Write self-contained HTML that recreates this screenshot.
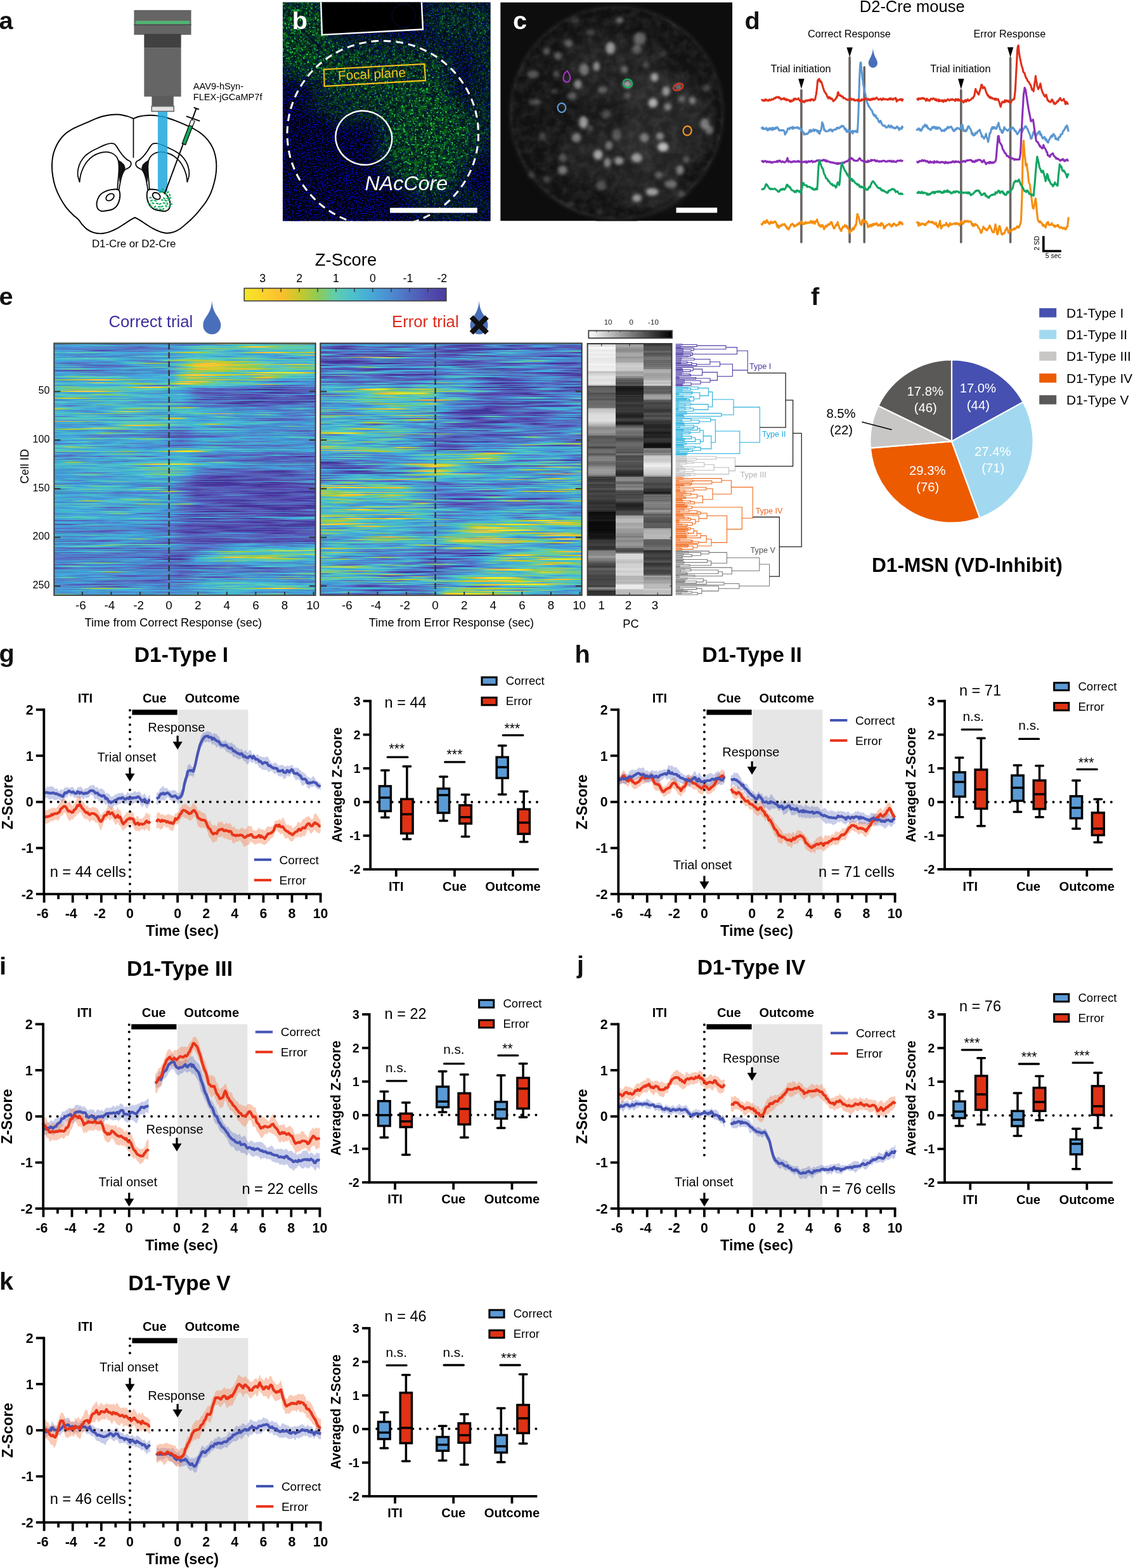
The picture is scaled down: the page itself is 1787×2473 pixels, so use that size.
<!DOCTYPE html>
<html lang="en"><head><meta charset="utf-8"><title>Figure</title>
<style>html,body{margin:0;padding:0;background:#fff}#fig{position:relative;width:1787px;height:2473px;overflow:hidden;background:#fff;font-family:'Liberation Sans',sans-serif}</style></head>
<body><div id="fig">
<style>.hm{position:absolute;overflow:hidden}.hm i{display:block;height:1.5344px}</style>
<div class="hm" style="left:85.3px;top:541.4px;width:412.3px;height:397.4px"><i style="background:linear-gradient(90deg,#5bc,#6ca,#7c8,#6c9,#6ca,#5cb,#5bc,#4bc,#5bc,#5bc,#5bc,#4bc,#5bc,#5cb,#5cb,#5cb,#5cb,#5cc,#5cb,#5cb,#7c7,#fc3,#fd3,#cc3,#8c5,#7c8,#5cb,#5cb,#6c9,#9c5,#9c4,#bc3,#ac4,#8c5)"></i><i style="background:linear-gradient(90deg,#55a,#55b,#57b,#58c,#49c,#48c,#56b,#55a,#54a,#55b,#57b,#57c,#57b,#56b,#56b,#56b,#55b,#55b,#55b,#55b,#56b,#58c,#4ad,#4bc,#5cb,#5cb,#4bc,#4ac,#4ad,#4ad,#49c,#58c,#57b,#48c)"></i><i style="background:linear-gradient(90deg,#4bc,#4ac,#4ad,#4ad,#4ad,#4bc,#4bc,#4bc,#4ad,#49c,#49c,#49c,#49d,#4ad,#4ad,#49c,#48c,#58c,#49d,#4bc,#4bc,#4ac,#4ac,#4bc,#5bc,#5cc,#5cb,#6ca,#7c8,#6c9,#7c7,#6c9,#5cb,#5bc)"></i><i style="background:linear-gradient(90deg,#58c,#49c,#49d,#4ad,#49d,#58c,#58c,#58c,#48c,#58c,#57c,#56b,#58c,#49c,#4ad,#4ad,#4bc,#5cb,#6ca,#6ca,#6ca,#5cb,#5cb,#6c9,#cc2,#fc3,#fc3,#dc3,#8c5,#6ca,#5cb,#5cb,#5cb,#5cc)"></i><i style="background:linear-gradient(90deg,#48c,#57c,#57c,#57c,#58c,#58c,#48c,#57c,#57c,#56b,#56b,#55b,#56b,#57b,#57c,#58c,#49c,#4ad,#4bc,#4bc,#4bc,#4ad,#4ac,#4bc,#5ca,#7c8,#7c8,#5cb,#5cb,#5cb,#5cb,#5cb,#5cc,#4bc)"></i><i style="background:linear-gradient(90deg,#48c,#48c,#48c,#58c,#58c,#58c,#48c,#49c,#48c,#57c,#56b,#57b,#57c,#57c,#57c,#49c,#4ad,#4bc,#5ca,#7c7,#8c7,#8c6,#7c7,#6c9,#5cb,#5bc,#5cb,#6ca,#7c8,#6ca,#6c9,#6c9,#6c9,#5cb)"></i><i style="background:linear-gradient(90deg,#48c,#57c,#57c,#56b,#56b,#57b,#57c,#56b,#56b,#56b,#57c,#58c,#48c,#57c,#57b,#56b,#57c,#58c,#49c,#49c,#49d,#4bc,#4bc,#4bc,#4bc,#4ad,#4bc,#4ad,#4bc,#4bc,#4bc,#4ad,#4ad,#4ad)"></i><i style="background:linear-gradient(90deg,#4ad,#4ad,#4ad,#4ad,#49c,#55b,#54a,#55b,#57c,#48c,#58c,#58c,#58c,#49c,#49d,#4ad,#4ad,#4ad,#4bc,#5cb,#6c9,#6ca,#4bc,#49d,#4ad,#5bc,#6ca,#5cb,#5bc,#4bc,#5bc,#5bc,#5cb,#5cb)"></i><i style="background:linear-gradient(90deg,#4ad,#49c,#58c,#57c,#58c,#49c,#49c,#49c,#48c,#57c,#56b,#56b,#57c,#58c,#49d,#4bc,#5bc,#5cb,#6c9,#5cb,#4bc,#4ad,#49d,#49d,#49c,#4ad,#4ad,#4bc,#4bc,#4bc,#4bc,#4bc,#4bc,#5cb)"></i><i style="background:linear-gradient(90deg,#5cb,#4bc,#5cc,#5cb,#5ca,#5cb,#5bc,#4bc,#4ad,#4ad,#4ad,#4ad,#4ad,#4bc,#5bc,#6c9,#ac4,#cc2,#cc3,#8c5,#6ca,#5bc,#5bc,#5bc,#7c8,#bc3,#fb3,#fc3,#fc3,#dc3,#9c4,#ac4,#bc3,#eb3)"></i><i style="background:linear-gradient(90deg,#49d,#49c,#49d,#4ad,#49d,#49c,#48c,#49d,#4ad,#4ad,#4ad,#49d,#4ad,#4ad,#49d,#49c,#49c,#4ad,#4bc,#5cb,#5cb,#5cc,#4bc,#4bc,#4bc,#4bc,#4ad,#4ad,#4bc,#4bc,#4bc,#4ad,#4ad,#4ad)"></i><i style="background:linear-gradient(90deg,#49d,#49c,#49c,#58c,#48c,#48c,#49d,#4ad,#4ad,#49c,#58c,#58c,#48c,#49d,#49d,#49d,#4ad,#4ad,#4bc,#4bc,#4bc,#5bc,#4bc,#4ad,#49c,#49c,#49c,#4ad,#4ac,#5bc,#5cb,#5cb,#5cb,#4bc)"></i><i style="background:linear-gradient(90deg,#4ad,#48c,#57c,#48c,#4ad,#4ac,#4ad,#49c,#57c,#57c,#57c,#49c,#4ad,#4ad,#49c,#48c,#4ad,#4bc,#5bc,#4bc,#4bc,#5bc,#5cb,#5bc,#4bc,#4bc,#4bc,#49d,#58c,#57c,#4ac,#8c6,#eb3,#dc3)"></i><i style="background:linear-gradient(90deg,#4bc,#4ad,#4ad,#48c,#58c,#58c,#48c,#48c,#48c,#49c,#4ac,#5bc,#5bc,#5cb,#5cb,#5bc,#5bc,#4bc,#4bc,#4bc,#4ad,#49c,#49c,#4ad,#4bc,#5bc,#4bc,#4ad,#49d,#4bc,#4bc,#4bc,#4ad,#49d)"></i><i style="background:linear-gradient(90deg,#48c,#48c,#58c,#48c,#48c,#48c,#58c,#48c,#48c,#49c,#48c,#49c,#49d,#4ad,#49c,#57c,#48c,#4ad,#5bc,#5cb,#5bc,#4bc,#4ad,#4bc,#4bc,#4bc,#4ad,#4ad,#4ad,#4ad,#49d,#49d,#4ad,#4ad)"></i><i style="background:linear-gradient(90deg,#4bc,#4bc,#5bc,#5bc,#5cc,#5bc,#5cb,#5bc,#4bc,#4ad,#49c,#58c,#58c,#48c,#49c,#4ad,#4bc,#5cb,#5cc,#5bc,#5cc,#5cb,#5ca,#7c8,#8c6,#7c8,#5cb,#4bc,#49d,#58c,#56b,#58c,#49d,#4bc)"></i><i style="background:linear-gradient(90deg,#4bc,#5cc,#5cb,#5cb,#5cc,#5cb,#5cb,#5cb,#4bc,#4bc,#4bc,#4bc,#4bc,#4bc,#4ad,#4ac,#5cb,#7c8,#6c9,#5cb,#5cb,#5cb,#5cb,#6c9,#6ca,#6ca,#6ca,#7c7,#8c6,#6c9,#5cb,#5cb,#6ca,#6ca)"></i><i style="background:linear-gradient(90deg,#4ad,#4ad,#4ac,#4ad,#49d,#49c,#4ad,#4bc,#4ac,#49d,#48c,#58c,#48c,#4ad,#5cb,#7c8,#bc3,#9c5,#ac4,#9c5,#8c7,#5cb,#4ac,#4ad,#4bc,#4ad,#4ad,#4ad,#4bc,#4bc,#4bc,#4ad,#4ad,#4ad)"></i><i style="background:linear-gradient(90deg,#49d,#4ad,#4ad,#4ad,#4ad,#4ad,#4ad,#4ac,#4ad,#49d,#58c,#57b,#58c,#49d,#7c8,#9c5,#6c9,#9c5,#dc3,#eb3,#dc3,#bc3,#9c5,#8c6,#8c6,#7c8,#5cb,#4ac,#49d,#4ad,#5bc,#6ca,#5cb,#4bc)"></i><i style="background:linear-gradient(90deg,#4ad,#49d,#48c,#58c,#58c,#58c,#57c,#57c,#49c,#4bc,#4bc,#4ad,#57c,#57b,#56b,#57c,#49d,#5bc,#6c9,#8c6,#9c5,#bc3,#bc3,#bc3,#ac4,#8c6,#6c9,#5cb,#5cb,#5bc,#4bc,#4bc,#4bc,#5cc)"></i><i style="background:linear-gradient(90deg,#58c,#56b,#56b,#56b,#57c,#49c,#49c,#49c,#49d,#4bc,#5cb,#7c8,#9c5,#8c5,#6c9,#4bc,#5bc,#6c9,#cc2,#fb3,#fc3,#eb3,#bc3,#7c7,#5ca,#6ca,#5cb,#5cc,#4ad,#4ad,#4ad,#4ad,#4ad,#4bc)"></i><i style="background:linear-gradient(90deg,#5bc,#4bc,#49d,#49c,#48c,#4ad,#4ad,#4ad,#49c,#49d,#49c,#48c,#57c,#57c,#49c,#4bc,#8c6,#cc2,#fb3,#fb3,#db3,#cc2,#cc3,#cc2,#dc3,#dc3,#dc3,#cc2,#cc2,#eb3,#fc3,#fc3,#fb3,#bc3)"></i><i style="background:linear-gradient(90deg,#49c,#49c,#48c,#57c,#56b,#55b,#55b,#56b,#57c,#48c,#4ad,#4bc,#4bc,#4bc,#4bc,#5bc,#7c7,#bc3,#fb3,#fc3,#fc3,#fc3,#eb3,#dc3,#ac4,#9c5,#7c8,#6ca,#5cb,#6c9,#7c7,#8c6,#6c9,#5cb)"></i><i style="background:linear-gradient(90deg,#4bc,#5cb,#5cb,#5bc,#4ad,#4ad,#48c,#57b,#55b,#56b,#56b,#57c,#57c,#48c,#48c,#49c,#5cb,#cc3,#fd3,#fc3,#eb3,#bc3,#9c5,#8c6,#9c5,#8c5,#8c5,#7c8,#5cb,#5bc,#4ac,#4ac,#4bc,#5bc)"></i><i style="background:linear-gradient(90deg,#48c,#49c,#49c,#58c,#56b,#56b,#56b,#57c,#57c,#48c,#49c,#4ad,#4bc,#6c9,#5cb,#48c,#4ad,#5cb,#bc3,#dc3,#dc3,#cc3,#ac4,#9c5,#9c4,#9c4,#7c8,#5bc,#5bc,#6ca,#9c5,#9c4,#8c5,#7c8)"></i><i style="background:linear-gradient(90deg,#4ad,#4ad,#49c,#49d,#4ad,#4ad,#4ad,#4ac,#4bc,#5cb,#5cc,#5bc,#4ad,#48c,#49c,#7c8,#db3,#ac4,#bc3,#bc3,#cc2,#dc3,#cc3,#bc3,#9c4,#9c4,#8c5,#7c7,#6c9,#5cb,#5cb,#5bc,#5cb,#5ca)"></i><i style="background:linear-gradient(90deg,#4ad,#5bc,#6ca,#7c8,#5bc,#4ad,#49c,#49d,#49d,#4ad,#49c,#49c,#49c,#49c,#49d,#4ad,#5cb,#9c5,#eb3,#eb3,#dc3,#cc3,#cc3,#dc3,#eb3,#dc3,#bc3,#8c5,#6c9,#6ca,#6c9,#7c7,#7c7,#8c6)"></i><i style="background:linear-gradient(90deg,#56b,#57b,#56b,#57b,#57b,#57c,#57c,#58c,#57c,#57b,#56b,#56b,#57c,#49c,#5bc,#6ca,#8c6,#8c6,#bc3,#dc3,#cc3,#bc3,#8c5,#8c7,#7c8,#5cb,#5bc,#4bc,#4bc,#5cc,#5cb,#5cb,#5bc,#4bc)"></i><i style="background:linear-gradient(90deg,#56b,#55b,#55b,#54a,#55a,#55a,#56b,#48c,#49c,#49c,#48c,#49d,#49c,#48c,#57c,#57c,#4ad,#5cb,#8c6,#8c6,#9c4,#bc3,#9c4,#7c8,#5bc,#4bc,#4bc,#5bc,#5cb,#5cb,#4bc,#4ad,#4ad,#49c)"></i><i style="background:linear-gradient(90deg,#4ad,#4ad,#4bc,#4bc,#4bc,#4ac,#4ad,#4ad,#4ad,#4ad,#4ad,#4bc,#4ad,#49d,#49c,#49d,#5cb,#8c5,#bc3,#ac4,#9c4,#9c5,#8c5,#8c6,#7c8,#5cb,#4bc,#5bc,#5cb,#7c8,#6ca,#5cb,#5bc,#4bc)"></i><i style="background:linear-gradient(90deg,#4ad,#4ad,#49d,#58c,#57c,#57c,#57c,#57c,#48c,#49c,#49c,#49c,#49c,#57c,#57c,#58c,#5bc,#8c6,#9c4,#6c9,#5cb,#4bc,#4bc,#4bc,#6ca,#bc3,#ed2,#ee2,#ee2,#ee2,#ee2,#fd2,#eb3,#ac4)"></i><i style="background:linear-gradient(90deg,#4ad,#4ad,#4ad,#4bc,#5cc,#5cb,#4bc,#49c,#57c,#56b,#56b,#58c,#49d,#4ad,#49d,#49c,#4ad,#5bc,#5cb,#5cb,#5cb,#5cb,#5cb,#4bc,#4ac,#4bc,#4ad,#4ac,#4ad,#4bc,#5cb,#5ca,#5cb,#4bc)"></i><i style="background:linear-gradient(90deg,#49c,#49d,#4ad,#49c,#48c,#57c,#58c,#58c,#49c,#49c,#49d,#4ad,#4ad,#4ac,#4ad,#5bc,#bc3,#fc3,#fc3,#fc3,#dc3,#cc2,#cc3,#cc3,#cc2,#dc3,#dc3,#cc3,#9c5,#8c6,#6c9,#6ca,#5cb,#4bc)"></i><i style="background:linear-gradient(90deg,#49c,#49d,#4bc,#4bc,#4bc,#4ad,#49c,#58c,#49c,#49d,#49d,#49c,#49d,#4ad,#5cc,#5ca,#cc2,#eb3,#fc3,#fb3,#fb3,#cc2,#9c4,#5cb,#4ac,#49d,#4ad,#5cb,#6c9,#5ca,#5bc,#5bc,#5bc,#4bc)"></i><i style="background:linear-gradient(90deg,#4bc,#5cb,#7c8,#7c7,#6ca,#5cb,#5bc,#5cb,#5cc,#4bc,#4ad,#4ad,#4ad,#4bc,#4ad,#4ad,#6c9,#8c7,#8c6,#5cb,#5cb,#4bc,#4bc,#5bc,#5cb,#6c9,#8c5,#bc3,#9c4,#6c9,#4bc,#4bc,#4ad,#4ad)"></i><i style="background:linear-gradient(90deg,#4ad,#4ad,#4bc,#5bc,#5cb,#6c9,#5cb,#5cb,#5bc,#5bc,#4ac,#4ad,#4ad,#4ad,#4ad,#4ad,#7c7,#cc3,#eb3,#cc3,#9c4,#8c6,#6c9,#5cb,#5bc,#8c6,#fb3,#eb3,#8c5,#5cb,#5cb,#5cb,#5cb,#5cc)"></i><i style="background:linear-gradient(90deg,#56b,#57c,#48c,#49d,#49c,#49c,#58c,#48c,#49c,#49d,#4ad,#4ad,#4bc,#5bc,#4ac,#49c,#5cc,#6c9,#7c8,#4bc,#4ad,#49c,#4ad,#4bc,#4ad,#48c,#57b,#57c,#58c,#48c,#58c,#57c,#56b,#55b)"></i><i style="background:linear-gradient(90deg,#7c8,#8c5,#ac4,#bc3,#eb3,#fc3,#fc3,#dc3,#ac4,#8c6,#7c7,#6ca,#5bc,#4bc,#4bc,#4bc,#6ca,#8c6,#8c5,#ac4,#bc3,#cc3,#ac4,#8c5,#8c6,#9c5,#9c5,#6ca,#4bc,#4ad,#4ad,#4bc,#4bc,#4bc)"></i><i style="background:linear-gradient(90deg,#49c,#49c,#49c,#49c,#49c,#4ad,#5bc,#5cb,#4bc,#49c,#58c,#57c,#58c,#49c,#4ad,#4ad,#5bc,#5cb,#6ca,#5ca,#4bc,#4ad,#49c,#49c,#49c,#4bc,#4bc,#5bc,#4ad,#49d,#49d,#49d,#49c,#48c)"></i><i style="background:linear-gradient(90deg,#4ad,#49d,#49d,#4ad,#4ad,#49d,#49d,#49d,#4ad,#4bc,#4bc,#4ad,#4ad,#4ad,#4bc,#5ca,#cc3,#fb3,#fb3,#dc3,#7c7,#5cb,#4bc,#4bc,#4ad,#4ad,#49c,#57b,#55b,#55b,#56b,#57c,#48c,#58c)"></i><i style="background:linear-gradient(90deg,#4bc,#5bc,#5bc,#5bc,#6ca,#fb3,#fd2,#bc3,#6ca,#5cc,#5bc,#4ad,#4bc,#4ac,#4bc,#4bc,#5cb,#6c9,#9c4,#9c4,#8c6,#6c9,#7c7,#9c4,#8c6,#5cb,#4ad,#49d,#4ad,#4ad,#4ad,#4ad,#49d,#49d)"></i><i style="background:linear-gradient(90deg,#5cb,#5bc,#4bc,#4bc,#4bc,#5cb,#5cb,#5cb,#5cb,#7c8,#9c4,#9c4,#8c6,#6ca,#5cb,#bc3,#fd2,#fc3,#bc3,#7c8,#6ca,#5cb,#5bc,#5cb,#5cb,#5ca,#5bc,#5bc,#4bc,#4bc,#4bc,#4ad,#49d,#48c)"></i><i style="background:linear-gradient(90deg,#4bc,#4bc,#4bc,#4bc,#4ad,#49d,#4ad,#4ad,#4bc,#5bc,#6ca,#7c7,#8c6,#6c9,#5ca,#5cb,#8c5,#ac4,#9c4,#7c7,#5cb,#5bc,#5bc,#5bc,#5cb,#7c8,#cc2,#eb3,#9c4,#5bc,#4ad,#49d,#49c,#49d)"></i><i style="background:linear-gradient(90deg,#49d,#49c,#49c,#4ad,#4ad,#4ad,#4ad,#49d,#49d,#4ad,#4ad,#49c,#57b,#56b,#56b,#57c,#4ad,#4bc,#5cb,#5cb,#5cb,#5cb,#5cb,#4bc,#4ac,#49d,#57c,#56b,#55b,#56b,#55b,#56b,#57c,#48c)"></i><i style="background:linear-gradient(90deg,#7c8,#9c4,#6ca,#5bc,#4bc,#4bc,#4bc,#5cb,#6ca,#6ca,#5cb,#4bc,#4bc,#5cb,#6c9,#7c7,#7c7,#5cb,#4bc,#4ad,#4ad,#49d,#49c,#58c,#57c,#48c,#49c,#4ad,#49d,#49c,#49c,#4ad,#4bc,#4ad)"></i><i style="background:linear-gradient(90deg,#4bc,#5ca,#8c6,#7c7,#5cb,#5cb,#5cb,#5cb,#5cb,#7c7,#bc3,#fc3,#fc3,#fc3,#bc3,#6ca,#4bc,#4ac,#4ad,#4ad,#4bc,#4ad,#49c,#58c,#57c,#57c,#56b,#54a,#54a,#54a,#55b,#55b,#56b,#55b)"></i><i style="background:linear-gradient(90deg,#5cb,#5bc,#4bc,#5cb,#6ca,#6c9,#6ca,#5cb,#5cb,#5bc,#5bc,#5bc,#5cc,#5cb,#6c9,#6ca,#4bc,#58c,#55a,#55a,#56b,#56b,#56b,#57c,#48c,#49d,#49d,#49c,#48c,#48c,#58c,#48c,#57c,#57c)"></i><i style="background:linear-gradient(90deg,#4bc,#6ca,#8c5,#8c5,#8c5,#7c8,#8c6,#7c7,#7c8,#5cb,#5cb,#6ca,#5ca,#5cb,#4bc,#4bc,#4bc,#4ad,#57c,#56b,#56b,#55b,#56b,#55b,#54a,#439,#439,#439,#449,#54a,#55b,#55b,#55a,#55a)"></i><i style="background:linear-gradient(90deg,#5cc,#5bc,#4ad,#4ac,#4bc,#4bc,#4ad,#4ad,#4ad,#4ad,#4bc,#5cc,#5cb,#5cb,#4bc,#49d,#48c,#57c,#56b,#55b,#55a,#54a,#54a,#54a,#54a,#54a,#54a,#449,#439,#44a,#55a,#56b,#57b,#56b)"></i><i style="background:linear-gradient(90deg,#6c9,#9c4,#dc3,#fc3,#fc3,#fc3,#dc3,#ac4,#8c6,#6ca,#5cb,#4bc,#4ad,#49d,#49c,#49d,#49d,#48c,#57b,#57c,#57c,#57c,#57c,#57c,#48c,#49d,#4ad,#49c,#57c,#56b,#55a,#55a,#55b,#56b)"></i><i style="background:linear-gradient(90deg,#5cc,#5bc,#4bc,#5bc,#5cc,#5cb,#5cb,#5bc,#4ad,#49c,#49c,#4ad,#5cb,#5cb,#4bc,#4ad,#49c,#57c,#55b,#55a,#57b,#57c,#58c,#56b,#55a,#449,#439,#439,#449,#55b,#56b,#57c,#48c,#48c)"></i><i style="background:linear-gradient(90deg,#4ad,#4ad,#49d,#49c,#49c,#49c,#49d,#4ac,#5bc,#4bc,#4ad,#49c,#49c,#58c,#48c,#49c,#49c,#57c,#55a,#54a,#54a,#54a,#55b,#57b,#48c,#57c,#56b,#44a,#439,#439,#439,#44a,#55b,#57c)"></i><i style="background:linear-gradient(90deg,#5cb,#6ca,#5bc,#4bc,#4bc,#7c8,#9c4,#8c5,#5cb,#5bc,#4bc,#4bc,#4ad,#4ad,#4bc,#5bc,#5cc,#4ad,#57c,#56b,#56b,#56b,#56b,#55a,#54a,#54a,#55b,#57b,#58c,#58c,#58c,#48c,#49d,#4ad)"></i><i style="background:linear-gradient(90deg,#4bc,#5cb,#5cb,#5cb,#5cb,#5cb,#5cb,#7c7,#9c5,#8c5,#5cb,#5bc,#4bc,#4ad,#49d,#49d,#4ad,#49c,#57b,#56b,#54a,#439,#439,#55a,#55b,#55b,#54a,#54a,#55a,#56b,#56b,#55a,#54a,#439)"></i><i style="background:linear-gradient(90deg,#4ad,#4bc,#5cb,#6c9,#5cb,#5bc,#4ad,#4ad,#4ad,#4bc,#4bc,#5cb,#5bc,#5bc,#4bc,#4bc,#4ad,#49c,#58c,#57c,#58c,#48c,#58c,#56b,#55a,#55a,#55b,#57b,#57c,#58c,#56b,#54a,#449,#449)"></i><i style="background:linear-gradient(90deg,#4ad,#4bc,#4ad,#49c,#48c,#49c,#49d,#49d,#49c,#49c,#49d,#4ad,#4bc,#4bc,#4ad,#49d,#4ac,#4ad,#57c,#54a,#439,#439,#449,#44a,#54a,#54a,#54a,#449,#44a,#54a,#55a,#55b,#55b,#56b)"></i><i style="background:linear-gradient(90deg,#8c6,#bc3,#dc3,#cc2,#ac4,#6c9,#5cb,#5cb,#5cb,#5cb,#4bc,#4ad,#4ad,#4ad,#4bc,#4bc,#4bc,#4ad,#49c,#58c,#57c,#56b,#57b,#56b,#55b,#449,#44a,#54a,#56b,#56b,#56b,#56b,#55b,#54a)"></i><i style="background:linear-gradient(90deg,#4ad,#4bc,#4bc,#4ad,#49d,#49c,#49c,#48c,#48c,#48c,#48c,#58c,#57c,#58c,#48c,#4ad,#4ad,#48c,#54a,#439,#439,#439,#439,#439,#439,#439,#439,#439,#54a,#54a,#54a,#439,#439,#449)"></i><i style="background:linear-gradient(90deg,#48c,#48c,#49d,#4ad,#4ad,#4bc,#4bc,#4bc,#5cb,#5bc,#5bc,#4ad,#4ac,#4ad,#4bc,#4ac,#4ad,#48c,#56b,#55b,#56b,#57b,#57c,#48c,#58c,#48c,#58c,#58c,#56b,#56b,#56b,#57b,#57c,#57c)"></i><i style="background:linear-gradient(90deg,#4bc,#4ad,#4ac,#5bc,#6c9,#8c6,#7c8,#5cb,#5cb,#6ca,#6ca,#4bc,#4ad,#49d,#4ad,#4ad,#5cc,#5cc,#4bc,#4ad,#48c,#57c,#58c,#58c,#56b,#55a,#449,#54a,#55b,#56b,#55b,#55a,#55a,#56b)"></i><i style="background:linear-gradient(90deg,#5bc,#5cc,#4bc,#4ad,#49d,#49c,#49d,#4ad,#4ad,#4ad,#48c,#58c,#57c,#58c,#48c,#49c,#57c,#56b,#55a,#56b,#57c,#57c,#56b,#54a,#439,#439,#439,#54a,#44a,#44a,#439,#449,#449,#439)"></i><i style="background:linear-gradient(90deg,#5cb,#5cb,#5bc,#4bc,#4bc,#5bc,#5cb,#5cb,#5cb,#5bc,#5bc,#4bc,#4ad,#49c,#48c,#57c,#57c,#57c,#57c,#57c,#56b,#54a,#449,#44a,#55a,#56b,#57c,#56b,#55a,#54a,#56b,#58c,#49c,#4ad)"></i><i style="background:linear-gradient(90deg,#49d,#4ad,#49d,#49c,#49c,#4ad,#4bc,#4bc,#4ad,#49c,#49d,#4ad,#4bc,#5cb,#6c9,#7c8,#5cb,#4ad,#48c,#57c,#57c,#55a,#54a,#439,#439,#55a,#56b,#55b,#55a,#54a,#54a,#55b,#57c,#57c)"></i><i style="background:linear-gradient(90deg,#4bc,#4bc,#4bc,#4bc,#5bc,#5ca,#7c7,#9c5,#7c8,#5cb,#5cb,#5cb,#5ca,#5cb,#5bc,#4ad,#49d,#49c,#4ad,#4bc,#4bc,#4bc,#4bc,#4bc,#4ad,#48c,#57c,#57c,#48c,#49c,#49d,#49c,#58c,#57b)"></i><i style="background:linear-gradient(90deg,#4ad,#58c,#56b,#58c,#49c,#4ad,#49d,#4ad,#4bc,#4bc,#4ad,#49c,#49c,#49c,#49d,#49c,#49c,#48c,#57c,#56b,#55b,#55b,#55b,#55b,#54a,#54a,#54a,#55b,#57b,#58c,#48c,#58c,#58c,#57c)"></i><i style="background:linear-gradient(90deg,#49d,#4ad,#4ad,#4bc,#5cb,#5cb,#5bc,#4ad,#4ad,#4bc,#4bc,#4bc,#4ad,#49d,#49c,#48c,#57c,#56b,#56b,#56b,#57c,#57c,#48c,#49c,#58c,#57c,#57c,#48c,#49d,#49d,#49c,#57b,#55a,#54a)"></i><i style="background:linear-gradient(90deg,#5cb,#5cb,#5bc,#4bc,#4ac,#4ad,#49d,#4ac,#4bc,#5cb,#5cb,#6ca,#6ca,#7c8,#6ca,#7c7,#ac4,#bc3,#5cb,#49d,#48c,#48c,#58c,#48c,#49c,#4ad,#48c,#57c,#57b,#58c,#48c,#49c,#49c,#48c)"></i><i style="background:linear-gradient(90deg,#cc3,#ac4,#5ca,#5bc,#4ad,#4ad,#49d,#4ac,#5cb,#7c7,#9c4,#8c6,#6c9,#5cb,#5cb,#5cb,#5cb,#4bc,#4ac,#4ac,#4bc,#4bc,#4ad,#48c,#58c,#57c,#57c,#57c,#48c,#4ad,#4bc,#5cb,#4bc,#49d)"></i><i style="background:linear-gradient(90deg,#58c,#49c,#49d,#4ad,#4ad,#4ad,#4ad,#4ad,#49d,#48c,#58c,#57c,#58c,#49c,#49c,#49c,#49c,#4ad,#4ad,#4ad,#49c,#58c,#57b,#56b,#56b,#57b,#57b,#56b,#55a,#55a,#55a,#55b,#55b,#56b)"></i><i style="background:linear-gradient(90deg,#4bc,#4ad,#49c,#58c,#48c,#49d,#4bc,#5bc,#5cb,#5cb,#5ca,#5cb,#5bc,#4bc,#5bc,#5cb,#5cb,#5cc,#4bc,#4bc,#4bc,#4ac,#49d,#48c,#49c,#49d,#4ad,#49d,#48c,#57c,#58c,#49c,#48c,#58c)"></i><i style="background:linear-gradient(90deg,#5bc,#4bc,#4ac,#49d,#48c,#48c,#49d,#5cb,#cc3,#fd3,#fc3,#ac4,#5cb,#4bc,#4ac,#4bc,#4bc,#4bc,#4ad,#49d,#49c,#4ad,#4ac,#4ac,#49c,#48c,#58c,#58c,#48c,#48c,#48c,#48c,#58c,#57b)"></i><i style="background:linear-gradient(90deg,#4bc,#5bc,#4bc,#4bc,#4ad,#49d,#49c,#4ad,#4bc,#4bc,#4bc,#4ad,#49c,#48c,#49c,#4ac,#5cb,#5ca,#5cb,#4bc,#4ad,#49d,#49d,#49c,#49c,#4ad,#4bc,#5bc,#4bc,#49c,#58c,#57c,#58c,#56b)"></i><i style="background:linear-gradient(90deg,#5cc,#5cb,#5ca,#8c7,#9c5,#9c4,#ac4,#ac4,#9c4,#7c7,#5cb,#5bc,#4bc,#4bc,#4ac,#4ad,#4ad,#5bc,#7c8,#bc3,#eb3,#fb3,#dc3,#7c7,#4bc,#48c,#57c,#56b,#56b,#55b,#56b,#49c,#4bc,#4bc)"></i><i style="background:linear-gradient(90deg,#4ad,#4bc,#4ad,#4ac,#4ad,#4ad,#49d,#49c,#48c,#49c,#49d,#49c,#48c,#48c,#49c,#49d,#4ad,#4ac,#4bc,#4ac,#4ad,#49d,#4ad,#49c,#4ad,#4bc,#6ca,#6ca,#4ad,#48c,#58c,#48c,#58c,#58c)"></i><i style="background:linear-gradient(90deg,#5bc,#5bc,#4bc,#5cb,#5cb,#5ca,#4bc,#4bc,#4bc,#5cb,#5cb,#6ca,#6c9,#7c7,#6c9,#5cb,#4ad,#4ad,#4ac,#4ac,#4ad,#58c,#58c,#58c,#48c,#58c,#48c,#49c,#4ad,#48c,#56b,#55b,#55b,#55b)"></i><i style="background:linear-gradient(90deg,#48c,#48c,#49d,#4bc,#5cb,#5bc,#4bc,#49d,#48c,#57c,#49c,#4ad,#5bc,#4bc,#4ad,#49c,#49c,#48c,#49c,#49d,#4bc,#6c9,#4bc,#48c,#58c,#48c,#49c,#49c,#48c,#58c,#57c,#58c,#4ad,#5bc)"></i><i style="background:linear-gradient(90deg,#5cb,#6c9,#5cb,#4bc,#4ad,#4ad,#4bc,#5cb,#5cb,#5cb,#5cb,#5cb,#5cb,#5ca,#7c8,#7c7,#6ca,#5bc,#4ad,#4ad,#4ad,#5cb,#5ca,#5cb,#4ad,#4ad,#4ad,#4bc,#4bc,#4bc,#4ad,#4ac,#4ad,#4ad)"></i><i style="background:linear-gradient(90deg,#4bc,#5cb,#5cb,#5cb,#5cb,#5cb,#5cb,#5cb,#5cb,#5cb,#5cb,#5cb,#4bc,#5bc,#7c7,#eb3,#bc3,#4bc,#4ad,#49c,#49c,#49c,#49c,#49c,#48c,#58c,#56b,#56b,#56b,#56b,#57c,#57c,#58c,#48c)"></i><i style="background:linear-gradient(90deg,#5bc,#5cb,#5cb,#5cb,#5bc,#4bc,#49d,#4ad,#4ad,#5bc,#5bc,#4bc,#4ad,#49d,#4bc,#5bc,#4bc,#4bc,#4bc,#5bc,#5cc,#4bc,#49d,#49c,#49c,#4ad,#49c,#58c,#56b,#55b,#55a,#55b,#57c,#58c)"></i><i style="background:linear-gradient(90deg,#49d,#49d,#49d,#49d,#49d,#4ad,#49d,#49d,#49c,#49d,#49d,#49d,#49c,#49d,#4ad,#4ad,#4ad,#4ad,#49d,#48c,#49d,#4ad,#4ac,#4ad,#49c,#57c,#56b,#55b,#55b,#56b,#56b,#57c,#48c,#49d)"></i><i style="background:linear-gradient(90deg,#fc3,#eb3,#dc3,#ac4,#ac4,#8c6,#7c8,#5cb,#5bc,#5cb,#6c9,#7c8,#5cb,#5cc,#5bc,#5cb,#4bc,#4ad,#49c,#4ad,#4ad,#4bc,#5bc,#5bc,#4bc,#4ad,#4ad,#4ac,#4bc,#4ac,#4ad,#49c,#48c,#58c)"></i><i style="background:linear-gradient(90deg,#49c,#4ad,#4ad,#4bc,#49c,#49d,#4ad,#5cb,#5cb,#6ca,#6ca,#6c9,#6ca,#6c9,#5cb,#5bc,#4bc,#4bc,#4bc,#4ad,#4bc,#5bc,#4bc,#4bc,#4ad,#4ac,#4bc,#5bc,#4bc,#4ad,#49d,#49d,#49c,#49c)"></i><i style="background:linear-gradient(90deg,#4ac,#4bc,#4bc,#5bc,#4bc,#5bc,#4bc,#4ad,#4ac,#5bc,#5ca,#5cb,#4bc,#4ad,#49c,#49d,#49c,#4ad,#4ad,#4bc,#4bc,#4bc,#4bc,#4bc,#5bc,#5cb,#5cb,#4bc,#49c,#48c,#49c,#4ad,#4ad,#4ad)"></i><i style="background:linear-gradient(90deg,#49d,#49c,#49c,#49c,#49c,#48c,#48c,#4ad,#5bc,#5cb,#5cb,#5cb,#7c8,#8c6,#7c7,#6ca,#5bc,#4bc,#5cb,#8c5,#dc3,#8c5,#5bc,#4ad,#4bc,#4bc,#4ad,#49d,#48c,#58c,#58c,#48c,#4ad,#4ac)"></i><i style="background:linear-gradient(90deg,#4ad,#49d,#49d,#4ad,#4ad,#49c,#49c,#4ad,#5cb,#bc3,#fc3,#fb3,#cc2,#9c5,#6c9,#5cb,#5bc,#4bc,#4bc,#4bc,#4ad,#4ad,#4ad,#4ad,#49c,#48c,#58c,#49c,#49c,#49d,#49c,#48c,#58c,#58c)"></i><i style="background:linear-gradient(90deg,#49c,#57c,#48c,#49d,#4ac,#4bc,#4ad,#49c,#49c,#4ac,#4bc,#5cb,#5bc,#5bc,#4bc,#4ad,#4ad,#4bc,#4ad,#49c,#57c,#57c,#48c,#49d,#49c,#57c,#56b,#57c,#48c,#5cc,#9c5,#5cb,#4ad,#4ad)"></i><i style="background:linear-gradient(90deg,#4bc,#4ad,#4ad,#49d,#4ad,#5bc,#5ca,#7c8,#6c9,#5cb,#4bc,#4ad,#49d,#4ad,#49c,#58c,#57c,#48c,#4ad,#4ad,#48c,#57c,#56b,#56b,#57c,#48c,#49d,#49c,#48c,#48c,#48c,#49c,#49c,#48c)"></i><i style="background:linear-gradient(90deg,#49c,#49d,#4ad,#5cb,#bc3,#fc3,#fc3,#cc3,#6ca,#5bc,#4ad,#4ad,#49c,#49d,#49d,#49c,#58c,#48c,#4ad,#4ac,#4bc,#4bc,#4ad,#58c,#57c,#57c,#49c,#49d,#4ad,#49c,#58c,#57c,#58c,#49c)"></i><i style="background:linear-gradient(90deg,#5cb,#8c5,#bc3,#9c4,#7c8,#5cb,#5cc,#5cb,#6c9,#7c8,#5ca,#5cb,#5cc,#5bc,#5bc,#4bc,#4bc,#4bc,#5bc,#5bc,#5cb,#5cb,#5cb,#5bc,#4bc,#4ad,#49d,#48c,#58c,#48c,#49c,#49d,#49c,#4ad)"></i><i style="background:linear-gradient(90deg,#57c,#48c,#49c,#49c,#48c,#58c,#57c,#56b,#56b,#56b,#57c,#58c,#57c,#56b,#55a,#55a,#55a,#55b,#57c,#57c,#57c,#56b,#56b,#57c,#58c,#57c,#57c,#57c,#57c,#57c,#57c,#57b,#57b,#57b)"></i><i style="background:linear-gradient(90deg,#5bc,#4bc,#49c,#48c,#49c,#4ad,#4ad,#49c,#58c,#48c,#49d,#4ad,#49c,#48c,#57c,#57c,#56b,#57c,#49c,#4ad,#4ad,#4bc,#4bc,#4bc,#4ad,#49d,#49c,#49c,#58c,#57c,#56b,#55a,#55a,#57c)"></i><i style="background:linear-gradient(90deg,#49d,#49d,#4ad,#4bc,#4bc,#4bc,#4ad,#48c,#56b,#56b,#57b,#57c,#48c,#48c,#48c,#48c,#48c,#4ad,#5bc,#5cc,#5bc,#4bc,#4ad,#49c,#58c,#57c,#57c,#48c,#4ad,#4bc,#4bc,#4ad,#4ad,#4ad)"></i><i style="background:linear-gradient(90deg,#49c,#4bc,#4bc,#4ad,#4ad,#4bc,#7c7,#8c6,#6c9,#5cb,#5bc,#4ad,#57c,#57b,#56b,#56b,#55b,#56b,#57c,#48c,#49c,#49c,#49c,#49d,#49c,#48c,#49c,#48c,#49c,#49c,#48c,#58c,#57c,#57c)"></i><i style="background:linear-gradient(90deg,#4ad,#4bc,#5cb,#5bc,#5cb,#5cb,#5cb,#4bc,#4ad,#4ad,#4bc,#4bc,#4bc,#4ad,#4ad,#48c,#57b,#56b,#58c,#58c,#49c,#49c,#49d,#49c,#49d,#49d,#4ac,#4bc,#5bc,#4ad,#49c,#58c,#49c,#49d)"></i><i style="background:linear-gradient(90deg,#4ad,#4ad,#4ad,#49d,#58c,#57c,#58c,#58c,#58c,#57c,#56b,#56b,#56b,#56b,#56b,#57b,#56b,#57c,#49c,#48c,#58c,#57c,#58c,#48c,#49c,#58c,#58c,#58c,#48c,#49c,#49c,#49c,#58c,#56b)"></i><i style="background:linear-gradient(90deg,#48c,#49c,#49c,#49c,#48c,#58c,#57b,#57b,#57b,#57b,#57b,#57c,#58c,#58c,#56b,#55b,#54a,#54a,#54a,#54a,#56b,#58c,#48c,#58c,#58c,#57c,#48c,#48c,#48c,#48c,#58c,#57c,#56b,#56b)"></i><i style="background:linear-gradient(90deg,#4ad,#4ad,#4ad,#4ad,#49c,#58c,#57b,#57c,#58c,#48c,#49c,#48c,#48c,#57c,#56b,#55a,#55a,#55b,#56b,#56b,#55b,#56b,#57c,#49c,#4ad,#4ad,#4ad,#4ad,#4bc,#4bc,#5cb,#5bc,#4bc,#49d)"></i><i style="background:linear-gradient(90deg,#49d,#4ad,#4ad,#4ad,#49d,#4ad,#4ad,#4bc,#4ad,#4ad,#4ad,#49d,#58c,#56b,#55a,#55a,#55b,#56b,#57c,#49c,#49d,#4bc,#5bc,#5cb,#5bc,#4bc,#4ad,#49c,#49c,#49d,#4bc,#5cb,#5ca,#4bc)"></i><i style="background:linear-gradient(90deg,#4bc,#4bc,#4bc,#5cb,#6c9,#7c7,#5cb,#4bc,#4bc,#5cb,#7c8,#7c7,#8c6,#6c9,#5cb,#4ad,#49c,#49d,#4ad,#4bc,#4ad,#4ad,#49c,#4ad,#48c,#57c,#57c,#49d,#4ad,#49d,#48c,#48c,#49d,#49c)"></i><i style="background:linear-gradient(90deg,#4ad,#4ad,#4ad,#49d,#49d,#49c,#49c,#58c,#58c,#49c,#4ad,#5bc,#5bc,#4bc,#49d,#48c,#57c,#49c,#4ad,#4ad,#4ad,#4ad,#4ad,#4ac,#4bc,#4ad,#4ad,#49c,#49c,#48c,#48c,#58c,#58c,#58c)"></i><i style="background:linear-gradient(90deg,#49c,#48c,#48c,#49d,#4ad,#4bc,#4bc,#4bc,#4bc,#4bc,#4ad,#49d,#49c,#48c,#57c,#56b,#54a,#55a,#57b,#5bc,#7c8,#4bc,#48c,#57c,#57c,#58c,#58c,#48c,#49c,#4ad,#4ad,#49d,#49c,#58c)"></i><i style="background:linear-gradient(90deg,#48c,#4ad,#5cc,#5cb,#5cb,#4ac,#49d,#49d,#4ad,#4ad,#4ad,#4ad,#4ac,#4bc,#4ad,#48c,#57c,#58c,#49c,#49c,#48c,#48c,#58c,#48c,#58c,#58c,#57c,#58c,#49c,#4ad,#4ac,#4ad,#49d,#58c)"></i><i style="background:linear-gradient(90deg,#4ad,#4ad,#49d,#49d,#48c,#58c,#48c,#49d,#4bc,#4ac,#49d,#58c,#57c,#58c,#48c,#58c,#48c,#49d,#4bc,#4ad,#49c,#57c,#56b,#56b,#58c,#4bc,#6ca,#4bc,#49c,#48c,#48c,#58c,#57c,#57c)"></i><i style="background:linear-gradient(90deg,#57c,#57c,#48c,#49d,#4ad,#49d,#49d,#4ad,#4ad,#49c,#58c,#58c,#49d,#4ad,#4ad,#48c,#48c,#48c,#49d,#4ad,#4bc,#4bc,#4bc,#4bc,#4ac,#4ad,#49d,#49d,#4ad,#4ac,#4ad,#49d,#48c,#57c)"></i><i style="background:linear-gradient(90deg,#49c,#4ad,#5bc,#4bc,#4bc,#4ad,#4bc,#5cb,#5cb,#5cb,#5bc,#4ad,#49d,#58c,#57c,#57b,#56b,#56b,#56b,#56b,#56b,#57b,#57c,#48c,#48c,#58c,#48c,#48c,#58c,#56b,#56b,#56b,#48c,#58c)"></i><i style="background:linear-gradient(90deg,#6c9,#5cb,#5bc,#4bc,#5cb,#5cb,#5bc,#4ad,#49c,#49c,#4ad,#49d,#49c,#58c,#57c,#55b,#55b,#56b,#48c,#48c,#57b,#56b,#56b,#56b,#57b,#56b,#57b,#56b,#56b,#57b,#58c,#49c,#4ad,#49d)"></i><i style="background:linear-gradient(90deg,#5bc,#5cb,#dc3,#7c8,#49c,#56b,#56b,#57b,#58c,#49d,#4ad,#4ad,#48c,#58c,#48c,#49c,#4ad,#4ad,#4bc,#5cb,#5ca,#5cb,#4bc,#49d,#49d,#4ad,#49d,#58c,#57c,#57c,#49c,#4ad,#4ac,#4ad)"></i><i style="background:linear-gradient(90deg,#4bc,#5bc,#6c9,#7c8,#7c8,#5cb,#4bc,#4ad,#49c,#57c,#58c,#57c,#48c,#48c,#49c,#58c,#58c,#48c,#49d,#4ac,#4bc,#4ad,#49c,#57c,#57b,#57c,#48c,#49c,#49c,#49c,#49c,#49d,#49c,#57c)"></i><i style="background:linear-gradient(90deg,#49c,#49c,#4ad,#4ad,#4ad,#4ad,#4ad,#49d,#49c,#4ad,#49d,#4ad,#48c,#4ad,#4bc,#5ca,#8c5,#7c8,#5bc,#49d,#49c,#49d,#4ad,#4ad,#49c,#49c,#49c,#49c,#48c,#58c,#57b,#57b,#48c,#4ad)"></i><i style="background:linear-gradient(90deg,#5cb,#5cb,#4bc,#4ad,#4ad,#4ad,#4ad,#4bc,#4bc,#4bc,#4ad,#4ad,#49d,#4ad,#4ad,#4ad,#4ad,#4bc,#5bc,#5cb,#5cb,#4bc,#5bc,#5bc,#5bc,#4bc,#4ac,#4bc,#4bc,#5bc,#4bc,#4ad,#4ad,#4ad)"></i><i style="background:linear-gradient(90deg,#4bc,#4bc,#4bc,#4bc,#4bc,#4bc,#4ad,#49d,#49d,#4ad,#4bc,#4bc,#4bc,#4bc,#4bc,#5cb,#9c5,#cc2,#ac4,#5cb,#4bc,#4ad,#4ad,#49d,#49c,#48c,#49c,#48c,#49c,#49c,#4ad,#4ad,#4ad,#4ad)"></i><i style="background:linear-gradient(90deg,#5cb,#6ca,#7c8,#7c8,#6ca,#5cb,#5cb,#6ca,#6ca,#8c5,#7c7,#4bc,#4bc,#5ca,#9c4,#eb3,#fd2,#ee2,#fc3,#8c6,#4ad,#58c,#49c,#4ad,#4bc,#4bc,#4ad,#49c,#48c,#48c,#48c,#49c,#4ad,#4bc)"></i><i style="background:linear-gradient(90deg,#55b,#56b,#57c,#58c,#58c,#48c,#49c,#48c,#58c,#57b,#57b,#57b,#57c,#49c,#4ad,#4bc,#4bc,#4bc,#49c,#49c,#49c,#48c,#57c,#56b,#57b,#56b,#56b,#55b,#57b,#57c,#49c,#58c,#57c,#55b)"></i><i style="background:linear-gradient(90deg,#4bc,#4ac,#49d,#48c,#48c,#49d,#4ad,#4bc,#4bc,#4bc,#4ad,#4ad,#4ad,#4ad,#4ad,#4ad,#4ad,#49c,#58c,#48c,#49c,#49c,#48c,#48c,#48c,#48c,#57c,#56b,#56b,#56b,#56b,#57b,#57c,#57c)"></i><i style="background:linear-gradient(90deg,#4ad,#4ad,#49d,#4ad,#4ad,#4bc,#5cb,#7c8,#8c5,#8c6,#8c6,#6ca,#5cc,#4ad,#49d,#49c,#4ad,#49c,#49c,#58c,#58c,#57b,#57c,#57c,#57c,#56b,#56b,#55b,#56b,#55a,#54a,#54a,#55b,#56b)"></i><i style="background:linear-gradient(90deg,#48c,#57c,#56b,#58c,#49c,#4ad,#4ad,#4ad,#4ad,#4ad,#4ad,#4ac,#4bc,#4ad,#4ad,#4ad,#4ac,#4ad,#49c,#57c,#56b,#56b,#56b,#56b,#55b,#55b,#56b,#49c,#4bc,#4ad,#48c,#58c,#57c,#57c)"></i><i style="background:linear-gradient(90deg,#56b,#57b,#57c,#49c,#48c,#57c,#56b,#58c,#49c,#49c,#58c,#56b,#56b,#58c,#4ad,#4bc,#5bc,#49d,#57b,#54a,#55a,#56b,#48c,#49c,#49c,#49c,#58c,#56b,#55b,#55b,#55a,#439,#439,#54a)"></i><i style="background:linear-gradient(90deg,#49c,#4ad,#5bc,#5cb,#5cb,#5cc,#5bc,#4bc,#5cb,#5bc,#5cb,#5bc,#5cb,#5cb,#5cb,#4bc,#4bc,#4bc,#4ad,#49d,#57c,#57c,#48c,#49c,#49c,#57c,#57b,#55b,#55b,#54a,#55b,#55b,#56b,#57b)"></i><i style="background:linear-gradient(90deg,#4bc,#4ad,#48c,#48c,#49c,#4ad,#49d,#4ad,#4bc,#5bc,#5cb,#5cc,#4bc,#4ad,#49d,#4ad,#4bc,#4bc,#4bc,#4bc,#4ad,#49d,#48c,#48c,#57c,#57b,#56b,#55b,#56b,#55b,#56b,#57b,#57c,#57c)"></i><i style="background:linear-gradient(90deg,#56b,#56b,#56b,#57c,#49c,#4ad,#49d,#49c,#49c,#49c,#4ad,#4ad,#4ad,#48c,#57c,#48c,#49d,#49c,#57c,#56b,#57b,#57b,#57c,#57c,#57c,#56b,#55a,#54a,#54a,#55b,#56b,#56b,#56b,#56b)"></i><i style="background:linear-gradient(90deg,#4ac,#4bc,#5bc,#4ad,#49c,#4ad,#4bc,#4bc,#4ad,#49c,#49c,#49d,#4ad,#4ad,#4ad,#4ac,#4bc,#4bc,#4ad,#49c,#58c,#57c,#56b,#55b,#55a,#55a,#55b,#56b,#57c,#58c,#57c,#56b,#56b,#56b)"></i><i style="background:linear-gradient(90deg,#49c,#49c,#49c,#48c,#48c,#49c,#48c,#56b,#56b,#55b,#57c,#58c,#49c,#4ad,#4bc,#4bc,#4ad,#48c,#55b,#55a,#55a,#56b,#56b,#56b,#55b,#55a,#54a,#44a,#44a,#54a,#54a,#449,#449,#54a)"></i><i style="background:linear-gradient(90deg,#4ad,#4bc,#9c4,#9c4,#5bc,#4ad,#49c,#49c,#4ad,#4ad,#4bc,#4bc,#5cb,#6ca,#5cb,#5cb,#5cc,#4bc,#4ad,#4ac,#6ca,#7c7,#5bc,#49c,#48c,#49c,#49c,#48c,#57c,#57c,#57c,#58c,#57c,#57c)"></i><i style="background:linear-gradient(90deg,#49c,#4ac,#4bc,#4ad,#48c,#58c,#57c,#48c,#4ad,#4bc,#4bc,#4bc,#4ad,#4ad,#4ac,#4bc,#4bc,#4bc,#4ad,#4ad,#4ad,#4bc,#4bc,#4bc,#48c,#56b,#55a,#54a,#55a,#55b,#55a,#55a,#55a,#56b)"></i><i style="background:linear-gradient(90deg,#5bc,#5cb,#5cb,#5cb,#5cb,#5cb,#4bc,#5bc,#4bc,#5cb,#6ca,#9c5,#eb3,#fc3,#ed2,#ee2,#ed2,#fc3,#8c5,#5cb,#4ad,#4ad,#4ad,#4ac,#4bc,#4bc,#4ac,#4ad,#4ad,#4bc,#4bc,#4bc,#4ac,#4bc)"></i><i style="background:linear-gradient(90deg,#4bc,#4ad,#49d,#49c,#49d,#4ad,#4ad,#4bc,#5bc,#5cb,#5cb,#5cb,#5cc,#5bc,#4bc,#4bc,#4bc,#5bc,#4bc,#4bc,#4ad,#49d,#49c,#48c,#48c,#57c,#56b,#55b,#56b,#56b,#56b,#55b,#55b,#55b)"></i><i style="background:linear-gradient(90deg,#4bc,#4bc,#4bc,#4ad,#4ad,#4ac,#5bc,#5bc,#4bc,#4ad,#49c,#48c,#48c,#4ad,#4ac,#4bc,#4bc,#4bc,#4ad,#4ac,#4ad,#49d,#49c,#48c,#57c,#57c,#49c,#49c,#49c,#57c,#58c,#58c,#48c,#49c)"></i><i style="background:linear-gradient(90deg,#4bc,#4ac,#4bc,#4ad,#4ad,#49d,#4ad,#4ad,#4bc,#5cb,#6ca,#5cb,#5bc,#5bc,#5cb,#5cb,#5cb,#4ad,#58c,#48c,#4ad,#4ad,#4ac,#4ad,#49c,#49c,#49d,#49d,#58c,#56b,#56b,#57c,#48c,#58c)"></i><i style="background:linear-gradient(90deg,#4bc,#4ac,#4bc,#5bc,#5cb,#5cb,#4bc,#4ad,#49c,#49c,#4ac,#5cb,#7c8,#8c6,#6c9,#5cb,#4bc,#4ad,#48c,#48c,#49c,#49c,#49d,#49d,#49c,#48c,#48c,#49d,#4ad,#4ac,#4ad,#49d,#48c,#57c)"></i><i style="background:linear-gradient(90deg,#4ad,#4ad,#48c,#58c,#58c,#4ad,#5bc,#5cb,#4bc,#4bc,#4bc,#4bc,#4bc,#4bc,#5bc,#5bc,#5cb,#4bc,#49c,#56b,#55a,#44a,#44a,#54a,#55a,#55b,#57c,#48c,#49d,#4ad,#4ad,#4ad,#49c,#57c)"></i><i style="background:linear-gradient(90deg,#49c,#49c,#49c,#49d,#4ad,#4bc,#4ad,#4ad,#4ad,#4bc,#5cb,#6ca,#7c8,#7c8,#7c7,#7c8,#6c9,#5bc,#49c,#57c,#55b,#55b,#56b,#57b,#57c,#58c,#58c,#57c,#57c,#57c,#48c,#58c,#48c,#57c)"></i><i style="background:linear-gradient(90deg,#49d,#49c,#49c,#4ad,#4ad,#4bc,#5bc,#5bc,#5bc,#4bc,#4ac,#4ad,#4ad,#4ad,#4ad,#4ad,#49d,#49c,#48c,#58c,#58c,#57b,#56b,#55b,#55b,#55b,#55a,#449,#439,#439,#54a,#56b,#57c,#56b)"></i><i style="background:linear-gradient(90deg,#4ad,#4ad,#4bc,#4bc,#4ad,#4ad,#4bc,#4ac,#4ad,#49c,#4ad,#4ad,#5cb,#8c7,#9c4,#ac4,#9c5,#5cb,#49c,#56b,#55b,#57c,#48c,#58c,#56b,#54a,#439,#439,#44a,#54a,#55a,#56b,#56b,#57b)"></i><i style="background:linear-gradient(90deg,#49d,#48c,#49c,#58c,#57c,#57b,#57c,#49c,#4ad,#4bc,#4bc,#4bc,#4bc,#4bc,#4bc,#4bc,#4ad,#4ad,#48c,#57c,#57b,#57b,#57c,#56b,#55b,#55a,#55a,#54a,#54a,#449,#55a,#56b,#58c,#49c)"></i><i style="background:linear-gradient(90deg,#4bc,#4ad,#4bc,#5cb,#7c8,#8c7,#6c9,#5cb,#4ac,#49d,#4ad,#5bc,#8c6,#ac4,#9c4,#6c9,#5bc,#4bc,#4ad,#4ad,#58c,#56b,#55b,#56b,#56b,#55b,#55a,#55b,#56b,#56b,#57c,#48c,#48c,#57c)"></i><i style="background:linear-gradient(90deg,#49c,#4ad,#4ad,#5bc,#5cb,#5bc,#4ac,#49d,#49d,#4ac,#4bc,#5cc,#5cb,#5ca,#7c8,#7c8,#5cb,#4ad,#57c,#56b,#56b,#56b,#56b,#55b,#56b,#56b,#56b,#56b,#55a,#44a,#439,#54a,#55a,#55b)"></i><i style="background:linear-gradient(90deg,#4ad,#49d,#49d,#49d,#4ac,#4bc,#5bc,#5bc,#4bc,#4bc,#4ad,#4ad,#4ad,#49d,#4ad,#4bc,#4bc,#49c,#55b,#54a,#54a,#44a,#54a,#44a,#449,#54a,#55a,#55b,#55a,#55a,#56b,#57c,#58c,#57c)"></i><i style="background:linear-gradient(90deg,#48c,#49c,#49d,#49c,#48c,#58c,#57c,#57c,#49c,#49c,#49c,#4ad,#5cb,#5bc,#4bc,#49d,#48c,#57c,#56b,#55b,#54a,#439,#439,#54a,#54a,#56b,#56b,#56b,#55b,#55a,#55b,#56b,#56b,#56b)"></i><i style="background:linear-gradient(90deg,#4ad,#49d,#49d,#49c,#49c,#49d,#4ad,#4bc,#5bc,#4bc,#4ad,#49d,#4ad,#4bc,#4bc,#4ac,#48c,#56b,#54a,#54a,#439,#54a,#55b,#56b,#56b,#55b,#55a,#56b,#58c,#49d,#49c,#49c,#49d,#4ad)"></i><i style="background:linear-gradient(90deg,#49c,#49c,#4bc,#4ad,#49c,#49c,#49d,#49d,#4ad,#4ad,#4bc,#4ad,#4ad,#49d,#49c,#48c,#58c,#58c,#56b,#55b,#54a,#55a,#55a,#56b,#56b,#55b,#54a,#54a,#55b,#56b,#56b,#56b,#55b,#55a)"></i><i style="background:linear-gradient(90deg,#4ad,#49d,#49c,#4ad,#4ac,#4bc,#4ad,#49c,#49c,#49c,#4ad,#49c,#48c,#48c,#49d,#49d,#58c,#57c,#56b,#56b,#55b,#55a,#54a,#44a,#449,#439,#449,#54a,#55b,#56b,#56b,#55b,#54a,#54a)"></i><i style="background:linear-gradient(90deg,#4bc,#49c,#58c,#57c,#49c,#4bc,#4bc,#4bc,#4ad,#4ad,#4ad,#4bc,#4bc,#4bc,#4ad,#49c,#57c,#56b,#54a,#439,#439,#439,#439,#449,#54a,#54a,#54a,#55a,#55a,#55a,#55a,#56b,#58c,#49d)"></i><i style="background:linear-gradient(90deg,#5cc,#5cc,#4bc,#4bc,#4bc,#4bc,#5cc,#7c8,#8c6,#7c8,#5bc,#4bc,#4bc,#6ca,#7c8,#5cb,#4ad,#58c,#57c,#48c,#48c,#57c,#56b,#56b,#58c,#48c,#49d,#4ad,#4bc,#4bc,#4bc,#4ac,#4bc,#4ad)"></i><i style="background:linear-gradient(90deg,#4ad,#4ad,#4ad,#49d,#48c,#48c,#49c,#4ad,#4ad,#4ad,#49c,#49c,#49c,#4ad,#4ad,#4bc,#49c,#55a,#439,#439,#439,#439,#439,#54a,#56b,#56b,#55a,#439,#439,#54a,#55b,#57b,#58c,#58c)"></i><i style="background:linear-gradient(90deg,#58c,#57c,#56b,#57c,#49c,#4ad,#49d,#49c,#48c,#48c,#48c,#49c,#49c,#48c,#56b,#55b,#54a,#54a,#54a,#54a,#54a,#439,#439,#439,#439,#54a,#55a,#55b,#54a,#439,#439,#439,#449,#54a)"></i><i style="background:linear-gradient(90deg,#48c,#58c,#49c,#49d,#49d,#49c,#48c,#48c,#49c,#49c,#48c,#48c,#48c,#49c,#49c,#49c,#57c,#56b,#54a,#439,#439,#439,#439,#439,#54a,#44a,#439,#439,#439,#54a,#55a,#54a,#449,#449)"></i><i style="background:linear-gradient(90deg,#ac4,#7c7,#5cc,#4bc,#5cc,#5bc,#4bc,#4ad,#4ad,#4ad,#49d,#48c,#57c,#57b,#57c,#58c,#56b,#55a,#439,#439,#439,#439,#439,#439,#439,#439,#439,#54a,#54a,#55b,#56b,#57c,#57c,#57b)"></i><i style="background:linear-gradient(90deg,#4ac,#4bc,#4ac,#49d,#4ad,#6c9,#6c9,#5cb,#5cb,#4bc,#49c,#57c,#57c,#58c,#48c,#48c,#58c,#56b,#55b,#54a,#54a,#54a,#55b,#56b,#55b,#54a,#439,#449,#54a,#54a,#54a,#55a,#56b,#57c)"></i><i style="background:linear-gradient(90deg,#5cc,#5cb,#5cb,#4bc,#4ad,#4ad,#4bc,#4bc,#4ac,#49c,#49d,#4bc,#5cb,#6ca,#4bc,#48c,#56b,#56b,#56b,#57c,#56b,#56b,#55b,#55b,#55a,#54a,#54a,#54a,#54a,#54a,#54a,#54a,#54a,#55a)"></i><i style="background:linear-gradient(90deg,#58c,#49c,#4ad,#4bc,#5bc,#5bc,#4bc,#4bc,#4bc,#4ac,#4ac,#4bc,#4ac,#49c,#56b,#55b,#55b,#55b,#55a,#55a,#55b,#55b,#55a,#55a,#54a,#55a,#55a,#56b,#56b,#57c,#57c,#56b,#55a,#54a)"></i><i style="background:linear-gradient(90deg,#57c,#48c,#4ad,#5bc,#6c9,#6ca,#5cb,#5bc,#4bc,#5bc,#5cb,#7c8,#8c5,#7c7,#4bc,#48c,#55a,#54a,#449,#55a,#56b,#56b,#56b,#55b,#56b,#56b,#56b,#54a,#54a,#54a,#55b,#55b,#55b,#55a)"></i><i style="background:linear-gradient(90deg,#5bc,#5ca,#5cb,#4bc,#49c,#48c,#49d,#4ac,#4bc,#4bc,#5bc,#4bc,#4ad,#48c,#57c,#57c,#56b,#55b,#54a,#55a,#54a,#54a,#55a,#55b,#55b,#56b,#56b,#56b,#56b,#55b,#56b,#55b,#56b,#56b)"></i><i style="background:linear-gradient(90deg,#49c,#49c,#49c,#4ad,#4bc,#5bc,#4bc,#4ad,#49c,#49c,#4ad,#49d,#4ad,#4bc,#9c5,#bc3,#5bc,#58c,#55b,#56b,#56b,#57c,#56b,#55a,#44a,#54a,#54a,#55b,#56b,#55b,#55a,#449,#439,#439)"></i><i style="background:linear-gradient(90deg,#48c,#49c,#49c,#58c,#48c,#48c,#49c,#58c,#56b,#56b,#57c,#57c,#58c,#57c,#58c,#57b,#56b,#55b,#55a,#55a,#54a,#54a,#449,#54a,#55b,#56b,#55b,#54a,#439,#439,#439,#439,#439,#439)"></i><i style="background:linear-gradient(90deg,#49d,#48c,#48c,#48c,#49c,#48c,#58c,#58c,#57c,#58c,#57c,#57c,#57c,#57c,#57c,#57c,#56b,#55a,#54a,#55b,#55b,#56b,#56b,#56b,#54a,#439,#439,#439,#439,#439,#55a,#55b,#55b,#54a)"></i><i style="background:linear-gradient(90deg,#48c,#49c,#4ad,#4ad,#4bc,#4bc,#4bc,#4ad,#48c,#49c,#4ad,#4bc,#4ac,#4ad,#4ad,#4ac,#4ad,#58c,#56b,#55b,#55b,#55b,#56b,#56b,#57c,#57c,#56b,#55b,#55b,#56b,#56b,#56b,#56b,#56b)"></i><i style="background:linear-gradient(90deg,#5bc,#4bc,#4ad,#4ad,#4bc,#4bc,#4ad,#49c,#49c,#49c,#49d,#4ad,#4bc,#5bc,#4bc,#4ac,#58c,#55b,#439,#439,#54a,#55b,#58c,#58c,#57c,#55b,#54a,#439,#439,#449,#55a,#56b,#57c,#56b)"></i><i style="background:linear-gradient(90deg,#4bc,#4ad,#4ad,#4ad,#4ac,#5bc,#4bc,#4ad,#48c,#48c,#58c,#49c,#48c,#49d,#49d,#49c,#56b,#55a,#55a,#57c,#58c,#57c,#55b,#55a,#54a,#54a,#449,#54a,#54a,#55b,#55b,#55b,#449,#439)"></i><i style="background:linear-gradient(90deg,#4ad,#4ad,#49c,#58c,#58c,#49d,#4ad,#4ad,#4ad,#4ad,#4ad,#49c,#49c,#49c,#4ad,#4ac,#4ad,#48c,#55b,#54a,#54a,#54a,#55a,#55b,#55b,#55b,#54a,#54a,#44a,#54a,#55b,#55b,#55b,#54a)"></i><i style="background:linear-gradient(90deg,#49c,#48c,#49c,#4ad,#4ad,#49d,#48c,#58c,#49c,#4ad,#4bc,#4bc,#4ad,#4ad,#4ad,#4ad,#58c,#57b,#56b,#57c,#57c,#57c,#56b,#56b,#55b,#55a,#54a,#55a,#56b,#56b,#54a,#439,#439,#439)"></i><i style="background:linear-gradient(90deg,#4ac,#4bc,#4bc,#4ad,#4ad,#49c,#49d,#4ad,#4bc,#5cb,#5cb,#5cb,#4ac,#49d,#49c,#48c,#57c,#56b,#56b,#56b,#56b,#55b,#55b,#55a,#55b,#56b,#56b,#55a,#55a,#54a,#54a,#54a,#54a,#44a)"></i><i style="background:linear-gradient(90deg,#4ad,#49d,#48c,#49d,#4ad,#4ad,#49d,#4ad,#4bc,#8c6,#cc3,#db3,#bc3,#8c6,#5cb,#4bc,#49c,#57b,#55b,#55b,#54a,#439,#439,#439,#54a,#55a,#55a,#54a,#449,#439,#439,#54a,#57c,#4ad)"></i><i style="background:linear-gradient(90deg,#4bc,#4ad,#4ac,#5cb,#ac4,#ac4,#7c8,#5cc,#4bc,#4bc,#4bc,#4bc,#4ac,#4bc,#4ac,#4ad,#58c,#56b,#54a,#44a,#44a,#54a,#54a,#44a,#439,#44a,#54a,#55b,#55b,#55b,#54a,#439,#439,#439)"></i><i style="background:linear-gradient(90deg,#48c,#48c,#49c,#49c,#48c,#49c,#4ad,#5bc,#5cb,#5bc,#4ad,#49c,#49c,#49c,#48c,#58c,#58c,#58c,#57c,#56b,#56b,#54a,#55a,#55a,#56b,#56b,#57b,#56b,#55b,#55b,#56b,#57c,#57c,#56b)"></i><i style="background:linear-gradient(90deg,#49d,#49d,#49d,#49d,#49d,#4ad,#49d,#49c,#49c,#4ad,#4bc,#4bc,#4ad,#49c,#48c,#48c,#48c,#49c,#58c,#56b,#54a,#439,#439,#439,#439,#449,#54a,#55a,#56b,#56b,#56b,#55b,#54a,#439)"></i><i style="background:linear-gradient(90deg,#5cb,#5bc,#5bc,#5cb,#5cb,#5cc,#5bc,#4ad,#4ad,#4ad,#4bc,#7c8,#9c5,#8c6,#5cb,#6ca,#8c6,#8c7,#4ad,#57c,#56b,#56b,#56b,#55a,#54a,#55b,#57b,#57c,#57b,#57b,#57c,#56b,#56b,#56b)"></i><i style="background:linear-gradient(90deg,#49c,#49c,#48c,#48c,#48c,#58c,#48c,#58c,#58c,#56b,#55a,#55b,#57c,#48c,#49c,#58c,#56b,#55a,#44a,#55a,#56b,#57c,#56b,#55b,#439,#439,#439,#439,#439,#439,#439,#439,#439,#439)"></i><i style="background:linear-gradient(90deg,#4bc,#4bc,#4bc,#4bc,#5bc,#5cb,#5cb,#5bc,#4bc,#4bc,#4bc,#4bc,#4ad,#4ac,#4ad,#49c,#56b,#55a,#54a,#55b,#56b,#55b,#54a,#439,#439,#439,#439,#449,#54a,#55b,#55a,#54a,#439,#44a)"></i><i style="background:linear-gradient(90deg,#49c,#49d,#4bc,#5cb,#5bc,#49d,#57c,#57c,#48c,#49c,#49c,#48c,#48c,#48c,#48c,#58c,#56b,#54a,#449,#439,#54a,#54a,#54a,#439,#439,#439,#439,#54a,#54a,#54a,#54a,#55a,#54a,#439)"></i><i style="background:linear-gradient(90deg,#4ad,#49c,#49d,#4ad,#4bc,#4ad,#49c,#56b,#56b,#56b,#48c,#4ad,#4ac,#4ad,#4ad,#4ad,#48c,#57c,#55b,#56b,#56b,#57b,#57b,#57b,#56b,#55a,#54a,#439,#439,#439,#439,#439,#439,#439)"></i><i style="background:linear-gradient(90deg,#49d,#4ad,#49d,#4ad,#4ad,#4ad,#4ad,#4ac,#4bc,#5bc,#4bc,#4ad,#49d,#49c,#48c,#58c,#56b,#54a,#54a,#54a,#54a,#55a,#54a,#55a,#55b,#55b,#55a,#44a,#439,#439,#54a,#54a,#54a,#55a)"></i><i style="background:linear-gradient(90deg,#4ad,#4bc,#4bc,#4ad,#49d,#49c,#48c,#57c,#57c,#48c,#4ad,#4bc,#4bc,#4bc,#49d,#48c,#56b,#56b,#55b,#55a,#54a,#54a,#55a,#55a,#55a,#55b,#55a,#54a,#439,#439,#449,#55b,#58c,#57c)"></i><i style="background:linear-gradient(90deg,#4ad,#4ad,#4bc,#4bc,#4bc,#4bc,#4ad,#49d,#49d,#49d,#4ad,#4ad,#49d,#58c,#56b,#57b,#57b,#57c,#57c,#57c,#56b,#55a,#55a,#56b,#56b,#57c,#58c,#58c,#57c,#56b,#56b,#56b,#57c,#58c)"></i><i style="background:linear-gradient(90deg,#4ad,#4bc,#4bc,#4ad,#49d,#4ad,#4bc,#6ca,#5cb,#5bc,#4bc,#4bc,#4bc,#4ad,#49d,#49c,#58c,#56b,#54a,#439,#439,#439,#439,#439,#54a,#55b,#55b,#54a,#54a,#44a,#54a,#54a,#54a,#55a)"></i><i style="background:linear-gradient(90deg,#4ad,#4ad,#4bc,#5cb,#5cb,#5bc,#4bc,#4ac,#4bc,#4ad,#4ad,#4ad,#49d,#49d,#48c,#48c,#57c,#57c,#57c,#49c,#49d,#4ad,#4bc,#4ad,#58c,#57c,#58c,#58c,#49c,#49c,#48c,#57b,#56b,#56b)"></i><i style="background:linear-gradient(90deg,#58c,#49c,#49d,#4ad,#4ad,#49d,#4ac,#5cb,#7c7,#7c8,#4ad,#56b,#56b,#57c,#49c,#4ad,#49d,#49c,#57c,#57c,#56b,#56b,#55b,#55a,#54a,#54a,#54a,#54a,#44a,#439,#54a,#55a,#56b,#56b)"></i><i style="background:linear-gradient(90deg,#57c,#48c,#49c,#49c,#58c,#58c,#58c,#48c,#48c,#49c,#48c,#4ad,#4ad,#49d,#57b,#55a,#439,#439,#439,#439,#54a,#55a,#55a,#54a,#54a,#56b,#56b,#56b,#55b,#55a,#54a,#54a,#55a,#54a)"></i><i style="background:linear-gradient(90deg,#4bc,#4bc,#4ad,#4ad,#4ad,#4ad,#4ad,#49d,#49c,#49c,#49d,#4ad,#4ad,#4ad,#4ad,#4ad,#57c,#56b,#55b,#56b,#56b,#48c,#48c,#57c,#57c,#57b,#55b,#54a,#54a,#54a,#54a,#439,#439,#449)"></i><i style="background:linear-gradient(90deg,#58c,#58c,#4ad,#6c9,#4bc,#4ad,#49d,#4ad,#4ad,#4ac,#4ad,#49c,#57c,#56b,#55b,#55b,#55a,#54a,#449,#439,#439,#54a,#55a,#55a,#54a,#55a,#56b,#57b,#55a,#44a,#439,#55a,#55b,#56b)"></i><i style="background:linear-gradient(90deg,#5bc,#5cb,#5cb,#5cb,#5cb,#5cb,#4bc,#4bc,#4ad,#4ad,#4ad,#4ad,#4ad,#49c,#58c,#57c,#57b,#48c,#49d,#4bc,#4ad,#49c,#57b,#56b,#57c,#48c,#4ad,#4ac,#4bc,#4ac,#4ad,#4ad,#4bc,#4bc)"></i><i style="background:linear-gradient(90deg,#4ad,#49d,#4ad,#4ac,#4bc,#4bc,#4ad,#4ad,#4ac,#4bc,#5cb,#5cb,#5bc,#4ad,#4ad,#49c,#57b,#55a,#439,#439,#439,#54a,#55a,#55a,#44a,#439,#449,#54a,#56b,#58c,#4ad,#4bc,#4bc,#4ad)"></i><i style="background:linear-gradient(90deg,#49c,#4ad,#4bc,#4bc,#4ac,#49d,#49c,#4ad,#4ad,#4ad,#49c,#49d,#4ad,#4ad,#49c,#58c,#56b,#55a,#55b,#55b,#56b,#56b,#57c,#49c,#49c,#57c,#56b,#56b,#56b,#57c,#57c,#57b,#56b,#55b)"></i><i style="background:linear-gradient(90deg,#56b,#56b,#56b,#56b,#56b,#57c,#57c,#49c,#49c,#48c,#57c,#57c,#57c,#57b,#56b,#56b,#56b,#56b,#56b,#56b,#56b,#58c,#57c,#56b,#55b,#55b,#55a,#54a,#449,#439,#54a,#55a,#55b,#56b)"></i><i style="background:linear-gradient(90deg,#4ad,#4ad,#49d,#49d,#49c,#49c,#49d,#4ad,#4ad,#4bc,#4bc,#4bc,#4ad,#4ad,#49c,#49c,#56b,#439,#439,#439,#439,#439,#44a,#54a,#44a,#449,#54a,#55a,#56b,#56b,#55a,#449,#439,#439)"></i><i style="background:linear-gradient(90deg,#4ad,#4ad,#4ad,#4ad,#49d,#49c,#48c,#58c,#57c,#49c,#4ad,#4ad,#4ad,#4ad,#4ad,#4ad,#4ad,#48c,#57c,#56b,#56b,#55a,#54a,#54a,#54a,#439,#439,#439,#54a,#56b,#56b,#55b,#44a,#449)"></i><i style="background:linear-gradient(90deg,#4ad,#4bc,#4bc,#4ad,#48c,#58c,#57c,#58c,#48c,#49c,#4ad,#4bc,#4bc,#49d,#58c,#57c,#56b,#56b,#56b,#57b,#57b,#57c,#58c,#48c,#57c,#56b,#55b,#55a,#56b,#56b,#56b,#55a,#55a,#449)"></i><i style="background:linear-gradient(90deg,#55a,#55a,#55b,#57c,#49c,#4ad,#4ad,#4ad,#4ad,#49d,#48c,#57c,#56b,#56b,#56b,#57c,#56b,#55b,#55a,#55a,#55b,#55a,#55a,#55a,#55a,#55b,#55b,#54a,#449,#55a,#439,#439,#439,#439)"></i><i style="background:linear-gradient(90deg,#4ad,#49c,#49c,#4bc,#5cb,#6ca,#5bc,#4ac,#49d,#4ad,#4ad,#4bc,#4bc,#4ad,#57c,#55b,#449,#439,#54a,#54a,#55b,#55b,#55b,#54a,#54a,#54a,#449,#439,#439,#449,#54a,#55a,#54a,#54a)"></i><i style="background:linear-gradient(90deg,#49d,#49d,#49d,#49c,#48c,#57c,#57b,#57b,#58c,#48c,#48c,#48c,#58c,#49c,#58c,#57c,#55a,#54a,#54a,#449,#439,#439,#44a,#54a,#54a,#54a,#55a,#54a,#54a,#439,#439,#439,#449,#54a)"></i><i style="background:linear-gradient(90deg,#4ac,#4ad,#49d,#49c,#49c,#49d,#4ad,#4ad,#4ad,#49d,#49c,#49c,#49c,#48c,#57c,#57b,#56b,#56b,#57b,#56b,#55b,#54a,#54a,#54a,#56b,#48c,#49c,#57c,#57b,#57c,#48c,#49c,#48c,#57c)"></i><i style="background:linear-gradient(90deg,#57c,#57c,#57b,#57c,#48c,#49c,#48c,#48c,#48c,#48c,#57c,#56b,#55b,#55b,#56b,#57b,#56b,#55b,#55b,#54a,#54a,#439,#439,#44a,#55a,#54a,#439,#439,#439,#54a,#54a,#54a,#44a,#55a)"></i><i style="background:linear-gradient(90deg,#57c,#57c,#57c,#58c,#48c,#49d,#4bc,#5bc,#5bc,#4bc,#4ad,#49c,#57c,#56b,#57b,#48c,#48c,#57c,#55b,#55b,#55b,#56b,#57b,#57b,#56b,#56b,#56b,#57c,#56b,#56b,#56b,#57c,#48c,#49d)"></i><i style="background:linear-gradient(90deg,#49c,#4ad,#49d,#49d,#49c,#58c,#57c,#56b,#56b,#56b,#57c,#48c,#48c,#57c,#56b,#56b,#54a,#54a,#449,#55a,#55a,#54a,#439,#439,#439,#439,#439,#439,#439,#54a,#55a,#55b,#56b,#56b)"></i><i style="background:linear-gradient(90deg,#56b,#56b,#57b,#56b,#56b,#56b,#55b,#55b,#56b,#56b,#57c,#48c,#48c,#57c,#55b,#55b,#55b,#56b,#57c,#58c,#57c,#56b,#54a,#44a,#54a,#54a,#54a,#54a,#54a,#55a,#54a,#55a,#55a,#55a)"></i><i style="background:linear-gradient(90deg,#48c,#57b,#56b,#56b,#56b,#56b,#55b,#56b,#58c,#49d,#4ad,#49c,#48c,#57c,#57c,#56b,#54a,#439,#439,#44a,#54a,#55a,#55a,#54a,#54a,#44a,#54a,#55a,#54a,#54a,#54a,#56b,#56b,#55b)"></i><i style="background:linear-gradient(90deg,#48c,#48c,#49c,#48c,#49c,#49c,#49c,#58c,#57c,#48c,#49d,#49d,#48c,#48c,#48c,#58c,#56b,#54a,#54a,#54a,#56b,#49c,#4ad,#4ad,#49d,#48c,#56b,#54a,#439,#44a,#54a,#55a,#55a,#56b)"></i><i style="background:linear-gradient(90deg,#49d,#4bc,#4ac,#4ad,#57c,#57c,#48c,#4ad,#4ad,#49d,#49d,#49d,#4ad,#4ac,#4ad,#4ad,#58c,#57c,#57b,#57c,#56b,#55b,#54a,#54a,#55b,#56b,#56b,#55a,#55a,#55a,#55b,#55a,#55b,#55b)"></i><i style="background:linear-gradient(90deg,#4bc,#4ac,#4ad,#4bc,#5bc,#5cb,#4bc,#4bc,#4ad,#4bc,#4bc,#4ad,#49c,#57b,#56b,#56b,#55b,#55b,#56b,#57c,#48c,#58c,#58c,#57c,#57c,#56b,#56b,#56b,#57c,#57b,#57c,#55b,#55b,#56b)"></i><i style="background:linear-gradient(90deg,#4ad,#49d,#49c,#48c,#57c,#57c,#57b,#48c,#49c,#49c,#49c,#48c,#49c,#49d,#5bc,#5cb,#5cc,#4ad,#48c,#56b,#54a,#439,#439,#54a,#55a,#55a,#54a,#54a,#54a,#54a,#55b,#56b,#57c,#57c)"></i><i style="background:linear-gradient(90deg,#49c,#48c,#57c,#58c,#48c,#49d,#4ad,#4ad,#4ad,#4ad,#49d,#49d,#4ad,#4ac,#4ad,#49d,#56b,#55b,#55a,#56b,#57c,#58c,#58c,#58c,#57c,#56b,#56b,#57c,#57c,#58c,#58c,#58c,#57b,#56b)"></i><i style="background:linear-gradient(90deg,#6ca,#5cb,#4bc,#4ad,#49d,#4ad,#4bc,#4bc,#5bc,#4ac,#49c,#58c,#48c,#49c,#48c,#48c,#58c,#57c,#57b,#55b,#55a,#55a,#56b,#57c,#48c,#57c,#57b,#56b,#56b,#55a,#54a,#55a,#56b,#57c)"></i><i style="background:linear-gradient(90deg,#49c,#48c,#48c,#49c,#4ad,#4bc,#4bc,#4ad,#4ad,#4bc,#6c9,#8c6,#4bc,#48c,#57c,#56b,#55a,#55a,#54a,#55a,#54a,#54a,#55a,#56b,#57c,#57c,#56b,#55a,#54a,#54a,#55b,#55b,#55a,#55a)"></i><i style="background:linear-gradient(90deg,#57c,#48c,#49c,#49c,#48c,#57c,#56b,#56b,#57b,#57c,#57c,#58c,#48c,#48c,#57b,#55b,#54a,#55a,#55b,#55b,#55a,#55a,#55a,#54a,#54a,#55a,#55b,#55b,#55a,#54a,#54a,#55a,#55a,#54a)"></i><i style="background:linear-gradient(90deg,#49c,#48c,#57c,#57b,#57b,#56b,#55b,#56b,#57c,#49d,#49d,#49c,#57c,#58c,#48c,#58c,#56b,#55a,#54a,#54a,#54a,#55a,#55a,#55a,#54a,#55a,#54a,#55b,#55a,#56b,#55b,#55a,#54a,#54a)"></i><i style="background:linear-gradient(90deg,#56b,#57b,#56b,#58c,#58c,#57c,#56b,#56b,#49d,#4bc,#4bc,#49d,#58c,#56b,#56b,#56b,#56b,#56b,#55a,#44a,#439,#439,#439,#439,#439,#439,#439,#449,#439,#439,#439,#449,#44a,#54a)"></i><i style="background:linear-gradient(90deg,#4bc,#4ad,#4bc,#4ac,#4ad,#49d,#4ad,#4bc,#4ad,#49c,#57c,#48c,#48c,#57c,#55b,#55a,#55b,#56b,#56b,#56b,#56b,#55b,#55b,#55a,#55b,#56b,#56b,#56b,#56b,#57c,#48c,#49c,#48c,#58c)"></i><i style="background:linear-gradient(90deg,#57c,#56b,#55b,#55b,#56b,#57b,#57c,#48c,#58c,#57c,#56b,#56b,#55a,#54a,#55a,#56b,#56b,#54a,#439,#439,#54a,#56b,#48c,#4ad,#4bc,#5bc,#4ac,#48c,#57b,#56b,#55b,#55b,#54a,#54a)"></i><i style="background:linear-gradient(90deg,#48c,#49d,#49c,#48c,#48c,#49c,#4ad,#5cb,#7c8,#5cb,#5cb,#5cb,#6ca,#6ca,#5cb,#4bc,#49d,#48c,#57c,#57c,#57c,#58c,#48c,#49d,#4ad,#4ad,#49d,#58c,#57c,#58c,#49c,#4ad,#4ad,#49d)"></i><i style="background:linear-gradient(90deg,#4bc,#4ad,#4ad,#4bc,#5bc,#5cb,#9c5,#9c4,#4bc,#57b,#56b,#57b,#57c,#48c,#57c,#58c,#57c,#58c,#58c,#58c,#57c,#57c,#49c,#4ad,#4ad,#48c,#57c,#57c,#57c,#57b,#56b,#57c,#49c,#4ad)"></i><i style="background:linear-gradient(90deg,#4bc,#4bc,#5bc,#5cb,#5cb,#5cc,#4bc,#4ad,#49c,#58c,#49c,#49c,#4ad,#4ad,#4ad,#49c,#58c,#57c,#57c,#57c,#57c,#57c,#48c,#48c,#58c,#48c,#48c,#4ad,#4ad,#4ad,#48c,#58c,#49c,#4bc)"></i><i style="background:linear-gradient(90deg,#56b,#56b,#58c,#58c,#48c,#58c,#58c,#57c,#48c,#49c,#49c,#49c,#48c,#58c,#48c,#48c,#57c,#56b,#55b,#56b,#58c,#49c,#4ad,#4bc,#5bc,#4bc,#49c,#58c,#48c,#49d,#4bc,#4bc,#4ad,#4ad)"></i><i style="background:linear-gradient(90deg,#58c,#57c,#56b,#56b,#55b,#55a,#55a,#55a,#56b,#57c,#57c,#55b,#55b,#56b,#58c,#49c,#58c,#56b,#55a,#55b,#56b,#48c,#49c,#4ad,#4ad,#4ad,#4bc,#4bc,#4bc,#4ad,#4ad,#4bc,#5cb,#5cb)"></i><i style="background:linear-gradient(90deg,#49c,#48c,#48c,#48c,#49c,#49c,#49d,#49d,#49c,#49c,#49c,#49c,#49c,#49c,#48c,#58c,#56b,#56b,#56b,#57c,#58c,#48c,#49c,#4ad,#4ac,#5bc,#5cb,#5ca,#6ca,#5cb,#5bc,#5bc,#5cb,#7c7)"></i><i style="background:linear-gradient(90deg,#56b,#56b,#58c,#49c,#49d,#48c,#57c,#56b,#56b,#55b,#54a,#54a,#54a,#55b,#55b,#54a,#449,#54a,#56b,#58c,#48c,#58c,#48c,#4ad,#4bc,#5cb,#6ca,#ac4,#fd2,#ee2,#ee2,#ee2,#ee2,#fc3)"></i><i style="background:linear-gradient(90deg,#4ad,#4ad,#4ad,#4bc,#4bc,#5cb,#5bc,#5bc,#4bc,#4ad,#49c,#57c,#57c,#57c,#57c,#58c,#58c,#49c,#49d,#4bc,#5cb,#7c7,#9c5,#ac4,#9c4,#8c6,#6ca,#5cb,#6c9,#6c9,#6c9,#5bc,#4bc,#4bc)"></i><i style="background:linear-gradient(90deg,#57c,#55a,#54a,#54a,#56b,#57c,#58c,#57c,#57c,#57b,#56b,#56b,#56b,#56b,#56b,#56b,#55b,#55b,#56b,#57c,#48c,#49d,#4bc,#5cb,#5cb,#5bc,#4bc,#4bc,#4bc,#4ac,#4bc,#4bc,#5cb,#5cb)"></i><i style="background:linear-gradient(90deg,#56b,#49c,#49d,#49d,#49c,#49c,#48c,#57b,#56b,#57b,#57c,#49c,#48c,#58c,#56b,#56b,#56b,#57b,#58c,#49c,#4ad,#6ca,#7c8,#5cb,#5bc,#4bc,#4bc,#4bc,#5cb,#5cb,#6c9,#5cb,#5cb,#6ca)"></i><i style="background:linear-gradient(90deg,#48c,#57c,#57b,#56b,#56b,#57c,#58c,#58c,#57c,#57c,#58c,#48c,#49c,#49c,#49c,#48c,#56b,#55a,#55a,#55b,#57c,#48c,#48c,#49c,#49d,#4ad,#4ad,#4bc,#5cb,#6c9,#8c6,#cc2,#fd2,#ed2)"></i><i style="background:linear-gradient(90deg,#57c,#57c,#57c,#57c,#57c,#56b,#56b,#56b,#57c,#57c,#57c,#57c,#57c,#57c,#55b,#54a,#54a,#56b,#49c,#4bc,#5bc,#5cb,#6ca,#7c7,#9c5,#7c7,#8c6,#9c5,#9c5,#7c9,#5cc,#4bc,#4bc,#5cb)"></i><i style="background:linear-gradient(90deg,#58c,#58c,#48c,#48c,#49c,#49c,#48c,#49c,#49d,#49c,#48c,#48c,#49c,#58c,#56b,#449,#439,#44a,#56b,#48c,#4ad,#4bc,#5cb,#6ca,#7c8,#7c7,#8c6,#8c6,#8c6,#8c6,#7c7,#5cb,#4ad,#4ad)"></i><i style="background:linear-gradient(90deg,#57c,#57c,#56b,#56b,#55a,#55b,#56b,#56b,#56b,#56b,#55b,#54a,#54a,#54a,#55b,#56b,#57b,#48c,#4ad,#4bc,#5cc,#8c5,#fb3,#fc3,#dc3,#bc3,#dc3,#cc3,#8c6,#4bc,#49d,#49c,#49d,#4ad)"></i><i style="background:linear-gradient(90deg,#56b,#56b,#56b,#57c,#58c,#58c,#48c,#48c,#48c,#48c,#49c,#4ad,#49d,#48c,#56b,#55b,#54a,#57b,#4bc,#6ca,#8c5,#6c9,#5cb,#5bc,#5ca,#9c4,#dc3,#fb3,#eb3,#dc3,#bc3,#9c5,#6c9,#4bc)"></i><i style="background:linear-gradient(90deg,#57c,#57c,#57c,#57b,#57c,#48c,#49c,#49c,#49d,#49d,#4ad,#4ad,#48c,#56b,#44a,#439,#439,#56b,#4ad,#4bc,#4bc,#4bc,#5bc,#5cb,#5cb,#5cb,#5cb,#6c9,#7c7,#8c5,#8c5,#6c9,#4bc,#4ad)"></i><i style="background:linear-gradient(90deg,#55b,#56b,#56b,#57c,#58c,#48c,#57c,#57c,#57c,#48c,#48c,#58c,#57c,#58c,#58c,#57c,#56b,#57c,#4ad,#4ac,#4bc,#4bc,#4bc,#5bc,#5cb,#6ca,#5cb,#5cb,#5cc,#5cb,#5cb,#5bc,#5cc,#5cb)"></i><i style="background:linear-gradient(90deg,#4ad,#4ad,#4ad,#4ad,#49d,#49c,#48c,#49c,#49d,#4bc,#4ad,#49d,#49c,#4ad,#4ad,#58c,#57b,#48c,#4ad,#4bc,#5cb,#6ca,#8c5,#6c9,#6ca,#4bc,#5bc,#5cc,#6ca,#5cb,#4bc,#49c,#49c,#4ad)"></i><i style="background:linear-gradient(90deg,#55a,#55a,#55a,#55b,#55b,#55b,#54a,#449,#449,#54a,#55b,#56b,#56b,#55a,#54a,#54a,#55a,#56b,#58c,#58c,#58c,#48c,#58c,#58c,#48c,#49c,#49d,#49c,#49c,#49c,#49c,#4ad,#4ad,#4ad)"></i><i style="background:linear-gradient(90deg,#4ad,#49d,#4ad,#5bc,#6ca,#6c9,#7c8,#6c9,#5cb,#4bc,#49c,#49c,#49d,#49c,#48c,#48c,#49c,#49c,#49d,#49c,#49d,#49d,#49d,#4ad,#4bc,#4ad,#49d,#48c,#48c,#58c,#58c,#48c,#4ad,#4ad)"></i><i style="background:linear-gradient(90deg,#57b,#56b,#56b,#57c,#49c,#49d,#49c,#48c,#57c,#57c,#48c,#48c,#58c,#56b,#56b,#56b,#57b,#58c,#49d,#4ad,#49c,#48c,#58c,#49c,#49d,#4ad,#4ad,#4ad,#4ac,#4ad,#4ad,#49c,#48c,#58c)"></i><i style="background:linear-gradient(90deg,#58c,#57c,#57b,#56b,#56b,#55b,#56b,#57b,#57c,#57c,#56b,#56b,#55b,#55b,#55a,#55a,#54a,#44a,#54a,#54a,#55b,#56b,#57b,#57c,#57c,#57c,#58c,#49c,#49d,#4ad,#4bc,#5cb,#7c8,#7c7)"></i><i style="background:linear-gradient(90deg,#49d,#4bc,#6ca,#6ca,#4bc,#4ad,#4ad,#4ad,#4ad,#4ad,#49c,#57b,#55b,#55b,#55b,#55a,#449,#439,#54a,#55a,#55b,#55b,#56b,#55b,#56b,#49c,#4bc,#5cb,#5bc,#4bc,#4bc,#49d,#58c,#57c)"></i><i style="background:linear-gradient(90deg,#48c,#49c,#49d,#4ad,#4ad,#4ad,#4ad,#48c,#57c,#56b,#56b,#57c,#58c,#49c,#49c,#49d,#49c,#49c,#49c,#4ad,#5bc,#6c9,#5cb,#4bc,#49d,#49d,#4ad,#4ad,#49c,#49c,#48c,#48c,#49c,#49c)"></i><i style="background:linear-gradient(90deg,#54a,#55b,#56b,#57c,#57c,#56b,#56b,#56b,#57c,#58c,#58c,#56b,#55b,#55a,#55a,#55b,#54a,#54a,#54a,#55a,#55b,#56b,#57b,#56b,#55a,#44a,#439,#44a,#55a,#57b,#57c,#58c,#57c,#57c)"></i><i style="background:linear-gradient(90deg,#57c,#57c,#58c,#49c,#49d,#49c,#58c,#58c,#48c,#49c,#57c,#56b,#56b,#56b,#57c,#48c,#49c,#48c,#58c,#56b,#56b,#57c,#49c,#4ad,#4ac,#49d,#49c,#58c,#58c,#57c,#48c,#49c,#4ad,#4ad)"></i><i style="background:linear-gradient(90deg,#49c,#49c,#49c,#49c,#49c,#58c,#48c,#58c,#48c,#48c,#48c,#49c,#49d,#49d,#49c,#48c,#57c,#48c,#49c,#49c,#48c,#57c,#57c,#57b,#57c,#57b,#57c,#56b,#56b,#57b,#58c,#48c,#49c,#49c)"></i><i style="background:linear-gradient(90deg,#4ad,#4bc,#4bc,#4bc,#4ac,#4ad,#4ad,#49d,#48c,#57c,#57b,#57c,#57b,#57b,#57b,#57b,#56b,#57c,#49c,#4ad,#4ad,#4ac,#4ad,#4ad,#49c,#58c,#57c,#57c,#49c,#4ad,#49c,#57c,#56b,#57c)"></i><i style="background:linear-gradient(90deg,#49c,#48c,#48c,#49d,#49d,#4bc,#5ca,#9c4,#8c5,#5bc,#4ad,#48c,#48c,#48c,#48c,#57c,#55b,#55a,#55a,#56b,#57b,#58c,#57c,#55b,#55a,#55a,#56b,#55b,#55b,#56b,#57c,#58c,#58c,#58c)"></i><i style="background:linear-gradient(90deg,#49c,#49c,#49c,#49d,#49c,#57c,#56b,#55b,#55b,#57b,#48c,#49c,#49c,#48c,#58c,#57c,#57b,#57c,#57c,#58c,#58c,#48c,#48c,#49c,#4ad,#5cc,#6ca,#5cb,#4bc,#4ad,#4ad,#4bc,#4bc,#4ad)"></i><i style="background:linear-gradient(90deg,#4ad,#4ad,#4ad,#4ad,#4ad,#4ad,#4ad,#4ad,#4ad,#4ad,#4ad,#49d,#48c,#58c,#58c,#58c,#56b,#57b,#48c,#4ad,#49c,#49c,#48c,#49d,#49c,#48c,#58c,#49d,#4ad,#4bc,#5bc,#6c9,#7c7,#6ca)"></i><i style="background:linear-gradient(90deg,#48c,#4ad,#49d,#49c,#57c,#56b,#56b,#56b,#57c,#58c,#49c,#48c,#49c,#49c,#49c,#48c,#57c,#58c,#57c,#57c,#56b,#57c,#48c,#4ad,#4bc,#4ad,#49c,#56b,#55b,#54a,#55b,#56b,#48c,#49c)"></i><i style="background:linear-gradient(90deg,#4ad,#4ad,#49c,#48c,#48c,#4ad,#4ad,#49c,#56b,#55b,#55b,#56b,#56b,#56b,#56b,#54a,#54a,#56b,#49c,#4ac,#4ad,#4ad,#49c,#48c,#58c,#58c,#48c,#49c,#49c,#48c,#49c,#49c,#48c,#57b)"></i><i style="background:linear-gradient(90deg,#48c,#49c,#49c,#49c,#4ad,#4ad,#4ad,#49c,#57c,#55b,#55a,#56b,#57c,#58c,#57c,#57c,#57b,#57b,#56b,#55a,#54a,#54a,#55b,#48c,#4ad,#4bc,#49d,#4ad,#4bc,#7c8,#6c9,#5cb,#4ac,#4ad)"></i><i style="background:linear-gradient(90deg,#4ad,#5cb,#5ca,#4ac,#48c,#57c,#57c,#48c,#48c,#49c,#49c,#49d,#49d,#49d,#48c,#57b,#56b,#57b,#58c,#56b,#55b,#55b,#56b,#57c,#58c,#48c,#48c,#48c,#57c,#57b,#57b,#58c,#48c,#4bc)"></i><i style="background:linear-gradient(90deg,#57c,#57c,#57b,#57c,#49c,#4bc,#5cb,#5cb,#4ad,#49c,#48c,#49d,#49c,#48c,#48c,#49d,#4bc,#5bc,#5cb,#5cb,#5cb,#5ca,#5ca,#7c8,#7c8,#6ca,#5cb,#5cb,#7c8,#ac4,#ac4,#8c5,#7c7,#7c8)"></i><i style="background:linear-gradient(90deg,#58c,#48c,#58c,#58c,#49c,#49d,#49d,#49c,#58c,#58c,#58c,#58c,#57c,#57c,#56b,#56b,#55b,#55b,#57c,#48c,#4ad,#49d,#48c,#57c,#58c,#49c,#49d,#49d,#49d,#49c,#48c,#58c,#49c,#4ac)"></i><i style="background:linear-gradient(90deg,#58c,#57c,#58c,#58c,#48c,#48c,#57c,#56b,#56b,#56b,#56b,#55a,#54a,#44a,#56b,#49d,#4ad,#4ad,#48c,#48c,#49d,#4ac,#4ad,#4ad,#4ad,#49d,#49c,#49c,#49d,#4ad,#49d,#48c,#58c,#48c)"></i><i style="background:linear-gradient(90deg,#4ad,#4ac,#4ad,#49c,#48c,#57c,#55b,#55b,#56b,#57c,#57c,#57c,#57c,#57c,#57c,#57b,#56b,#57c,#4ad,#4ac,#4bc,#49c,#49c,#49d,#4ad,#4ad,#4ad,#49c,#58c,#56b,#56b,#56b,#56b,#56b)"></i><i style="background:linear-gradient(90deg,#57c,#48c,#49d,#4ad,#4ad,#49c,#48c,#58c,#48c,#58c,#57c,#57b,#56b,#56b,#56b,#56b,#56b,#57b,#48c,#4ad,#4bc,#5cb,#5ca,#6c9,#5cb,#4bc,#4bc,#4bc,#4bc,#4ac,#4ad,#48c,#48c,#49c)"></i><i style="background:linear-gradient(90deg,#4ad,#4ad,#49c,#58c,#57c,#57c,#57c,#57c,#57c,#57c,#57c,#58c,#58c,#48c,#49d,#4bc,#4bc,#5cb,#6ca,#6c9,#6c9,#6ca,#6ca,#6ca,#6ca,#5cb,#5cc,#5bc,#5bc,#5cc,#4bc,#4bc,#5cc,#6c9)"></i><i style="background:linear-gradient(90deg,#49c,#58c,#56b,#55b,#55b,#55a,#55a,#55b,#56b,#48c,#48c,#49c,#49d,#49d,#48c,#58c,#57b,#57c,#49d,#4bc,#4bc,#4bc,#4ac,#4ad,#4ad,#4bc,#5cc,#5cb,#4bc,#4ad,#4ad,#49d,#4ad,#4ac)"></i><i style="background:linear-gradient(90deg,#49c,#58c,#57b,#57c,#58c,#4ad,#4bc,#5cb,#4bc,#49c,#57c,#57c,#56b,#56b,#56b,#58c,#49c,#4ac,#4ad,#4ad,#49d,#4ac,#5bc,#5cb,#5cb,#5ca,#5ca,#6ca,#5cb,#5cb,#5cb,#5cb,#5cc,#4ad)"></i><i style="background:linear-gradient(90deg,#57c,#58c,#49c,#49d,#49c,#58c,#56b,#55a,#55a,#56b,#49c,#4ad,#4ad,#48c,#57c,#57c,#57c,#49c,#49d,#4ad,#4bc,#5cb,#6ca,#5cb,#4bc,#4bc,#4ad,#4bc,#5cb,#7c8,#6c9,#5cb,#5bc,#4ac)"></i><i style="background:linear-gradient(90deg,#48c,#58c,#57c,#56b,#56b,#56b,#57c,#57c,#56b,#55b,#56b,#57c,#58c,#48c,#58c,#49c,#49c,#4bc,#5cb,#5cb,#4ad,#49d,#4ad,#4ac,#4bc,#4ad,#4ad,#4ad,#4ac,#4bc,#5bc,#4ad,#49d,#49c)"></i><i style="background:linear-gradient(90deg,#4ad,#4ad,#4ad,#4bc,#6c9,#9c5,#ac4,#8c5,#6ca,#5cb,#5cb,#5bc,#4ad,#49c,#49c,#49d,#49c,#49d,#4ad,#5bc,#5cb,#6ca,#5ca,#6ca,#6c9,#8c6,#bc3,#fb3,#fd3,#fc3,#eb3,#9c5,#7c8,#5cb)"></i><i style="background:linear-gradient(90deg,#48c,#57b,#56b,#56b,#48c,#4ad,#4bc,#5bc,#4bc,#4bc,#49d,#49c,#57c,#56b,#56b,#56b,#57c,#57c,#57c,#57c,#57c,#48c,#4ad,#4bc,#5cb,#5cc,#4bc,#4ac,#4ad,#4ad,#4ad,#4bc,#5cc,#4bc)"></i><i style="background:linear-gradient(90deg,#49d,#4ad,#4ad,#4bc,#4ac,#4ad,#49c,#49d,#4ad,#4ad,#4ad,#4ad,#4ad,#4ad,#4ad,#48c,#49c,#49d,#4bc,#4ad,#4ad,#4ad,#4bc,#4bc,#4bc,#4ad,#4ad,#4ad,#4ad,#4ad,#49c,#49c,#58c,#48c)"></i><i style="background:linear-gradient(90deg,#58c,#48c,#49d,#49c,#49c,#49c,#49c,#49c,#49c,#49d,#4ad,#4ad,#49c,#49c,#49c,#4ad,#48c,#57c,#58c,#4ad,#5cb,#5cb,#5bc,#4bc,#4ac,#4ad,#49d,#49c,#49d,#4ad,#4bc,#4ad,#49c,#49d)"></i><i style="background:linear-gradient(90deg,#4ad,#49d,#49d,#4ad,#49d,#4ad,#49c,#49c,#57c,#57c,#58c,#48c,#49c,#57c,#57c,#48c,#49c,#49c,#49c,#48c,#49d,#4ad,#4bc,#4bc,#4ad,#49d,#48c,#58c,#57c,#57c,#49c,#49d,#4ad,#4ad)"></i><i style="background:linear-gradient(90deg,#57c,#56b,#56b,#57b,#58c,#58c,#48c,#49c,#4ad,#4ad,#4ad,#49c,#49c,#48c,#58c,#57c,#57c,#57c,#56b,#56b,#48c,#4ad,#4bc,#4ad,#58c,#57c,#48c,#4ad,#4bc,#4ac,#49c,#58c,#48c,#48c)"></i><i style="background:linear-gradient(90deg,#5cb,#7c8,#5cb,#4bc,#4ad,#4ad,#4ad,#4ad,#4ad,#4ad,#4ad,#49c,#49c,#4ad,#4ac,#4ad,#4ad,#4bc,#5bc,#5cb,#4bc,#4bc,#4bc,#4bc,#5bc,#5cb,#5cb,#6ca,#6c9,#5cb,#4ac,#4ad,#4ad,#4bc)"></i></div>
<div class="hm" style="left:505.2px;top:541.4px;width:412.5px;height:397.4px"><i style="background:linear-gradient(90deg,#48c,#57b,#57c,#57b,#57c,#56b,#56b,#56b,#58c,#4ad,#4ac,#4ad,#48c,#56b,#55a,#55b,#55b,#55b,#54a,#55b,#56b,#58c,#49c,#49d,#4ad,#49c,#49c,#4ad,#5cb,#5cb,#5cb,#4bc,#49d,#48c)"></i><i style="background:linear-gradient(90deg,#4ad,#4bc,#4ad,#49d,#4ad,#4ad,#4ad,#49c,#58c,#56b,#56b,#55a,#56b,#56b,#58c,#48c,#49c,#48c,#57c,#56b,#55b,#55b,#56b,#48c,#49d,#48c,#57b,#55b,#55b,#55b,#56b,#58c,#49d,#4bc)"></i><i style="background:linear-gradient(90deg,#49d,#49c,#57b,#56b,#56b,#49c,#4ad,#4ac,#4ad,#49d,#49c,#48c,#49c,#4ad,#4bc,#49c,#56b,#44a,#439,#439,#54a,#49c,#4ad,#56b,#449,#54a,#56b,#49d,#4ad,#49c,#56b,#55a,#55b,#56b)"></i><i style="background:linear-gradient(90deg,#56b,#55b,#54a,#439,#54a,#55b,#57c,#57c,#56b,#54a,#55a,#55b,#57c,#58c,#57c,#56b,#54a,#54a,#54a,#55a,#55a,#56b,#58c,#48c,#56b,#56b,#56b,#49d,#49d,#49d,#56b,#55b,#55a,#55b)"></i><i style="background:linear-gradient(90deg,#55b,#55a,#54a,#55a,#58c,#49c,#58c,#55b,#55a,#55a,#55b,#57c,#58c,#49c,#57c,#56b,#55b,#55b,#56b,#57b,#58c,#48c,#48c,#48c,#57c,#57c,#55b,#55a,#54a,#54a,#44a,#54a,#55b,#56b)"></i><i style="background:linear-gradient(90deg,#56b,#55b,#439,#439,#54a,#57b,#57c,#48c,#48c,#4ad,#4bc,#4bc,#48c,#55b,#54a,#55b,#48c,#49c,#54a,#439,#439,#449,#439,#44a,#44a,#55b,#54a,#449,#439,#55b,#58c,#48c,#56b,#54a)"></i><i style="background:linear-gradient(90deg,#4bc,#4bc,#49c,#57b,#55b,#55b,#55b,#55b,#56b,#57c,#58c,#57c,#56b,#55b,#55a,#55a,#55b,#55b,#55a,#44a,#439,#439,#439,#439,#439,#55a,#56b,#56b,#56b,#55b,#55b,#56b,#56b,#56b)"></i><i style="background:linear-gradient(90deg,#49d,#4ad,#49c,#48c,#49c,#49d,#49d,#48c,#58c,#4ad,#4bc,#4bc,#49d,#48c,#57c,#56b,#54a,#449,#439,#54a,#55b,#57c,#49c,#4ac,#5bc,#5bc,#4ad,#57c,#56b,#57c,#49c,#4ad,#4ad,#4ad)"></i><i style="background:linear-gradient(90deg,#54a,#54a,#56b,#56b,#56b,#54a,#54a,#439,#439,#439,#55a,#57c,#58c,#57c,#56b,#54a,#439,#54a,#56b,#49c,#4ad,#49d,#49c,#57c,#57c,#57b,#48c,#4ad,#4bc,#4ad,#4bc,#5bc,#7c8,#6ca)"></i><i style="background:linear-gradient(90deg,#54a,#55a,#55b,#57c,#48c,#48c,#58c,#48c,#58c,#57c,#56b,#55a,#55b,#56b,#57b,#56b,#55a,#55a,#55a,#55b,#55a,#56b,#49d,#5bc,#4bc,#4ad,#49d,#49c,#57c,#56b,#56b,#56b,#54a,#449)"></i><i style="background:linear-gradient(90deg,#56b,#56b,#56b,#58c,#57c,#57b,#57b,#57b,#56b,#55a,#56b,#48c,#4bc,#4bc,#4bc,#4ad,#4ad,#49c,#58c,#48c,#48c,#49c,#49d,#4bc,#5bc,#4ad,#48c,#56b,#57c,#48c,#49d,#48c,#57c,#56b)"></i><i style="background:linear-gradient(90deg,#5bc,#4bc,#58c,#54a,#439,#54a,#54a,#55a,#54a,#55a,#55a,#56b,#57b,#57b,#56b,#55a,#54a,#54a,#57c,#4ac,#5cb,#4bc,#4ad,#48c,#49c,#58c,#58c,#57c,#57c,#57b,#56b,#57c,#49c,#4ac)"></i><i style="background:linear-gradient(90deg,#49d,#49c,#57c,#58c,#57b,#57b,#55a,#55a,#56b,#49c,#49c,#49c,#57c,#57c,#56b,#56b,#55a,#439,#439,#439,#439,#54a,#57b,#49c,#49d,#49c,#48c,#58c,#57b,#56b,#55b,#55b,#55b,#57c)"></i><i style="background:linear-gradient(90deg,#56b,#54a,#54a,#54a,#55b,#56b,#57b,#55b,#44a,#439,#439,#54a,#55a,#55b,#55b,#55b,#55b,#57c,#49c,#49c,#56b,#55a,#54a,#56b,#56b,#56b,#56b,#56b,#54a,#439,#439,#439,#54a,#55b)"></i><i style="background:linear-gradient(90deg,#56b,#57b,#49c,#5cb,#8c6,#db3,#fb3,#fc3,#fc3,#eb3,#ac4,#5cb,#4ad,#48c,#48c,#58c,#56b,#54a,#54a,#56b,#58c,#49c,#49c,#48c,#48c,#4ad,#4bc,#4bc,#4ac,#4ad,#4ad,#48c,#48c,#49c)"></i><i style="background:linear-gradient(90deg,#57c,#57b,#56b,#57b,#56b,#56b,#58c,#4bc,#6ca,#6ca,#4bc,#4ad,#49d,#49c,#49d,#48c,#49d,#49d,#4ad,#48c,#58c,#58c,#49c,#49c,#57c,#56b,#56b,#58c,#49d,#4ad,#4ad,#49d,#48c,#48c)"></i><i style="background:linear-gradient(90deg,#54a,#55a,#56b,#58c,#57c,#56b,#56b,#56b,#55b,#55a,#55a,#54a,#55a,#55a,#55b,#57c,#4ad,#4bc,#5bc,#5cb,#4bc,#4ad,#58c,#58c,#48c,#49d,#58c,#55b,#55a,#56b,#48c,#49c,#48c,#48c)"></i><i style="background:linear-gradient(90deg,#55b,#55b,#55a,#54a,#54a,#56b,#57c,#49c,#48c,#48c,#57c,#58c,#48c,#48c,#57c,#56b,#56b,#56b,#56b,#57c,#56b,#57b,#56b,#57b,#58c,#49c,#4bc,#4bc,#5bc,#4ad,#48c,#57c,#57c,#58c)"></i><i style="background:linear-gradient(90deg,#439,#439,#439,#439,#439,#439,#439,#55a,#54a,#54a,#449,#54a,#54a,#56b,#57c,#49c,#58c,#56b,#55a,#56b,#56b,#57c,#57c,#58c,#58c,#4bc,#7c7,#bc3,#7c8,#4bc,#49c,#4ad,#4ac,#49c)"></i><i style="background:linear-gradient(90deg,#54a,#439,#439,#439,#439,#44a,#55b,#48c,#49c,#48c,#57c,#57c,#56b,#55b,#55b,#57b,#55b,#54a,#439,#439,#54a,#56b,#48c,#4bc,#5cb,#5cb,#4ad,#49d,#49c,#48c,#57c,#56b,#56b,#57c)"></i><i style="background:linear-gradient(90deg,#56b,#54a,#439,#44a,#54a,#55a,#54a,#439,#439,#439,#449,#55a,#56b,#57c,#57c,#57b,#56b,#56b,#56b,#56b,#56b,#56b,#55b,#54a,#44a,#54a,#55a,#55b,#55b,#439,#439,#439,#439,#55b)"></i><i style="background:linear-gradient(90deg,#5bc,#4bc,#49d,#58c,#56b,#55b,#54a,#54a,#55a,#57b,#58c,#49c,#57c,#57b,#57b,#48c,#49c,#56b,#54a,#449,#54a,#56b,#56b,#55b,#56b,#56b,#57c,#56b,#54a,#54a,#54a,#55b,#55b,#56b)"></i><i style="background:linear-gradient(90deg,#439,#54a,#56b,#57b,#57c,#57c,#48c,#4ad,#4ad,#49c,#57c,#56b,#56b,#56b,#56b,#54a,#44a,#439,#54a,#56b,#58c,#48c,#57b,#55b,#55a,#56b,#58c,#4ad,#4ad,#49d,#57c,#55b,#56b,#57c)"></i><i style="background:linear-gradient(90deg,#58c,#49d,#4bc,#5bc,#5bc,#4ac,#48c,#56b,#56b,#57b,#57c,#57c,#57c,#57c,#49c,#4ad,#4bc,#4bc,#4ad,#49c,#56b,#56b,#57c,#49c,#4ad,#49d,#49c,#48c,#48c,#57c,#57b,#57b,#58c,#58c)"></i><i style="background:linear-gradient(90deg,#4bc,#4ad,#49d,#48c,#4ad,#6c9,#8c5,#5cb,#4bc,#49d,#49c,#49d,#4ad,#4bc,#4bc,#4bc,#4bc,#48c,#55a,#54a,#55a,#57c,#48c,#4ad,#4bc,#4bc,#4ad,#49c,#57c,#57c,#57c,#58c,#58c,#48c)"></i><i style="background:linear-gradient(90deg,#57b,#57b,#56b,#54a,#439,#54a,#57b,#49d,#48c,#57c,#57c,#49d,#4ad,#48c,#56b,#57b,#4ad,#5cb,#5ca,#5bc,#4bc,#4bc,#4bc,#48c,#57c,#57c,#49c,#48c,#57b,#55b,#54a,#54a,#44a,#439)"></i><i style="background:linear-gradient(90deg,#54a,#54a,#54a,#55b,#56b,#56b,#54a,#439,#439,#439,#439,#439,#439,#54a,#55b,#57b,#48c,#49c,#48c,#57c,#55a,#439,#439,#439,#55a,#56b,#55b,#56b,#56b,#58c,#58c,#57c,#56b,#54a)"></i><i style="background:linear-gradient(90deg,#4bc,#4ad,#57c,#54a,#439,#439,#439,#439,#54a,#56b,#48c,#4ad,#4ac,#49d,#58c,#57c,#57c,#57c,#56b,#57c,#48c,#4ad,#4bc,#49c,#56b,#44a,#449,#55b,#49c,#4ac,#4ad,#57c,#57c,#57c)"></i><i style="background:linear-gradient(90deg,#54a,#56b,#49d,#4bc,#49d,#56b,#55a,#56b,#49c,#4ad,#4bc,#4ad,#4ac,#4ad,#4ad,#49d,#4ad,#4bc,#4bc,#49c,#57c,#56b,#55a,#54a,#55a,#56b,#48c,#4ad,#4ad,#4ad,#57c,#55b,#449,#54a)"></i><i style="background:linear-gradient(90deg,#48c,#58c,#57b,#56b,#57c,#49d,#4bc,#5cb,#4bc,#49c,#56b,#54a,#54a,#54a,#55b,#56b,#58c,#57c,#57c,#57c,#4ad,#4bc,#5cb,#4bc,#4ad,#4ad,#4ad,#4ad,#4ad,#4ad,#4ad,#4bc,#4ad,#49d)"></i><i style="background:linear-gradient(90deg,#57c,#4ad,#5bc,#5cb,#4bc,#5bc,#5cb,#4bc,#4ad,#49c,#49c,#57c,#57c,#57b,#57c,#57c,#56b,#57c,#58c,#57c,#55b,#55b,#55b,#56b,#55a,#55b,#54a,#54a,#439,#439,#439,#439,#54a,#55a)"></i><i style="background:linear-gradient(90deg,#49c,#49d,#48c,#57c,#57c,#58c,#48c,#57b,#56b,#56b,#57c,#57c,#57b,#55b,#54a,#55a,#56b,#49d,#4bc,#5cb,#5cb,#5bc,#4bc,#4ad,#49c,#58c,#57b,#56b,#55b,#54a,#449,#439,#449,#449)"></i><i style="background:linear-gradient(90deg,#56b,#56b,#56b,#56b,#56b,#56b,#56b,#56b,#55a,#439,#439,#439,#439,#439,#44a,#55a,#56b,#56b,#56b,#57c,#58c,#48c,#48c,#57c,#57c,#48c,#49c,#58c,#57b,#56b,#56b,#55b,#54a,#439)"></i><i style="background:linear-gradient(90deg,#49d,#4bc,#5cb,#7c8,#5cb,#4ad,#56b,#55b,#54a,#54a,#44a,#55a,#55b,#56b,#58c,#49d,#4bc,#4bc,#4bc,#4ac,#49d,#57c,#55a,#55a,#55a,#56b,#57b,#58c,#57c,#56b,#54a,#439,#439,#439)"></i><i style="background:linear-gradient(90deg,#54a,#54a,#54a,#55a,#57c,#48c,#58c,#56b,#56b,#58c,#4ad,#57b,#57c,#57c,#48c,#49d,#4bc,#5bc,#5bc,#4bc,#4bc,#4bc,#4ad,#4ad,#48c,#57c,#56b,#57b,#48c,#49c,#49d,#58c,#56b,#55a)"></i><i style="background:linear-gradient(90deg,#54a,#56b,#56b,#56b,#56b,#56b,#57c,#56b,#55a,#54a,#56b,#48c,#58c,#56b,#56b,#48c,#4ac,#4bc,#49d,#56b,#54a,#439,#439,#55b,#57b,#48c,#58c,#49c,#4ad,#4ad,#58c,#56b,#56b,#56b)"></i><i style="background:linear-gradient(90deg,#48c,#48c,#57c,#56b,#57c,#49c,#49d,#48c,#57b,#56b,#55a,#54a,#54a,#55a,#55b,#55b,#54a,#44a,#54a,#54a,#55a,#44a,#54a,#439,#54a,#54a,#55b,#55b,#56b,#56b,#57c,#57c,#49c,#58c)"></i><i style="background:linear-gradient(90deg,#4bc,#4ad,#58c,#57c,#58c,#49d,#49c,#58c,#57c,#56b,#57b,#56b,#55b,#54a,#55b,#56b,#58c,#48c,#58c,#58c,#56b,#55a,#449,#449,#54a,#55b,#57c,#49d,#4ac,#4ad,#58c,#57c,#48c,#49c)"></i><i style="background:linear-gradient(90deg,#57c,#48c,#58c,#49c,#48c,#58c,#58c,#48c,#58c,#56b,#54a,#54a,#57b,#4ad,#4ad,#4bc,#49d,#49d,#4ad,#4ad,#48c,#57b,#55b,#54a,#439,#439,#439,#54a,#54a,#55a,#55a,#57b,#48c,#49c)"></i><i style="background:linear-gradient(90deg,#57c,#56b,#56b,#55b,#55a,#55a,#55a,#55a,#56b,#58c,#4ad,#4ac,#4ac,#4ad,#4bc,#4ad,#4ad,#4ad,#4ad,#4bc,#4ad,#49d,#57c,#57c,#57c,#49d,#49d,#4ad,#4ad,#49c,#56b,#54a,#449,#54a)"></i><i style="background:linear-gradient(90deg,#55b,#55b,#56b,#55a,#55b,#55b,#57c,#57c,#58c,#57b,#56b,#56b,#58c,#4ad,#5ca,#ac4,#ac4,#6c9,#5bc,#4bc,#4ad,#56b,#54a,#439,#439,#439,#54a,#55a,#55b,#56b,#56b,#57b,#57c,#57c)"></i><i style="background:linear-gradient(90deg,#4bc,#5bc,#4bc,#49c,#58c,#48c,#4ac,#5bc,#4bc,#49c,#56b,#55a,#55b,#55b,#56b,#57c,#48c,#48c,#58c,#57c,#55b,#54a,#439,#439,#54a,#54a,#55a,#56b,#55b,#56b,#56b,#48c,#58c,#56b)"></i><i style="background:linear-gradient(90deg,#56b,#56b,#57b,#58c,#57c,#56b,#55a,#54a,#54a,#55a,#56b,#48c,#4ad,#4bc,#4ad,#48c,#58c,#49c,#49d,#58c,#57b,#57b,#48c,#48c,#48c,#58c,#57c,#48c,#57c,#57c,#54a,#439,#439,#54a)"></i><i style="background:linear-gradient(90deg,#49c,#4ad,#4ad,#49c,#48c,#58c,#4ad,#4ac,#5bc,#4ac,#4ad,#4ad,#5bc,#5cb,#4bc,#4bc,#5bc,#5cb,#5cb,#49d,#49c,#57c,#57b,#54a,#439,#54a,#56b,#58c,#57c,#58c,#48c,#49d,#49c,#49c)"></i><i style="background:linear-gradient(90deg,#5bc,#4bc,#4ad,#4ac,#5bc,#6ca,#6ca,#5cb,#4bc,#4bc,#4ac,#5bc,#5cb,#7c7,#6ca,#4bc,#58c,#58c,#49d,#5bc,#5cb,#4ad,#49c,#57c,#49c,#49c,#49d,#48c,#48c,#57c,#49c,#49c,#48c,#56b)"></i><i style="background:linear-gradient(90deg,#5bc,#5cb,#5cb,#5cb,#4bc,#4bc,#4ad,#4ad,#49c,#48c,#56b,#56b,#58c,#49c,#4ad,#49d,#4ad,#49c,#57c,#55a,#439,#439,#439,#439,#439,#439,#439,#439,#55b,#57c,#56b,#439,#439,#439)"></i><i style="background:linear-gradient(90deg,#4ad,#4ad,#4ad,#49c,#57c,#57c,#4ad,#5cb,#9c4,#8c5,#7c7,#5cb,#5cb,#5bc,#5cb,#5bc,#5bc,#4ad,#4ad,#49d,#4ad,#4bc,#5cc,#5bc,#4ad,#48c,#58c,#4ad,#5bc,#4bc,#49c,#56b,#55a,#55a)"></i><i style="background:linear-gradient(90deg,#4ad,#4bc,#49d,#49d,#4bc,#bc3,#fc3,#ee2,#ee2,#ac4,#6c9,#7c7,#bc3,#cc3,#ac3,#8c6,#6ca,#5cb,#4ac,#49d,#57c,#56b,#55b,#54a,#439,#439,#55a,#48c,#4bc,#4ad,#49c,#57b,#56b,#55a)"></i><i style="background:linear-gradient(90deg,#4ad,#4ad,#49d,#49c,#49d,#4bc,#dc3,#dc3,#5cb,#4ad,#4ad,#4ad,#4bc,#4bc,#5bc,#4bc,#4ad,#5cc,#7c7,#4bc,#49c,#57c,#56b,#56b,#56b,#56b,#55b,#55a,#55a,#55b,#54a,#449,#439,#439)"></i><i style="background:linear-gradient(90deg,#4ac,#4bc,#6c9,#7c7,#8c6,#6c9,#6c9,#7c8,#9c5,#9c4,#8c7,#7c8,#7c7,#ac4,#ac4,#9c5,#9c5,#8c6,#7c8,#5cb,#6ca,#5bc,#4ad,#56b,#55a,#55a,#56b,#57c,#56b,#55a,#44a,#55a,#56b,#4ad)"></i><i style="background:linear-gradient(90deg,#5cb,#6c9,#7c8,#7c7,#7c7,#6c9,#4bc,#4bc,#5bc,#9c5,#ac4,#9c5,#5cb,#5cb,#5cb,#5bc,#4bc,#4bc,#4ad,#4ad,#49c,#58c,#57c,#57b,#57c,#57c,#56b,#55b,#55a,#56b,#56b,#57c,#56b,#54a)"></i><i style="background:linear-gradient(90deg,#49c,#49c,#4ad,#4ad,#4ac,#4bc,#5cb,#bc3,#fb3,#fc3,#ee2,#ee2,#ee2,#fd2,#7c7,#49c,#56b,#56b,#56b,#58c,#56b,#55a,#54a,#54a,#449,#439,#439,#56b,#49d,#4ad,#49d,#49c,#49d,#4ad)"></i><i style="background:linear-gradient(90deg,#55b,#55b,#56b,#48c,#49d,#4ad,#5bc,#7c8,#ac4,#bc3,#bc3,#8c6,#8c7,#8c6,#7c7,#5bc,#49c,#57c,#56b,#55a,#54a,#44a,#54a,#55b,#55b,#55a,#439,#439,#449,#55b,#56b,#57c,#57c,#57c)"></i><i style="background:linear-gradient(90deg,#7c7,#8c6,#7c7,#8c6,#7c7,#6ca,#5cc,#4bc,#5bc,#5bc,#4bc,#5bc,#6ca,#8c5,#6c9,#4bc,#4ad,#4ad,#49d,#56b,#54a,#54a,#54a,#54a,#54a,#55b,#57c,#56b,#58c,#49c,#4ad,#4ad,#4ad,#49c)"></i><i style="background:linear-gradient(90deg,#48c,#57c,#57c,#58c,#4ad,#4bc,#5cb,#5cb,#5cb,#5cb,#4bc,#4bc,#5bc,#6ca,#5cb,#4ad,#58c,#57c,#57c,#57c,#57b,#57b,#57c,#57c,#57c,#57b,#56b,#55b,#55a,#54a,#55b,#57c,#49d,#4ad)"></i><i style="background:linear-gradient(90deg,#5bc,#5bc,#4ad,#49d,#49c,#5bc,#7c7,#cc2,#cc3,#dc3,#ac4,#7c7,#5ca,#6c9,#6c9,#5cb,#4bc,#4bc,#4ad,#4ad,#48c,#56b,#55b,#56b,#48c,#4ad,#5bc,#5bc,#4bc,#49c,#58c,#58c,#57c,#57b)"></i><i style="background:linear-gradient(90deg,#4ad,#49d,#49d,#4ad,#4ad,#4bc,#4bc,#4ac,#4ad,#4bc,#5cb,#6c9,#5cb,#4ad,#49d,#4ad,#5bc,#5cb,#4ad,#58c,#56b,#55b,#57b,#49d,#4ad,#5bc,#5bc,#5cb,#4bc,#49d,#57c,#49c,#5bc,#6ca)"></i><i style="background:linear-gradient(90deg,#7c8,#6ca,#5cb,#5cb,#6c9,#8c6,#7c7,#7c7,#8c6,#8c6,#6c9,#4bc,#4bc,#4ad,#4ac,#4ac,#5bc,#6c9,#8c7,#5cb,#49d,#55b,#54a,#439,#439,#439,#44a,#44a,#439,#439,#54a,#56b,#49c,#4ad)"></i><i style="background:linear-gradient(90deg,#49c,#49c,#4ad,#4bc,#5cb,#5cb,#5cb,#5cb,#5cb,#5bc,#5bc,#6c9,#8c6,#eb3,#eb3,#fb3,#ac4,#6c9,#4ad,#49c,#58c,#49c,#48c,#49c,#48c,#49d,#48c,#48c,#58c,#49c,#48c,#57b,#54a,#44a)"></i><i style="background:linear-gradient(90deg,#4bc,#4bc,#4ad,#58c,#57c,#4bc,#6c9,#5bc,#5bc,#5cb,#5cb,#4ad,#48c,#56b,#56b,#56b,#55b,#54a,#439,#439,#44a,#54a,#54a,#54a,#54a,#56b,#49d,#4bc,#4ad,#4ad,#4ad,#4ad,#49c,#49d)"></i><i style="background:linear-gradient(90deg,#4ad,#5bc,#5cb,#6ca,#5cb,#7c9,#7c8,#7c7,#5cb,#4bc,#4ad,#4ad,#4ad,#4bc,#4bc,#4ac,#4bc,#4ad,#49c,#57c,#56b,#56b,#55b,#56b,#57b,#56b,#439,#439,#439,#439,#55b,#57b,#57b,#56b)"></i><i style="background:linear-gradient(90deg,#56b,#56b,#57c,#48c,#4ad,#49d,#48c,#57c,#58c,#4ad,#4bc,#5cb,#5cb,#5ca,#4bc,#58c,#55a,#55a,#56b,#48c,#58c,#56b,#54a,#54a,#55a,#56b,#56b,#56b,#56b,#56b,#57c,#49c,#5cb,#6ca)"></i><i style="background:linear-gradient(90deg,#48c,#48c,#49d,#48c,#49d,#4ad,#5cb,#8c6,#ac4,#9c5,#7c7,#5ca,#6ca,#8c5,#dc3,#7c8,#4ad,#58c,#56b,#55b,#54a,#44a,#449,#449,#449,#439,#439,#55a,#55b,#57c,#57b,#4ad,#4ad,#4bc)"></i><i style="background:linear-gradient(90deg,#57c,#58c,#49c,#4ad,#49d,#48c,#58c,#58c,#49c,#4ad,#4ad,#4bc,#4bc,#5cc,#4bc,#49d,#56b,#54a,#44a,#56b,#48c,#49d,#49c,#57c,#56b,#58c,#4ad,#4bc,#4ad,#58c,#57b,#57c,#58c,#58c)"></i><i style="background:linear-gradient(90deg,#48c,#4ad,#49d,#49c,#57c,#57c,#48c,#4ad,#5bc,#7c8,#9c4,#8c5,#6c9,#5cb,#5bc,#4bc,#4ad,#49d,#4ad,#49d,#48c,#55b,#55b,#57b,#48c,#58c,#55b,#54a,#439,#439,#439,#439,#54a,#56b)"></i><i style="background:linear-gradient(90deg,#58c,#58c,#48c,#4ad,#4ad,#49d,#49c,#4ad,#4bc,#5cb,#4bc,#4bc,#49d,#49c,#48c,#49c,#49c,#49c,#57c,#57c,#56b,#54a,#439,#439,#439,#439,#54a,#54a,#55b,#55b,#56b,#56b,#49c,#4ad)"></i><i style="background:linear-gradient(90deg,#5bc,#5bc,#4bc,#4ad,#4ad,#4ad,#4ad,#4bc,#4bc,#5cb,#5cb,#5bc,#5cc,#5bc,#5bc,#4ad,#49d,#57c,#57c,#56b,#56b,#54a,#54a,#54a,#55a,#55b,#48c,#4ad,#4bc,#4ad,#4ad,#4ad,#4bc,#4bc)"></i><i style="background:linear-gradient(90deg,#49d,#49c,#49d,#4bc,#5cb,#8c7,#8c5,#cc3,#eb3,#fc3,#dc3,#7c8,#4ad,#58c,#49d,#4ad,#4bc,#49d,#49c,#56b,#55b,#439,#54a,#55a,#56b,#56b,#57b,#48c,#4ad,#4bc,#4bc,#4ad,#58c,#56b)"></i><i style="background:linear-gradient(90deg,#5cb,#cc2,#bc3,#5cb,#48c,#48c,#4ad,#4bc,#4ad,#49d,#49c,#4ad,#5cc,#5cb,#5cb,#49d,#57c,#55b,#439,#439,#439,#439,#54a,#55b,#56b,#57b,#56b,#55b,#56b,#58c,#4bc,#4bc,#58c,#54a)"></i><i style="background:linear-gradient(90deg,#4bc,#4ad,#49c,#48c,#49c,#4ad,#5bc,#5cc,#5cb,#4bc,#4ad,#49d,#49d,#4ac,#4bc,#4bc,#4ad,#57c,#54a,#439,#439,#439,#55b,#56b,#48c,#48c,#58c,#57c,#57c,#57c,#57c,#48c,#49d,#4ad)"></i><i style="background:linear-gradient(90deg,#9c4,#6c9,#6ca,#5cb,#5cb,#5cb,#6ca,#7c7,#8c6,#8c5,#9c5,#8c5,#8c6,#8c6,#7c8,#4bc,#48c,#55a,#44a,#44a,#44a,#439,#439,#54a,#55b,#56b,#56b,#56b,#55a,#54a,#55a,#57c,#4ad,#4ad)"></i><i style="background:linear-gradient(90deg,#48c,#57c,#55b,#55b,#57c,#49d,#4bc,#4ad,#4bc,#4bc,#4bc,#4bc,#4ad,#48c,#56b,#54a,#439,#439,#439,#439,#439,#449,#439,#54a,#55b,#56b,#54a,#439,#439,#55a,#56b,#56b,#55a,#56b)"></i><i style="background:linear-gradient(90deg,#48c,#4bc,#4bc,#4ac,#48c,#49c,#4ad,#4bc,#4bc,#4ad,#58c,#56b,#56b,#57c,#48c,#57c,#56b,#55b,#55a,#449,#439,#439,#439,#54a,#55b,#56b,#54a,#54a,#54a,#55b,#56b,#56b,#57c,#57c)"></i><i style="background:linear-gradient(90deg,#57b,#56b,#57b,#57c,#57c,#48c,#48c,#49d,#4ad,#4bc,#4bc,#5cb,#4bc,#4bc,#4bc,#4ad,#57c,#56b,#54a,#54a,#55b,#56b,#57c,#56b,#55b,#55a,#55a,#55a,#56b,#57c,#49c,#4ad,#4ad,#49c)"></i><i style="background:linear-gradient(90deg,#ac4,#9c4,#9c4,#ac4,#cc3,#9c4,#7c7,#5ca,#7c8,#9c5,#dc3,#eb3,#fb3,#dc3,#bc3,#5cb,#4ad,#57c,#56b,#56b,#56b,#56b,#55b,#449,#54a,#54a,#55a,#439,#44a,#54a,#57b,#57b,#56b,#55b)"></i><i style="background:linear-gradient(90deg,#5cb,#6ca,#5cb,#4bc,#4ad,#4ad,#4ad,#49c,#48c,#4ad,#4ad,#4bc,#4ad,#4ad,#49c,#57c,#57c,#57c,#57c,#57b,#49c,#5cb,#6ca,#4bc,#48c,#49c,#49c,#49c,#57c,#57c,#48c,#49d,#49c,#57c)"></i><i style="background:linear-gradient(90deg,#8c6,#9c5,#6ca,#4ad,#49d,#4ad,#4bc,#4bc,#4bc,#4bc,#5cc,#6ca,#7c8,#7c7,#5cb,#4ad,#57c,#57b,#55b,#439,#439,#439,#449,#55b,#56b,#55a,#55b,#55b,#56b,#56b,#54a,#439,#439,#439)"></i><i style="background:linear-gradient(90deg,#4ad,#49d,#49c,#49c,#49d,#4bc,#5bc,#5bc,#49d,#57c,#56b,#56b,#56b,#56b,#57c,#57b,#55b,#54a,#439,#439,#54a,#57c,#49c,#57c,#56b,#54a,#54a,#55b,#56b,#58c,#4ad,#4ad,#49c,#55b)"></i><i style="background:linear-gradient(90deg,#49c,#49c,#4ad,#4ad,#49c,#56b,#55b,#57b,#48c,#4ad,#4bc,#7c8,#cc3,#eb3,#cc3,#6ca,#4ad,#57c,#54a,#44a,#54a,#56b,#57c,#57c,#55b,#54a,#439,#55a,#57c,#49c,#49d,#49c,#48c,#58c)"></i><i style="background:linear-gradient(90deg,#4ad,#4ad,#5bc,#5cb,#5bc,#4bc,#4bc,#5cb,#5cb,#5cb,#5ca,#7c7,#9c4,#6ca,#4bc,#49c,#49c,#49c,#58c,#56b,#55a,#55b,#55a,#55b,#55b,#56b,#55b,#55b,#55b,#56b,#56b,#56b,#57b,#56b)"></i><i style="background:linear-gradient(90deg,#4bc,#6ca,#5cb,#4bc,#49c,#48c,#49c,#49d,#49c,#49c,#49c,#4ad,#4ad,#4ad,#48c,#58c,#57c,#58c,#48c,#48c,#56b,#54a,#439,#449,#54a,#54a,#449,#449,#55b,#57c,#48c,#57c,#57c,#49c)"></i><i style="background:linear-gradient(90deg,#5bc,#4bc,#49d,#49c,#4bc,#6ca,#ac4,#8c6,#5cb,#4ad,#48c,#58c,#56b,#56b,#55b,#49c,#5cb,#5cb,#49c,#56b,#54a,#439,#439,#439,#55b,#55b,#56b,#56b,#58c,#48c,#57c,#56b,#56b,#57c)"></i><i style="background:linear-gradient(90deg,#9c4,#7c7,#5cc,#4ad,#4ad,#5cb,#8c5,#bc3,#ac4,#7c8,#5cb,#5bc,#4ac,#4ad,#48c,#58c,#56b,#55b,#54a,#55b,#54a,#54a,#54a,#56b,#58c,#57c,#56b,#54a,#54a,#55b,#56b,#57c,#57c,#56b)"></i><i style="background:linear-gradient(90deg,#57c,#48c,#4ad,#4bc,#4bc,#48c,#56b,#54a,#56b,#57c,#49c,#49d,#4ad,#5cc,#4bc,#49d,#56b,#54a,#54a,#55a,#56b,#48c,#49c,#4ad,#49c,#58c,#55b,#439,#54a,#56b,#58c,#57c,#57c,#57c)"></i><i style="background:linear-gradient(90deg,#4ad,#4bc,#5cb,#6ca,#5cb,#4ad,#49c,#49c,#4bc,#5cc,#4bc,#49d,#48c,#49d,#49d,#49c,#58c,#56b,#55b,#54a,#54a,#55a,#56b,#48c,#49c,#49d,#58c,#57b,#56b,#56b,#54a,#54a,#55b,#48c)"></i><i style="background:linear-gradient(90deg,#5cb,#5bc,#49d,#58c,#57c,#49d,#5cb,#7c8,#6ca,#4bc,#49d,#48c,#58c,#48c,#58c,#56b,#439,#439,#439,#439,#439,#449,#55b,#57c,#57c,#48c,#58c,#48c,#58c,#57c,#55b,#54a,#55a,#56b)"></i><i style="background:linear-gradient(90deg,#4bc,#4ad,#4bc,#4bc,#4bc,#4ac,#4ad,#4bc,#5cb,#5cb,#5bc,#49d,#48c,#48c,#49c,#4ad,#58c,#57c,#55b,#56b,#56b,#56b,#55b,#54a,#55b,#57b,#49d,#48c,#57c,#55a,#55b,#56b,#48c,#49c)"></i><i style="background:linear-gradient(90deg,#4ad,#4bc,#4bc,#5cb,#9c5,#dc3,#bc3,#5cb,#49d,#49c,#49c,#4ad,#48c,#58c,#55a,#54a,#54a,#57b,#56b,#56b,#54a,#54a,#54a,#56b,#57c,#58c,#57c,#56b,#57b,#58c,#49c,#49c,#49c,#48c)"></i><i style="background:linear-gradient(90deg,#4ac,#4ad,#4bc,#6c9,#8c6,#ac4,#bc3,#ac4,#7c8,#5cb,#5cb,#6c9,#5cb,#4ad,#58c,#57b,#58c,#49c,#4ad,#4bc,#4bc,#4ac,#49c,#48c,#48c,#49c,#48c,#48c,#48c,#58c,#57c,#57c,#4ad,#5cb)"></i><i style="background:linear-gradient(90deg,#7c7,#5cb,#5cb,#4bc,#49d,#48c,#48c,#49d,#4ad,#4bc,#4bc,#49d,#49c,#57c,#57c,#56b,#56b,#55b,#54a,#439,#439,#54a,#57c,#4ad,#5cb,#5cb,#4ad,#57c,#55b,#55b,#57b,#48c,#49d,#4ad)"></i><i style="background:linear-gradient(90deg,#5bc,#5cb,#5cb,#5ca,#5bc,#4ad,#49d,#4ad,#4bc,#5ca,#6c9,#5cb,#5bc,#4bc,#4ad,#48c,#57c,#57c,#58c,#57b,#56b,#56b,#49c,#4bc,#4ad,#58c,#56b,#56b,#56b,#58c,#49c,#4ad,#49c,#57c)"></i><i style="background:linear-gradient(90deg,#cc3,#bc3,#7c8,#5bc,#4bc,#5bc,#6c9,#9c4,#bc3,#ac4,#6c9,#4bc,#48c,#57b,#57b,#57c,#48c,#49d,#4bc,#4ac,#4ad,#48c,#58c,#57c,#57c,#48c,#49d,#4bc,#5bc,#4bc,#49c,#48c,#58c,#49c)"></i><i style="background:linear-gradient(90deg,#ac4,#cc3,#fd2,#ee2,#fd2,#bc3,#4bc,#4ad,#49d,#4ad,#4ad,#4ad,#4ad,#57c,#57c,#56b,#57c,#56b,#56b,#56b,#57c,#57c,#56b,#55a,#55a,#56b,#58c,#57c,#56b,#54a,#54a,#58c,#4bc,#4bc)"></i><i style="background:linear-gradient(90deg,#6ca,#7c8,#7c8,#5cb,#6ca,#6c9,#7c8,#5cb,#6ca,#7c7,#ac3,#ac4,#8c6,#8c6,#ac4,#bc3,#9c4,#5cb,#4bc,#49c,#58c,#56b,#48c,#4ad,#5bc,#49c,#56b,#55b,#57c,#48c,#49d,#4ad,#6ca,#bc3)"></i><i style="background:linear-gradient(90deg,#58c,#56b,#56b,#49c,#5bc,#5cb,#5cb,#5bc,#4bc,#4bc,#49d,#57c,#56b,#57c,#49c,#58c,#56b,#55b,#55b,#56b,#54a,#439,#439,#439,#439,#449,#55b,#57c,#57c,#58c,#48c,#58c,#57c,#55a)"></i><i style="background:linear-gradient(90deg,#5cb,#5cb,#4bc,#4ad,#49d,#4ad,#4bc,#5cb,#5cb,#8c6,#cc2,#5bc,#49c,#57c,#57b,#58c,#58c,#58c,#48c,#48c,#58c,#56b,#56b,#57c,#58c,#57c,#56b,#55a,#55a,#56b,#57b,#58c,#57b,#56b)"></i><i style="background:linear-gradient(90deg,#49c,#4ad,#4bc,#4bc,#4bc,#4bc,#4bc,#4bc,#4ad,#49d,#48c,#58c,#58c,#49c,#49c,#57c,#55a,#439,#449,#54a,#55b,#55b,#55b,#55b,#57c,#4ad,#6c9,#8c6,#5bc,#49c,#57b,#57c,#57c,#57c)"></i><i style="background:linear-gradient(90deg,#48c,#4ad,#5bc,#5cb,#4bc,#4ad,#48c,#56b,#57b,#58c,#4ad,#4ad,#4bc,#4bc,#49d,#57c,#56b,#56b,#57c,#48c,#49d,#49d,#49c,#49c,#49c,#4ad,#4bc,#5cb,#5bc,#4bc,#4ad,#48c,#57c,#56b)"></i><i style="background:linear-gradient(90deg,#7c7,#5ca,#5bc,#4bc,#4ad,#4bc,#4bc,#5bc,#5cb,#6c9,#6c9,#49d,#56b,#54a,#55a,#55b,#56b,#56b,#56b,#56b,#56b,#48c,#58c,#56b,#54a,#55a,#56b,#57c,#58c,#56b,#56b,#56b,#58c,#58c)"></i><i style="background:linear-gradient(90deg,#49c,#4bc,#6ca,#5cb,#4bc,#49c,#4ad,#5cb,#7c8,#5cb,#4bc,#4bc,#4ad,#48c,#56b,#56b,#56b,#57c,#58c,#58c,#48c,#56b,#57c,#58c,#49c,#49c,#48c,#57c,#57c,#58c,#48c,#57b,#56b,#54a)"></i><i style="background:linear-gradient(90deg,#6c9,#bc3,#9c4,#5ca,#4ad,#49d,#49c,#4ad,#4ad,#49d,#57c,#56b,#55a,#55a,#439,#439,#439,#54a,#55b,#57b,#57c,#57c,#56b,#56b,#55a,#55a,#54a,#55a,#56b,#58c,#48c,#58c,#57c,#49c)"></i><i style="background:linear-gradient(90deg,#5bc,#4ad,#49d,#49d,#4bc,#6c9,#9c4,#7c8,#5bc,#48c,#49d,#4bc,#49d,#49c,#4ad,#57b,#55a,#439,#54a,#449,#449,#439,#55b,#57b,#57c,#57c,#48c,#4ad,#4ad,#4ad,#48c,#56b,#54a,#449)"></i><i style="background:linear-gradient(90deg,#7c7,#7c7,#9c5,#9c4,#6c9,#4bc,#49d,#4ad,#5cb,#6ca,#5cb,#4ad,#4ad,#4bc,#5bc,#4bc,#49c,#48c,#58c,#49d,#49d,#4ad,#49c,#57c,#54a,#55a,#56b,#48c,#4ad,#4bc,#5cb,#4bc,#4ac,#4ad)"></i><i style="background:linear-gradient(90deg,#4bc,#4bc,#5cb,#5cb,#5bc,#49c,#48c,#49c,#4bc,#4ad,#4ad,#49c,#4ad,#48c,#57c,#56b,#57c,#49c,#4ad,#4ad,#49d,#49d,#4ad,#4ad,#4ad,#4ad,#4ad,#5bc,#6c9,#7c8,#8c6,#8c6,#bc3,#bc3)"></i><i style="background:linear-gradient(90deg,#49d,#49d,#49c,#49c,#49c,#4ad,#4ad,#4ad,#57c,#55b,#55b,#57c,#4ad,#4bc,#49d,#55b,#449,#54a,#55a,#56b,#56b,#56b,#55b,#56b,#4ad,#7c7,#eb3,#ac4,#5cb,#49d,#48c,#56b,#56b,#57c)"></i><i style="background:linear-gradient(90deg,#6c9,#6c9,#5cb,#4bc,#4ad,#4ad,#4bc,#5cb,#5cb,#4ac,#4ad,#4ad,#49d,#56b,#55b,#54a,#55b,#55a,#56b,#57c,#49d,#48c,#58c,#58c,#48c,#48c,#57b,#56b,#54a,#54a,#449,#54a,#55a,#57b)"></i><i style="background:linear-gradient(90deg,#eb3,#fb3,#bc3,#7c8,#5cb,#5bc,#4ad,#58c,#57b,#58c,#49c,#48c,#56b,#55a,#54a,#54a,#439,#439,#439,#439,#55b,#57b,#56b,#56b,#57c,#58c,#48c,#4ad,#4bc,#4bc,#4bc,#49d,#48c,#57c)"></i><i style="background:linear-gradient(90deg,#9c5,#8c6,#5cb,#5cb,#6c9,#8c6,#6c9,#4bc,#4bc,#6c9,#dc3,#cc3,#8c6,#4ad,#49c,#57c,#56b,#55b,#57c,#4ad,#4bc,#49d,#4ad,#4ad,#5bc,#5cc,#5cb,#5cb,#4bc,#4ad,#4ad,#4bc,#5bc,#4bc)"></i><i style="background:linear-gradient(90deg,#ac4,#ac4,#ac4,#7c7,#6c9,#6c9,#6ca,#7c8,#6ca,#5bc,#48c,#56b,#56b,#58c,#48c,#57c,#57b,#58c,#57c,#57c,#57b,#56b,#56b,#55a,#55b,#57c,#49c,#49d,#4ad,#4ad,#4bc,#4ad,#48c,#57c)"></i><i style="background:linear-gradient(90deg,#4ad,#4ad,#4ad,#4ad,#4bc,#6c9,#7c7,#7c7,#5ca,#6ca,#7c8,#8c6,#7c8,#4bc,#58c,#44a,#439,#439,#55a,#58c,#49d,#4ad,#4bc,#5bc,#5cb,#5cb,#4bc,#4ad,#4ad,#49d,#49c,#49c,#4ad,#4bc)"></i><i style="background:linear-gradient(90deg,#cc3,#eb3,#fc3,#fc3,#fc3,#eb3,#cc3,#ac4,#8c6,#5cb,#5cb,#4bc,#49d,#56b,#56b,#49d,#7c7,#8c6,#9c5,#8c6,#5cb,#4bc,#4bc,#4bc,#5bc,#4bc,#4ad,#48c,#48c,#49d,#4bc,#4bc,#5bc,#4bc)"></i><i style="background:linear-gradient(90deg,#4ad,#4ad,#5bc,#5bc,#5bc,#5cb,#7c8,#ac4,#bc3,#8c6,#5ca,#4bc,#4ad,#58c,#48c,#49c,#49d,#49c,#48c,#57c,#56b,#55b,#56b,#48c,#4ad,#4bc,#5cb,#5cb,#4ad,#58c,#56b,#49c,#49c,#48c)"></i><i style="background:linear-gradient(90deg,#4ad,#4bc,#5bc,#5bc,#4bc,#4ad,#49d,#49d,#4ad,#5bc,#5bc,#5bc,#4bc,#4bc,#4ad,#4ad,#49d,#49c,#48c,#48c,#58c,#57c,#57c,#57c,#48c,#49c,#4ad,#4ad,#49c,#58c,#48c,#49d,#4ad,#4bc)"></i><i style="background:linear-gradient(90deg,#4bc,#4ad,#49c,#57c,#57b,#57c,#48c,#48c,#49c,#49d,#4ad,#49d,#48c,#49c,#49d,#4bc,#4ac,#4ad,#4ad,#4bc,#7c8,#dc3,#fb3,#dc3,#8c5,#5cb,#5cb,#5bc,#4bc,#4ad,#4ad,#4ac,#4bc,#5cb)"></i><i style="background:linear-gradient(90deg,#49c,#58c,#48c,#4ac,#6ca,#9c4,#6c9,#4ad,#4ad,#4ad,#49d,#49d,#4ad,#5cb,#8c6,#bc3,#bc3,#cc2,#cc3,#cc3,#cc3,#bc3,#9c4,#5ca,#4bc,#4ad,#4bc,#5bc,#5cb,#5bc,#4bc,#5bc,#4ad,#57c)"></i><i style="background:linear-gradient(90deg,#58c,#49c,#49c,#49c,#49c,#49c,#58c,#57c,#57c,#48c,#4ad,#4bc,#5cb,#6c9,#6c9,#5cb,#4bc,#4ad,#4bc,#5cb,#8c6,#8c7,#5cb,#4ad,#49c,#48c,#57c,#57c,#58c,#4ad,#49c,#57c,#56b,#56b)"></i><i style="background:linear-gradient(90deg,#4ad,#4ad,#5bc,#5cb,#5cb,#5cb,#4bc,#49d,#58c,#57b,#57c,#48c,#49d,#4ad,#4ad,#4bc,#5cb,#5cb,#6c9,#7c8,#7c7,#7c7,#8c5,#6c9,#5bc,#4ad,#4ad,#49d,#49d,#49c,#49c,#49d,#48c,#49c)"></i><i style="background:linear-gradient(90deg,#49d,#57c,#56b,#54a,#54a,#55a,#56b,#48c,#49c,#4bc,#4bc,#4ad,#4ad,#4ac,#4bc,#5bc,#4ac,#4ad,#49d,#4bc,#5bc,#5cb,#5cb,#4bc,#4ad,#48c,#57c,#57c,#49c,#4bc,#4bc,#49d,#57c,#56b)"></i><i style="background:linear-gradient(90deg,#4ad,#4bc,#5bc,#5cb,#5bc,#4bc,#4ad,#48c,#57c,#57c,#48c,#4ad,#5cb,#5cb,#5cb,#4ad,#4bc,#4bc,#6ca,#bc3,#fc3,#fc3,#ac3,#5cb,#4bc,#4bc,#5bc,#4bc,#5bc,#5bc,#5cb,#4ad,#57c,#55b)"></i><i style="background:linear-gradient(90deg,#56b,#48c,#48c,#58c,#49c,#49d,#4ad,#4ad,#49d,#49c,#49c,#49d,#4ad,#5cb,#8c6,#bc3,#cc3,#bc3,#9c5,#8c6,#5cb,#5cb,#5bc,#5bc,#4bc,#4bc,#4bc,#4bc,#4ad,#49c,#48c,#57c,#57c,#48c)"></i><i style="background:linear-gradient(90deg,#49c,#48c,#49c,#57c,#57c,#56b,#57c,#49c,#4ad,#49d,#48c,#57c,#57c,#48c,#4ad,#4bc,#4bc,#4ac,#4ad,#4ad,#4bc,#7c8,#ac4,#5cb,#49c,#56b,#56b,#56b,#57c,#56b,#55b,#439,#439,#54a)"></i><i style="background:linear-gradient(90deg,#49c,#49c,#58c,#56b,#55b,#55b,#56b,#56b,#48c,#4ad,#4ad,#4ad,#49c,#4ad,#4ad,#4bc,#5cb,#6c9,#5cb,#4ac,#49c,#49c,#49d,#49c,#56b,#55a,#55b,#58c,#4ad,#5cb,#6c9,#5cb,#4bc,#4ad)"></i><i style="background:linear-gradient(90deg,#439,#439,#449,#57b,#49d,#4bc,#49c,#57c,#57c,#49c,#4ad,#4ad,#4bc,#4bc,#4bc,#5cb,#5cb,#6ca,#6c9,#ac3,#bc3,#7c7,#4bc,#4ad,#4ac,#4ad,#4bc,#4bc,#6c9,#6ca,#5bc,#49d,#48c,#58c)"></i><i style="background:linear-gradient(90deg,#439,#439,#439,#439,#55a,#54a,#54a,#55a,#55b,#56b,#56b,#56b,#56b,#57c,#49c,#4ac,#5bc,#5bc,#4bc,#49c,#56b,#55b,#56b,#57c,#4ad,#4bc,#4bc,#4ad,#57c,#55a,#55a,#55b,#57c,#57c)"></i><i style="background:linear-gradient(90deg,#54a,#54a,#54a,#56b,#48c,#4bc,#5cb,#5cb,#4bc,#4bc,#6ca,#bc3,#eb3,#eb3,#cc3,#cc3,#ac4,#5ca,#4ad,#49c,#4bc,#5cb,#5cb,#5cb,#5cb,#6c9,#6c9,#5cb,#5cb,#5cb,#5cb,#5cb,#6ca,#8c5)"></i><i style="background:linear-gradient(90deg,#57c,#56b,#56b,#57b,#57c,#58c,#57c,#57b,#57c,#49c,#4ac,#5cc,#6c9,#bc3,#fc3,#ee2,#ee2,#fc3,#9c5,#4bc,#4ad,#4ad,#4bc,#4bc,#4ac,#4bc,#4bc,#5cb,#7c8,#5cb,#4bc,#48c,#49d,#4bc)"></i><i style="background:linear-gradient(90deg,#55b,#55b,#44a,#54a,#54a,#55b,#55b,#56b,#58c,#4ad,#4ad,#5bc,#6c9,#ac4,#dc3,#cc3,#cc3,#6c9,#4bc,#49c,#57c,#55b,#55a,#55a,#55b,#56b,#55a,#55a,#55b,#57c,#48c,#58c,#57b,#56b)"></i><i style="background:linear-gradient(90deg,#49d,#49c,#49c,#49c,#48c,#57c,#56b,#57b,#48c,#58c,#57c,#57c,#49d,#6c9,#fc3,#eb3,#8c7,#5cb,#5cb,#5bc,#4bc,#4ad,#48c,#49c,#49d,#4ad,#4bc,#6ca,#cc2,#fc3,#fc3,#dc3,#8c6,#5ca)"></i><i style="background:linear-gradient(90deg,#54a,#439,#439,#439,#439,#439,#55b,#57c,#4ad,#4ad,#49c,#57b,#56b,#57b,#48c,#49c,#4ad,#4ac,#4bc,#49d,#48c,#56b,#55b,#55b,#57c,#49d,#49d,#49d,#49d,#4bc,#5cb,#6ca,#5cb,#4bc)"></i><i style="background:linear-gradient(90deg,#4ad,#48c,#57c,#56b,#57c,#58c,#58c,#56b,#55a,#54a,#54a,#54a,#55b,#58c,#4bc,#5ca,#7c7,#7c8,#7c8,#6ca,#5cb,#5cb,#5cb,#5cb,#5cc,#5bc,#4bc,#4ad,#49d,#4ad,#49c,#48c,#48c,#49c)"></i><i style="background:linear-gradient(90deg,#4ad,#4ad,#49d,#49d,#4ad,#4bc,#5bc,#5cb,#4bc,#4ac,#4ad,#4ad,#4bc,#6ca,#7c7,#9c5,#7c8,#5cb,#4bc,#4ac,#49d,#58c,#57c,#48c,#4ad,#5cb,#ac4,#bc3,#8c5,#5cb,#4bc,#4ad,#49d,#48c)"></i><i style="background:linear-gradient(90deg,#48c,#48c,#56b,#54a,#439,#439,#439,#56b,#58c,#4ad,#4bc,#6c9,#bc3,#fb3,#fc3,#fc3,#cc3,#7c8,#4bc,#49d,#49d,#4ad,#4bc,#4bc,#4ad,#49c,#49c,#48c,#57c,#56b,#56b,#58c,#4bc,#7c7)"></i><i style="background:linear-gradient(90deg,#49c,#49d,#48c,#56b,#54a,#55a,#58c,#4ad,#4bc,#49d,#48c,#58c,#49c,#4ad,#5cb,#5ca,#5cb,#4ad,#49d,#48c,#49d,#48c,#48c,#57c,#56b,#56b,#57c,#4ad,#4bc,#5cb,#5cb,#5bc,#5cb,#bc3)"></i><i style="background:linear-gradient(90deg,#56b,#56b,#54a,#54a,#44a,#44a,#439,#439,#439,#439,#54a,#56b,#49c,#4bc,#6ca,#8c6,#5cb,#49d,#57c,#57c,#57c,#57c,#48c,#49d,#49c,#58c,#57c,#48c,#4ad,#49d,#58c,#55b,#58c,#4ad)"></i><i style="background:linear-gradient(90deg,#4ad,#4ac,#49d,#49d,#57c,#57c,#57c,#4ad,#4bc,#5bc,#4bc,#4ac,#4bc,#5cb,#bc3,#fc3,#ee2,#ee2,#ee2,#fd2,#cc2,#5cb,#49d,#58c,#48c,#49d,#4bc,#5cb,#ac4,#fb3,#ed2,#ed2,#cc3,#5bc)"></i><i style="background:linear-gradient(90deg,#48c,#49c,#49c,#49d,#4ad,#4bc,#4ad,#49c,#57c,#49c,#4bc,#7c8,#9c5,#ac4,#ac4,#9c4,#6c9,#5cb,#5bc,#5cb,#5bc,#4bc,#4ac,#4bc,#4bc,#4ac,#49c,#57c,#56b,#55b,#56b,#58c,#49d,#4ad)"></i><i style="background:linear-gradient(90deg,#439,#449,#55b,#49c,#4ad,#5bc,#4bc,#4ad,#48c,#58c,#48c,#48c,#49c,#49c,#49d,#4bc,#4bc,#5cc,#5cb,#6ca,#5cc,#4bc,#4bc,#4ad,#49d,#49d,#4ad,#4ac,#4ad,#4ad,#49c,#49d,#49d,#4ad)"></i><i style="background:linear-gradient(90deg,#4ad,#4ad,#4ad,#4bc,#4bc,#4bc,#4ac,#4bc,#4ad,#4ad,#49c,#58c,#58c,#48c,#4ad,#4bc,#5cc,#4bc,#5bc,#4bc,#4ac,#4ad,#4ad,#4ac,#5cb,#6ca,#5ca,#4ac,#49c,#48c,#49d,#4ac,#4bc,#5cb)"></i><i style="background:linear-gradient(90deg,#57b,#56b,#56b,#58c,#49d,#4bc,#4bc,#4ac,#4ad,#4bc,#4ad,#4ad,#48c,#4ad,#4bc,#5cb,#4bc,#4bc,#4ad,#49c,#57b,#57b,#57c,#4ad,#4ad,#4bc,#4ad,#48c,#57c,#48c,#4ad,#5cc,#5bc,#4bc)"></i><i style="background:linear-gradient(90deg,#56b,#48c,#4ad,#4bc,#5cb,#5cb,#5cc,#4bc,#4bc,#4bc,#5cb,#5ca,#8c6,#8c5,#8c6,#5bc,#4ad,#48c,#49c,#49c,#49c,#4ad,#4ad,#4bc,#49c,#57c,#56b,#48c,#5cb,#bc3,#cc3,#8c5,#5cb,#4bc)"></i><i style="background:linear-gradient(90deg,#5bc,#8c5,#6c9,#5bc,#5bc,#7c8,#ac4,#bc3,#cc3,#eb3,#eb3,#fb3,#9c4,#6c9,#4ac,#4ad,#4ad,#4bc,#5cc,#5cb,#5cb,#5ca,#5cb,#ac4,#eb3,#cc3,#8c5,#7c7,#6ca,#5cb,#5bc,#4bc,#4ac,#49d)"></i><i style="background:linear-gradient(90deg,#54a,#55a,#55b,#56b,#57c,#48c,#48c,#49c,#57c,#56b,#57c,#49d,#4bc,#5cb,#5cb,#4bc,#4ad,#49c,#48c,#49c,#49c,#4ad,#49c,#4ad,#49d,#49d,#49c,#5bc,#5cb,#49c,#58c,#49c,#4ad,#9c5)"></i><i style="background:linear-gradient(90deg,#4ad,#4bc,#5cb,#5cb,#4bc,#48c,#56b,#55a,#55b,#55b,#56b,#56b,#57b,#57c,#48c,#4ad,#4ad,#4ad,#4ad,#4ad,#49d,#57c,#57b,#58c,#49c,#49d,#48c,#48c,#4ad,#5bc,#6c9,#7c8,#7c8,#5cb)"></i><i style="background:linear-gradient(90deg,#57c,#49c,#4bc,#7c7,#9c5,#7c8,#5bc,#4bc,#4bc,#4bc,#4bc,#4ad,#49d,#57c,#56b,#55b,#57b,#49c,#4bc,#5bc,#5cb,#4bc,#4ad,#48c,#48c,#57c,#57b,#56b,#57c,#58c,#48c,#49d,#4ad,#4ad)"></i><i style="background:linear-gradient(90deg,#4bc,#4bc,#5cb,#5cb,#5cb,#4ac,#4ad,#4ad,#4bc,#5bc,#4bc,#4ad,#4ad,#49d,#57c,#56b,#56b,#58c,#48c,#58c,#57b,#58c,#57c,#57b,#56b,#56b,#58c,#4bc,#6ca,#8c7,#6c9,#5cb,#4bc,#4bc)"></i><i style="background:linear-gradient(90deg,#5bc,#4ad,#48c,#57c,#57c,#4ad,#5cb,#7c8,#5cb,#49d,#57c,#56b,#58c,#49c,#58c,#55b,#54a,#56b,#57c,#57c,#56b,#56b,#55b,#56b,#56b,#56b,#55b,#57b,#58c,#4ad,#4ad,#4ad,#48c,#56b)"></i><i style="background:linear-gradient(90deg,#fc3,#fc3,#eb3,#eb3,#db3,#cc3,#8c5,#7c8,#7c8,#7c7,#6ca,#5cb,#5bc,#4ac,#49c,#58c,#49c,#4ac,#4bc,#4ad,#49c,#58c,#57c,#57c,#49c,#4ad,#4ac,#4ad,#4bc,#4bc,#6ca,#6ca,#6ca,#5cb)"></i><i style="background:linear-gradient(90deg,#5bc,#5cb,#5cb,#5cb,#4bc,#4ad,#4bc,#5cb,#6ca,#6ca,#5cb,#5bc,#49d,#48c,#58c,#48c,#57c,#56b,#56b,#57c,#49c,#49d,#49c,#48c,#48c,#49c,#49c,#49c,#49c,#49d,#4ad,#4bc,#4bc,#4ad)"></i><i style="background:linear-gradient(90deg,#bc3,#dc3,#fb3,#fd2,#fd3,#fc3,#eb3,#cc2,#cc3,#eb3,#fb3,#8c5,#4bc,#4ad,#4ad,#49d,#4ad,#4bc,#5bc,#5bc,#4bc,#4bc,#4ad,#49c,#49c,#4bc,#5cc,#5cb,#4bc,#4ac,#4ad,#4ad,#5cb,#6c9)"></i><i style="background:linear-gradient(90deg,#7c7,#5cb,#49d,#49c,#49c,#4ac,#4bc,#5cb,#7c8,#9c5,#8c5,#6ca,#5bc,#4bc,#4bc,#49d,#49c,#48c,#49c,#48c,#57c,#57c,#4bc,#bc3,#9c4,#4bc,#48c,#58c,#49c,#4ad,#4ad,#4ad,#4bc,#4bc)"></i><i style="background:linear-gradient(90deg,#7c7,#6c9,#5bc,#4ad,#4ad,#4bc,#4bc,#4bc,#4bc,#5bc,#5bc,#4bc,#49c,#48c,#57b,#56b,#56b,#57c,#48c,#4bc,#5cb,#6ca,#5bc,#4ad,#4ad,#49d,#49d,#48c,#4ad,#4bc,#7c8,#ac4,#cc2,#ac4)"></i><i style="background:linear-gradient(90deg,#8c6,#6c9,#6ca,#6ca,#6c9,#5cb,#5cb,#5cb,#6c9,#6c9,#5cb,#4bc,#49c,#57b,#55a,#55b,#57c,#4ad,#4ad,#49c,#57c,#55a,#55b,#57c,#48c,#58c,#57c,#56b,#55b,#55b,#57c,#48c,#58c,#57b)"></i><i style="background:linear-gradient(90deg,#ac4,#ac4,#8c5,#6c9,#5ca,#5bc,#4bc,#4ad,#4ad,#4bc,#4bc,#5bc,#4ad,#48c,#57c,#58c,#49c,#49d,#58c,#56b,#55b,#55a,#55b,#57b,#4ad,#5cb,#ac4,#9c4,#cc2,#bc3,#cc2,#9c5,#6ca,#5bc)"></i><i style="background:linear-gradient(90deg,#5cb,#5cb,#7c7,#fc3,#ee2,#ee2,#ee2,#ee2,#fc3,#dc3,#bc3,#dc3,#cc3,#ac4,#5cb,#49d,#48c,#49c,#4ad,#4ad,#4bc,#5bc,#5cb,#5bc,#4ad,#48c,#57b,#56b,#57c,#57c,#58c,#48c,#49c,#49d)"></i><i style="background:linear-gradient(90deg,#eb3,#cc3,#8c5,#7c7,#5cb,#4bc,#49c,#4ad,#4bc,#5cb,#5cb,#5bc,#4bc,#4ad,#49d,#58c,#57c,#56b,#56b,#56b,#57c,#58c,#49d,#49d,#4ad,#49d,#4ad,#49c,#4ad,#49c,#49d,#4bc,#5cb,#4bc)"></i><i style="background:linear-gradient(90deg,#7c7,#5cb,#8c5,#dc3,#fc3,#fc3,#fb3,#bc3,#7c7,#5cb,#4bc,#4ad,#49c,#57c,#56b,#54a,#54a,#54a,#54a,#55b,#57c,#4ad,#4bc,#4bc,#49d,#49d,#49c,#49c,#49c,#4ad,#4bc,#4ad,#49c,#48c)"></i><i style="background:linear-gradient(90deg,#8c6,#ac4,#ac4,#dc3,#eb3,#dc3,#7c7,#6c9,#9c4,#dc3,#bc3,#6c9,#4bc,#4ad,#49c,#57c,#55b,#55b,#56b,#56b,#55b,#54a,#54a,#56b,#58c,#49c,#49c,#49d,#58c,#48c,#48c,#49d,#49c,#48c)"></i><i style="background:linear-gradient(90deg,#7c8,#9c4,#fb3,#fb3,#bc3,#5cb,#4bc,#5bc,#5cb,#6c9,#5cb,#4bc,#48c,#57c,#56b,#56b,#55b,#55b,#56b,#57c,#58c,#56b,#56b,#57b,#48c,#58c,#57c,#57c,#58c,#57c,#57c,#48c,#4ad,#5bc)"></i><i style="background:linear-gradient(90deg,#4ad,#4bc,#4bc,#5cb,#5cb,#5cb,#5ca,#7c8,#9c5,#7c8,#5cb,#4bc,#4ac,#4ad,#49d,#49c,#49d,#4ad,#49c,#49d,#4ad,#5ca,#7c8,#5cb,#4bc,#49d,#49d,#49d,#49c,#48c,#49c,#49c,#49c,#49c)"></i><i style="background:linear-gradient(90deg,#4bc,#5cb,#5bc,#4bc,#5bc,#5cb,#5cb,#4ad,#49d,#4ad,#5bc,#5cb,#4bc,#48c,#57c,#56b,#57c,#56b,#55b,#55b,#48c,#4ad,#5cc,#4ad,#49c,#56b,#55b,#55a,#55a,#55b,#56b,#57b,#58c,#48c)"></i><i style="background:linear-gradient(90deg,#5cb,#8c6,#9c5,#6c9,#4bc,#49c,#4ad,#4bc,#5cb,#5cb,#5bc,#5cb,#5bc,#4bc,#49d,#56b,#55a,#439,#439,#439,#439,#54a,#55a,#55b,#55a,#54a,#44a,#439,#54a,#55b,#57c,#49d,#5cb,#5cb)"></i><i style="background:linear-gradient(90deg,#4bc,#5bc,#6c9,#ac4,#cc3,#ac4,#7c8,#5cb,#6c9,#9c5,#bc3,#bc3,#9c4,#9c5,#9c4,#7c8,#4bc,#57c,#54a,#449,#55b,#48c,#4ac,#5cb,#4ad,#48c,#48c,#49c,#4ad,#4bc,#4ad,#4ad,#48c,#48c)"></i><i style="background:linear-gradient(90deg,#5cc,#4bc,#4bc,#5cb,#5cb,#5cb,#5bc,#5bc,#4bc,#4ad,#49d,#58c,#57c,#48c,#49d,#4ad,#4ac,#5bc,#5cb,#5cb,#5bc,#4bc,#4bc,#6ca,#bc3,#cc3,#8c5,#5cb,#5cb,#5cb,#5cb,#8c6,#bc3,#cc2)"></i><i style="background:linear-gradient(90deg,#4bc,#5cb,#8c6,#6c9,#4bc,#4ad,#49c,#4ad,#4bc,#5cb,#4bc,#4ad,#57c,#56b,#56b,#55a,#55a,#55b,#57b,#57b,#56b,#55b,#56b,#56b,#57c,#57c,#57c,#56b,#58c,#58c,#49d,#49d,#4ad,#49d)"></i><i style="background:linear-gradient(90deg,#4ad,#4bc,#7c8,#8c6,#8c7,#5bc,#4ad,#49d,#49c,#4ad,#4ad,#4ac,#7c8,#fc3,#8c6,#4ad,#57c,#56b,#54a,#54a,#54a,#55b,#57b,#56b,#56b,#56b,#57c,#57c,#56b,#56b,#56b,#48c,#4ad,#4bc)"></i><i style="background:linear-gradient(90deg,#5cb,#4ac,#4ad,#49c,#49c,#48c,#49c,#48c,#48c,#57c,#58c,#49c,#8c6,#7c7,#4ad,#57c,#56b,#54a,#54a,#55b,#57c,#58c,#58c,#58c,#57c,#57c,#57b,#56b,#56b,#55b,#56b,#57c,#49c,#49d)"></i><i style="background:linear-gradient(90deg,#49c,#4ad,#4ad,#4ac,#4ad,#4ad,#4ad,#4bc,#4ad,#49c,#49d,#49c,#49c,#57c,#55b,#54a,#54a,#54a,#44a,#439,#449,#54a,#55b,#55a,#449,#439,#439,#54a,#56b,#55b,#55b,#56b,#49c,#49d)"></i><i style="background:linear-gradient(90deg,#7c7,#6c9,#4bc,#4ad,#48c,#49d,#4bc,#4bc,#4bc,#4bc,#6ca,#6c9,#6ca,#5cb,#5cb,#4bc,#48c,#57b,#57c,#49c,#49d,#49c,#49d,#49c,#48c,#48c,#4ad,#4bc,#4bc,#4bc,#4bc,#4ad,#49c,#57c)"></i><i style="background:linear-gradient(90deg,#7c8,#6c9,#6c9,#6ca,#9c5,#eb3,#ee2,#ee2,#ee2,#fd2,#bc3,#7c7,#5bc,#4ad,#48c,#56b,#55a,#54a,#55a,#55b,#55b,#55a,#55a,#56b,#57c,#48c,#49c,#49c,#57c,#56b,#56b,#56b,#57c,#57c)"></i><i style="background:linear-gradient(90deg,#4ac,#4ad,#4ad,#4bc,#4ad,#4bc,#4ac,#4ac,#4ad,#4ad,#4ad,#4ad,#49d,#48c,#57c,#58c,#49c,#4ad,#49c,#57c,#56b,#57b,#49c,#4ad,#4bc,#4ad,#49d,#49c,#49c,#48c,#58c,#57b,#57c,#56b)"></i><i style="background:linear-gradient(90deg,#4ad,#49d,#4ad,#4ac,#4bc,#5bc,#4ac,#48c,#57c,#48c,#4ad,#5ca,#8c6,#9c5,#7c8,#5cb,#4ac,#49d,#48c,#58c,#57b,#56b,#55b,#56b,#57b,#48c,#49d,#4ad,#4ad,#48c,#49c,#49c,#4ad,#4ad)"></i><i style="background:linear-gradient(90deg,#5bc,#5bc,#6ca,#7c7,#fb3,#fd2,#fc3,#8c6,#6c9,#5cb,#6c9,#5ca,#5cb,#4bc,#5bc,#5cc,#5cb,#4bc,#48c,#56b,#56b,#56b,#58c,#49c,#4bc,#5cb,#7c8,#7c8,#5cb,#4bc,#4ac,#4bc,#4ad,#49c)"></i><i style="background:linear-gradient(90deg,#5cb,#5bc,#5cb,#4bc,#4bc,#5cb,#8c5,#bc3,#ac4,#7c8,#5bc,#4bc,#4bc,#4bc,#4ac,#4ad,#4bc,#5cb,#5bc,#4bc,#49d,#4ad,#4ad,#4ad,#48c,#48c,#58c,#58c,#56b,#56b,#56b,#56b,#57c,#58c)"></i><i style="background:linear-gradient(90deg,#4ad,#5bc,#7c8,#7c8,#5cb,#5cb,#5cb,#5cb,#5cb,#5cb,#5cb,#4bc,#4bc,#4ac,#4ad,#48c,#57c,#57b,#48c,#49d,#4ad,#4ad,#4bc,#5cb,#6c9,#5cb,#4bc,#49c,#49c,#4ad,#4bc,#4ad,#48c,#48c)"></i><i style="background:linear-gradient(90deg,#4bc,#4bc,#4ad,#4ad,#4ac,#4ac,#4ad,#49d,#4bc,#6ca,#bc3,#bc3,#6c9,#4bc,#49c,#57c,#56b,#56b,#57c,#49d,#4bc,#4bc,#49d,#48c,#48c,#4ad,#4bc,#4ad,#49c,#48c,#48c,#57b,#55a,#54a)"></i><i style="background:linear-gradient(90deg,#4bc,#4bc,#4bc,#4bc,#4ac,#4ad,#4ad,#4ad,#4bc,#4ad,#4ad,#4ad,#5bc,#5ca,#5cb,#5bc,#4bc,#5bc,#4ad,#49c,#49c,#48c,#49c,#4ad,#49d,#58c,#56b,#56b,#58c,#48c,#48c,#58c,#57c,#49d)"></i><i style="background:linear-gradient(90deg,#7c8,#6ca,#7c8,#8c6,#9c4,#ac4,#bc3,#cc3,#dc3,#dc3,#db3,#db3,#bc3,#6c9,#4bc,#49d,#48c,#58c,#49d,#4ac,#4bc,#5bc,#4bc,#4bc,#4bc,#4bc,#4bc,#5cb,#5cb,#5cb,#4ac,#4ad,#48c,#49d)"></i><i style="background:linear-gradient(90deg,#8c6,#9c5,#8c5,#6c9,#5cb,#4bc,#4bc,#4ac,#4ad,#4ad,#4bc,#5cb,#5bc,#4bc,#58c,#56b,#56b,#57c,#57c,#57c,#58c,#49d,#4ad,#48c,#57c,#57c,#4ad,#4bc,#5cb,#4bc,#49d,#48c,#48c,#48c)"></i><i style="background:linear-gradient(90deg,#fc3,#fc3,#fc3,#eb3,#cc3,#8c5,#5cb,#4ad,#58c,#48c,#49d,#4bc,#4bc,#4bc,#4bc,#4ad,#48c,#48c,#49c,#49d,#49d,#4ad,#4ac,#5bc,#4bc,#4bc,#4bc,#4bc,#4bc,#5bc,#4bc,#4bc,#49c,#49c)"></i><i style="background:linear-gradient(90deg,#7c8,#4ad,#49c,#4ad,#4bc,#4ad,#49d,#49c,#48c,#49c,#49c,#4ac,#4bc,#4bc,#4ad,#49c,#49d,#4ad,#4bc,#4ad,#4ad,#4ad,#4bc,#4bc,#49c,#56b,#56b,#57c,#4ad,#4ad,#4bc,#5cb,#6c9,#5cb)"></i><i style="background:linear-gradient(90deg,#6c9,#5ca,#6ca,#bc3,#fc3,#fc3,#cc3,#cc2,#db3,#fd3,#fc3,#cc2,#8c6,#6c9,#4bc,#49c,#57b,#57c,#49c,#4ac,#4bc,#4ad,#4bc,#4ad,#49d,#48c,#4ac,#4bc,#4ad,#58c,#58c,#4ad,#4bc,#4bc)"></i><i style="background:linear-gradient(90deg,#8c6,#7c8,#7c8,#5cb,#7c7,#6ca,#5cb,#4bc,#5cb,#5cb,#5cb,#49c,#48c,#4ad,#6c9,#ac3,#8c6,#5cb,#49c,#57b,#56b,#48c,#4ad,#5cb,#5bc,#4ad,#56b,#55b,#57b,#49c,#49d,#4ad,#4bc,#5bc)"></i><i style="background:linear-gradient(90deg,#9c4,#ac4,#bc3,#bc3,#8c5,#5cb,#5cb,#4bc,#5cb,#4bc,#4bc,#4ad,#4ad,#4ad,#4ad,#49d,#58c,#57c,#57c,#49c,#49d,#4ad,#4ad,#5bc,#5cb,#8c6,#bc3,#fc3,#ee2,#fd2,#ac4,#8c6,#8c5,#8c5)"></i><i style="background:linear-gradient(90deg,#9c4,#9c4,#bc3,#9c5,#7c8,#5bc,#4bc,#4bc,#4ad,#4ad,#4bc,#5cb,#6ca,#5cb,#5cc,#4ad,#49d,#48c,#49d,#4ad,#5cb,#5cb,#6c9,#7c7,#8c5,#9c5,#8c7,#7c8,#5cb,#5cb,#5bc,#5cb,#5cb,#5cb)"></i><i style="background:linear-gradient(90deg,#5cb,#8c6,#6c9,#5cb,#4bc,#4bc,#4ad,#49d,#4ad,#4ad,#4bc,#4ad,#49c,#48c,#58c,#49c,#58c,#49c,#49d,#4bc,#4bc,#4ad,#4ad,#4bc,#5cb,#4bc,#4bc,#5bc,#9c5,#fc3,#fc3,#fb3,#bc3,#8c6)"></i><i style="background:linear-gradient(90deg,#4ad,#6ca,#cc2,#fb3,#fc3,#fc3,#cc2,#8c6,#6c9,#6ca,#4bc,#4ad,#48c,#4ad,#4bc,#5bc,#4bc,#5cb,#5ca,#7c8,#5cb,#6c9,#5cb,#5cb,#4bc,#4ad,#49d,#49c,#4ac,#5cb,#9c4,#cc3,#bc3,#8c6)"></i><i style="background:linear-gradient(90deg,#fc3,#fc3,#fc3,#eb3,#ac4,#6ca,#5bc,#4bc,#4bc,#4bc,#4ac,#4ad,#49d,#4ad,#4ad,#4ad,#4ad,#4bc,#6c9,#9c5,#ac4,#ac4,#bc3,#fc3,#ee2,#ee2,#fd2,#eb3,#ac4,#bc3,#cc3,#cc3,#cc3,#bc3)"></i><i style="background:linear-gradient(90deg,#7c7,#5cb,#5bc,#4bc,#4bc,#5bc,#5bc,#4bc,#4bc,#4ad,#4bc,#4bc,#5cb,#5cb,#7c7,#9c5,#8c6,#4bc,#4bc,#4bc,#4bc,#5bc,#5ca,#9c5,#8c5,#8c6,#8c5,#8c7,#5ca,#5cb,#5cb,#8c5,#7c8,#6ca)"></i><i style="background:linear-gradient(90deg,#49c,#58c,#49d,#4bc,#7c7,#cc3,#eb3,#dc3,#9c5,#6c9,#5cb,#5bc,#4bc,#4ad,#49c,#58c,#49d,#4bc,#6c9,#9c4,#cc3,#8c6,#5cb,#4bc,#5bc,#5cb,#5ca,#5cb,#4bc,#4bc,#4bc,#5cb,#6ca,#7c7)"></i><i style="background:linear-gradient(90deg,#5cb,#5cc,#5bc,#4bc,#4bc,#5cb,#6ca,#7c8,#5cb,#4bc,#49d,#57c,#56b,#56b,#48c,#49d,#4bc,#4bc,#5cb,#8c6,#cc3,#eb3,#dc3,#bc3,#8c5,#7c8,#6ca,#5cb,#4bc,#4ad,#4ad,#4ad,#4ad,#49d)"></i><i style="background:linear-gradient(90deg,#4ac,#58c,#58c,#57c,#4ad,#4bc,#5bc,#4bc,#4ac,#4ad,#4ad,#4bc,#4ad,#49c,#58c,#48c,#48c,#49d,#5bc,#cc3,#fd2,#ee2,#ee2,#fc3,#bc3,#7c8,#7c7,#8c7,#6ca,#4ad,#48c,#48c,#49c,#48c)"></i><i style="background:linear-gradient(90deg,#4bc,#49d,#49c,#4bc,#6c9,#9c5,#8c6,#5cb,#4bc,#4bc,#4bc,#4ad,#49c,#49d,#4ad,#49c,#49c,#49c,#4ad,#4ad,#5bc,#4bc,#4bc,#4bc,#5cb,#5cc,#5cc,#4ad,#4bc,#4ad,#4bc,#4bc,#5bc,#4ad)"></i><i style="background:linear-gradient(90deg,#ac4,#ac3,#ac4,#6c9,#5bc,#4ad,#49d,#4ad,#4bc,#5cb,#6ca,#5cb,#4bc,#49d,#4ad,#49d,#4ad,#4bc,#8c6,#bc3,#db3,#fb3,#fd2,#ee2,#ee2,#ee2,#fd2,#cc3,#6c9,#5cb,#5cb,#5bc,#4bc,#4ad)"></i><i style="background:linear-gradient(90deg,#4bc,#4bc,#5cb,#6ca,#6c9,#5ca,#4bc,#4ad,#4ad,#4ad,#4ad,#4ad,#4bc,#4bc,#4bc,#5cb,#8c6,#dc3,#cc3,#8c6,#6ca,#7c7,#eb3,#fc3,#fc3,#8c5,#4bc,#4bc,#5cb,#6ca,#5cb,#4bc,#5cb,#bc3)"></i><i style="background:linear-gradient(90deg,#5bc,#4bc,#4ad,#4ad,#4bc,#5cc,#5bc,#4bc,#4ad,#4bc,#4ad,#49d,#57c,#57c,#57c,#48c,#49c,#4ac,#6c9,#dc3,#fc3,#fc3,#dc3,#6c9,#4ac,#4ad,#49d,#49d,#48c,#49c,#4ad,#5bc,#5bc,#4bc)"></i><i style="background:linear-gradient(90deg,#7c8,#7c7,#7c7,#5bc,#4ad,#4ad,#5bc,#6c9,#7c7,#5cb,#4ac,#58c,#57b,#56b,#57c,#58c,#49d,#4bc,#5cc,#6ca,#7c8,#7c8,#6c9,#7c7,#8c6,#9c4,#ac4,#cc2,#cc3,#dc3,#db3,#cc3,#8c6,#5bc)"></i><i style="background:linear-gradient(90deg,#7c7,#7c8,#5cb,#4bc,#4ac,#4ad,#49d,#57c,#56b,#57b,#49c,#4bc,#4bc,#4bc,#4ad,#4ad,#4bc,#4bc,#4bc,#4bc,#4bc,#4bc,#4bc,#5bc,#5cb,#6ca,#5cc,#4ac,#49d,#4ad,#5cb,#9c4,#8c5,#5cb)"></i><i style="background:linear-gradient(90deg,#57c,#48c,#4ad,#4ac,#4ad,#49d,#4ad,#4bc,#4bc,#4bc,#4ac,#4ad,#49c,#49c,#49d,#4bc,#5cb,#6c9,#7c7,#7c8,#6ca,#6c9,#6c9,#5cb,#5cb,#4bc,#5ca,#6c9,#bc3,#fb3,#fc3,#fc3,#fb3,#dc3)"></i><i style="background:linear-gradient(90deg,#5cb,#5bc,#5bc,#5bc,#4bc,#4bc,#49c,#48c,#58c,#4ad,#4bc,#5cb,#5cb,#4ac,#49d,#58c,#49c,#4ad,#5bc,#5bc,#5cb,#5cb,#6ca,#5cb,#4bc,#49d,#4ac,#5bc,#8c6,#6c9,#5cb,#6c9,#9c4,#eb3)"></i><i style="background:linear-gradient(90deg,#4ad,#49c,#58c,#57c,#49c,#4bc,#8c6,#ac4,#dc3,#fb3,#ac4,#7c7,#5cb,#4bc,#5cb,#8c5,#bc3,#9c5,#7c8,#7c7,#ac4,#cc2,#ac4,#5cb,#4ad,#48c,#49c,#49d,#4ad,#49c,#49c,#48c,#49d,#4bc)"></i><i style="background:linear-gradient(90deg,#5cb,#5cb,#5bc,#4ad,#58c,#57c,#58c,#49c,#49d,#49c,#58c,#57c,#57c,#48c,#49c,#49d,#4bc,#5bc,#4bc,#49c,#49d,#4ac,#5bc,#4ad,#49c,#58c,#57c,#55b,#54a,#54a,#56b,#48c,#4ad,#49d)"></i><i style="background:linear-gradient(90deg,#48c,#58c,#57c,#49d,#4ad,#5cb,#7c8,#ac4,#8c5,#8c5,#9c5,#9c5,#7c7,#5cb,#5bc,#5bc,#7c8,#9c5,#dc3,#db3,#fb3,#fb3,#fc3,#fb3,#dc3,#8c6,#6ca,#5cb,#7c7,#ac4,#fc3,#fc3,#fb3,#8c5)"></i><i style="background:linear-gradient(90deg,#58c,#48c,#48c,#4bc,#7c8,#cc3,#ac4,#8c7,#6c9,#8c5,#9c5,#9c5,#6c9,#6c9,#5cb,#6ca,#5cb,#8c6,#8c6,#6c9,#4bc,#4bc,#4ac,#4ad,#49d,#4ad,#4bc,#4bc,#4ad,#4ad,#4bc,#6ca,#6ca,#6c9)"></i><i style="background:linear-gradient(90deg,#48c,#49c,#49d,#49c,#57c,#58c,#4bc,#7c7,#9c5,#7c8,#4bc,#4bc,#4ad,#4ad,#49c,#4ac,#8c6,#fc3,#fd2,#fd2,#fd2,#fd2,#fd2,#fc3,#fb3,#dc3,#bc3,#9c5,#6c9,#4bc,#48c,#56b,#57c,#4ad)"></i><i style="background:linear-gradient(90deg,#7c7,#5cb,#4bc,#4ad,#5cb,#5cb,#5cb,#4ad,#49d,#4bc,#4bc,#5cb,#5cb,#6c9,#5ca,#6c9,#7c8,#ac4,#bc3,#9c5,#6c9,#5cb,#5cb,#5cb,#5cb,#ac4,#cc3,#bc3,#5cb,#4bc,#4ad,#4bc,#4bc,#4bc)"></i><i style="background:linear-gradient(90deg,#58c,#4bc,#6c9,#7c8,#5cb,#5cb,#5cb,#6c9,#5cb,#5bc,#4bc,#4bc,#4bc,#4ad,#4ad,#4bc,#5cb,#7c8,#8c6,#9c5,#9c4,#bc3,#cc3,#eb3,#cc3,#9c4,#5cb,#5cb,#6ca,#9c4,#bc3,#cc3,#6ca,#4ad)"></i><i style="background:linear-gradient(90deg,#48c,#58c,#48c,#49c,#48c,#48c,#57c,#57c,#56b,#56b,#57c,#49c,#4ad,#49d,#4ad,#4ad,#5bc,#5bc,#6c9,#5cb,#5cb,#4ad,#49c,#57c,#56b,#56b,#58c,#48c,#57b,#54a,#54a,#56b,#49c,#4ad)"></i><i style="background:linear-gradient(90deg,#48c,#5bc,#5cb,#4bc,#48c,#58c,#49c,#4ad,#4ad,#4ad,#49d,#5bc,#6c9,#8c5,#5cb,#4ad,#48c,#48c,#4bc,#6c9,#7c8,#5cb,#5bc,#5bc,#5bc,#5cc,#4bc,#4ad,#49d,#49c,#49d,#4ad,#4ac,#4bc)"></i><i style="background:linear-gradient(90deg,#4ac,#4bc,#4bc,#4bc,#4bc,#4bc,#4bc,#4ad,#57c,#56b,#57b,#4bc,#6ca,#bc3,#eb3,#bc3,#5cb,#4bc,#4ad,#4ac,#5cb,#8c6,#9c4,#7c8,#5cb,#4ac,#49c,#57c,#48c,#4bc,#4ad,#49d,#4ad,#4ad)"></i><i style="background:linear-gradient(90deg,#48c,#49d,#4bc,#4bc,#4bc,#4ac,#4ad,#4ad,#49c,#49d,#4ad,#4ad,#49d,#48c,#56b,#56b,#57c,#49d,#4ad,#4ad,#48c,#4ad,#4bc,#5cb,#4ad,#4ad,#4ad,#4ad,#49c,#49c,#49c,#49c,#48c,#57c)"></i><i style="background:linear-gradient(90deg,#5bc,#5cb,#4bc,#4bc,#4ad,#4ad,#4ac,#4bc,#5cb,#7c7,#ac4,#6c9,#5bc,#4ac,#4ad,#49d,#5cb,#ac4,#cc3,#7c7,#4bc,#4ad,#49c,#4ad,#4ad,#5bc,#5bc,#4bc,#4ad,#48c,#49c,#4ad,#5bc,#5cb)"></i><i style="background:linear-gradient(90deg,#ac4,#dc3,#bc3,#bc3,#7c8,#6ca,#5cb,#6c9,#5cb,#5bc,#4bc,#4bc,#49d,#49c,#48c,#4ad,#6ca,#ac4,#ac4,#8c7,#6ca,#5bc,#4bc,#4bc,#4bc,#5cb,#6ca,#5ca,#4bc,#4bc,#49d,#49d,#49d,#4ac)"></i><i style="background:linear-gradient(90deg,#4ad,#4ad,#4bc,#4ad,#49d,#58c,#57c,#57c,#58c,#57c,#57c,#57c,#57b,#56b,#56b,#56b,#58c,#58c,#57c,#57c,#48c,#4ad,#4ad,#49c,#57c,#57c,#49c,#5bc,#7c8,#8c6,#5cb,#5bc,#4bc,#5cb)"></i><i style="background:linear-gradient(90deg,#58c,#57c,#58c,#49d,#4ad,#49c,#49c,#49c,#49c,#57c,#56b,#57b,#58c,#48c,#57c,#57b,#56b,#55b,#54a,#54a,#55a,#57b,#49c,#4ad,#49d,#49d,#4ad,#4bc,#5cb,#5cb,#5cb,#5cb,#5bc,#4ad)"></i><i style="background:linear-gradient(90deg,#4bc,#4bc,#5bc,#4ad,#49c,#57c,#56b,#56b,#57b,#49c,#4bc,#5bc,#4bc,#4bc,#49d,#58c,#57b,#57b,#57c,#58c,#49d,#4bc,#4bc,#4ad,#4ad,#4ac,#4bc,#5cb,#5cb,#8c6,#cc2,#fb3,#fb3,#fb3)"></i><i style="background:linear-gradient(90deg,#7c8,#bc3,#dc3,#dc3,#9c5,#7c7,#5bc,#5bc,#4ad,#4ad,#49c,#48c,#57c,#56b,#54a,#439,#54a,#56b,#57c,#58c,#48c,#58c,#48c,#49d,#4bc,#5cc,#7c8,#7c8,#8c6,#6c9,#6ca,#5ca,#5cb,#5cb)"></i><i style="background:linear-gradient(90deg,#4ac,#5cb,#5cc,#4bc,#4ad,#49c,#49c,#48c,#49c,#48c,#58c,#57c,#56b,#55a,#54a,#54a,#54a,#54a,#44a,#439,#439,#439,#55b,#4ad,#5cb,#7c8,#5cb,#5cb,#5cc,#6c9,#8c5,#7c8,#5bc,#49d)"></i><i style="background:linear-gradient(90deg,#6ca,#6c9,#5cb,#4bc,#4bc,#4bc,#4ad,#57c,#57c,#57c,#49d,#49d,#49d,#48c,#49c,#48c,#48c,#57c,#57c,#49d,#4bc,#5bc,#4bc,#4bc,#6ca,#ac4,#bc3,#bc3,#8c5,#7c7,#5cb,#4ad,#49c,#4ad)"></i><i style="background:linear-gradient(90deg,#4bc,#4ad,#4ad,#4ac,#4ac,#4bc,#4ad,#49c,#57c,#57c,#57c,#56b,#55b,#55a,#56b,#49c,#4ad,#48c,#55b,#439,#439,#55a,#4ad,#9c5,#fc3,#ed2,#fc3,#8c6,#4bc,#5cb,#6c9,#cc2,#cc2,#eb3)"></i><i style="background:linear-gradient(90deg,#5cb,#4bc,#49d,#55b,#54a,#54a,#55b,#55b,#55a,#55a,#56b,#58c,#49c,#49c,#49c,#57c,#55b,#54a,#54a,#57b,#49c,#4ad,#49c,#57b,#56b,#58c,#49d,#49d,#58c,#57c,#49c,#49d,#4ad,#4ad)"></i><i style="background:linear-gradient(90deg,#eb3,#6ca,#4ad,#49c,#4ad,#4ad,#5cb,#7c8,#9c4,#7c8,#5cc,#4ad,#4ad,#49d,#4ad,#49d,#4ad,#4ad,#4ad,#4ad,#4ad,#4bc,#5cb,#5cb,#6ca,#5bc,#6ca,#9c5,#bc3,#8c6,#5bc,#4bc,#5cb,#7c7)"></i><i style="background:linear-gradient(90deg,#48c,#57c,#56b,#56b,#57c,#58c,#57c,#57c,#57c,#49c,#58c,#49c,#57b,#56b,#55b,#56b,#57c,#57c,#57c,#48c,#4bc,#4bc,#5cb,#bc3,#fc3,#7c7,#5cb,#4bc,#5bc,#5cb,#9c5,#ac4,#ac4,#8c5)"></i><i style="background:linear-gradient(90deg,#4ad,#5bc,#7c8,#ac4,#6c9,#5bc,#49d,#58c,#56b,#56b,#48c,#4ad,#49d,#56b,#439,#439,#439,#54a,#56b,#58c,#48c,#4ad,#4bc,#5cb,#4bc,#4ad,#4ad,#6c9,#fb3,#ed2,#ee2,#ee2,#ed2,#fc3)"></i><i style="background:linear-gradient(90deg,#8c6,#7c7,#5cb,#49d,#57c,#56b,#56b,#56b,#57c,#58c,#49c,#49d,#4bc,#4bc,#4ac,#49c,#4ad,#4ad,#4bc,#4ad,#4ad,#4bc,#7c8,#cc2,#fb3,#eb3,#ac4,#6ca,#5cb,#5cc,#5cb,#5ca,#6ca,#8c7)"></i><i style="background:linear-gradient(90deg,#4ad,#4ad,#4bc,#4ad,#4ad,#49d,#4ad,#49d,#4ad,#4ad,#4bc,#5cb,#4bc,#57c,#56b,#57c,#58c,#57c,#55b,#56b,#48c,#4bc,#5cb,#6c9,#8c6,#ac3,#bc3,#8c5,#5cb,#4bc,#4bc,#4bc,#4bc,#4bc)"></i><i style="background:linear-gradient(90deg,#7c8,#4bc,#49c,#58c,#56b,#57c,#57c,#48c,#58c,#49c,#49c,#48c,#56b,#55b,#55b,#56b,#57c,#58c,#58c,#48c,#58c,#48c,#49c,#49d,#4ad,#4ad,#5bc,#7c8,#ac4,#ac4,#9c5,#7c8,#5ca,#5cb)"></i><i style="background:linear-gradient(90deg,#49d,#49c,#49c,#49d,#49c,#49c,#58c,#57c,#57c,#58c,#48c,#57c,#56b,#55a,#55a,#55b,#57c,#57b,#57c,#56b,#49d,#6ca,#6c9,#4ac,#4ad,#4bc,#4bc,#5cb,#5cb,#9c4,#db3,#dc3,#8c5,#5bc)"></i><i style="background:linear-gradient(90deg,#4bc,#4ad,#49c,#57c,#56b,#57c,#49c,#5bc,#5cb,#4ad,#58c,#56b,#48c,#4bc,#7c7,#7c7,#7c9,#4bc,#49d,#57c,#58c,#58c,#49d,#49d,#4ad,#4ad,#4bc,#7c8,#eb3,#fb3,#7c8,#6c9,#8c7,#8c6)"></i><i style="background:linear-gradient(90deg,#4ad,#58c,#56b,#54a,#56b,#58c,#4ad,#4bc,#7c7,#9c4,#ac4,#7c8,#5bc,#49c,#56b,#56b,#58c,#49d,#49d,#48c,#48c,#49d,#4bc,#4bc,#5cb,#6c9,#8c6,#8c5,#5cb,#4ac,#4ad,#4bc,#4bc,#4ad)"></i><i style="background:linear-gradient(90deg,#6c9,#6c9,#8c7,#7c8,#7c7,#7c8,#5ca,#4ad,#49c,#49c,#4bc,#4bc,#5cc,#49d,#48c,#55a,#54a,#439,#439,#54a,#57c,#49c,#4ac,#4bc,#4bc,#4bc,#4bc,#5bc,#4bc,#4ac,#49d,#48c,#4ad,#5cb)"></i><i style="background:linear-gradient(90deg,#cc3,#ed2,#ee2,#ee2,#fc3,#ac4,#8c6,#5bc,#48c,#56b,#48c,#57c,#55b,#54a,#44a,#54a,#56b,#58c,#48c,#57c,#58c,#49c,#4bc,#5cb,#7c8,#6ca,#5cb,#7c8,#6c9,#5cb,#4bc,#49d,#49c,#48c)"></i><i style="background:linear-gradient(90deg,#4bc,#4ad,#4bc,#5bc,#8c6,#5cb,#5cb,#5bc,#5cb,#5bc,#4bc,#4ad,#48c,#56b,#54a,#439,#55b,#49d,#4bc,#4bc,#4ad,#49c,#57c,#57c,#49c,#5bc,#5cb,#5bc,#5cb,#6ca,#7c7,#6c9,#5cb,#4bc)"></i><i style="background:linear-gradient(90deg,#5cb,#5cb,#4ad,#49c,#48c,#4ad,#4bc,#5cb,#4bc,#4ad,#48c,#58c,#48c,#48c,#57c,#48c,#49d,#4ad,#4ad,#5bc,#8c6,#eb3,#fc3,#fc3,#fc3,#cc3,#bc3,#9c4,#bc3,#cc2,#db3,#cc3,#8c6,#5cb)"></i><i style="background:linear-gradient(90deg,#5cc,#5cb,#5bc,#4bc,#4bc,#4ad,#4bc,#4ad,#4ad,#49c,#57c,#57c,#57c,#49c,#49d,#48c,#57c,#56b,#56b,#57c,#49c,#5cc,#9c5,#fb3,#fd2,#ee2,#fc3,#8c5,#5cb,#5cb,#5cb,#5bc,#4bc,#5bc)"></i><i style="background:linear-gradient(90deg,#6ca,#8c6,#ac4,#bc3,#dc3,#dc3,#cc2,#9c5,#6ca,#4bc,#49d,#57c,#56b,#56b,#57c,#49c,#4bc,#5cb,#6c9,#7c8,#7c7,#6c9,#5cc,#4bc,#4ac,#5bc,#6c9,#ac4,#dc3,#cc3,#bc3,#8c5,#8c6,#7c8)"></i><i style="background:linear-gradient(90deg,#8c7,#8c6,#6ca,#4ad,#48c,#57c,#49c,#49c,#57c,#54a,#439,#439,#439,#439,#439,#449,#56b,#58c,#58c,#48c,#49d,#4bc,#4bc,#4bc,#4bc,#4bc,#5cb,#6c9,#ac4,#8c5,#9c5,#7c8,#7c7,#5cb)"></i><i style="background:linear-gradient(90deg,#6ca,#7c7,#7c7,#7c7,#5cb,#4bc,#4bc,#4ad,#49d,#57b,#55a,#449,#54a,#57b,#4ad,#5bc,#4bc,#49d,#49c,#4ad,#6ca,#ac4,#cc2,#9c4,#5cb,#49d,#49d,#6c9,#ee2,#ee2,#db3,#8c6,#7c7,#7c8)"></i><i style="background:linear-gradient(90deg,#57b,#48c,#4bc,#5cb,#7c7,#7c7,#8c6,#6c9,#6c9,#5bc,#4bc,#4ad,#4bc,#4ad,#56b,#55b,#56b,#48c,#49d,#4ad,#4ad,#4ad,#5bc,#5bc,#5cb,#5bc,#6ca,#5cb,#6c9,#5cb,#6ca,#5cb,#6c9,#7c8)"></i><i style="background:linear-gradient(90deg,#4bc,#5cb,#6ca,#5bc,#4ad,#49d,#49c,#5bc,#ac4,#fc3,#cc2,#5cc,#58c,#57c,#57c,#57c,#57b,#56b,#48c,#4ad,#5cb,#5cb,#5bc,#4bc,#4bc,#4bc,#4bc,#5bc,#5cb,#6ca,#5cb,#4bc,#4ac,#4bc)"></i><i style="background:linear-gradient(90deg,#4ad,#5bc,#4bc,#4bc,#4ad,#49d,#48c,#56b,#55b,#55a,#55b,#56b,#56b,#56b,#57c,#49c,#4bc,#5cc,#5ca,#6ca,#5cb,#5cb,#5bc,#5cb,#5cb,#5cb,#8c6,#7c8,#5cb,#4ad,#49d,#4ad,#4bc,#4bc)"></i><i style="background:linear-gradient(90deg,#49c,#49d,#49c,#4ad,#4bc,#6ca,#5cb,#4ad,#56b,#55a,#48c,#5cb,#cc3,#bc3,#7c8,#5bc,#5bc,#5cb,#5cb,#5bc,#4bc,#4bc,#5bc,#5bc,#4bc,#49c,#49d,#49d,#5cb,#6ca,#7c7,#5cb,#4bc,#4bc)"></i><i style="background:linear-gradient(90deg,#5cb,#6ca,#8c5,#8c7,#7c8,#5cb,#6c9,#7c8,#6c9,#4bc,#49c,#49c,#4bc,#5bc,#49c,#56b,#58c,#4bc,#7c7,#ac3,#fb3,#fd2,#ee2,#ee2,#fc3,#9c4,#4bc,#49c,#49c,#4bc,#5bc,#5cb,#5cb,#5cb)"></i><i style="background:linear-gradient(90deg,#4bc,#5bc,#5cc,#4bc,#4bc,#4ad,#4ad,#58c,#58c,#48c,#4ac,#5bc,#4bc,#4ad,#58c,#56b,#57b,#4ad,#5cb,#9c4,#fb3,#ee2,#ee2,#ee2,#ee2,#fc3,#8c6,#4ac,#4ad,#4ac,#6ca,#7c7,#5ca,#4ad)"></i><i style="background:linear-gradient(90deg,#8c5,#6c9,#5cb,#4bc,#4bc,#4bc,#5bc,#4bc,#5bc,#5cb,#ac3,#bc3,#ac3,#8c6,#6ca,#4bc,#4ad,#4ad,#4bc,#4bc,#5cb,#7c7,#7c8,#9c5,#7c7,#8c6,#5cb,#6c9,#8c7,#dc3,#eb3,#eb3,#ac4,#7c7)"></i><i style="background:linear-gradient(90deg,#4bc,#4ad,#49c,#57c,#57b,#57b,#48c,#49c,#48c,#57c,#56b,#58c,#49d,#5cc,#7c8,#7c8,#7c8,#7c7,#9c4,#cc3,#cc2,#eb3,#fc3,#fc3,#fc3,#cc2,#9c4,#7c8,#7c7,#6ca,#5cb,#5bc,#4bc,#4bc)"></i><i style="background:linear-gradient(90deg,#58c,#4ad,#4bc,#6ca,#7c8,#7c8,#5cb,#7c8,#9c4,#bc3,#8c5,#5cb,#4ad,#4bc,#5bc,#7c8,#8c7,#ac4,#cc3,#eb3,#eb3,#eb3,#ac4,#9c4,#bc3,#fd2,#ee2,#fc3,#ac4,#8c6,#7c7,#6ca,#5ca,#5ca)"></i><i style="background:linear-gradient(90deg,#4ad,#49d,#49c,#4ad,#49c,#49c,#49c,#4ad,#4ad,#4ac,#4bc,#4bc,#5bc,#4ad,#4ad,#48c,#48c,#4ad,#4bc,#4bc,#4bc,#4bc,#5cb,#6ca,#8c6,#8c6,#5cb,#4bc,#4ad,#4bc,#5bc,#4bc,#4bc,#4bc)"></i><i style="background:linear-gradient(90deg,#4ad,#49c,#49d,#4ad,#4bc,#4bc,#49c,#56b,#55b,#56b,#48c,#49c,#4ad,#5cb,#7c8,#5ca,#4bc,#4bc,#5cb,#5cb,#4bc,#4bc,#4bc,#4bc,#4bc,#6ca,#9c4,#dc3,#eb3,#dc3,#cc3,#9c4,#5cb,#49d)"></i><i style="background:linear-gradient(90deg,#56b,#48c,#4ad,#4ad,#49d,#57c,#57b,#57c,#4ad,#4bc,#5cb,#4bc,#4ad,#48c,#57b,#55a,#58c,#4ad,#5cb,#7c8,#ac4,#dc3,#fb3,#fc3,#ee2,#ee2,#ee2,#ee2,#fd3,#ac4,#6ca,#6ca,#5cb,#5cb)"></i><i style="background:linear-gradient(90deg,#49c,#49c,#48c,#57c,#55b,#54a,#439,#449,#54a,#55a,#55a,#55b,#56b,#49d,#5cb,#4bc,#48c,#48c,#4ad,#5cb,#7c8,#8c5,#7c7,#5cb,#5bc,#4bc,#5bc,#5cb,#5cb,#5cb,#4ad,#49c,#57c,#57b)"></i><i style="background:linear-gradient(90deg,#49d,#58c,#58c,#57c,#56b,#54a,#449,#54a,#56b,#56b,#56b,#56b,#56b,#57c,#57c,#57c,#49c,#48c,#57c,#55b,#55a,#56b,#57c,#4ad,#4bc,#5bc,#5cb,#5cb,#5cb,#5bc,#4ad,#58c,#57b,#57b)"></i><i style="background:linear-gradient(90deg,#4bc,#4bc,#5bc,#4ac,#4ad,#49d,#4ac,#49d,#58c,#55b,#55b,#56b,#57c,#48c,#4ac,#8c6,#ac4,#7c8,#5cb,#4ac,#4ac,#4bc,#5cc,#4bc,#4ad,#57c,#56b,#56b,#49c,#4ad,#4ad,#49c,#49c,#49c)"></i><i style="background:linear-gradient(90deg,#48c,#49d,#48c,#4ad,#4ad,#4bc,#4bc,#4bc,#4ad,#4ad,#49c,#48c,#58c,#48c,#48c,#49c,#4bc,#6c9,#ac4,#ac4,#bc3,#cc2,#bc3,#bc3,#9c5,#9c5,#7c8,#6c9,#5bc,#4bc,#4ad,#4bc,#4bc,#5bc)"></i><i style="background:linear-gradient(90deg,#49c,#49c,#48c,#58c,#58c,#49c,#49c,#48c,#48c,#49c,#57c,#55b,#56b,#58c,#4ad,#4ad,#4bc,#5cb,#7c8,#7c7,#8c5,#9c5,#9c4,#8c7,#6c9,#5cb,#5cb,#5bc,#4bc,#4bc,#5cb,#5cb,#5cb,#4ac)"></i><i style="background:linear-gradient(90deg,#58c,#49c,#49d,#48c,#57b,#56b,#54a,#439,#439,#439,#439,#54a,#56b,#57b,#58c,#49d,#5cb,#8c6,#8c5,#7c8,#4bc,#4bc,#4ac,#4ad,#49c,#57c,#49c,#4bc,#8c6,#6c9,#4bc,#48c,#58c,#58c)"></i><i style="background:linear-gradient(90deg,#48c,#57c,#48c,#4ad,#4bc,#4ad,#49c,#48c,#4ad,#4bc,#4bc,#49c,#55b,#55a,#56b,#49c,#5cc,#8c5,#cc3,#eb3,#cc3,#fc3,#ee2,#ee2,#fd3,#fc3,#cc3,#5cb,#4ad,#49c,#49d,#4ad,#4ad,#49c)"></i><i style="background:linear-gradient(90deg,#48c,#4ad,#4bc,#5cb,#5bc,#4ad,#57b,#56b,#58c,#4ad,#4ad,#4ad,#4ac,#4ac,#4bc,#5cb,#8c6,#7c7,#6c9,#6c9,#7c8,#8c6,#6c9,#6c9,#5cb,#5cb,#4bc,#4bc,#4ad,#49c,#48c,#48c,#4ad,#4bc)"></i><i style="background:linear-gradient(90deg,#5cb,#4bc,#4ad,#58c,#56b,#57c,#4ad,#5bc,#5cb,#4bc,#48c,#55a,#44a,#449,#56b,#4ad,#ac3,#fc3,#fc3,#cc3,#9c4,#7c7,#8c6,#6c9,#6c9,#6c9,#5cb,#5bc,#4bc,#5cb,#5cb,#5cb,#4bc,#4ad)"></i><i style="background:linear-gradient(90deg,#55a,#55a,#55b,#56b,#56b,#54a,#54a,#54a,#56b,#56b,#57b,#57b,#57b,#56b,#57b,#4bc,#fc3,#fd2,#ee2,#ee2,#ee2,#fc3,#cc2,#8c6,#8c6,#5cb,#4bc,#49c,#49d,#49c,#48c,#57c,#49c,#4bc)"></i></div>
<div class="hm" style="left:926.6px;top:542.0px;width:132.9px;height:396.8px"><i style="background:linear-gradient(90deg,#d4d4d4 33.3%,#9f9f9f 0 66.5%,#333333 0)"></i><i style="background:linear-gradient(90deg,#dbdbdb 33.3%,#9e9e9e 0 66.5%,#3f3f3f 0)"></i><i style="background:linear-gradient(90deg,#e7e7e7 33.3%,#a4a4a4 0 66.5%,#484848 0)"></i><i style="background:linear-gradient(90deg,#f4f4f4 33.3%,#a1a1a1 0 66.5%,#565656 0)"></i><i style="background:linear-gradient(90deg,#f7f7f7 33.3%,#929292 0 66.5%,#4f4f4f 0)"></i><i style="background:linear-gradient(90deg,#f3f3f3 33.3%,#919191 0 66.5%,#555555 0)"></i><i style="background:linear-gradient(90deg,#eaeaea 33.3%,#8a8a8a 0 66.5%,#4d4d4d 0)"></i><i style="background:linear-gradient(90deg,#e9e9e9 33.3%,#8b8b8b 0 66.5%,#6c6c6c 0)"></i><i style="background:linear-gradient(90deg,#eeeeee 33.3%,#939393 0 66.5%,#636363 0)"></i><i style="background:linear-gradient(90deg,#f6f6f6 33.3%,#a6a6a6 0 66.5%,#5e5e5e 0)"></i><i style="background:linear-gradient(90deg,#ebebeb 33.3%,#a5a5a5 0 66.5%,#525252 0)"></i><i style="background:linear-gradient(90deg,#ebebeb 33.3%,#a9a9a9 0 66.5%,#575757 0)"></i><i style="background:linear-gradient(90deg,#ebebeb 33.3%,#a7a7a7 0 66.5%,#5f5f5f 0)"></i><i style="background:linear-gradient(90deg,#f5f5f5 33.3%,#9a9a9a 0 66.5%,#676767 0)"></i><i style="background:linear-gradient(90deg,#ececec 33.3%,#949494 0 66.5%,#757575 0)"></i><i style="background:linear-gradient(90deg,#e6e6e6 33.3%,#a2a2a2 0 66.5%,#747474 0)"></i><i style="background:linear-gradient(90deg,#ebebeb 33.3%,#a2a2a2 0 66.5%,#757575 0)"></i><i style="background:linear-gradient(90deg,#e9e9e9 33.3%,#a6a6a6 0 66.5%,#646464 0)"></i><i style="background:linear-gradient(90deg,#e8e8e8 33.3%,#a3a3a3 0 66.5%,#6b6b6b 0)"></i><i style="background:linear-gradient(90deg,#ededed 33.3%,#b8b8b8 0 66.5%,#666666 0)"></i><i style="background:linear-gradient(90deg,#eeeeee 33.3%,#c6c6c6 0 66.5%,#767676 0)"></i><i style="background:linear-gradient(90deg,#f5f5f5 33.3%,#cccccc 0 66.5%,#676767 0)"></i><i style="background:linear-gradient(90deg,#f1f1f1 33.3%,#c7c7c7 0 66.5%,#7a7a7a 0)"></i><i style="background:linear-gradient(90deg,#eaeaea 33.3%,#d3d3d3 0 66.5%,#6c6c6c 0)"></i><i style="background:linear-gradient(90deg,#eeeeee 33.3%,#c3c3c3 0 66.5%,#818181 0)"></i><i style="background:linear-gradient(90deg,#efefef 33.3%,#c9c9c9 0 66.5%,#7a7a7a 0)"></i><i style="background:linear-gradient(90deg,#f0f0f0 33.3%,#c6c6c6 0 66.5%,#a4a4a4 0)"></i><i style="background:linear-gradient(90deg,#eeeeee 33.3%,#c8c8c8 0 66.5%,#acacac 0)"></i><i style="background:linear-gradient(90deg,#d3d3d3 33.3%,#b1b1b1 0 66.5%,#aeaeae 0)"></i><i style="background:linear-gradient(90deg,#c3c3c3 33.3%,#a5a5a5 0 66.5%,#b2b2b2 0)"></i><i style="background:linear-gradient(90deg,#c6c6c6 33.3%,#9e9e9e 0 66.5%,#9f9f9f 0)"></i><i style="background:linear-gradient(90deg,#d5d5d5 33.3%,#a8a8a8 0 66.5%,#a1a1a1 0)"></i><i style="background:linear-gradient(90deg,#dadada 33.3%,#adadad 0 66.5%,#9d9d9d 0)"></i><i style="background:linear-gradient(90deg,#e2e2e2 33.3%,#929292 0 66.5%,#a5a5a5 0)"></i><i style="background:linear-gradient(90deg,#e4e4e4 33.3%,#8b8b8b 0 66.5%,#a1a1a1 0)"></i><i style="background:linear-gradient(90deg,#e6e6e6 33.3%,#6f6f6f 0 66.5%,#adadad 0)"></i><i style="background:linear-gradient(90deg,#dedede 33.3%,#676767 0 66.5%,#a8a8a8 0)"></i><i style="background:linear-gradient(90deg,#dddddd 33.3%,#525252 0 66.5%,#b5b5b5 0)"></i><i style="background:linear-gradient(90deg,#dfdfdf 33.3%,#5c5c5c 0 66.5%,#c6c6c6 0)"></i><i style="background:linear-gradient(90deg,#e3e3e3 33.3%,#575757 0 66.5%,#c1c1c1 0)"></i><i style="background:linear-gradient(90deg,#e5e5e5 33.3%,#4a4a4a 0 66.5%,#bebebe 0)"></i><i style="background:linear-gradient(90deg,#e4e4e4 33.3%,#535353 0 66.5%,#c2c2c2 0)"></i><i style="background:linear-gradient(90deg,#cfcfcf 33.3%,#585858 0 66.5%,#d0d0d0 0)"></i><i style="background:linear-gradient(90deg,#737373 33.3%,#454545 0 66.5%,#949494 0)"></i><i style="background:linear-gradient(90deg,#515151 33.3%,#1f1f1f 0 66.5%,#5e5e5e 0)"></i><i style="background:linear-gradient(90deg,#5b5b5b 33.3%,#181818 0 66.5%,#5f5f5f 0)"></i><i style="background:linear-gradient(90deg,#616161 33.3%,#161616 0 66.5%,#5a5a5a 0)"></i><i style="background:linear-gradient(90deg,#616161 33.3%,#191919 0 66.5%,#606060 0)"></i><i style="background:linear-gradient(90deg,#6c6c6c 33.3%,#1e1e1e 0 66.5%,#666666 0)"></i><i style="background:linear-gradient(90deg,#636363 33.3%,#202020 0 66.5%,#5c5c5c 0)"></i><i style="background:linear-gradient(90deg,#5b5b5b 33.3%,#232323 0 66.5%,#5e5e5e 0)"></i><i style="background:linear-gradient(90deg,#4d4d4d 33.3%,#222222 0 66.5%,#6c6c6c 0)"></i><i style="background:linear-gradient(90deg,#5c5c5c 33.3%,#252525 0 66.5%,#9c9c9c 0)"></i><i style="background:linear-gradient(90deg,#585858 33.3%,#343434 0 66.5%,#999999 0)"></i><i style="background:linear-gradient(90deg,#5f5f5f 33.3%,#242424 0 66.5%,#a4a4a4 0)"></i><i style="background:linear-gradient(90deg,#606060 33.3%,#323232 0 66.5%,#a1a1a1 0)"></i><i style="background:linear-gradient(90deg,#5c5c5c 33.3%,#313131 0 66.5%,#a5a5a5 0)"></i><i style="background:linear-gradient(90deg,#545454 33.3%,#303030 0 66.5%,#848484 0)"></i><i style="background:linear-gradient(90deg,#616161 33.3%,#2c2c2c 0 66.5%,#525252 0)"></i><i style="background:linear-gradient(90deg,#686868 33.3%,#343434 0 66.5%,#545454 0)"></i><i style="background:linear-gradient(90deg,#6f6f6f 33.3%,#3c3c3c 0 66.5%,#4b4b4b 0)"></i><i style="background:linear-gradient(90deg,#686868 33.3%,#3f3f3f 0 66.5%,#424242 0)"></i><i style="background:linear-gradient(90deg,#676767 33.3%,#3c3c3c 0 66.5%,#434343 0)"></i><i style="background:linear-gradient(90deg,#6b6b6b 33.3%,#303030 0 66.5%,#4c4c4c 0)"></i><i style="background:linear-gradient(90deg,#727272 33.3%,#343434 0 66.5%,#4a4a4a 0)"></i><i style="background:linear-gradient(90deg,#5d5d5d 33.3%,#3a3a3a 0 66.5%,#454545 0)"></i><i style="background:linear-gradient(90deg,#a5a5a5 33.3%,#3a3a3a 0 66.5%,#454545 0)"></i><i style="background:linear-gradient(90deg,#c1c1c1 33.3%,#3b3b3b 0 66.5%,#3a3a3a 0)"></i><i style="background:linear-gradient(90deg,#c9c9c9 33.3%,#373737 0 66.5%,#373737 0)"></i><i style="background:linear-gradient(90deg,#c6c6c6 33.3%,#404040 0 66.5%,#373737 0)"></i><i style="background:linear-gradient(90deg,#cdcdcd 33.3%,#353535 0 66.5%,#3d3d3d 0)"></i><i style="background:linear-gradient(90deg,#d3d3d3 33.3%,#323232 0 66.5%,#505050 0)"></i><i style="background:linear-gradient(90deg,#dbdbdb 33.3%,#272727 0 66.5%,#515151 0)"></i><i style="background:linear-gradient(90deg,#d7d7d7 33.3%,#282828 0 66.5%,#4c4c4c 0)"></i><i style="background:linear-gradient(90deg,#e0e0e0 33.3%,#1f1f1f 0 66.5%,#424242 0)"></i><i style="background:linear-gradient(90deg,#dbdbdb 33.3%,#262626 0 66.5%,#4c4c4c 0)"></i><i style="background:linear-gradient(90deg,#dddddd 33.3%,#2e2e2e 0 66.5%,#565656 0)"></i><i style="background:linear-gradient(90deg,#dedede 33.3%,#353535 0 66.5%,#565656 0)"></i><i style="background:linear-gradient(90deg,#e0e0e0 33.3%,#434343 0 66.5%,#474747 0)"></i><i style="background:linear-gradient(90deg,#dddddd 33.3%,#363636 0 66.5%,#393939 0)"></i><i style="background:linear-gradient(90deg,#d6d6d6 33.3%,#262626 0 66.5%,#333333 0)"></i><i style="background:linear-gradient(90deg,#c8c8c8 33.3%,#1e1e1e 0 66.5%,#373737 0)"></i><i style="background:linear-gradient(90deg,#c3c3c3 33.3%,#1b1b1b 0 66.5%,#2f2f2f 0)"></i><i style="background:linear-gradient(90deg,#b5b5b5 33.3%,#323232 0 66.5%,#292929 0)"></i><i style="background:linear-gradient(90deg,#a9a9a9 33.3%,#555555 0 66.5%,#222222 0)"></i><i style="background:linear-gradient(90deg,#999999 33.3%,#5e5e5e 0 66.5%,#262626 0)"></i><i style="background:linear-gradient(90deg,#888888 33.3%,#696969 0 66.5%,#252525 0)"></i><i style="background:linear-gradient(90deg,#8a8a8a 33.3%,#7f7f7f 0 66.5%,#2b2b2b 0)"></i><i style="background:linear-gradient(90deg,#8f8f8f 33.3%,#878787 0 66.5%,#333333 0)"></i><i style="background:linear-gradient(90deg,#929292 33.3%,#777777 0 66.5%,#2b2b2b 0)"></i><i style="background:linear-gradient(90deg,#989898 33.3%,#747474 0 66.5%,#272727 0)"></i><i style="background:linear-gradient(90deg,#989898 33.3%,#6e6e6e 0 66.5%,#1c1c1c 0)"></i><i style="background:linear-gradient(90deg,#8b8b8b 33.3%,#6a6a6a 0 66.5%,#191919 0)"></i><i style="background:linear-gradient(90deg,#888888 33.3%,#727272 0 66.5%,#232323 0)"></i><i style="background:linear-gradient(90deg,#7c7c7c 33.3%,#707070 0 66.5%,#262626 0)"></i><i style="background:linear-gradient(90deg,#5b5b5b 33.3%,#606060 0 66.5%,#232323 0)"></i><i style="background:linear-gradient(90deg,#535353 33.3%,#565656 0 66.5%,#222222 0)"></i><i style="background:linear-gradient(90deg,#5c5c5c 33.3%,#3f3f3f 0 66.5%,#373737 0)"></i><i style="background:linear-gradient(90deg,#5e5e5e 33.3%,#494949 0 66.5%,#363636 0)"></i><i style="background:linear-gradient(90deg,#646464 33.3%,#4a4a4a 0 66.5%,#353535 0)"></i><i style="background:linear-gradient(90deg,#606060 33.3%,#585858 0 66.5%,#323232 0)"></i><i style="background:linear-gradient(90deg,#5c5c5c 33.3%,#606060 0 66.5%,#313131 0)"></i><i style="background:linear-gradient(90deg,#626262 33.3%,#6a6a6a 0 66.5%,#1a1a1a 0)"></i><i style="background:linear-gradient(90deg,#646464 33.3%,#6c6c6c 0 66.5%,#131313 0)"></i><i style="background:linear-gradient(90deg,#696969 33.3%,#6a6a6a 0 66.5%,#0e0e0e 0)"></i><i style="background:linear-gradient(90deg,#616161 33.3%,#676767 0 66.5%,#141414 0)"></i><i style="background:linear-gradient(90deg,#4b4b4b 33.3%,#656565 0 66.5%,#111111 0)"></i><i style="background:linear-gradient(90deg,#434343 33.3%,#5a5a5a 0 66.5%,#2f2f2f 0)"></i><i style="background:linear-gradient(90deg,#616161 33.3%,#616161 0 66.5%,#7e7e7e 0)"></i><i style="background:linear-gradient(90deg,#717171 33.3%,#4b4b4b 0 66.5%,#7c7c7c 0)"></i><i style="background:linear-gradient(90deg,#6c6c6c 33.3%,#606060 0 66.5%,#737373 0)"></i><i style="background:linear-gradient(90deg,#737373 33.3%,#515151 0 66.5%,#727272 0)"></i><i style="background:linear-gradient(90deg,#676767 33.3%,#555555 0 66.5%,#868686 0)"></i><i style="background:linear-gradient(90deg,#575757 33.3%,#727272 0 66.5%,#8b8b8b 0)"></i><i style="background:linear-gradient(90deg,#5d5d5d 33.3%,#707070 0 66.5%,#898989 0)"></i><i style="background:linear-gradient(90deg,#6d6d6d 33.3%,#4e4e4e 0 66.5%,#bfbfbf 0)"></i><i style="background:linear-gradient(90deg,#848484 33.3%,#424242 0 66.5%,#cecece 0)"></i><i style="background:linear-gradient(90deg,#838383 33.3%,#505050 0 66.5%,#cbcbcb 0)"></i><i style="background:linear-gradient(90deg,#7f7f7f 33.3%,#505050 0 66.5%,#cfcfcf 0)"></i><i style="background:linear-gradient(90deg,#848484 33.3%,#4f4f4f 0 66.5%,#c6c6c6 0)"></i><i style="background:linear-gradient(90deg,#858585 33.3%,#5b5b5b 0 66.5%,#d0d0d0 0)"></i><i style="background:linear-gradient(90deg,#707070 33.3%,#5d5d5d 0 66.5%,#cecece 0)"></i><i style="background:linear-gradient(90deg,#6c6c6c 33.3%,#505050 0 66.5%,#dedede 0)"></i><i style="background:linear-gradient(90deg,#686868 33.3%,#535353 0 66.5%,#e4e4e4 0)"></i><i style="background:linear-gradient(90deg,#6e6e6e 33.3%,#545454 0 66.5%,#e7e7e7 0)"></i><i style="background:linear-gradient(90deg,#727272 33.3%,#4d4d4d 0 66.5%,#f0f0f0 0)"></i><i style="background:linear-gradient(90deg,#878787 33.3%,#494949 0 66.5%,#eaeaea 0)"></i><i style="background:linear-gradient(90deg,#8c8c8c 33.3%,#4b4b4b 0 66.5%,#e5e5e5 0)"></i><i style="background:linear-gradient(90deg,#949494 33.3%,#585858 0 66.5%,#dbdbdb 0)"></i><i style="background:linear-gradient(90deg,#9c9c9c 33.3%,#4c4c4c 0 66.5%,#d7d7d7 0)"></i><i style="background:linear-gradient(90deg,#9b9b9b 33.3%,#3d3d3d 0 66.5%,#d3d3d3 0)"></i><i style="background:linear-gradient(90deg,#989898 33.3%,#353535 0 66.5%,#cfcfcf 0)"></i><i style="background:linear-gradient(90deg,#9a9a9a 33.3%,#2f2f2f 0 66.5%,#cccccc 0)"></i><i style="background:linear-gradient(90deg,#959595 33.3%,#303030 0 66.5%,#c8c8c8 0)"></i><i style="background:linear-gradient(90deg,#8e8e8e 33.3%,#272727 0 66.5%,#c0c0c0 0)"></i><i style="background:linear-gradient(90deg,#838383 33.3%,#272727 0 66.5%,#bcbcbc 0)"></i><i style="background:linear-gradient(90deg,#666666 33.3%,#3d3d3d 0 66.5%,#999999 0)"></i><i style="background:linear-gradient(90deg,#323232 33.3%,#828282 0 66.5%,#555555 0)"></i><i style="background:linear-gradient(90deg,#3f3f3f 33.3%,#868686 0 66.5%,#565656 0)"></i><i style="background:linear-gradient(90deg,#363636 33.3%,#8e8e8e 0 66.5%,#585858 0)"></i><i style="background:linear-gradient(90deg,#373737 33.3%,#8c8c8c 0 66.5%,#555555 0)"></i><i style="background:linear-gradient(90deg,#3d3d3d 33.3%,#868686 0 66.5%,#595959 0)"></i><i style="background:linear-gradient(90deg,#434343 33.3%,#6c6c6c 0 66.5%,#555555 0)"></i><i style="background:linear-gradient(90deg,#505050 33.3%,#626262 0 66.5%,#494949 0)"></i><i style="background:linear-gradient(90deg,#454545 33.3%,#6b6b6b 0 66.5%,#404040 0)"></i><i style="background:linear-gradient(90deg,#3a3a3a 33.3%,#848484 0 66.5%,#474747 0)"></i><i style="background:linear-gradient(90deg,#444444 33.3%,#737373 0 66.5%,#4e4e4e 0)"></i><i style="background:linear-gradient(90deg,#424242 33.3%,#797979 0 66.5%,#4e4e4e 0)"></i><i style="background:linear-gradient(90deg,#404040 33.3%,#838383 0 66.5%,#464646 0)"></i><i style="background:linear-gradient(90deg,#505050 33.3%,#8c8c8c 0 66.5%,#3a3a3a 0)"></i><i style="background:linear-gradient(90deg,#494949 33.3%,#7f7f7f 0 66.5%,#2d2d2d 0)"></i><i style="background:linear-gradient(90deg,#3b3b3b 33.3%,#555555 0 66.5%,#323232 0)"></i><i style="background:linear-gradient(90deg,#3c3c3c 33.3%,#484848 0 66.5%,#262626 0)"></i><i style="background:linear-gradient(90deg,#3f3f3f 33.3%,#474747 0 66.5%,#1e1e1e 0)"></i><i style="background:linear-gradient(90deg,#505050 33.3%,#4f4f4f 0 66.5%,#202020 0)"></i><i style="background:linear-gradient(90deg,#454545 33.3%,#414141 0 66.5%,#575757 0)"></i><i style="background:linear-gradient(90deg,#3f3f3f 33.3%,#4a4a4a 0 66.5%,#7b7b7b 0)"></i><i style="background:linear-gradient(90deg,#3e3e3e 33.3%,#4b4b4b 0 66.5%,#636363 0)"></i><i style="background:linear-gradient(90deg,#424242 33.3%,#464646 0 66.5%,#6f6f6f 0)"></i><i style="background:linear-gradient(90deg,#444444 33.3%,#4d4d4d 0 66.5%,#6f6f6f 0)"></i><i style="background:linear-gradient(90deg,#3c3c3c 33.3%,#575757 0 66.5%,#6f6f6f 0)"></i><i style="background:linear-gradient(90deg,#3a3a3a 33.3%,#535353 0 66.5%,#5f5f5f 0)"></i><i style="background:linear-gradient(90deg,#323232 33.3%,#484848 0 66.5%,#797979 0)"></i><i style="background:linear-gradient(90deg,#333333 33.3%,#383838 0 66.5%,#7f7f7f 0)"></i><i style="background:linear-gradient(90deg,#2b2b2b 33.3%,#282828 0 66.5%,#868686 0)"></i><i style="background:linear-gradient(90deg,#383838 33.3%,#252525 0 66.5%,#787878 0)"></i><i style="background:linear-gradient(90deg,#343434 33.3%,#1f1f1f 0 66.5%,#818181 0)"></i><i style="background:linear-gradient(90deg,#3d3d3d 33.3%,#212121 0 66.5%,#7b7b7b 0)"></i><i style="background:linear-gradient(90deg,#2e2e2e 33.3%,#292929 0 66.5%,#7d7d7d 0)"></i><i style="background:linear-gradient(90deg,#393939 33.3%,#282828 0 66.5%,#6c6c6c 0)"></i><i style="background:linear-gradient(90deg,#393939 33.3%,#2e2e2e 0 66.5%,#727272 0)"></i><i style="background:linear-gradient(90deg,#303030 33.3%,#303030 0 66.5%,#848484 0)"></i><i style="background:linear-gradient(90deg,#2a2a2a 33.3%,#414141 0 66.5%,#9b9b9b 0)"></i><i style="background:linear-gradient(90deg,#141414 33.3%,#4d4d4d 0 66.5%,#878787 0)"></i><i style="background:linear-gradient(90deg,#0c0c0c 33.3%,#494949 0 66.5%,#838383 0)"></i><i style="background:linear-gradient(90deg,#111111 33.3%,#494949 0 66.5%,#626262 0)"></i><i style="background:linear-gradient(90deg,#0e0e0e 33.3%,#5f5f5f 0 66.5%,#535353 0)"></i><i style="background:linear-gradient(90deg,#151515 33.3%,#999999 0 66.5%,#696969 0)"></i><i style="background:linear-gradient(90deg,#121212 33.3%,#b1b1b1 0 66.5%,#5e5e5e 0)"></i><i style="background:linear-gradient(90deg,#121212 33.3%,#aaaaaa 0 66.5%,#595959 0)"></i><i style="background:linear-gradient(90deg,#141414 33.3%,#bababa 0 66.5%,#535353 0)"></i><i style="background:linear-gradient(90deg,#181818 33.3%,#bbbbbb 0 66.5%,#535353 0)"></i><i style="background:linear-gradient(90deg,#1a1a1a 33.3%,#b9b9b9 0 66.5%,#4e4e4e 0)"></i><i style="background:linear-gradient(90deg,#0c0c0c 33.3%,#b8b8b8 0 66.5%,#4e4e4e 0)"></i><i style="background:linear-gradient(90deg,#070707 33.3%,#b0b0b0 0 66.5%,#515151 0)"></i><i style="background:linear-gradient(90deg,#0c0c0c 33.3%,#a2a2a2 0 66.5%,#606060 0)"></i><i style="background:linear-gradient(90deg,#090909 33.3%,#a3a3a3 0 66.5%,#5b5b5b 0)"></i><i style="background:linear-gradient(90deg,#0b0b0b 33.3%,#a7a7a7 0 66.5%,#5e5e5e 0)"></i><i style="background:linear-gradient(90deg,#0e0e0e 33.3%,#aaaaaa 0 66.5%,#585858 0)"></i><i style="background:linear-gradient(90deg,#0b0b0b 33.3%,#afafaf 0 66.5%,#5c5c5c 0)"></i><i style="background:linear-gradient(90deg,#0e0e0e 33.3%,#9f9f9f 0 66.5%,#9d9d9d 0)"></i><i style="background:linear-gradient(90deg,#090909 33.3%,#9e9e9e 0 66.5%,#a5a5a5 0)"></i><i style="background:linear-gradient(90deg,#0b0b0b 33.3%,#969696 0 66.5%,#b5b5b5 0)"></i><i style="background:linear-gradient(90deg,#0d0d0d 33.3%,#9f9f9f 0 66.5%,#b1b1b1 0)"></i><i style="background:linear-gradient(90deg,#0f0f0f 33.3%,#939393 0 66.5%,#b1b1b1 0)"></i><i style="background:linear-gradient(90deg,#131313 33.3%,#919191 0 66.5%,#b6b6b6 0)"></i><i style="background:linear-gradient(90deg,#171717 33.3%,#878787 0 66.5%,#b6b6b6 0)"></i><i style="background:linear-gradient(90deg,#131313 33.3%,#8f8f8f 0 66.5%,#bababa 0)"></i><i style="background:linear-gradient(90deg,#131313 33.3%,#7d7d7d 0 66.5%,#b9b9b9 0)"></i><i style="background:linear-gradient(90deg,#191919 33.3%,#818181 0 66.5%,#b6b6b6 0)"></i><i style="background:linear-gradient(90deg,#161616 33.3%,#909090 0 66.5%,#b8b8b8 0)"></i><i style="background:linear-gradient(90deg,#272727 33.3%,#9b9b9b 0 66.5%,#898989 0)"></i><i style="background:linear-gradient(90deg,#343434 33.3%,#888888 0 66.5%,#5d5d5d 0)"></i><i style="background:linear-gradient(90deg,#393939 33.3%,#848484 0 66.5%,#636363 0)"></i><i style="background:linear-gradient(90deg,#383838 33.3%,#919191 0 66.5%,#5a5a5a 0)"></i><i style="background:linear-gradient(90deg,#373737 33.3%,#8f8f8f 0 66.5%,#626262 0)"></i><i style="background:linear-gradient(90deg,#404040 33.3%,#9b9b9b 0 66.5%,#595959 0)"></i><i style="background:linear-gradient(90deg,#414141 33.3%,#949494 0 66.5%,#656565 0)"></i><i style="background:linear-gradient(90deg,#363636 33.3%,#8b8b8b 0 66.5%,#5f5f5f 0)"></i><i style="background:linear-gradient(90deg,#2f2f2f 33.3%,#888888 0 66.5%,#6d6d6d 0)"></i><i style="background:linear-gradient(90deg,#313131 33.3%,#606060 0 66.5%,#757575 0)"></i><i style="background:linear-gradient(90deg,#363636 33.3%,#555555 0 66.5%,#727272 0)"></i><i style="background:linear-gradient(90deg,#494949 33.3%,#434343 0 66.5%,#585858 0)"></i><i style="background:linear-gradient(90deg,#7a7a7a 33.3%,#4a4a4a 0 66.5%,#303030 0)"></i><i style="background:linear-gradient(90deg,#888888 33.3%,#4d4d4d 0 66.5%,#2d2d2d 0)"></i><i style="background:linear-gradient(90deg,#828282 33.3%,#787878 0 66.5%,#393939 0)"></i><i style="background:linear-gradient(90deg,#8a8a8a 33.3%,#d0d0d0 0 66.5%,#3f3f3f 0)"></i><i style="background:linear-gradient(90deg,#858585 33.3%,#d7d7d7 0 66.5%,#454545 0)"></i><i style="background:linear-gradient(90deg,#979797 33.3%,#d4d4d4 0 66.5%,#454545 0)"></i><i style="background:linear-gradient(90deg,#989898 33.3%,#d9d9d9 0 66.5%,#434343 0)"></i><i style="background:linear-gradient(90deg,#9d9d9d 33.3%,#d7d7d7 0 66.5%,#3f3f3f 0)"></i><i style="background:linear-gradient(90deg,#828282 33.3%,#d5d5d5 0 66.5%,#383838 0)"></i><i style="background:linear-gradient(90deg,#7f7f7f 33.3%,#cccccc 0 66.5%,#404040 0)"></i><i style="background:linear-gradient(90deg,#777777 33.3%,#c6c6c6 0 66.5%,#4b4b4b 0)"></i><i style="background:linear-gradient(90deg,#636363 33.3%,#c0c0c0 0 66.5%,#525252 0)"></i><i style="background:linear-gradient(90deg,#5d5d5d 33.3%,#bfbfbf 0 66.5%,#474747 0)"></i><i style="background:linear-gradient(90deg,#4c4c4c 33.3%,#cbcbcb 0 66.5%,#333333 0)"></i><i style="background:linear-gradient(90deg,#4c4c4c 33.3%,#d4d4d4 0 66.5%,#353535 0)"></i><i style="background:linear-gradient(90deg,#464646 33.3%,#cfcfcf 0 66.5%,#3c3c3c 0)"></i><i style="background:linear-gradient(90deg,#353535 33.3%,#d5d5d5 0 66.5%,#424242 0)"></i><i style="background:linear-gradient(90deg,#474747 33.3%,#d0d0d0 0 66.5%,#4c4c4c 0)"></i><i style="background:linear-gradient(90deg,#636363 33.3%,#d9d9d9 0 66.5%,#525252 0)"></i><i style="background:linear-gradient(90deg,#5f5f5f 33.3%,#dbdbdb 0 66.5%,#505050 0)"></i><i style="background:linear-gradient(90deg,#5b5b5b 33.3%,#d1d1d1 0 66.5%,#3e3e3e 0)"></i><i style="background:linear-gradient(90deg,#505050 33.3%,#cfcfcf 0 66.5%,#414141 0)"></i><i style="background:linear-gradient(90deg,#505050 33.3%,#cccccc 0 66.5%,#494949 0)"></i><i style="background:linear-gradient(90deg,#555555 33.3%,#d7d7d7 0 66.5%,#454545 0)"></i><i style="background:linear-gradient(90deg,#535353 33.3%,#d4d4d4 0 66.5%,#4b4b4b 0)"></i><i style="background:linear-gradient(90deg,#484848 33.3%,#d5d5d5 0 66.5%,#6a6a6a 0)"></i><i style="background:linear-gradient(90deg,#424242 33.3%,#b4b4b4 0 66.5%,#a2a2a2 0)"></i><i style="background:linear-gradient(90deg,#4b4b4b 33.3%,#b4b4b4 0 66.5%,#949494 0)"></i><i style="background:linear-gradient(90deg,#464646 33.3%,#b6b6b6 0 66.5%,#8b8b8b 0)"></i><i style="background:linear-gradient(90deg,#424242 33.3%,#b3b3b3 0 66.5%,#949494 0)"></i><i style="background:linear-gradient(90deg,#424242 33.3%,#b9b9b9 0 66.5%,#9b9b9b 0)"></i><i style="background:linear-gradient(90deg,#4c4c4c 33.3%,#bfbfbf 0 66.5%,#a5a5a5 0)"></i><i style="background:linear-gradient(90deg,#474747 33.3%,#b7b7b7 0 66.5%,#a3a3a3 0)"></i><i style="background:linear-gradient(90deg,#4a4a4a 33.3%,#acacac 0 66.5%,#a2a2a2 0)"></i><i style="background:linear-gradient(90deg,#4b4b4b 33.3%,#c8c8c8 0 66.5%,#b2b2b2 0)"></i><i style="background:linear-gradient(90deg,#494949 33.3%,#ebebeb 0 66.5%,#c0c0c0 0)"></i><i style="background:linear-gradient(90deg,#414141 33.3%,#eaeaea 0 66.5%,#bababa 0)"></i><i style="background:linear-gradient(90deg,#444444 33.3%,#ececec 0 66.5%,#bcbcbc 0)"></i><i style="background:linear-gradient(90deg,#7d7d7d 33.3%,#eaeaea 0 66.5%,#b9b9b9 0)"></i><i style="background:linear-gradient(90deg,#919191 33.3%,#ebebeb 0 66.5%,#c7c7c7 0)"></i><i style="background:linear-gradient(90deg,#636363 33.3%,#c7c7c7 0 66.5%,#cdcdcd 0)"></i><i style="background:linear-gradient(90deg,#414141 33.3%,#b3b3b3 0 66.5%,#bcbcbc 0)"></i><i style="background:linear-gradient(90deg,#2c2c2c 33.3%,#bdbdbd 0 66.5%,#bfbfbf 0)"></i><i style="background:linear-gradient(90deg,#333333 33.3%,#bbbbbb 0 66.5%,#bdbdbd 0)"></i><i style="background:linear-gradient(90deg,#323232 33.3%,#bcbcbc 0 66.5%,#c4c4c4 0)"></i><i style="background:linear-gradient(90deg,#2e2e2e 33.3%,#aeaeae 0 66.5%,#bebebe 0)"></i></div>
<svg width="1787" height="2473" viewBox="0 0 1787 2473" style="position:absolute;left:0;top:0" font-family="'Liberation Sans',sans-serif" fill="#000">
<rect x="211.4" y="15.9" width="90.1" height="39" fill="#656565"/>
<rect x="211.4" y="38.2" width="90.1" height="1.8" fill="#4a4a4a"/>
<rect x="213.6" y="32.8" width="85.7" height="5.4" fill="#52b272"/>
<rect x="227.3" y="53.5" width="58.3" height="22.2" fill="#414141"/>
<rect x="227.3" y="75.6" width="58.3" height="76.8" fill="#656565"/>
<rect x="239.4" y="151.5" width="34.4" height="17" fill="#5c5c5c"/>
<rect x="239.2" y="167.6" width="35" height="8" fill="#e2e2e2" stroke="#666" stroke-width="1.6"/>
<g transform="translate(60 160) scale(0.18304)" stroke-linejoin="round" stroke-linecap="round">
<path d="M822 148C830 145 850.3 134.7 870 130C889.7 125.3 915 121.3 940 120C965 118.7 993.3 119 1020 122C1046.7 125 1073.3 130.8 1100 138C1126.7 145.2 1153.3 155 1180 165C1206.7 175 1233.3 186.3 1260 198C1286.7 209.7 1315 221.3 1340 235C1365 248.7 1389.2 263.3 1410 280C1430.8 296.7 1449.2 315 1465 335C1480.8 355 1494.5 377.5 1505 400C1515.5 422.5 1522.7 445 1528 470C1533.3 495 1536.3 523.3 1537 550C1537.7 576.7 1535.7 603.3 1532 630C1528.3 656.7 1522.3 683.3 1515 710C1507.7 736.7 1498.8 765 1488 790C1477.2 815 1463.8 838.3 1450 860C1436.2 881.7 1420 900.8 1405 920C1390 939.2 1375 958.3 1360 975C1345 991.7 1329.2 1006.7 1315 1020C1300.8 1033.3 1290 1042.2 1275 1055C1260 1067.8 1242.5 1085.3 1225 1097C1207.5 1108.7 1189.2 1118.7 1170 1125C1150.8 1131.3 1130 1135.5 1110 1135C1090 1134.5 1070 1128.7 1050 1122C1030 1115.3 1010 1105.7 990 1095C970 1084.3 948.3 1069.7 930 1058C911.7 1046.3 895.8 1034.7 880 1025C864.2 1015.3 842.5 1004.2 835 1000C827.5 1004.2 805.8 1015.3 790 1025C774.2 1034.7 758.3 1046.3 740 1058C721.7 1069.7 700 1084.3 680 1095C660 1105.7 641.7 1114.8 620 1122C598.3 1129.2 573.3 1136.7 550 1138C526.7 1139.3 501.7 1136.3 480 1130C458.3 1123.7 436.7 1111.7 420 1100C403.3 1088.3 391.7 1073.3 380 1060C368.3 1046.7 363.3 1034.2 350 1020C336.7 1005.8 318.3 993.3 300 975C281.7 956.7 258.3 934.2 240 910C221.7 885.8 205 858.3 190 830C175 801.7 160.3 770 150 740C139.7 710 133 680 128 650C123 620 120 590 120 560C120 530 123 496.7 128 470C133 443.3 140.5 422.5 150 400C159.5 377.5 170 355.8 185 335C200 314.2 219.2 292.5 240 275C260.8 257.5 285 243.3 310 230C335 216.7 363.3 206.7 390 195C416.7 183.3 443.3 170.8 470 160C496.7 149.2 523.3 137.5 550 130C576.7 122.5 605 117.8 630 115C655 112.2 676.7 110.8 700 113C723.3 115.2 749.7 122.2 770 128C790.3 133.8 813.3 144.7 822 148Z" fill="#fff" stroke="#000" stroke-width="10.5"/>
<path d="M822 148V482" stroke="#000" stroke-width="9" fill="none"/>
<path d="M358 692C355.5 683.3 345.2 657.8 343 640C340.8 622.2 341.3 604.2 345 585C348.7 565.8 355 544.2 365 525C375 505.8 389.2 485.8 405 470C420.8 454.2 440.8 441.7 460 430C479.2 418.3 500.8 409.2 520 400C539.2 390.8 558.3 381.3 575 375C591.7 368.7 606.7 363.7 620 362C633.3 360.3 645.3 360.3 655 365C664.7 369.7 670.5 380 678 390C685.5 400 691.3 412.5 700 425C708.7 437.5 719.2 452.5 730 465C740.8 477.5 754.2 491.2 765 500C775.8 508.8 788.8 511.3 795 518C801.2 524.7 802.5 532.7 802 540C801.5 547.3 797.3 555.7 792 562C786.7 568.3 777.3 573.3 770 578C762.7 582.7 754.7 583 748 590C741.3 597 735.5 607.5 730 620C724.5 632.5 719.2 649.2 715 665C710.8 680.8 707.8 699.5 705 715C702.2 730.5 699.2 750.8 698 758" fill="none" stroke="#000" stroke-width="9.5"/>
<path d="M358 692C359.7 681.7 362.7 650.3 368 630C373.3 609.7 380.5 589.2 390 570C399.5 550.8 410.8 531.7 425 515C439.2 498.3 457.5 481.7 475 470C492.5 458.3 511.7 450.8 530 445C548.3 439.2 567.5 435 585 435C602.5 435 620.8 439.2 635 445C649.2 450.8 660.8 460 670 470C679.2 480 685.5 490 690 505C694.5 520 696.2 540.8 697 560C697.8 579.2 696.2 600 695 620C693.8 640 691.7 660 690 680C688.3 700 686.3 725.8 685 740C683.7 754.2 682.5 760.8 682 765" fill="none" stroke="#000" stroke-width="9.5"/>
<path d="M1286 692C1288.5 683.3 1298.8 657.8 1301 640C1303.2 622.2 1302.7 604.2 1299 585C1295.3 565.8 1289 544.2 1279 525C1269 505.8 1254.8 485.8 1239 470C1223.2 454.2 1203.2 441.7 1184 430C1164.8 418.3 1143.2 409.2 1124 400C1104.8 390.8 1085.7 381.3 1069 375C1052.3 368.7 1037.3 363.7 1024 362C1010.7 360.3 998.7 360.3 989 365C979.3 369.7 973.5 380 966 390C958.5 400 952.7 412.5 944 425C935.3 437.5 924.8 452.5 914 465C903.2 477.5 889.8 491.2 879 500C868.2 508.8 855.2 511.3 849 518C842.8 524.7 841.5 532.7 842 540C842.5 547.3 846.7 555.7 852 562C857.3 568.3 866.7 573.3 874 578C881.3 582.7 889.3 583 896 590C902.7 597 908.5 607.5 914 620C919.5 632.5 924.8 649.2 929 665C933.2 680.8 936.2 699.5 939 715C941.8 730.5 944.8 750.8 946 758" fill="none" stroke="#000" stroke-width="9.5"/>
<path d="M1286 692C1284.3 681.7 1281.3 650.3 1276 630C1270.7 609.7 1263.5 589.2 1254 570C1244.5 550.8 1233.2 531.7 1219 515C1204.8 498.3 1186.5 481.7 1169 470C1151.5 458.3 1132.3 450.8 1114 445C1095.7 439.2 1076.5 435 1059 435C1041.5 435 1023.2 439.2 1009 445C994.8 450.8 983.2 460 974 470C964.8 480 958.5 490 954 505C949.5 520 947.8 540.8 947 560C946.2 579.2 947.8 600 949 620C950.2 640 952.3 660 954 680C955.7 700 957.7 725.8 959 740C960.3 754.2 961.5 760.8 962 765" fill="none" stroke="#000" stroke-width="9.5"/>
<path d="M692 505 L718 522 L742 545 L751 572 L746 592 L728 622 L712 655 L702 692 L697 640 L698 580 L696 540 Z" fill="#111" stroke="#111" stroke-width="3"/>
<path d="M690 760C702.5 765 702.8 776.7 705 790C707.2 803.3 706.3 823.3 703 840C699.7 856.7 693.8 875.8 685 890C676.2 904.2 664.2 916.7 650 925C635.8 933.3 617.5 936.7 600 940C582.5 943.3 559.2 947.5 545 945C530.8 942.5 521.7 935 515 925C508.3 915 505 899.2 505 885C505 870.8 509.2 854.2 515 840C520.8 825.8 529.2 810.8 540 800C550.8 789.2 565 781.7 580 775C595 768.3 611.7 762.5 630 760C648.3 757.5 677.5 755 690 760Z" fill="#fff" stroke="#000" stroke-width="10.5"/>
<path d="M952 505 L926 522 L902 545 L893 572 L898 592 L916 622 L932 655 L942 692 L947 640 L946 580 L948 540 Z" fill="#111" stroke="#111" stroke-width="3"/>
<path d="M954 760C941.5 765 941.2 776.7 939 790C936.8 803.3 937.7 823.3 941 840C944.3 856.7 950.2 875.8 959 890C967.8 904.2 979.8 916.7 994 925C1008.2 933.3 1026.5 936.7 1044 940C1061.5 943.3 1084.8 947.5 1099 945C1113.2 942.5 1122.3 935 1129 925C1135.7 915 1139 899.2 1139 885C1139 870.8 1134.8 854.2 1129 840C1123.2 825.8 1114.8 810.8 1104 800C1093.2 789.2 1079 781.7 1064 775C1049 768.3 1032.3 762.5 1014 760C995.7 757.5 966.5 755 954 760Z" fill="#fff" stroke="#000" stroke-width="10.5"/>
<ellipse cx="620" cy="825" rx="38" ry="26" transform="rotate(-35 620 825)" fill="#fff" stroke="#000" stroke-width="10"/>
<rect x="1032" y="88" width="83" height="690" fill="#1fa7da" fill-opacity="0.85" stroke="none"/>
<path d="M1068.4 756.2l12.2 4.6M1046.6 783.2l12.7 -2.6M1074.8 779.8l12.8 -2.2M1112.6 786.2l11.2 -6.5M1103.1 798.3l3 12.6M1134.2 800l1.6 12.9M962.3 830.4l12.7 -2.6M1082.3 831.2l10.5 7.6M1111 835l11 -7M1131.4 833.5l12.8 -2.1M972.5 856.7l11.8 -5.4M1004.8 852.9l12 4.9M1063.3 849.1l13 0.5M1094 852.6l11.9 5.2M1118.6 849.3l13 0.9M956 877.4l11 6.9M984.4 874.6l12.1 4.7M1020.7 877.6l12.4 4M1047 885.3l12 -5M1080.8 875.1l12.9 1.9M1109.7 874.2l7.3 10.8M1141.5 881.9l12.5 3.4M970.1 910l9.2 -9.2M1001.4 911.1l10.9 -7.1M1037.5 907.3l12.9 1.1M1062.6 907.3l12.2 -4.6M1102.2 894.1l2.2 12.8M1129.2 907.1l11.8 -5.6M1014 924.7l12.8 2.1M1048.8 926.6l11.7 5.7M1073.8 932.5l8.4 -10" stroke="#14ab5e" stroke-width="11.5" fill="none" stroke-linecap="round"/>
<ellipse cx="1020" cy="815" rx="36" ry="26" transform="rotate(35 1020 815)" fill="#fff" stroke="#000" stroke-width="10"/>
</g>
<path d="M309.7 170.8L259.5 306.2" stroke="#000" stroke-width="1.9" fill="none"/>
<path d="M305.6 169.7l8.2 2.8M293.8 183.4l21.4 7.4" stroke="#000" stroke-width="1.9" fill="none"/>
<path d="M301.2 197.7L289.7 227.9" stroke="#000" stroke-width="7" fill="none"/>
<path d="M300.7 199L290.2 226.6" stroke="#14a75c" stroke-width="4.6" fill="none"/>
<path d="M304.5 189.5L300.9 198.6" stroke="#000" stroke-width="7" fill="none"/><path d="M304.2 190.2L301.1 198" stroke="#fff" stroke-width="4.6" fill="none"/>
<text x="304.8" y="140.6" font-size="14.6">AAV9-hSyn-</text>
<text x="304.8" y="158.4" font-size="14.6">FLEX-jGCaMP7f</text>
<text x="145" y="390" font-size="16.8">D1-Cre or D2-Cre</text>
<defs>
<clipPath id="bclip"><rect x="445.8" y="3.4" width="328" height="345.4"/></clipPath>
<filter id="bspk" x="0" y="0" width="100%" height="100%" color-interpolation-filters="sRGB"><feTurbulence type="fractalNoise" baseFrequency="0.5" numOctaves="2" seed="11"/><feColorMatrix type="matrix" values="0 0 0 0 0.03  0 0 0 0 0.04  0 0 0 0 0.82  7 0 0 0 -3.6"/></filter>
<filter id="gspk" x="0" y="0" width="100%" height="100%" color-interpolation-filters="sRGB"><feTurbulence type="fractalNoise" baseFrequency="0.33" numOctaves="2" seed="5"/><feColorMatrix type="matrix" values="0 0 0 0 0.15  0 0 0 0 0.9  0 0 0 0 0.32  0 8 0 0 -4.85"/></filter>
<filter id="ghaze" x="0" y="0" width="100%" height="100%" color-interpolation-filters="sRGB"><feTurbulence type="fractalNoise" baseFrequency="0.15" numOctaves="3" seed="8"/><feColorMatrix type="matrix" values="0 0 0 0 0.04  0 0 0 0 0.38  0 0 0 0 0.1  0 0 3.5 0 -1.45"/></filter>
<filter id="blur14" x="-30%" y="-30%" width="160%" height="160%"><feGaussianBlur stdDeviation="14"/></filter>
<mask id="gmask" maskUnits="userSpaceOnUse" x="445.8" y="3.4" width="328" height="345.4"><g filter="url(#blur14)">
<ellipse cx="475.1" cy="56.4" rx="51.9" ry="67.7" fill="#fff" fill-opacity="1.0"/>
<ellipse cx="457.1" cy="18.1" rx="33.9" ry="27.1" fill="#fff" fill-opacity="1.0"/>
<ellipse cx="601.6" cy="106.1" rx="117.4" ry="45.1" fill="#fff" fill-opacity="0.75"/>
<ellipse cx="673.8" cy="214.4" rx="74.5" ry="85.8" fill="#fff" fill-opacity="1.0"/>
<ellipse cx="655.7" cy="225.7" rx="45.1" ry="58.7" fill="#fff" fill-opacity="0.6"/>
<ellipse cx="723.5" cy="29.3" rx="58.7" ry="38.4" fill="#fff" fill-opacity="0.6"/>
<ellipse cx="766.3" cy="140" rx="20.3" ry="117.4" fill="#fff" fill-opacity="0.55"/>
<ellipse cx="570" cy="155.8" rx="74.5" ry="24.8" fill="#fff" fill-opacity="0.7"/>
<ellipse cx="712.2" cy="322.8" rx="67.7" ry="29.3" fill="#fff" fill-opacity="0.4"/>
<ellipse cx="504.5" cy="94.8" rx="45.1" ry="31.6" fill="#fff" fill-opacity="0.6"/>
<ellipse cx="573.8" cy="217.4" rx="42.9" ry="41.8" fill="#000" fill-opacity="0.95"/>
<ellipse cx="486.4" cy="259.6" rx="74.5" ry="101.6" fill="#000" fill-opacity="0.9"/>
<ellipse cx="730.2" cy="126.4" rx="29.3" ry="51.9" fill="#000" fill-opacity="0.6"/>
</g></mask>
</defs>
<g clip-path="url(#bclip)">
<rect x="445.8" y="3.4" width="328" height="345.4" fill="#01020f"/>
<rect x="445.8" y="3.4" width="328" height="345.4" filter="url(#bspk)"/>
<g mask="url(#gmask)"><rect x="445.8" y="3.4" width="328" height="345.4" fill="#073c14" fill-opacity="0.45"/><rect x="445.8" y="3.4" width="328" height="345.4" filter="url(#ghaze)"/><rect x="445.8" y="3.4" width="328" height="345.4" filter="url(#gspk)"/></g>
<g stroke="#04062a" stroke-opacity="0.55" fill="none" stroke-linecap="round">
<path d="M463.9 33.9L504.5 74.5" stroke-width="3.3"/>
<path d="M481.9 51.9L524.8 97.1" stroke-width="2.9"/>
<path d="M673.8 266.4L680.6 348.8" stroke-width="3.3"/>
<path d="M723.5 18.1L741.5 29.3" stroke-width="3.6"/>
<path d="M628.6 85.8L655.7 74.5" stroke-width="2.2"/>
<path d="M588 79L610.6 67.7" stroke-width="2.2"/>
</g>
<path d="M506.1 1.1L664.8 1.1L667 46.3L507.9 54.9Z" fill="#000" stroke="#fff" stroke-width="2.4"/>
<circle cx="636.5" cy="24.8" r="18.5" fill="none" stroke="#0a1a6a" stroke-width="0.6"/>
<ellipse cx="603.8" cy="211.1" rx="150.8" ry="146.7" fill="none" stroke="#fff" stroke-width="3" stroke-dasharray="11.5 8"/>
<ellipse cx="573.8" cy="217.4" rx="44.7" ry="42.2" fill="none" stroke="#fff" stroke-width="2.4" transform="rotate(20 573.8 217.4)"/>
<path d="M510.8 109.5L669.3 100.9L671.1 126.9L511.7 136.1Z" fill="none" stroke="#f5c31a" stroke-width="2.1"/>
<text transform="translate(533.4 126.4) rotate(-2.8)" font-size="20.7" fill="#f5c31a">Focal plane</text>
<text x="575.6" y="300.2" font-size="32.2" fill="#fff" font-style="italic">NAcCore</text>
<rect x="615.1" y="327.8" width="137.7" height="7.9" fill="#fff"/>
</g>
<defs><clipPath id="cclip"><rect x="789.2" y="3.6" width="366" height="345"/></clipPath>
<radialGradient id="cfov" gradientUnits="userSpaceOnUse" cx="972.6" cy="178.2" r="173.3"><stop offset="0" stop-color="#141414"/><stop offset="0.8" stop-color="#121212"/><stop offset="0.93" stop-color="#101010"/><stop offset="0.965" stop-color="#1a1a1a"/><stop offset="1" stop-color="#0e0e0e"/></radialGradient>
<filter id="cbl" x="-20%" y="-20%" width="140%" height="140%"><feGaussianBlur stdDeviation="2.6"/></filter>
<clipPath id="cfc"><circle cx="972.6" cy="178.2" r="168"/></clipPath><filter id="cgr" x="0" y="0" width="100%" height="100%" color-interpolation-filters="sRGB"><feTurbulence type="fractalNoise" baseFrequency="0.07" numOctaves="4" seed="2"/><feColorMatrix type="matrix" values="0 0 0 0 1  0 0 0 0 1  0 0 0 0 1  0.17 0 0 0 -0.06"/></filter><filter id="cbl2" x="-20%" y="-20%" width="140%" height="140%"><feGaussianBlur stdDeviation="9"/></filter></defs>
<g clip-path="url(#cclip)">
<rect x="789.2" y="3.6" width="366" height="345" fill="#0d0d0d"/>
<circle cx="972.6" cy="178.2" r="173.3" fill="url(#cfov)"/>
<rect x="789.2" y="3.6" width="366" height="345" filter="url(#cgr)" clip-path="url(#cfc)"/>
<g filter="url(#cbl2)" fill="#fff">
<ellipse cx="965.2" cy="109.8" rx="80.5" ry="56.1" fill-opacity="0.05"/>
<ellipse cx="1050.7" cy="195.2" rx="68.3" ry="80.5" fill-opacity="0.07"/>
<ellipse cx="953" cy="244.1" rx="73.2" ry="48.8" fill-opacity="0.05"/>
<ellipse cx="1026.3" cy="300.2" rx="53.7" ry="29.3" fill-opacity="0.06"/>
</g>
<g filter="url(#cbl)" fill="#fff">
<ellipse cx="977.4" cy="31.7" rx="6.1" ry="5.4" fill-opacity="0.35"/>
<ellipse cx="962.8" cy="75.7" rx="7.3" ry="9.8" fill-opacity="0.52"/>
<ellipse cx="940.8" cy="104.9" rx="5.4" ry="7.3" fill-opacity="0.49"/>
<ellipse cx="1032.4" cy="122" rx="6.1" ry="6.8" fill-opacity="0.56"/>
<ellipse cx="989.6" cy="133" rx="6.8" ry="6.1" fill-opacity="0.59"/>
<ellipse cx="1050.7" cy="144" rx="6.1" ry="7.3" fill-opacity="0.52"/>
<ellipse cx="1029.9" cy="162.3" rx="7.3" ry="7.3" fill-opacity="0.63"/>
<ellipse cx="1053.1" cy="168.4" rx="6.1" ry="6.1" fill-opacity="0.42"/>
<ellipse cx="1092.1" cy="158.6" rx="5.4" ry="6.1" fill-opacity="0.42"/>
<ellipse cx="920.1" cy="192.8" rx="6.8" ry="9.8" fill-opacity="0.56"/>
<ellipse cx="1045.8" cy="231.8" rx="8.5" ry="7.3" fill-opacity="0.7"/>
<ellipse cx="943.3" cy="244.1" rx="7.3" ry="7.8" fill-opacity="0.59"/>
<ellipse cx="1004.3" cy="248.9" rx="8.5" ry="7.3" fill-opacity="0.52"/>
<ellipse cx="976.2" cy="253.8" rx="7.3" ry="6.1" fill-opacity="0.49"/>
<ellipse cx="957.9" cy="256.3" rx="5.4" ry="7.3" fill-opacity="0.45"/>
<ellipse cx="909.1" cy="217.2" rx="7.3" ry="7.3" fill-opacity="0.42"/>
<ellipse cx="887.1" cy="268.5" rx="7.3" ry="7.3" fill-opacity="0.39"/>
<ellipse cx="1028.7" cy="302.6" rx="9.8" ry="6.1" fill-opacity="0.56"/>
<ellipse cx="1004.3" cy="312.4" rx="7.3" ry="6.1" fill-opacity="0.52"/>
<ellipse cx="1072.6" cy="268.5" rx="6.1" ry="7.3" fill-opacity="0.42"/>
<ellipse cx="1058" cy="290.4" rx="9.8" ry="6.1" fill-opacity="0.35"/>
<ellipse cx="1111.7" cy="195.2" rx="7.3" ry="8.5" fill-opacity="0.39"/>
<ellipse cx="1119" cy="205" rx="6.1" ry="7.3" fill-opacity="0.35"/>
<ellipse cx="1040.9" cy="214.8" rx="6.1" ry="6.1" fill-opacity="0.45"/>
<ellipse cx="1016.5" cy="217.2" rx="7.3" ry="7.3" fill-opacity="0.39"/>
<ellipse cx="911.5" cy="133" rx="6.1" ry="7.3" fill-opacity="0.45"/>
<ellipse cx="921.3" cy="109.8" rx="7.3" ry="9.8" fill-opacity="0.35"/>
<ellipse cx="896.9" cy="68.3" rx="6.8" ry="6.1" fill-opacity="0.32"/>
<ellipse cx="879.8" cy="87.9" rx="6.1" ry="6.1" fill-opacity="0.32"/>
<ellipse cx="861.5" cy="80.5" rx="5.4" ry="5.4" fill-opacity="0.28"/>
<ellipse cx="840.8" cy="117.1" rx="9.8" ry="6.1" fill-opacity="0.28"/>
<ellipse cx="843.2" cy="161.1" rx="9.8" ry="4.4" fill-opacity="0.24"/>
<ellipse cx="855.4" cy="214.8" rx="5.4" ry="6.1" fill-opacity="0.21"/>
<ellipse cx="1009.2" cy="61" rx="9.8" ry="9.8" fill-opacity="0.32"/>
<ellipse cx="1004.3" cy="78.1" rx="7.3" ry="7.3" fill-opacity="0.28"/>
<ellipse cx="984.8" cy="109.8" rx="5.4" ry="6.1" fill-opacity="0.32"/>
<ellipse cx="950.6" cy="141.5" rx="7.3" ry="6.1" fill-opacity="0.28"/>
<ellipse cx="901.8" cy="151.3" rx="7.3" ry="6.1" fill-opacity="0.28"/>
<ellipse cx="960.4" cy="229.4" rx="6.1" ry="7.3" fill-opacity="0.35"/>
<ellipse cx="972.6" cy="212.3" rx="7.3" ry="9.8" fill-opacity="0.24"/>
<ellipse cx="1070.2" cy="136.7" rx="5.4" ry="5.4" fill-opacity="0.35"/>
<ellipse cx="1075.1" cy="156.2" rx="6.1" ry="5.4" fill-opacity="0.28"/>
<ellipse cx="1114.1" cy="139.1" rx="6.1" ry="5.4" fill-opacity="0.21"/>
<ellipse cx="948.2" cy="292.9" rx="8.5" ry="7.3" fill-opacity="0.24"/>
<ellipse cx="887.1" cy="248.9" rx="6.1" ry="6.1" fill-opacity="0.24"/>
<ellipse cx="862.7" cy="283.1" rx="6.1" ry="4.9" fill-opacity="0.21"/>
<ellipse cx="838.3" cy="275.8" rx="5.4" ry="4.9" fill-opacity="0.17"/>
<ellipse cx="1038.5" cy="275.8" rx="6.1" ry="5.4" fill-opacity="0.28"/>
<ellipse cx="1082.4" cy="251.4" rx="5.4" ry="5.4" fill-opacity="0.24"/>
<ellipse cx="931.1" cy="51.3" rx="7.3" ry="4.4" fill-opacity="0.21"/>
<ellipse cx="906.7" cy="31.7" rx="6.1" ry="4.9" fill-opacity="0.14"/>
<ellipse cx="1045.8" cy="85.4" rx="4.9" ry="4.9" fill-opacity="0.17"/>
<ellipse cx="1018.9" cy="102.5" rx="4.9" ry="5.4" fill-opacity="0.21"/>
<ellipse cx="877.4" cy="117.1" rx="4.4" ry="4.9" fill-opacity="0.24"/>
<ellipse cx="874.9" cy="144" rx="5.4" ry="3.7" fill-opacity="0.21"/>
<ellipse cx="955.5" cy="180.6" rx="6.8" ry="6.8" fill-opacity="0.21"/>
<ellipse cx="931.1" cy="202.6" rx="4.9" ry="4.9" fill-opacity="0.21"/>
<ellipse cx="989.6" cy="151.3" rx="6.1" ry="4.9" fill-opacity="0.21"/>
<ellipse cx="899.3" cy="322.1" rx="6.1" ry="4.4" fill-opacity="0.14"/>
<ellipse cx="945.7" cy="334.4" rx="6.1" ry="4.4" fill-opacity="0.14"/>
<ellipse cx="1075.1" cy="305.1" rx="6.1" ry="4.9" fill-opacity="0.21"/>
</g>
<g fill="none" stroke-width="2.2">
<path d="M894.5 111.8C898.9 116.7 900.6 123.2 898.1 127.4C895 130.6 889.6 129.8 888.6 124.5C888.1 119.1 891 114.2 894.5 111.8Z" stroke="#a233c4"/>
<ellipse cx="989.9" cy="131.5" rx="7.3" ry="6.6" stroke="#12b261" transform="rotate(20 989.9 131.5)"/>
<ellipse cx="1069.7" cy="137.2" rx="8.3" ry="4.9" stroke="#e5321f" transform="rotate(-22 1069.7 137.2)"/>
<ellipse cx="885.9" cy="169.9" rx="6.3" ry="7.3" stroke="#5b9bd5"/>
<ellipse cx="1084.1" cy="206.2" rx="6.6" ry="7.3" stroke="#f7941d" transform="rotate(15 1084.1 206.2)"/>
</g>
<rect x="1066.5" y="327.5" width="64.7" height="8.1" fill="#fff"/>
</g>
<path d="M1263.9 142.2V382M1340.1 90.9V382M1363.2 106V382" stroke="#6a6562" stroke-width="3.6" stroke-linecap="round" fill="none"/>
<path d="M1259.2 124.2L1268.6 124.2L1263.9 140.1Z" fill="#000"/>
<path d="M1335.4 74.8L1344.8 74.8L1340.1 90.1Z" fill="#000"/>
<path d="M1200.8 200.7l.8 1.3 .8-1.2 .8 2.5 .8 .4 .8-1.6 .7 .9 .8 .2 .8 .2 .8-.3 .8-1.4 .8 2.9 .8-1.4 .8 2.6 .8-2.1 .8-.6 .8-1 .8 2.3 .8-2.1 .8 2.2 .8-2 .7 1.1 .8-2.2 .8 3.7 .8-2.6 .8-.4 .8 1.2 .8-1.5 .8 1.6 .8-2.4 .8 1 .8-1.2 .8-.1 .8 2.1 .8 .1 .7 2.4 .8-.3 .8 .9 .8-.4 .8-.4 .8 .1 .8 .9 .8-.7 .8-.1 .8 0 .8 1.3 .8 .9 .8 4.8 .8-1.6 .8-.5 .7-1.7 .8-1.1 .8-3.1 .8-1.8 .8 .2 .8 .2 .8 .9 .8-2.3 .8 .4 .8-.7 .8 .8 .8 .2 .8-2 .8 3.3 .8-2.4 .7 0 .8 0 .8 .6 .8-.2 .8 .2 .8-.3 .8 .6 .8-1.6 .8 1.3 .8 .1 .8 1.4 .8-.3 .8-1.2 .8 1.6 .7 1.6 .8 1.1 .8-1.1 .8 2.9 .8 .5 .8 .7 .8 3.3 .8-1.6 .8 .5 .8 .7 .8-.7 .8-.6 .8 1 .8-.6 .8-1.1 .7-.8 .8-1.7 .8-1.9 .8 2.6 .8-3.2 .8 3.1 .8-2 .8 .5 .8-1.2 .8 .5 .8-1.9 .8 2.9 .8-.8 .8-.6 .7-.7 .8 .4 .8 .3 .8 2 .8 0 .8-1.2 .8 3.7 .8-3 .8 4 .8-4 .8-.9 .8-1.3 .8-5.5 .8-6.4 .8 2 .7 1.5 .8 4 .8 4.9 .8-.9 .8 1.6 .8 1.4 .8-.2 .8 .2 .8-.4 .8-.2 .8-.1 .8-.7 .8-1.2 .8 1 .8-1.6 .7 .3 .8-.2 .8 2.2 .8 1 .8-.7 .8-1.9 .8 .2 .8 0 .8-.9 .8-.2 .8 .3 .8-.5 .8-2.2 .8 1.4 .7-1.6 .8 0 .8 .9 .8 .1 .8-.8 .8-1.6 .8 .2 .8 .2 .8-2 .8 .6 .8-.3 .8 .5 .8 .6 .8 2.3 .8 2.2 .7 .1 .8-1.4 .8 4 .8 1.1 .8 .1 .8-.6 .8-2.6 .8 2.2 .8-1.4 .8-.1 .8 1.9 .8 1.1 .8 0 .8-1.5 .8-.7 .7 4.1 .8-4 .8 .5 .8 .4 .8-.4 .8 .7 .8-1.5 .8 1.8 .8-1.8 .8 2.5 .8-11.6 .8-18.5 .8-23.9 .8-27.8 .7-17.1 .8-10.7 .8-.5 .8 11.2 .8 5.4 .8 7.9 .8 5.5 .8 6.1 .8 3.2 .8 4.9 .8 3.2 .8 2.9 .8 5.8 .8 2.9 .8 3.3 .7 2.4 .8 .5 .8 3.4 .8 .1 .8 2.3 .8 .7 .8 1.1 .8 1.5 .8 1 .8 .3 .8 3.1 .8 2.2 .8 1.1 .8 1.7 .8-1.6 .7 2.3 .8 .9 .8-1.3 .8 3.5 .8 .6 .8-.2 .8 2 .8 2.4 .8 1.6 .8 .6 .8-2.1 .8-.5 .8 1.5 .8 2.6 .7 1.7 .8 .7 .8 .9 .8 .7 .8-.1 .8-.7 .8 1 .8 1.3 .8 1 .8 .3 .8-1.2 .8-.1 .8-.7 .8-1.7 .8 2 .7-.5 .8 2 .8-1.1 .8-2.1 .8 1.1 .8 .7 .8 1.9 .8-.9 .8 .9 .8-.6 .8 1.3 .8 .4 .8-.7 .8-1.3 .8-.1 .7-1.3 .8 2.2 .8-.6 .8 .7 .8 3.5 .8-2 .8 0 .8-1.2 .8 .7 .8 .6 .8-3.7 .8 1.5 .8 .6" fill="none" stroke="#5b97d1" stroke-width="3.1" stroke-linejoin="round"/>
<path d="M1200.8 158.2l.8-.6 .8 .1 .8 1 .8-.6 .8-.1 .7 1.2 .8-1.1 .8-1.3 .8 1.6 .8-1.4 .8 .7 .8 .4 .8 .7 .8 .2 .8-.7 .8-1.5 .8 .9 .8 .4 .8-.4 .8-.2 .7-1.1 .8 .1 .8 .5 .8-.4 .8-1.3 .8-.3 .8-.7 .8 .9 .8-1.7 .8 .3 .8-.8 .8-.1 .8 .3 .8 .9 .7-1.1 .8 1.9 .8-.7 .8 1 .8 1.5 .8 .2 .8-1.2 .8 .2 .8-.2 .8 .5 .8-1.6 .8 1.5 .8 .9 .8-.9 .8-.1 .7 2.3 .8-1.7 .8 .7 .8 .1 .8 .4 .8 .1 .8 1.8 .8-.7 .8 1.5 .8-2.2 .8 1.5 .8-.8 .8-.1 .8-.2 .8-2.6 .7 1.9 .8-1.7 .8-1 .8 .5 .8 .7 .8-.4 .8 .6 .8-.3 .8-.5 .8-.9 .8 2.2 .8 .7 .8 1.4 .8-1.2 .7 2.5 .8-1.3 .8-.5 .8 .8 .8-.2 .8 1.6 .8-.9 .8 1.1 .8-2.3 .8 .4 .8-.1 .8-1.2 .8 1 .8 0 .8-1 .7-.1 .8 .5 .8-.9 .8 1.1 .8 0 .8-2.2 .8 .5 .8 0 .8 .5 .8-.7 .8 1.8 .8-.8 .8 0 .8-1.2 .7-4.2 .8-3.2 .8-5.4 .8-7.4 .8-8.8 .8-1.8 .8-.2 .8-1 .8 3.6 .8-1.2 .8 2.6 .8-.8 .8 1.9 .8 2.8 .8 2.6 .7 2.8 .8 1.9 .8 3 .8 1.1 .8 .5 .8 2.4 .8 .2 .8 1.9 .8 2.6 .8 .7 .8 2 .8-2.1 .8 1.8 .8-1.4 .8 1.2 .7 1.2 .8 .4 .8-1 .8 1.3 .8 1 .8 2.2 .8-1.3 .8 .1 .8-.5 .8-1.4 .8-1.4 .8-.1 .8-2.9 .8 .2 .7-5.9 .8-1 .8 3.2 .8 1.5 .8 .2 .8-.6 .8 1.2 .8 1.1 .8-.2 .8 .6 .8-.3 .8 2.8 .8-.6 .8 .2 .8 .1 .7 1 .8 .4 .8 .8 .8 .1 .8 .2 .8 .6 .8-1 .8-.1 .8-.6 .8-.6 .8-.7 .8 .8 .8 1.8 .8-1.2 .8 .6 .7-.1 .8-.3 .8 1.5 .8-.9 .8 1.6 .8-.1 .8-.2 .8-.3 .8-.5 .8 .8 .8 .9 .8-2.5 .8 1.9 .8 .9 .7-1 .8 .2 .8 .3 .8-2.1 .8 1.5 .8-1.5 .8 .3 .8-.4 .8 .1 .8-1.1 .8 .7 .8-1 .8 .7 .8-.3 .8-.2 .7 1.5 .8-1.4 .8 .4 .8 1.5 .8-.7 .8 .8 .8-1.3 .8 1.2 .8-.9 .8-1.1 .8 1.5 .8-1.7 .8 .8 .8-1.1 .8 1.4 .7-.2 .8-1.1 .8-.2 .8-1.2 .8 1.4 .8 .6 .8 0 .8 1.4 .8-.4 .8-.1 .8-.4 .8-.8 .8 1.3 .8 .7 .7 .1 .8-1.3 .8-1.2 .8 .9 .8 .8 .8-1.1 .8 .4 .8 .2 .8 .2 .8 0 .8 .6 .8-.2 .8 .3 .8-1.1 .8 .5 .7-1.6 .8 1.1 .8 .6 .8-1.7 .8 1.4 .8-.4 .8 1.1 .8-.1 .8-1.5 .8 .5 .8-.2 .8-.7 .8-.8 .8 1.7 .8 4 .7-1.1 .8-1.3 .8 .6 .8-.7 .8 .1 .8-.4 .8-1 .8 1.1 .8-1 .8-.1 .8 2.6 .8-1.9 .8-1.3" fill="none" stroke="#e0301a" stroke-width="3.1" stroke-linejoin="round"/>
<path d="M1200.8 254.9l.8-.5 .8-.6 .8 .2 .8 1.6 .8-.4 .7-1 .8-.5 .8 .1 .8 1 .8-.3 .8 1.5 .8-1.3 .8 .2 .8-.1 .8 1.1 .8 .1 .8-1.2 .8 .8 .8 .7 .8-.8 .7 .2 .8 1 .8-.9 .8-.1 .8-.5 .8-.1 .8 .3 .8 .1 .8-.3 .8-.1 .8-1.1 .8 1.6 .8-1.7 .8 .7 .7-1.1 .8 .7 .8-1 .8 1.5 .8-.1 .8 1.2 .8-.5 .8-.7 .8 .2 .8 1 .8-.3 .8 .6 .8-.1 .8-.9 .8-.3 .7-1.6 .8-.8 .8-3.2 .8 3.6 .8 2.7 .8-1 .8-.1 .8 .4 .8 .3 .8 .9 .8-.9 .8 .7 .8-.4 .8-1 .8 .1 .7 .5 .8-.8 .8 .9 .8-.3 .8-.1 .8 .4 .8-.7 .8 .4 .8 .3 .8-1.5 .8 1.3 .8 .3 .8 .3 .8-.8 .7 0 .8 1.1 .8-.6 .8 .7 .8-.2 .8-.7 .8 .2 .8-.3 .8 1 .8-.5 .8-1.1 .8 2.1 .8-.2 .8-.3 .8-1.4 .7-.4 .8 .1 .8 1.2 .8-.5 .8-.3 .8-.4 .8-.7 .8 1.3 .8 1 .8-1.1 .8 .1 .8 .3 .8 .1 .8-.7 .7 .3 .8-.4 .8-1.3 .8 .4 .8-.5 .8-.4 .8 .7 .8 .6 .8-.3 .8-.5 .8 .2 .8-.1 .8 0 .8-.2 .8 .3 .7-1.3 .8 .6 .8-.7 .8 1.2 .8 .9 .8-1 .8 1.4 .8-1.4 .8 1.7 .8-.6 .8 .8 .8-.1 .8 .5 .8-.3 .8 1.1 .7-.2 .8 .4 .8-.4 .8 .6 .8-.3 .8 .7 .8-.5 .8 .7 .8 .1 .8 .2 .8 .5 .8-1 .8 1.3 .8 .6 .7-1 .8-.8 .8 1.5 .8-.6 .8-.5 .8 .1 .8-.2 .8-.1 .8 .1 .8-.6 .8-.3 .8 .5 .8 .1 .8-.2 .8-1.5 .7 0 .8-.3 .8-.6 .8-.2 .8 .3 .8-.9 .8-.7 .8-1.5 .8-.8 .8 .4 .8-.2 .8-.1 .8-1.5 .8 1.1 .8 .1 .7 .2 .8 1.8 .8 .8 .8-.4 .8 .3 .8 .4 .8 .3 .8-.5 .8 .4 .8-.1 .8-.9 .8-.7 .8-1.3 .8-1.1 .7 .2 .8 .7 .8 1.9 .8 .6 .8 .2 .8 .4 .8 .1 .8 .7 .8 .8 .8-.4 .8-.4 .8 .8 .8-.5 .8 .7 .8 .5 .7-.6 .8-2.1 .8 2.1 .8-1.1 .8 .3 .8-.5 .8-.4 .8-1.4 .8 1.7 .8-1.1 .8-.5 .8 .5 .8 0 .8-.1 .8-.6 .7 1.5 .8-.4 .8 1 .8 .3 .8-1.3 .8 .4 .8 .7 .8-.1 .8 1 .8-1 .8-.1 .8 .1 .8 .8 .8-.7 .7 .1 .8-1 .8 .6 .8-.5 .8 0 .8 .1 .8 1.1 .8-.4 .8 .8 .8-.3 .8 .1 .8-1 .8-.3 .8 .6 .8-.1 .7-.5 .8 .5 .8 .6 .8-1.3 .8 1.8 .8-.2 .8-.4 .8 .6 .8-1.5 .8 1.2 .8 .2 .8-.1 .8 .1 .8 .5 .8-.8 .7-1.1 .8-.5 .8 .1 .8 .3 .8 .1 .8-.2 .8-.4 .8-.4 .8 .6 .8 .8 .8-.2 .8-.4 .8 .1" fill="none" stroke="#8b2fb8" stroke-width="3.1" stroke-linejoin="round"/>
<path d="M1200.8 352l.8 2.2 .8-.1 .8-1.7 .8-2.3 .8 .3 .7-1.2 .8 2.6 .8-2.8 .8 2.2 .8-1.3 .8-2.8 .8 1.4 .8 2 .8 1.1 .8-.2 .8 2.1 .8-1.4 .8-.3 .8-2.3 .8 2.4 .7 .1 .8-1.4 .8-.5 .8 1.4 .8-.5 .8-1.2 .8-.7 .8 .3 .8 1.5 .8 1.8 .8 3.5 .8 1.8 .8-3.1 .8 3.5 .7 1.1 .8-3 .8 .3 .8-.8 .8 .7 .8-1.6 .8-.5 .8-.9 .8 1.1 .8-.7 .8-.4 .8-.4 .8 1 .8 2.6 .8-.5 .7 .9 .8 3 .8 .2 .8-1.3 .8 2.8 .8-1.3 .8-1.4 .8-1.7 .8-1.4 .8-2.2 .8 .6 .8-.8 .8-.9 .8 1 .8 .5 .7 3 .8-.6 .8-1.1 .8 .8 .8-.5 .8-1.1 .8 0 .8-2 .8 1.1 .8-.3 .8-1.4 .8-1.3 .8 2.1 .8-1.8 .7-.4 .8-1.7 .8 .3 .8 3.8 .8 .1 .8-.5 .8 .5 .8-1.5 .8 .5 .8-2.3 .8 2.2 .8-.9 .8 .6 .8-1 .8 .5 .7-.1 .8 .1 .8-1.1 .8 .7 .8-2.4 .8 .7 .8 .6 .8 1.9 .8-3 .8 1.6 .8 .8 .8-1.8 .8 3.6 .8-1.8 .7-1.8 .8-1.1 .8 .5 .8-2.9 .8 4.8 .8 .5 .8 3.7 .8-.2 .8 1.5 .8-1.3 .8 2.8 .8-.5 .8-2.1 .8 .8 .8-.8 .7 2.7 .8 2 .8 1.6 .8-2.2 .8-1.4 .8-2.1 .8 1.5 .8 .1 .8-1.9 .8 .1 .8-1.9 .8 .9 .8-.1 .8-1.4 .8 .3 .7-3.1 .8 1.2 .8-1 .8 2.8 .8 2.8 .8 1.2 .8 2.8 .8 .3 .8-1.3 .8-2.2 .8-1.4 .8-1.6 .8 1.4 .8-2.9 .7-2.2 .8 3.9 .8 1.8 .8 2.5 .8 2.3 .8 .3 .8 3.1 .8 .2 .8-3.7 .8-.2 .8-2.9 .8 .6 .8-.4 .8-1.4 .8-1.3 .7 2.2 .8-1.1 .8 1.8 .8-2 .8 3.7 .8-1.2 .8 2.4 .8 1.7 .8 3.9 .8 1.1 .8-3.5 .8-.1 .8 .1 .8 0 .8-3.9 .7 1.8 .8-2.6 .8 2.4 .8-2.1 .8-2.8 .8-1.9 .8 1.2 .8-4.9 .8-8.3 .8-5.4 .8 3.2 .8 .4 .8 2.9 .8 3.3 .7 2.9 .8 2.9 .8 .7 .8 1.1 .8-3.3 .8-4.9 .8 .8 .8 .3 .8 2.5 .8-.1 .8-2.2 .8 2.8 .8-1.7 .8 1.8 .8 1.2 .7 .9 .8 5.3 .8-1.1 .8 .2 .8-1.5 .8-1 .8-.1 .8 2.4 .8-2.1 .8-1.2 .8 2.1 .8-2.5 .8-.5 .8 1.9 .8-2 .7 1.2 .8 0 .8-1.4 .8-.9 .8 2 .8 .4 .8 2 .8-1.9 .8-.3 .8 .5 .8 1.3 .8 .3 .8-4.2 .8 1.6 .7-1.5 .8 2 .8 .7 .8 1.9 .8 3.8 .8-3 .8 1.8 .8-1.8 .8-1.5 .8-.5 .8-.1 .8-.8 .8-.4 .8-.5 .8-.5 .7-.1 .8 1.4 .8 1.7 .8 .4 .8 .8 .8-.8 .8-2.3 .8 .7 .8-1.9 .8-.7 .8 1.6 .8 .4 .8 .6 .8 1.4 .8-.7 .7-.8 .8-.7 .8 .4 .8-.3 .8-2.7 .8-1.6 .8 2.8 .8-1.8 .8-.4 .8 2.1 .8-.8 .8 2.4 .8 .5" fill="none" stroke="#f58e0e" stroke-width="3.1" stroke-linejoin="round"/>
<path d="M1200.8 298.2l.8 .1 .8 .5 .8-.2 .8-.5 .8-.5 .7-.2 .8-2.2 .8-1.2 .8-3.3 .8-.2 .8 .7 .8 1.2 .8 1.3 .8 1.1 .8 1.3 .8 1 .8 .5 .8 .9 .8-.9 .8 .6 .7-.6 .8 .6 .8 0 .8 .1 .8-.2 .8-.8 .8 .5 .8 .5 .8 .8 .8 .4 .8 .5 .8 1.2 .8 .8 .8 .5 .7-.2 .8-.3 .8-2.1 .8-.5 .8-.9 .8 .9 .8-1.2 .8 .9 .8-1 .8-.4 .8 .9 .8 .5 .8-1.2 .8-1.1 .8-1.1 .7-2.8 .8-1.6 .8 .1 .8 2.4 .8-.4 .8 .7 .8 1.4 .8-.6 .8 1.7 .8 1.7 .8 1.2 .8 .7 .8 .1 .8 .3 .8 .8 .7 0 .8 1.6 .8-.6 .8-.7 .8 1.4 .8-2.5 .8-.3 .8 .1 .8 .6 .8 1.3 .8-.3 .8-.9 .8 1.4 .8 1.5 .7-2.4 .8-2.8 .8-2.7 .8-5.2 .8-2.6 .8 .5 .8 2.7 .8 .2 .8 .5 .8 0 .8 .4 .8-.4 .8 2.5 .8 .1 .8-.5 .7 .4 .8 0 .8-.1 .8 .3 .8 1.2 .8 .2 .8 .7 .8 .8 .8-1.1 .8 1.8 .8 0 .8 .8 .8-.8 .8-.4 .7 1 .8-1.8 .8-.6 .8 1.9 .8-10 .8-16.7 .8-11.2 .8-6.5 .8-1.7 .8 5.2 .8 .9 .8 2.4 .8 2.5 .8 1.8 .8 .5 .7 1.8 .8 4 .8 2.8 .8 1.1 .8 1.4 .8 2.8 .8 1.7 .8 .2 .8 .1 .8 2.2 .8 1.6 .8-.3 .8 1.8 .8 .5 .8 1.4 .7 .5 .8 1.1 .8 .6 .8-.9 .8 2.5 .8-.3 .8 .2 .8-.4 .8 .9 .8 1.3 .8 1.4 .8-.7 .8-2.1 .8-4 .7-1.4 .8 .2 .8 2.1 .8 2.1 .8-5.5 .8-11 .8-7.4 .8-6.5 .8-4.8 .8 2.7 .8 2.1 .8 1.6 .8 2.6 .8 1.5 .8 1.1 .7 1.5 .8 1.1 .8 1.3 .8 2.5 .8-.7 .8 2.9 .8 .4 .8 1.6 .8 1.2 .8 0 .8 1.8 .8-.1 .8 2.1 .8-1.9 .8 3.6 .7-1.9 .8 .7 .8 1 .8 1.2 .8 1.2 .8 .8 .8 .5 .8 .7 .8 0 .8 1.9 .8-.2 .8-.8 .8 .5 .8 3.1 .7-.6 .8 1.2 .8-1 .8 1.5 .8-1.1 .8 .7 .8 .4 .8 .8 .8-.5 .8-.4 .8 2.5 .8-1.1 .8 1.8 .8 .6 .8 .3 .7-.5 .8 0 .8-2.7 .8-.3 .8-1.5 .8 1.1 .8-3 .8-1.3 .8-2.4 .8-1.3 .8-1.2 .8-.5 .8 .9 .8 1 .8 1 .7 1.1 .8 .8 .8 1.3 .8 .5 .8 2.1 .8 .7 .8 .2 .8 1.2 .8 .2 .8-.2 .8-.1 .8 1.3 .8 1.4 .8-.7 .7 2.1 .8-.8 .8 .5 .8 1 .8-.8 .8 .8 .8 1 .8 .4 .8 0 .8 .8 .8 .8 .8-1.6 .8 .7 .8-2.6 .8 .3 .7-1.1 .8 .1 .8-.1 .8-.9 .8-1 .8-.2 .8 .7 .8-.6 .8 .2 .8 1.1 .8-.3 .8 2.1 .8 1.6 .8-.7 .8-.3 .7 .4 .8-.3 .8 1.5 .8 1.7 .8 .1 .8 .2 .8 .8 .8-1.1 .8 0 .8 1.1 .8-.4 .8 .2 .8-.7" fill="none" stroke="#10a562" stroke-width="3.1" stroke-linejoin="round"/>
<path d="M1515.8 142.4V382M1593.6 91.3V382" stroke="#6a6562" stroke-width="3.6" stroke-linecap="round" fill="none"/>
<path d="M1511.1 124.2L1520.5 124.2L1515.8 140.7Z" fill="#000"/>
<path d="M1588.9 74.5L1598.3 74.5L1593.6 90.5Z" fill="#000"/>
<path d="M1445.6 206l.9-1.8 .8 .2 .8-.6 .8-1.4 .9 1.8 .8-.6 .8 2.5 .8-1.9 .9 1.9 .8-2.1 .8-.7 .8-3 .9-1.1 .8 .7 .8-1.5 .8-1.9 .9 2 .8 .8 .8-1.7 .8 .6 .8 3.6 .9-.4 .8 1.7 .8-.3 .8 .8 .9 .5 .8 1.2 .8-2.1 .8-.4 .9-2.5 .8 1.4 .8 .3 .8-2.1 .9 .5 .8-.2 .8 2.4 .8 .6 .8-2.5 .9 2.4 .8-1.8 .8 1.7 .8-2.2 .9 .4 .8 .6 .8 .5 .8 1.4 .9 1 .8 2 .8-1.1 .8 .6 .9-.6 .8 .5 .8 .7 .8-2.5 .9-.6 .8 1.1 .8-1.5 .8-1.4 .8 .4 .9-2.4 .8 1.9 .8 .2 .8-1.4 .9-.1 .8-.4 .8-.4 .8 1.8 .9 .2 .8 3 .8-.3 .8 2.2 .9 .1 .8-.4 .8-1.9 .8-1.4 .8 1 .9-.5 .8-1.9 .8 .4 .8 .1 .9 .5 .8 1.3 .8-1.3 .8 .5 .9-3.4 .8-2.1 .8 1.1 .8-1.7 .9 5.9 .8 3.9 .8-.3 .8 .3 .9 .2 .8-2.1 .8 1.9 .8-1.5 .8-1.5 .9-3.2 .8-1.4 .8-.2 .8 2 .9 1.5 .8 1.1 .8 1 .8 3.1 .9 4 .8-2.1 .8 2.4 .8 1.8 .9-.2 .8-1.7 .8 .7 .8-3.3 .8 1.2 .9-.2 .8-1.4 .8-1.9 .8-.4 .9-.4 .8-.8 .8-.7 .8 3 .9 2 .8 1.9 .8 4.4 .8-1.6 .9 1.5 .8 .8 .8 2 .8-1.6 .9-1.3 .8-1.8 .8-3.1 .8 4.6 .8 2.2 .9 2.1 .8 4.1 .8-4 .8-3 .9-7.2 .8 .4 .8-2 .8-4 .9-2.2 .8-1.4 .8 2.7 .8-2.5 .9 1.4 .8-1.7 .8 2 .8-.8 .8 1.4 .9 .1 .8-2.6 .8-2.1 .8-2.4 .9-2.3 .8 4.9 .8 2.1 .8 3.8 .9 .3 .8 .9 .8 3.3 .8 .5 .9-.2 .8-4.3 .8 .3 .8-4.7 .8 2.6 .9 .3 .8 .2 .8 .8 .8 .8 .9 .9 .8-.2 .8-1.1 .8-.9 .9-.7 .8 2.2 .8-.4 .8-1.2 .9-2.3 .8 1 .8-1.8 .8 1.2 .9 .5 .8 1.8 .8 2 .8-.5 .8 .8 .9 2.4 .8 1.6 .8 1.2 .8-1.4 .9-.9 .8-1.8 .8-1.1 .8-2.4 .9 .3 .8 1.1 .8 1.1 .8 1.8 .9-2.4 .8-1.4 .8-2.3 .8-.2 .8-1.4 .9-1.8 .8 .2 .8 .2 .8 2.6 .9 .8 .8 1.7 .8 2.2 .8 2.2 .9 1.7 .8 1.2 .8 4 .8 3 .9-.2 .8-2.5 .8-2.3 .8-2.6 .9-3.7 .8 2.5 .8-.3 .8 1.2 .8 3 .9 .6 .8-2.4 .8-.6 .8-2 .9 .9 .8-2.8 .8-.3 .8 .1 .9 5.3 .8-1.5 .8 1.7 .8 2.9 .9 1.8 .8 .9 .8-.8 .8-1.2 .8-.7 .9 3.1 .8 2 .8-1.9 .8 2.1 .9 2.5 .8 .8 .8 .4 .8-3 .9-1.7 .8-.7 .8-2.5 .8-1.4 .9 .9 .8-2.9 .8 1.8 .8-1.1 .9-3 .8 2 .8 .2 .8 .7 .8 5 .9 .3 .8-1.3 .8 1.9 .8-.4 .9 1.4 .8-3 .8-2 .8 .4 .9-.7 .8-3.6 .8 .4 .8-.8 .9-.6 .8-3.6 .8-1.2 .8-.3 .8-1.8 .9-.8 .8-2.8 .8 .5 .8-2.5 .9-.6 .8 2.2 .8 3.9 .8 3.6" fill="none" stroke="#5b97d1" stroke-width="3.1" stroke-linejoin="round"/>
<path d="M1445.6 156.6l.9-.2 .8-.5 .8 1.5 .8-2.1 .9-.3 .8 1.1 .8 .2 .8-1.1 .9-.4 .8 1 .8-.2 .8-1.1 .9 1 .8-.7 .8 1 .8 .7 .9 .8 .8 1.7 .8-3.2 .8-.1 .8 1.2 .9 1.5 .8-.6 .8 0 .8 1.2 .9-1.2 .8-1.9 .8-.1 .8 .1 .9 .7 .8-.9 .8-.6 .8 .3 .9 .8 .8 1.2 .8-1.1 .8-.2 .8 2.7 .9-1.7 .8 .1 .8 1.4 .8 1.2 .9-2.9 .8 2.7 .8-.6 .8-.4 .9 .7 .8-1.2 .8-.2 .8 1.4 .9 1.5 .8-2.4 .8-.6 .8 .1 .9 1.8 .8-1.3 .8 1 .8-1.6 .8-.4 .9-1 .8 1.4 .8-.1 .8 .9 .9-1.1 .8-.4 .8-.7 .8 1.2 .9-.2 .8-1.1 .8 .8 .8 .7 .9-.2 .8-.2 .8 2 .8-3.1 .8 1.5 .9-1.2 .8 1.3 .8 .6 .8-2.2 .9 .8 .8 1.4 .8-1.2 .8 1.6 .9-1 .8 .3 .8 .3 .8 .8 .9 .8 .8 1.6 .8-2.5 .8-.4 .9 .8 .8-2 .8 2.7 .8-1.4 .8-.9 .9-1.4 .8 1.1 .8 1.4 .8-.4 .9-.8 .8-.2 .8-.8 .8-.3 .9-1.8 .8 .1 .8-.1 .8-2 .9-.9 .8-2.7 .8-5.1 .8-3.8 .8 2.5 .9 1.3 .8 1.1 .8 2.1 .8 .3 .9 1.5 .8-2.7 .8-3 .8-2.2 .9-3.4 .8-3.8 .8-.4 .8 3 .9 2.7 .8-2.1 .8 1.1 .8-.8 .9 2.1 .8 2.2 .8 2.9 .8 1.8 .8 2.1 .9 1.8 .8-.6 .8 2.7 .8 .4 .9 1 .8-1.3 .8 2.3 .8-.5 .9-.4 .8 1.5 .8-.3 .8 .2 .9 .2 .8 1.3 .8-.7 .8-.9 .8 2.3 .9-1.4 .8 .5 .8 .4 .8-.9 .9 3.2 .8 .4 .8 3.1 .8 3.5 .9 1.9 .8-4.2 .8-.9 .8-2.6 .9 0 .8-.1 .8 1 .8 0 .8-3.4 .9 1.4 .8 .8 .8-1.9 .8 .2 .9 1 .8 .7 .8-1.3 .8 1.7 .9 .8 .8-.1 .8 .6 .8-.9 .9-1.9 .8-1.3 .8-.5 .8-.8 .9 .3 .8-.9 .8-6.5 .8-7.4 .8-15.2 .9-17.3 .8-14.5 .8-15.9 .8-6.1 .9-1.4 .8 10.3 .8 4.8 .8 4.8 .9 3.3 .8 5 .8 3 .8 2.5 .9 2.6 .8 4.1 .8 2.2 .8 .5 .8 .7 .9 3.7 .8 2.3 .8 1.9 .8 .4 .9 2.4 .8 2 .8 .7 .8 .5 .9 1.8 .8 1.5 .8 1.1 .8 1.7 .9 3.4 .8 2.7 .8-1.4 .8 1.6 .9 2.3 .8-6.7 .8-6.2 .8-3.9 .8-7.5 .9 7 .8 3.7 .8 5.8 .8 1.3 .9 3 .8-1.8 .8-.6 .8-3.2 .9-3.2 .8 3.6 .8 4.2 .8 3.2 .9 2.5 .8 1.8 .8 1.1 .8 2.2 .8 .7 .9 1.4 .8-1.6 .8-1.5 .8 2.3 .9 3.6 .8 2.7 .8 .2 .8 1.7 .9 .2 .8 .4 .8 .7 .8-1.3 .9-.9 .8-2 .8 .4 .8 3 .9-.2 .8 3.2 .8-1.4 .8 2.1 .8-.5 .9-.7 .8-1.1 .8-.9 .8-1.8 .9 .8 .8-1.4 .8-1.8 .8-.5 .9-1.7 .8 2.5 .8 .9 .8 .6 .9-.5 .8 .1 .8-1.4 .8-.6 .8 2.5 .9 2 .8 3.6 .8-1 .8-2.6 .9 1 .8 2.1 .8-.2 .8-.3" fill="none" stroke="#e0301a" stroke-width="3.1" stroke-linejoin="round"/>
<path d="M1445.6 255.7l.9-.5 .8 1 .8 0 .8-.8 .9-1.4 .8 .7 .8-1 .8 .1 .9 .3 .8-.6 .8-1.2 .8 1.5 .9 .4 .8-.8 .8-.5 .8 .5 .9 0 .8 1.4 .8-.4 .8-.3 .8-.2 .9 2 .8 .6 .8-1 .8 .9 .9-1.8 .8 .6 .8 1.2 .8-.7 .9 .1 .8-.4 .8 .9 .8 .7 .9-2.9 .8 1.8 .8-.2 .8 .3 .8-.1 .9-1.5 .8 1.5 .8-.9 .8 .5 .9 .9 .8 0 .8-.5 .8 .5 .9-1 .8 .1 .8 .4 .8-.8 .9 .7 .8 .7 .8 .4 .8 .6 .9-2.5 .8 1.6 .8-.3 .8-.2 .8 1.2 .9-1.2 .8 .9 .8-1 .8 .1 .9-.1 .8 .7 .8-.4 .8-1 .9 .3 .8-1.2 .8 1 .8-.7 .9 1.3 .8-1.1 .8 .9 .8-1.5 .8 .2 .9 .7 .8 .2 .8 .1 .8-.8 .9 1.2 .8-.4 .8 1 .8-.2 .9-.8 .8 .1 .8-.7 .8-.5 .9 .5 .8-1.1 .8 .5 .8-.5 .9 1.6 .8-1.2 .8 0 .8-1.4 .8 0 .9 .5 .8-.2 .8-.5 .8-.1 .9 .2 .8-.5 .8-.1 .8 1.4 .9 .4 .8 1.4 .8-1.4 .8 1.1 .9-.1 .8 1 .8-1.6 .8-1.2 .8 .9 .9-1 .8 .8 .8-.9 .8-.8 .9 .1 .8-.3 .8 .3 .8 .3 .9 .6 .8 1.3 .8 1.1 .8 .4 .9-1.6 .8-.9 .8-.9 .8 2.2 .9 1.4 .8 1.2 .8 1.7 .8-1.1 .8-1.2 .9 .2 .8-.4 .8-.4 .8 1.5 .9-2.3 .8 0 .8 1.7 .8-1.2 .9 1.3 .8-.1 .8-1.1 .8 .7 .9 0 .8-1 .8-.6 .8-.6 .8-2.6 .9-8.3 .8-11.4 .8-7.1 .8-10.2 .9-.5 .8 4.1 .8 5.9 .8 1.1 .9 1.1 .8 1.5 .8 1.3 .8 2.8 .9 3.5 .8 .9 .8 1.1 .8 1.6 .8 2.3 .9 .1 .8 .9 .8 1.6 .8 2.1 .9-.3 .8 .2 .8 .5 .8 1.5 .9 .8 .8-.6 .8 .9 .8-.2 .9 1.2 .8-.8 .8 .6 .8 .3 .9 .2 .8 1.6 .8-.9 .8 .5 .8-.8 .9 .7 .8 0 .8 .2 .8-.4 .9-.2 .8 .3 .8 .1 .8-4.5 .9-5.5 .8-17.8 .8-15.9 .8-15.2 .9-17.1 .8-13.4 .8-13.3 .8-5 .8-5.6 .9 2 .8 2.3 .8 6.3 .8 4.7 .9 5.8 .8 5.3 .8 5.1 .8 4.6 .9 4.2 .8 4 .8 4.3 .8 4.2 .9-.1 .8-1.2 .8-.2 .8-1 .9 5.1 .8 6.2 .8 5.6 .8 6.1 .8 4.4 .9 5.9 .8 1.2 .8 .8 .8 .1 .9 1.6 .8 1.7 .8 1.5 .8 2.1 .9-.6 .8 1.3 .8 1.2 .8 1.1 .9 .1 .8-2 .8-3.3 .8 2.2 .8 2.5 .9 .8 .8 1.4 .8 1.5 .8 2.6 .9 .3 .8 4.7 .8-.1 .8 1.2 .9 .7 .8 .8 .8-1.5 .8-1.6 .9-.5 .8-.8 .8-.5 .8-.5 .9 2.2 .8 1.8 .8 1 .8 .2 .8 1.1 .9 1.7 .8-.8 .8 1.5 .8-.2 .9-.1 .8 1.2 .8 .2 .8 .7 .9 1 .8 .1 .8-1.4 .8 .1 .9-.7 .8-.8 .8 1.4 .8 1.3 .8-.9 .9 1.7 .8-1.2 .8 0 .8-.9 .9-.7 .8 1.1 .8 1.1 .8 .4" fill="none" stroke="#8b2fb8" stroke-width="3.1" stroke-linejoin="round"/>
<path d="M1445.6 349.5l.9 1.2 .8-.2 .8 2.6 .8 3.1 .9-4.6 .8 3.1 .8-1.4 .8 1.3 .9-1.7 .8 .5 .8-1.1 .8 .2 .9 1.5 .8-.7 .8 .8 .8 1.1 .9-1.9 .8 1.2 .8-2.5 .8-.3 .8-.9 .9-.9 .8-1.3 .8 2.4 .8-1.2 .9 .4 .8 .4 .8 .3 .8-1.4 .9 1.5 .8 .5 .8-1.2 .8 2.4 .9 .6 .8 0 .8 .3 .8-2.5 .8 2.9 .9 2.7 .8-.9 .8 2.8 .8-2.5 .9-2.4 .8-2.8 .8-2.6 .8 7.3 .9 4.8 .8-2.2 .8-.1 .8-2.3 .9-.3 .8-.1 .8-.7 .8 .6 .9 0 .8-.5 .8-3.4 .8 2.2 .8 .5 .9 2.1 .8 1.3 .8-2.7 .8 .6 .9-3.5 .8 1.7 .8 .9 .8-.5 .9-.7 .8 .5 .8-.7 .8-.2 .9-.7 .8 .9 .8 .6 .8-1.6 .8-.5 .9 1.8 .8-.6 .8-.6 .8 .9 .9 1.1 .8 1.2 .8-1.8 .8-1.3 .9-3.4 .8 .2 .8 .9 .8 1.1 .9 2 .8-1.2 .8-1 .8-2.6 .9 1.8 .8-1.8 .8 1.2 .8-.3 .8-.7 .9-.5 .8 2.1 .8-.3 .8-.5 .9 .1 .8 0 .8-.1 .8 2.6 .9 2.5 .8-1.8 .8 4.2 .8-3 .9-.1 .8 2.2 .8-1.4 .8-1.3 .8 .9 .9 .6 .8 .7 .8 1.4 .8 1.4 .9 1.8 .8 .5 .8 1.2 .8 1.8 .9 3.7 .8 0 .8-1.4 .8-3.4 .9-2 .8-3 .8 1.7 .8 1 .9 1.3 .8-.8 .8 2.1 .8 0 .8 .8 .9-2.2 .8-.7 .8-1.2 .8-2.3 .9-1.5 .8 2.4 .8 .9 .8 1.7 .9 2.6 .8 2.1 .8 1 .8-1.2 .9 1.3 .8-4.3 .8-3.6 .8-4.8 .8 4.4 .9 3.8 .8 6.1 .8 1.8 .8-2.5 .9-4.2 .8-5.4 .8-1.3 .8 2.5 .9 4 .8 3.3 .8 3.3 .8 .6 .9-1.6 .8-.1 .8 .1 .8-1.7 .8-.1 .9-3.7 .8-1 .8-1.8 .8-1.4 .9 4.3 .8 .6 .8 3.5 .8 0 .9-3.9 .8-.3 .8 1.2 .8 0 .9-2.3 .8 1.1 .8-.7 .8-.3 .9-1 .8-1.1 .8 2 .8-.7 .8-1.4 .9-.4 .8-1.7 .8-.9 .8 2.2 .9-1.6 .8 1.2 .8-2.1 .8-2.3 .9-1.3 .8-5.3 .8-18.9 .8-21.8 .9-48.1 .8-28.8 .8-8.1 .8 11.9 .8 10.8 .9 6.2 .8 9.8 .8 1.3 .8-3.6 .9 9.2 .8 3.3 .8 10.2 .8 6.3 .9 1.9 .8 2 .8 6.9 .8 8.1 .9 5.3 .8 6.7 .8 7.4 .8 2.6 .9 1 .8-5.2 .8-1 .8-6.9 .8-3.2 .9 7.8 .8 10.3 .8 7.7 .8 6.7 .9 3.1 .8 .3 .8 1.8 .8-1.7 .9 .2 .8 2.2 .8 0 .8 .6 .9 2.9 .8 1.4 .8 0 .8-1.6 .8 2.2 .9 0 .8 2.2 .8-2.9 .8-3.9 .9-.8 .8-1 .8-.1 .8 4.3 .9-.1 .8 .1 .8 .3 .8-.6 .9-1.3 .8-1 .8 2.3 .8 .6 .9 1 .8 .8 .8-1.3 .8 2.6 .8-.9 .9-.9 .8 .2 .8-.9 .8-.8 .9 .1 .8 3.2 .8-.3 .8 .6 .9 1.2 .8-.7 .8-.8 .8 .9 .9 .7 .8 1.1 .8-.4 .8-1.2 .8 .5 .9 1.8 .8 .4 .8-.2 .8-3.3 .9 .2 .8-1.3 .8-7.6 .8-7.3" fill="none" stroke="#f58e0e" stroke-width="3.1" stroke-linejoin="round"/>
<path d="M1445.6 303.9l.9 .2 .8 .1 .8 .2 .8-2 .9 1.4 .8-.7 .8 1.2 .8 .3 .9-.3 .8-2 .8 2.1 .8 .4 .9 0 .8-1.2 .8 .2 .8 .4 .9 .4 .8 .1 .8 .7 .8 1.8 .8-2 .9 1.7 .8 .2 .8 .2 .8-1.8 .9 .7 .8-.9 .8-.3 .8-.8 .9-1.2 .8 1 .8-.6 .8-1 .9 2.5 .8-1.9 .8 1.1 .8-1.8 .8-.2 .9 .1 .8 0 .8 .9 .8-1.4 .9 .9 .8-.8 .8-.1 .8 1.5 .9-.6 .8 1.7 .8-.4 .8 .2 .9-1.4 .8 1.2 .8-2.8 .8 1.4 .9-.8 .8-.3 .8 1.2 .8-1.5 .8-1.1 .9 2.8 .8-1.1 .8 .9 .8-.7 .9 1.6 .8 0 .8 1.7 .8-1.2 .9-.1 .8 .6 .8-1.2 .8-1.4 .9 .7 .8 .2 .8 .9 .8-1.9 .8 .4 .9-.5 .8 .5 .8-.2 .8 .2 .9 1.7 .8-.6 .8 .3 .8-1.1 .9 .8 .8 1.6 .8-1.8 .8 .2 .9 .5 .8 .5 .8 .1 .8-.7 .9-.3 .8 .6 .8-.4 .8 1.2 .8-1.4 .9 .4 .8 1.4 .8-1.8 .8 .1 .9 1.6 .8 1.4 .8 1.4 .8-.9 .9-.6 .8 .2 .8-.8 .8-.9 .9-1.2 .8-.6 .8-.4 .8-1.7 .8 .6 .9-1.1 .8 .4 .8-.5 .8-.1 .9 1.1 .8-.2 .8 3.3 .8-.6 .9 1.8 .8 2.3 .8-.6 .8-.2 .9-.3 .8-1.6 .8 .9 .8-1.3 .9 .2 .8 3.7 .8-1 .8 2.3 .8 0 .9-.2 .8 2 .8-.4 .8 .3 .9-2.3 .8-.2 .8-1 .8-.4 .9-.6 .8-.2 .8 .5 .8-1 .9 .2 .8-.2 .8 .2 .8-3.5 .8 1.2 .9-.3 .8 .4 .8-2.6 .8-.5 .9-1 .8 .5 .8 2.7 .8 .8 .9-1.9 .8-.4 .8 .6 .8-1.2 .9 .7 .8 2.9 .8-1 .8 1.8 .8 1.1 .9-.5 .8 .9 .8-.8 .8-1.8 .9-2.4 .8-.3 .8 1.7 .8-1.8 .9 1.3 .8-1 .8-.6 .8-1.3 .9-2.1 .8-.5 .8-1 .8-3.4 .9-4.7 .8-1.7 .8 .1 .8-1.8 .8-.3 .9 .6 .8 .3 .8 .5 .8-1.7 .9-.1 .8-1.5 .8 3.1 .8 1 .9 3.3 .8 .2 .8 2.4 .8 1.1 .9 1.8 .8 .4 .8 2.5 .8 1.6 .8 .8 .9-.4 .8 1.1 .8 .8 .8-2.3 .9 .4 .8-.1 .8 1.5 .8 2.3 .9 1.2 .8-.2 .8 .7 .8 .1 .9 1.9 .8-1.5 .8 .4 .8 .4 .9 1.1 .8-9.7 .8-7 .8-9 .8-11.3 .9-10.8 .8-6.8 .8-7.1 .8 3.5 .9 3.9 .8 3.2 .8 5.3 .8 2.2 .9 1.6 .8 2.4 .8 1.8 .8 .9 .9-1.5 .8-1.3 .8 2.7 .8 3.1 .8 2.8 .9 3.4 .8 4.7 .8-2.7 .8-3.5 .9-5.1 .8 1.5 .8 2.8 .8 5.6 .9-1 .8 2.7 .8 1.7 .8 1.9 .9 .9 .8 .4 .8 0 .8 3 .9-1.6 .8-.9 .8-1.8 .8-2 .8 2.3 .9 .9 .8-.1 .8 1.6 .8 .6 .9-10.2 .8-9.4 .8-6 .8-8.4 .9 2.7 .8 1.2 .8-.6 .8 2.3 .9 4.3 .8 .3 .8 .8 .8-1.2 .8 1.6 .9 .9 .8 2 .8 1.1 .8 1.9 .9 3.6 .8-2 .8-2.5 .8-2" fill="none" stroke="#10a562" stroke-width="3.1" stroke-linejoin="round"/>
<text x="1438.7" y="19.2" font-size="25.5" text-anchor="middle">D2-Cre mouse</text>
<text x="1339.4" y="58.6" font-size="16.25" text-anchor="middle">Correct Response</text>
<text x="1592.3" y="58.6" font-size="16.25" text-anchor="middle">Error Response</text>
<text x="1215.4" y="113.6" font-size="16.25">Trial initiation</text>
<text x="1467.3" y="113.6" font-size="16.25">Trial initiation</text>
<path d="M1376.9 75.1C1377.5 89.9 1384 92.7 1384 99.8A7.1 7.1 0 1 1 1369.8 99.8C1369.8 92.7 1376.3 89.9 1376.9 75.1Z" fill="#4a6fba"/>
<path d="M1645.8 372.2V396H1673.8" stroke="#000" stroke-width="3.7" fill="none"/>
<text transform="translate(1639.3 383.5) rotate(-90)" font-size="10.4" text-anchor="middle">2 SD</text>
<text x="1661.2" y="407.4" font-size="10.4" text-anchor="middle">5 sec</text>
<rect x="85.3" y="541.4" width="412.3" height="397.4" fill="none" stroke="#3c3c3c" stroke-width="2"/>
<path d="M266.6 541.4V938.8" stroke="#333" stroke-width="2.4" stroke-dasharray="9.6 4.4" fill="none"/>
<text x="127.3" y="961.3" font-size="18.8" text-anchor="middle">-6</text>
<text x="172.9" y="961.3" font-size="18.8" text-anchor="middle">-4</text>
<text x="218.5" y="961.3" font-size="18.8" text-anchor="middle">-2</text>
<text x="266.6" y="961.3" font-size="18.8" text-anchor="middle">0</text>
<text x="312.2" y="961.3" font-size="18.8" text-anchor="middle">2</text>
<text x="357.8" y="961.3" font-size="18.8" text-anchor="middle">4</text>
<text x="403.4" y="961.3" font-size="18.8" text-anchor="middle">6</text>
<text x="449" y="961.3" font-size="18.8" text-anchor="middle">8</text>
<text x="493.6" y="961.3" font-size="18.8" text-anchor="middle">10</text>
<path d="M129.8 938.8v-5.5M175.4 938.8v-5.5M221 938.8v-5.5M266.6 938.8v-5.5M312.2 938.8v-5.5M357.8 938.8v-5.5M403.4 938.8v-5.5M449 938.8v-5.5M494.6 938.8v-5.5M85.3 617.4h10M497.6 617.4h-10M85.3 694.1h10M497.6 694.1h-10M85.3 770.8h10M497.6 770.8h-10M85.3 847.5h10M497.6 847.5h-10M85.3 924.2h10M497.6 924.2h-10" stroke="#333" stroke-width="2" fill="none"/>
<rect x="505.2" y="541.4" width="412.5" height="397.4" fill="none" stroke="#3c3c3c" stroke-width="2"/>
<path d="M686.6 541.4V938.8" stroke="#333" stroke-width="2.4" stroke-dasharray="9.6 4.4" fill="none"/>
<text x="547.3" y="961.3" font-size="18.8" text-anchor="middle">-6</text>
<text x="592.9" y="961.3" font-size="18.8" text-anchor="middle">-4</text>
<text x="638.5" y="961.3" font-size="18.8" text-anchor="middle">-2</text>
<text x="686.6" y="961.3" font-size="18.8" text-anchor="middle">0</text>
<text x="732.2" y="961.3" font-size="18.8" text-anchor="middle">2</text>
<text x="777.8" y="961.3" font-size="18.8" text-anchor="middle">4</text>
<text x="823.4" y="961.3" font-size="18.8" text-anchor="middle">6</text>
<text x="869" y="961.3" font-size="18.8" text-anchor="middle">8</text>
<text x="913.6" y="961.3" font-size="18.8" text-anchor="middle">10</text>
<path d="M549.8 938.8v-5.5M595.4 938.8v-5.5M641 938.8v-5.5M686.6 938.8v-5.5M732.2 938.8v-5.5M777.8 938.8v-5.5M823.4 938.8v-5.5M869 938.8v-5.5M914.6 938.8v-5.5M505.2 617.4h10M917.7 617.4h-10M505.2 694.1h10M917.7 694.1h-10M505.2 770.8h10M917.7 770.8h-10M505.2 847.5h10M917.7 847.5h-10M505.2 924.2h10M917.7 924.2h-10" stroke="#333" stroke-width="2" fill="none"/>
<text x="78.3" y="621.3" font-size="16" text-anchor="end">50</text>
<text x="78.3" y="698" font-size="16" text-anchor="end">100</text>
<text x="78.3" y="774.7" font-size="16" text-anchor="end">150</text>
<text x="78.3" y="851.4" font-size="16" text-anchor="end">200</text>
<text x="78.3" y="928.1" font-size="16" text-anchor="end">250</text>
<text transform="translate(44.5 735.5) rotate(-90)" font-size="18.3" text-anchor="middle">Cell ID</text>
<text x="273.3" y="988" font-size="18.3" text-anchor="middle">Time from Correct Response (sec)</text>
<text x="712" y="988" font-size="18.3" text-anchor="middle">Time from Error Response (sec)</text>
<defs><linearGradient id="cb" x1="0" x2="1" y1="0" y2="0">
<stop offset="0.000" stop-color="#f5e626"/>
<stop offset="0.045" stop-color="#f8dc29"/>
<stop offset="0.091" stop-color="#fbd32c"/>
<stop offset="0.136" stop-color="#fbc92d"/>
<stop offset="0.182" stop-color="#fbbf2e"/>
<stop offset="0.227" stop-color="#e2c42c"/>
<stop offset="0.273" stop-color="#c9c82a"/>
<stop offset="0.318" stop-color="#acca40"/>
<stop offset="0.364" stop-color="#8ecb55"/>
<stop offset="0.409" stop-color="#76cc82"/>
<stop offset="0.455" stop-color="#5ecdb0"/>
<stop offset="0.500" stop-color="#54c6c0"/>
<stop offset="0.545" stop-color="#4bbfcf"/>
<stop offset="0.591" stop-color="#49b3d4"/>
<stop offset="0.636" stop-color="#47a7d8"/>
<stop offset="0.682" stop-color="#4a99d4"/>
<stop offset="0.727" stop-color="#4c8bd0"/>
<stop offset="0.773" stop-color="#4e7cc8"/>
<stop offset="0.818" stop-color="#506cc0"/>
<stop offset="0.864" stop-color="#505eb8"/>
<stop offset="0.909" stop-color="#5050b0"/>
<stop offset="0.955" stop-color="#4e45a7"/>
<stop offset="1.000" stop-color="#4b3a9e"/>
</linearGradient></defs>
<rect x="385.2" y="454.6" width="318.6" height="20" fill="url(#cb)" stroke="#3c3c3c" stroke-width="1.6"/>
<path d="M414.2 454.6v6M443.1 454.6v6M472.1 454.6v6M501.1 454.6v6M530 454.6v6M559 454.6v6M587.9 454.6v6M616.9 454.6v6M645.9 454.6v6M674.8 454.6v6" stroke="#333" stroke-width="1.4" fill="none"/>
<text x="414.2" y="445" font-size="17.6" text-anchor="middle">3</text>
<text x="472.1" y="445" font-size="17.6" text-anchor="middle">2</text>
<text x="530" y="445" font-size="17.6" text-anchor="middle">1</text>
<text x="587.9" y="445" font-size="17.6" text-anchor="middle">0</text>
<text x="643.4" y="445" font-size="17.6" text-anchor="middle">-1</text>
<text x="697.3" y="445" font-size="17.6" text-anchor="middle">-2</text>
<text x="545.5" y="418.8" font-size="27.4" text-anchor="middle">Z-Score</text>
<text x="171.5" y="515.5" font-size="25.7" fill="#3a2d9c">Correct trial</text>
<text x="618" y="515.5" font-size="25.7" fill="#dc2b1c">Error trial</text>
<path d="M334.3 474C335.5 497.6 348.3 499.3 348.3 513.3A14 14 0 1 1 320.3 513.3C320.3 499.3 333.1 497.6 334.3 474Z" fill="#4a6fba"/>
<path d="M755.6 474C756.8 497.6 769.6 499.3 769.6 513.3A14 14 0 1 1 741.6 513.3C741.6 499.3 754.4 497.6 755.6 474Z" fill="#4a6fba"/>
<path d="M743.5 500l24.5 25M768 500l-24.5 25" stroke="#111" stroke-width="8" fill="none"/>
<rect x="926.6" y="542" width="132.9" height="396.8" fill="none" stroke="#3c3c3c" stroke-width="2"/>
<text x="948.8" y="961.3" font-size="18.8" text-anchor="middle">1</text>
<text x="990.9" y="961.3" font-size="18.8" text-anchor="middle">2</text>
<text x="1033" y="961.3" font-size="18.8" text-anchor="middle">3</text>
<path d="M948.8 938.8v-4M948.8 542v4M993 938.8v-4M993 542v4M1037.3 938.8v-4M1037.3 542v4M926.6 617.8h3M1059.5 617.8h-3M926.6 694.4h3M1059.5 694.4h-3M926.6 771h3M1059.5 771h-3M926.6 847.6h3M1059.5 847.6h-3M926.6 924.2h3M1059.5 924.2h-3" stroke="#333" stroke-width="1.2" fill="none"/>
<text x="995" y="989.6" font-size="18.3" text-anchor="middle">PC</text>
<defs><linearGradient id="pcb"><stop offset="0" stop-color="#fff"/><stop offset="1" stop-color="#000"/></linearGradient></defs>
<rect x="928.4" y="521.5" width="131.7" height="11.8" fill="url(#pcb)" stroke="#3c3c3c" stroke-width="1.8"/>
<path d="M940.9 521.5v2.5M959.6 521.5v2.5M978.3 521.5v2.5M997 521.5v2.5M1015.7 521.5v2.5M1034.4 521.5v2.5M1053.1 521.5v2.5" stroke="#333" stroke-width="1" fill="none"/>
<text x="959.1" y="512" font-size="11.6" text-anchor="middle" fill="#222">10</text>
<text x="995.8" y="512" font-size="11.6" text-anchor="middle" fill="#222">0</text>
<text x="1030.5" y="512" font-size="11.6" text-anchor="middle" fill="#222">-10</text>
<path d="M1065.6 542.8H1075.8V544.3H1065.6M1065.6 545.8H1073.2V547.4H1065.6M1075.8 543.5H1099.1V546.6H1073.2M1065.6 550.4H1077.1V552H1065.6M1065.6 553.5H1077.6V555H1065.6M1077.1 551.2H1090V554.3H1077.6M1065.6 548.9H1094.3V552.7H1090M1099.1 545.1H1144.9V550.8H1094.3M1065.6 558.1H1077V559.6H1065.6M1065.6 561.2H1085.1V562.7H1065.6M1077 558.9H1089V561.9H1085.1M1065.6 556.6H1092.2V560.4H1089M1144.9 547.9H1162.5V558.5H1092.2M1065.6 564.2H1074.8V565.7H1065.6M1065.6 567.3H1073.9V568.8H1065.6M1074.8 565H1095.1V568H1073.9M1065.6 571.9H1073.5V573.4H1065.6M1065.6 570.3H1083.9V572.6H1073.5M1083.9 571.5H1091.1V574.9H1065.6M1091.1 573.2H1098.6V576.5H1065.6M1095.1 566.5H1119.9V574.8H1098.6M1119.9 570.7H1135.5V578H1065.6M1065.6 581.1H1075.1V582.6H1065.6M1075.1 581.8H1076.6V584.1H1065.6M1065.6 585.7H1077.5V587.2H1065.6M1076.6 583H1088.9V586.4H1077.5M1065.6 579.5H1093.2V584.7H1088.9M1065.6 588.7H1074.6V590.3H1065.6M1074.6 589.5H1087.8V591.8H1065.6M1087.8 590.6H1089.3V593.3H1065.6M1093.2 582.1H1107.6V592H1089.3M1065.6 594.9H1070.8V596.4H1065.6M1070.8 595.6H1097.5V597.9H1065.6M1065.6 599.5H1079.3V601H1065.6M1065.6 604H1076.5V605.6H1065.6M1065.6 602.5H1079V604.8H1076.5M1065.6 607.1H1076.2V608.6H1065.6M1079 603.7H1090.1V607.9H1076.2M1079.3 600.2H1104.9V605.8H1090.1M1097.5 596.8H1120V603H1104.9M1107.6 587.1H1131.4V599.9H1120M1135.5 574.3H1155.4V593.5H1131.4M1162.5 553.2H1179.2V583.9H1155.4M1179.2 553.2H1179.2V588.4H1179.2" stroke="#4e3ba6" stroke-width="1.1" fill="none" stroke-linejoin="miter"/>
<text x="1182" y="581.8" font-size="12.6" fill="#4b3c9e">Type I</text>
<path d="M1065.6 611.7H1084.9V613.2H1065.6M1065.6 614.8H1075.8V616.3H1065.6M1084.9 612.5H1089.1V615.5H1075.8M1065.6 610.2H1101.2V614H1089.1M1065.6 620.9H1070.5V622.4H1065.6M1065.6 619.4H1090.7V621.7H1070.5M1065.6 617.8H1092.2V620.5H1090.7M1065.6 624H1077.4V625.5H1065.6M1077.4 624.7H1089.6V627H1065.6M1065.6 628.6H1082.8V630.1H1065.6M1082.8 629.3H1086.7V631.6H1065.6M1065.6 633.2H1070.4V634.7H1065.6M1086.7 630.5H1088.2V633.9H1070.4M1089.6 625.9H1094.3V632.2H1088.2M1092.2 619.2H1103.7V629H1094.3M1101.2 612.1H1117.4V624.1H1103.7M1065.6 639.3H1069.8V640.8H1065.6M1065.6 637.8H1080.9V640.1H1069.8M1065.6 636.2H1089.6V638.9H1080.9M1065.6 645.4H1069.8V646.9H1065.6M1065.6 643.9H1080.8V646.2H1069.8M1065.6 642.3H1089V645H1080.8M1089 643.7H1093.6V648.5H1065.6M1089.6 637.6H1117V646.1H1093.6M1117.4 618.1H1123.6V641.8H1117M1065.6 650H1081.5V651.5H1065.6M1081.5 650.8H1083V653.1H1065.6M1065.6 654.6H1076.9V656.1H1065.6M1076.9 655.4H1078.4V657.7H1065.6M1083 651.9H1137.8V656.5H1078.4M1123.6 630H1157V654.2H1137.8M1065.6 662.3H1074.3V663.8H1065.6M1074.3 663H1075.8V665.3H1065.6M1065.6 660.7H1090.1V664.2H1075.8M1065.6 666.9H1078.5V668.4H1065.6M1090.1 662.5H1102.6V667.6H1078.5M1065.6 659.2H1120.8V665H1102.6M1065.6 669.9H1079.6V671.5H1065.6M1065.6 673H1071.9V674.5H1065.6M1071.9 673.8H1092.9V676.1H1065.6M1079.6 670.7H1094.4V674.9H1092.9M1065.6 677.6H1077.7V679.1H1065.6M1094.4 672.8H1100V678.4H1077.7M1065.6 683.7H1076.1V685.2H1065.6M1065.6 682.2H1087.3V684.5H1076.1M1065.6 680.7H1088.8V683.3H1087.3M1100 675.6H1103.8V682H1088.8M1065.6 688.3H1075.1V689.8H1065.6M1065.6 686.8H1076.6V689.1H1075.1M1065.6 691.4H1080.7V692.9H1065.6M1076.6 687.9H1090.5V692.1H1080.7M1065.6 694.4H1078.1V696H1065.6M1078.1 695.2H1079.6V697.5H1065.6M1090.5 690H1096.5V696.4H1079.6M1065.6 699H1082.6V700.6H1065.6M1096.5 693.2H1104.5V699.8H1082.6M1103.8 678.8H1109.2V696.5H1104.5M1065.6 702.1H1076.8V703.6H1065.6M1076.8 702.9H1078.3V705.2H1065.6M1078.3 704H1095.9V706.7H1065.6M1065.6 708.2H1086.1V709.8H1065.6M1065.6 711.3H1071.1V712.8H1065.6M1086.1 709H1092.5V712.1H1071.1M1095.9 705.4H1105.1V710.5H1092.5M1109.2 687.6H1121.8V707.9H1105.1M1120.8 662.1H1128.3V697.8H1121.8M1065.6 715.9H1082.3V717.4H1065.6M1065.6 714.4H1083.8V716.7H1082.3M1128.3 680H1166.8V715.5H1083.8M1157 642.1H1198.3V697.7H1166.8M1198.3 642.1H1198.3V697.7H1198.3" stroke="#25b0dc" stroke-width="1.1" fill="none" stroke-linejoin="miter"/>
<text x="1201.8" y="688.8" font-size="12.6" fill="#25a9e0">Type II</text>
<path d="M1065.6 719H1080.9V720.5H1065.6M1065.6 722H1082.4V723.5H1065.6M1065.6 725.1H1082.8V726.6H1065.6M1082.4 722.8H1098.3V725.8H1082.8M1080.9 719.7H1129.5V724.3H1098.3M1065.6 731.2H1071.9V732.7H1065.6M1065.6 729.7H1082.7V732H1071.9M1065.6 728.1H1093.9V730.8H1082.7M1065.6 734.3H1075V735.8H1065.6M1075 735H1076.5V737.3H1065.6M1093.9 729.5H1110.7V736.2H1076.5M1065.6 738.9H1080.5V740.4H1065.6M1065.6 741.9H1070.7V743.5H1065.6M1070.7 742.7H1079.9V745H1065.6M1080.5 739.6H1093.5V743.8H1079.9M1110.7 732.8H1126.3V741.7H1093.5M1065.6 749.6H1079.5V751.1H1065.6M1065.6 748.1H1088.5V750.4H1079.5M1065.6 746.5H1096V749.2H1088.5M1126.3 737.3H1149.5V747.9H1096M1129.5 722H1159.4V742.6H1149.5M1159.4 722H1159.4V742.6H1159.4" stroke="#bdbdbd" stroke-width="1.1" fill="none" stroke-linejoin="miter"/>
<text x="1167.5" y="752.5" font-size="12.6" fill="#b4b4b4">Type III</text>
<path d="M1065.6 752.7H1074.7V754.2H1065.6M1074.7 753.4H1077.4V755.7H1065.6M1065.6 758.8H1070.4V760.3H1065.6M1065.6 757.3H1092.6V759.6H1070.4M1065.6 764.9H1078.5V766.4H1065.6M1065.6 763.4H1089.1V765.7H1078.5M1065.6 761.8H1090.6V764.5H1089.1M1092.6 758.4H1122.7V763.2H1090.6M1077.4 754.6H1138.1V760.8H1122.7M1065.6 768H1071.5V769.5H1065.6M1065.6 772.6H1071.9V774.1H1065.6M1071.9 773.3H1080.3V775.6H1065.6M1065.6 771H1094.7V774.5H1080.3M1071.5 768.7H1113.9V772.8H1094.7M1065.6 777.2H1082.2V778.7H1065.6M1065.6 780.2H1076.9V781.8H1065.6M1082.2 777.9H1089.8V781H1076.9M1065.6 783.3H1080V784.8H1065.6M1080 784.1H1081.5V786.4H1065.6M1089.8 779.5H1099.5V785.2H1081.5M1065.6 787.9H1075.2V789.4H1065.6M1075.2 788.7H1076.7V791H1065.6M1076.7 789.8H1088.8V792.5H1065.6M1065.6 794H1079.5V795.6H1065.6M1088.8 791.1H1095.2V794.8H1079.5M1099.5 782.3H1108.4V793H1095.2M1113.9 770.8H1124V787.7H1108.4M1138.1 757.7H1153.4V779.2H1124M1065.6 798.6H1082.4V800.1H1065.6M1065.6 797.1H1083.9V799.4H1082.4M1083.9 798.2H1091.6V801.7H1065.6M1065.6 803.2H1078.8V804.7H1065.6M1065.6 806.3H1071.9V807.8H1065.6M1078.8 804H1087V807H1071.9M1087 805.5H1099.7V809.3H1065.6M1099.7 807.4H1105.3V810.9H1065.6M1065.6 812.4H1077.6V813.9H1065.6M1065.6 815.5H1079.6V817H1065.6M1079.6 816.2H1085.9V818.5H1065.6M1065.6 820.1H1071.1V821.6H1065.6M1085.9 817.4H1089.1V820.8H1071.1M1065.6 823.1H1070.1V824.7H1065.6M1065.6 826.2H1075.4V827.7H1065.6M1065.6 829.3H1082.7V830.8H1065.6M1075.4 827H1084.2V830H1082.7M1070.1 823.9H1092V828.5H1084.2M1089.1 819.1H1096.7V826.2H1092M1077.6 813.2H1102.2V822.7H1096.7M1105.3 809.2H1115V817.9H1102.2M1065.6 836.9H1080.7V838.5H1065.6M1065.6 835.4H1083.9V837.7H1080.7M1065.6 833.9H1085.4V836.5H1083.9M1065.6 832.3H1088.9V835.2H1085.4M1065.6 841.5H1081.1V843H1065.6M1065.6 840H1085.8V842.3H1081.1M1088.9 833.8H1094.2V841.1H1085.8M1065.6 844.6H1083V846.1H1065.6M1094.2 837.4H1099.2V845.3H1083M1065.6 847.6H1082.1V849.2H1065.6M1099.2 841.4H1105.1V848.4H1082.1M1065.6 850.7H1072.1V852.2H1065.6M1072.1 851.5H1090.7V853.8H1065.6M1090.7 852.6H1092.2V855.3H1065.6M1092.2 854H1101.9V856.8H1065.6M1105.1 844.9H1114.1V855.4H1101.9M1065.6 861.4H1084.1V863H1065.6M1065.6 859.9H1085.6V862.2H1084.1M1065.6 864.5H1073.9V866H1065.6M1073.9 865.3H1075.6V867.6H1065.6M1085.6 861H1093.1V866.4H1075.6M1065.6 858.4H1099.9V863.7H1093.1M1114.1 850.2H1121.9V861H1099.9M1115 813.5H1146.5V855.6H1121.9M1091.6 800H1170.3V834.6H1146.5M1153.4 768.4H1187.3V817.3H1170.3M1187.3 768.4H1187.3V817.3H1187.3" stroke="#f06a1b" stroke-width="1.1" fill="none" stroke-linejoin="miter"/>
<text x="1191.7" y="809.6" font-size="12.6" fill="#f26522">Type IV</text>
<path d="M1065.6 870.6H1086V872.2H1065.6M1065.6 873.7H1078V875.2H1065.6M1065.6 878.3H1074.7V879.8H1065.6M1065.6 876.8H1076.4V879.1H1074.7M1078 874.5H1091.3V877.9H1076.4M1086 871.4H1105.5V876.2H1091.3M1065.6 869.1H1118.2V873.8H1105.5M1065.6 882.9H1076V884.4H1065.6M1065.6 881.3H1077.5V883.6H1076M1065.6 887.5H1077.2V889H1065.6M1065.6 885.9H1078.9V888.2H1077.2M1077.5 882.5H1115.5V887.1H1078.9M1065.6 892.1H1072V893.6H1065.6M1065.6 890.5H1087.9V892.8H1072M1115.5 884.8H1121.6V891.7H1087.9M1118.2 871.4H1146.4V888.2H1121.6M1065.6 896.7H1080V898.2H1065.6M1065.6 899.7H1073.6V901.3H1065.6M1080 897.4H1089.7V900.5H1073.6M1065.6 902.8H1082.6V904.3H1065.6M1082.6 903.6H1084.1V905.9H1065.6M1089.7 899H1132.9V904.7H1084.1M1065.6 908.9H1071V910.5H1065.6M1065.6 907.4H1095.7V909.7H1071M1132.9 901.8H1139.4V908.5H1095.7M1065.6 895.1H1154.2V905.2H1139.4M1146.4 879.8H1197.8V900.2H1154.2M1065.6 912H1083.8V913.5H1065.6M1065.6 916.6H1078.9V918.1H1065.6M1065.6 915.1H1080.4V917.4H1078.9M1080.4 916.2H1098.3V919.6H1065.6M1083.8 912.8H1109.2V917.9H1098.3M1109.2 915.3H1114V921.2H1065.6M1114 918.3H1141.9V922.7H1065.6M1065.6 925.8H1071.5V927.3H1065.6M1065.6 928.8H1077.1V930.4H1065.6M1071.5 926.5H1098.6V929.6H1077.1M1065.6 931.9H1083.9V933.4H1065.6M1065.6 935H1074.4V936.5H1065.6M1083.9 932.7H1091.2V935.7H1074.4M1091.2 934.2H1100.1V938H1065.6M1098.6 928.1H1106.9V936.1H1100.1M1065.6 924.2H1133.3V932.1H1106.9M1141.9 920.5H1165.8V928.2H1133.3M1197.8 890H1213.6V924.3H1165.8M1213.6 890H1213.6V924.3H1213.6" stroke="#7a7a7a" stroke-width="1.1" fill="none" stroke-linejoin="miter"/>
<text x="1183.6" y="871.5" font-size="12.6" fill="#555">Type V</text>
<path d="M1179.2 588.4H1239.1V674.1H1198.3M1239.1 631.2H1250.6V735.3H1159.4M1187.3 815.5H1229.3V909.1H1213.6M1250.6 683.3H1264.2V862.3H1229.3" stroke="#222" stroke-width="1.3" fill="none"/>
<path d="M1501 696.1L1501 567.5A128.6 128.6 0 0 1 1613.7 634.1Z" fill="#4550b0" stroke="#fff" stroke-width="2.2" stroke-linejoin="round"/>
<path d="M1501 696.1L1613.7 634.1A128.6 128.6 0 0 1 1545.3 816.8Z" fill="#a2d9f0" stroke="#fff" stroke-width="2.2" stroke-linejoin="round"/>
<path d="M1501 696.1L1545.3 816.8A128.6 128.6 0 0 1 1372.8 706.6Z" fill="#ec5b00" stroke="#fff" stroke-width="2.2" stroke-linejoin="round"/>
<path d="M1501 696.1L1372.8 706.6A128.6 128.6 0 0 1 1385.3 639.9Z" fill="#c9c7c5" stroke="#fff" stroke-width="2.2" stroke-linejoin="round"/>
<path d="M1501 696.1L1385.3 639.9A128.6 128.6 0 0 1 1501 567.5Z" fill="#5b5858" stroke="#fff" stroke-width="2.2" stroke-linejoin="round"/>
<text x="1542.4" y="619.2" font-size="20.3" text-anchor="middle" fill="#fff">17.0%</text>
<text x="1542.9" y="646.2" font-size="20.3" text-anchor="middle" fill="#fff">(44)</text>
<text x="1565.8" y="718.6" font-size="20.3" text-anchor="middle" fill="#fff">27.4%</text>
<text x="1566.3" y="744.7" font-size="20.3" text-anchor="middle" fill="#fff">(71)</text>
<text x="1462.8" y="748.7" font-size="20.3" text-anchor="middle" fill="#fff">29.3%</text>
<text x="1463.3" y="774.8" font-size="20.3" text-anchor="middle" fill="#fff">(76)</text>
<text x="1459.2" y="623.7" font-size="20.3" text-anchor="middle" fill="#fff">17.8%</text>
<text x="1459.7" y="650.2" font-size="20.3" text-anchor="middle" fill="#fff">(46)</text>
<text x="1326.5" y="658.8" font-size="20.3" text-anchor="middle" fill="#000">8.5%</text>
<text x="1327" y="684.9" font-size="20.3" text-anchor="middle" fill="#000">(22)</text>
<path d="M1359.4 665.5L1406.6 677.7" stroke="#000" stroke-width="1.6"/>
<rect x="1639.2" y="486.1" width="27" height="14.4" fill="#4550b0"/>
<text x="1682" y="500.5" font-size="20.8">D1-Type I</text>
<rect x="1639.2" y="520.3" width="27" height="14.4" fill="#a2d9f0"/>
<text x="1682" y="534.7" font-size="20.8">D1-Type II</text>
<rect x="1639.2" y="554.5" width="27" height="14.4" fill="#c9c7c5"/>
<text x="1682" y="568.9" font-size="20.8">D1-Type III</text>
<rect x="1639.2" y="589.1" width="27" height="14.4" fill="#ec5b00"/>
<text x="1682" y="603.5" font-size="20.8">D1-Type IV</text>
<rect x="1639.2" y="623.3" width="27" height="14.4" fill="#5b5858"/>
<text x="1682" y="637.7" font-size="20.8">D1-Type V</text>
<text x="1525.4" y="901.8" font-size="31.7" font-weight="bold" text-anchor="middle">D1-MSN (VD-Inhibit)</text>
<rect x="281" y="1119.3" width="110.4" height="290.8" fill="#e6e6e6"/>
<path d="M69.3 1243l1.7 2.2 1.8-2.4 1.8-2.3 1.7 .6 1.8-.5 1.8-.1 1.7-1.2 1.8 1.4 1.8 1.4 1.7 2.5 1.8-1.2 1.7 .4 1.8 3.7 1.8 .1 1.7-3.3 1.8 1.3 1.8 .8 1.7-3.3 1.8-1.2 1.8 .1 1.7-1.5 1.8 2.2 1.7 .5 1.8-1.8 1.8-.1 1.7-.3 1.8 3.2 1.8 1.5 1.7 .3 1.8-4 1.7-.9 1.8 .6 1.8-1.8 1.7 2.8 1.8 2.1 1.8 .8 1.7-2.5 1.8 .2 1.8-.7 1.7-1.3 1.8-2 1.7-.9 1.8 .8 1.8-1.9 1.7 1.3 1.8 3.9 1.8-1.3 1.7 0 1.8 3.5 1.8 .3 1.7-1.8 1.8 .9 1.7 1.2 1.8 1.2 1.8 5.3 1.7-.8 1.8 .1 1.8 .9 1.7 1.6 1.8 3.5 1.7-1.6 1.8 .9 1.8-2.1 1.7-2.2 1.8 1.3 1.8-2.5 1.7-.2 1.8 .6 1.8-.7 1.7-1 1.8 2.2 1.7 1.5 1.8 1.3 1.8-3.3 1.7-2.5 1.8 2.7 1.8-.1 1.7-1.7 1.8 1.1 1.8-1.9 1.7-1.1 1.8 .4 1.7 1.5 1.8-.7 1.8-.7 1.7 .7 1.8 3.1 1.8 3.7 1.7-2.7 1.8-2.4 1.7 3.9 1.8 3.5 1.8 0 1.7-4.3 1.8 1 0 15-1.8-.8-1.7 4.2-1.8 2.3-1.8-3.7-1.7-3.5-1.8 2-1.7 3.2-1.8-2.7-1.8-3.4-1.7-2-1.8-1.5-1.8 1.6-1.7 .9-1.8-1-1.7 2.7-1.8 .1-1.8-1.8-1.7 3-1.8-1.6-1.8-1.3-1.7 .5-1.8 .9-1.8 .4-1.7-1.1-1.8-1.9-1.7 2.5-1.8 .1-1.8 .2-1.7 1-1.8 1.7-1.8-1.3-1.7 0-1.8 3.4-1.8 2.2-1.7 2.6-1.8-3.2-1.7-1.7-1.8-3.3-1.8-1.7-1.7 2.1-1.8-4.3-1.8 .1-1.7 1.9-1.8-1.7-1.7-3-1.8 .8-1.8-3.1-1.7-1.4-1.8 2-1.8-2.4-1.7-3.6-1.8-1.3-1.8-1.2-1.7 2.1-1.8 3.4-1.7-.1-1.8 .7-1.8-1.5-1.7 2.1-1.8 1.6-1.8-2.8-1.7 0-1.8 3-1.8-3.7-1.7 .3-1.8 .8-1.7-.6-1.8 .4-1.8-3.5-1.7 .1-1.8 1.2-1.8-2-1.7-1.4-1.8 4.5-1.7 .8-1.8-.2-1.8 3.5-1.7 3.7-1.8 1-1.8-2.7-1.7-1.3-1.8-2.1-1.8 1.5-1.7 0-1.8 .4-1.7-.3-1.8-1.3-1.8-.5-1.7 1.4-1.8-.3-1.8-.9-1.7-2.1-1.8-.1-1.8 1.5-1.7-1z" fill="#4655b5" fill-opacity=".3"/>
<path d="M246.8 1250.7l1.7-.8 1.8 0 1.7-5.5 1.8-1.8 1.8-1.1 1.7-3.1 1.8 4.4 1.7 .3 1.8-.9 1.8 2 1.7 2.6 1.8-.3 1.8 .7 1.7-.5 1.8-.9 1.7 .5 1.8 .4 1.8 1.9 1.7 3 1.8-1.2 1.7-.5 1.8-2.8 1.8-3.1 1.7-5.8 1.8-10.7 1.7-4.9 1.8-6.8 1.8-9.4 1.7-.7 1.8-.4 1.8 2.7 1.7 2 1.8 .2 1.7-6.2 1.8-7.7 1.8-8.4 1.7-6.8 1.8-6.9 1.7-7.3 1.8-6.3 1.8-2.8 1.7-2.1 1.8-.7 1.7-.1 1.8-1.2 1.8-.6 1.7 1 1.8 .7 1.8 .2 1.7 4.2 1.8-2.3 1.7-.8 1.8 1.7 1.8 0 1.7 2.9 1.8 1 1.7 3.8 1.8 3.4 1.8-.1 1.7 .3 1.8-.9 1.8-1.2 1.7 2.9 1.8 1.5 1.7-.2 1.8 1.8 1.8-2.6 1.7 1.5 1.8 3.2 1.7-1.3 1.8 3.1 1.8 2.8 1.7-.5 1.8 1.6 1.7 2 1.8-2.3 1.8 2 1.7 3.4 1.8-1.8 1.8-.8 1.7 2.7 1.8 1.4 1.7-3.8 1.8-1 1.8 2.4 1.7 5.4 1.8-2.8 1.7 3 1.8 1.5 1.8-2.4 1.7 .1 1.8 3.2 1.7-.2 1.8 .3 1.8 1.5 1.7-1 1.8 .8 1.8-.4 1.7-1.5 1.8 2.1 1.7 3.2 1.8 3 1.8 3 1.7 1 1.8-.6 1.7-2.3 1.8 1.7 1.8 .9 1.7 3 1.8 0 1.7-.8 1.8 .4 1.8-1.4 1.7 2.2 1.8 1.2 1.8-.2 1.7-1.7 1.8 1 1.7 .4 1.8-1.3 1.8-.9 1.7 .6 1.8 4.8 1.7-1.1 1.8-.5 1.8 .9 1.7 .1 1.8 1.9 1.7 1.6 1.8 1.8 1.8 1.5 1.7 .7 1.8 1.4 1.8 1.8 1.7 3.7 1.8-.6 1.7 1.8 1.8 1 1.8-.6 1.7-3.2 1.8 .9 1.7 2.5 1.8 2.8 1.8 2.2 1.7 .3 1.8 1.9 1.7 .1 0 12.4-1.7-2.6-1.8 .3-1.7 0-1.8-2.5-1.8-1.7-1.7-1.1-1.8 1.4-1.7 .2-1.8-.6-1.8 4.2-1.7-1.8-1.8-.8-1.7-5.5-1.8-.1-1.8 1.9-1.7 .9-1.8-1-1.8-5.8-1.7-1.8-1.8-1.8-1.7 .3-1.8 2.4-1.8-4.2-1.7-1.9-1.8-4.1-1.7-1.8-1.8 3.1-1.8 2.8-1.7-1.7-1.8-.5-1.7 4-1.8 .3-1.8 1.9-1.7-3.9-1.8-2-1.8 2-1.7-1.6-1.8-.2-1.7-4.1-1.8-.1-1.8 1.3-1.7-1.5-1.8-3.1-1.7-.1-1.8-1-1.8 2.9-1.7-.6-1.8-4.1-1.7 1.4-1.8-.5-1.8-.4-1.7 .7-1.8-2.1-1.8-2.1-1.7 .8-1.8-4.6-1.7-2.2-1.8 1.3-1.8-2-1.7-3.5-1.8 3.6-1.7-.9-1.8-2.8-1.8 2.2-1.7 3.8-1.8-1.5-1.7-1.7-1.8-3-1.8 .5-1.7-4-1.8-.7-1.8 1.7-1.7-.2-1.8 .2-1.7-1.6-1.8-1.6-1.8-.9-1.7 1.1-1.8-3.2-1.7-2.5-1.8 .3-1.8-1.2-1.7-1.7-1.8 .6-1.7-2.5-1.8-3-1.8-.7-1.7-.3-1.8 .1-1.8 .5-1.7-3.9-1.8 .2-1.7 2.3-1.8-3.2-1.8-1.1-1.7-2-1.8 2.5-1.7-4.2-1.8-2.4-1.8 2.4-1.7-1.6-1.8 0-1.8 1-1.7-.6-1.8 1.9-1.7 4.1-1.8 2.5-1.8 5.1-1.7 6.1-1.8 4.6-1.7 9.4-1.8 9.1-1.8 7.6-1.7 6.5-1.8-4.1-1.7 .4-1.8 .5-1.8 .2-1.7 2.5-1.8 8.9-1.8 3.3-1.7 8.7-1.8 8.6-1.7 2.5-1.8 2.9-1.8 2.7-1.7 3.2-1.8 .4-1.7-3.5-1.8-.9-1.8 1.9-1.7-.2-1.8-1.3-1.7-1.4-1.8-1.3-1.8-3.1-1.7-1.1-1.8 1.9-1.8 2.3-1.7 2.6-1.8-2.5-1.7 1.9-1.8 .1-1.8 .4-1.7 2.5-1.8 3-1.7-.1z" fill="#4655b5" fill-opacity=".3"/>
<path d="M69.3 1277.3l1.7 2 1.8-1 1.8-.7 1.7-.9 1.8-1 1.8 .3 1.7-2.7 1.8 1.5 1.8-1.8 1.7 1.7 1.8-.2 1.7-2 1.8-2.8 1.8-2.7 1.7-2.6 1.8-2.8 1.8-1.7 1.7-1 1.8 1.7 1.8 3.9 1.7-.1 1.8 1.6 1.7-3.3 1.8 3.5 1.8 4.9 1.7 .1 1.8-3.5 1.8-2.8 1.7-3.1 1.8-5.9 1.7 .5 1.8-1.2 1.8 4 1.7 4.4 1.8 0 1.8 3 1.7 3.9 1.8 .8 1.8-.9 1.7 3.1 1.8 .6 1.7 .3 1.8-1.9 1.8-.2 1.7 1.5 1.8-.6 1.8 1.3 1.7 .7 1.8 3.9 1.8 5.2 1.7 .4 1.8-.5 1.7-2.8 1.8-2.6 1.8 .4 1.7-3.3 1.8-4.5 1.8-2 1.7 3.6 1.8 1 1.7-1.5 1.8 2 1.8 2.8 1.7 1.3 1.8-1.3 1.8-4.7 1.7 4.7 1.8-.3 1.8 4.5 1.7 7.2 1.8 .3 1.7-3.1 1.8-2 1.8-2.6 1.7-.1 1.8 .2 1.8-.6 1.7-.4 1.8-.2 1.8 2 1.7 7.6 1.8 1.1 1.7-4 1.8 .2 1.8 3.8 1.7 0 1.8 .6 1.8-.5 1.7-2.2 1.8-1.7 1.7-4.1 1.8-1.5 1.8 2.1 1.7 1.3 1.8-1.3 0 25.6-1.8 2.4-1.7-2.6-1.8-3-1.8 2.4-1.7 1.9-1.8-2.3-1.7-.5-1.8 .4-1.8 1.8-1.7 2.5-1.8-3-1.8 1.3-1.7 .3-1.8-3-1.7-4.7-1.8-1.5-1.8-3.1-1.7 .3-1.8 4.3-1.8-.1-1.7 1.3-1.8 2.7-1.8 .2-1.7 3.4-1.8-2.2-1.7-3.3-1.8-3-1.8-.6-1.7-4.7-1.8 2.4-1.8 2.2-1.7-4.5-1.8-3.6-1.8-2.5-1.7 1.3-1.8 2.6-1.7-3.6-1.8-1.1-1.8 4.1-1.7-1.1-1.8 2.2-1.8 4.8-1.7 4.9-1.8 5.1-1.7-3.3-1.8-5.3-1.8-4-1.7 .4-1.8-.6-1.8-2.8-1.7-.7-1.8-.3-1.8 .4-1.7 3.7-1.8-3.1-1.7-2.8-1.8 1.3-1.8-1.8-1.7 0-1.8-2.8-1.8-3.2-1.7-3.9-1.8-.3-1.8 3.2-1.7-1.3-1.8 3.8-1.7 1.9-1.8-.1-1.8 4.8-1.7-1.4-1.8 1.4-1.8 1.9-1.7-1.9-1.8-3.7-1.7-4.8-1.8-2.9-1.8 .2-1.7 2.8-1.8 2-1.8-.5-1.7 5.2-1.8 2-1.8 1-1.7-3-1.8 1.6-1.7 .5-1.8 1.8-1.8-1.1-1.7 .5-1.8 2-1.8 .9-1.7 1.3-1.8-.4-1.8 1.9-1.7-2z" fill="#f5895e" fill-opacity=".45"/>
<path d="M246.8 1285.6l1.7-4.1 1.8-.5 1.7 1.2 1.8 3.5 1.8-2.7 1.7 1.9 1.8 1.3 1.7-1.3 1.8 1.5 1.8-2.8 1.7 .2 1.8 1.7 1.8 .1 1.7 .5 1.8 1.6 1.7-1.2 1.8-4.1 1.8 0 1.7-1.5 1.8-.3 1.7-6.6 1.8-.7 1.8-3.6 1.7-.8 1.8-.1 1.7-1.7 1.8 2.8 1.8 .7 1.7 1.1 1.8 1.2 1.8-.4 1.7-3.9 1.8-2.6 1.7 1.2 1.8 3.6 1.8 .8 1.7 5.8 1.8 .5 1.7-.1 1.8 2.9 1.8 .1 1.7 .9 1.8 1.1 1.7 .8 1.8 5.9 1.8 5.5 1.7-.3 1.8-1.1 1.8 5.3 1.7 3.1 1.8-.1 1.7-1.2 1.8 1.8 1.8 1 1.7-5.8 1.8-2.2 1.7 1.9 1.8-2.2 1.8 1.3 1.7 3 1.8 .4 1.8-1.6 1.7-.5 1.8 1.1 1.7 .6 1.8-1.7 1.8 3.3 1.7 4.1 1.8-2.3 1.7 .9 1.8 3.4 1.8 0 1.7 1.5 1.8 0 1.7-1.6 1.8-1.3 1.8-.4 1.7 1.5 1.8 1.5 1.8-.7 1.7-2 1.8-3.4 1.7 .8 1.8 .2 1.8-.9 1.7 5.1 1.8 1.9 1.7 .6 1.8-.1 1.8-.7 1.7-1.8 1.8-2.9 1.7 4.2 1.8-1.7 1.8 1.5 1.7-.1 1.8 1.6 1.8-3.9 1.7-2.1 1.8-1.1 1.7 .9 1.8 .3 1.8-.9 1.7 0 1.8-2.9 1.7-5.4 1.8-.9 1.8-.3 1.7 .7 1.8-3.2 1.7 2.3 1.8-.5 1.8-4.4 1.7 2.7 1.8 4.1 1.8 4.2 1.7 1.8 1.8-1.4 1.7 2.6 1.8-1.2 1.8 1.5 1.7 3.8 1.8-1.3 1.7-1.9 1.8-1 1.8-3.6 1.7-3.3 1.8 1.8 1.7 .9 1.8-3.3 1.8-2.9 1.7-.5 1.8-.5 1.8-2.8 1.7-.4 1.8-.8 1.7 1.1 1.8 2 1.8 2.4 1.7-.6 1.8-6.7 1.7-2.5 1.8 .9 1.8 1.7 1.7 3.2 1.8 3.1 1.7 1 0 20.1-1.7 1.8-1.8-1.1-1.7 .3-1.8-1.9-1.8-3.2-1.7 1.1-1.8 2.1-1.7 2.7-1.8 .3-1.8-4-1.7-2-1.8 1.3-1.7 4.6-1.8 4.3-1.8-.4-1.7-.4-1.8 1.7-1.8 1.7-1.7-3.3-1.8 2-1.7 1.1-1.8-2.3-1.8 2.6-1.7 2.1-1.8 2.9-1.7 .3-1.8-.7-1.8-2-1.7-2.5-1.8-.4-1.7 1.6-1.8-1.4-1.8-3.9-1.7-2.5-1.8-.9-1.8 2.2-1.7-3.6-1.8-.4-1.7-3.2-1.8 .3-1.8 3.6-1.7 5.1-1.8 2.8-1.7 .3-1.8 2.5-1.8 2.3-1.7 .8-1.8 3.2-1.7 .8-1.8 1.6-1.8-.2-1.7-1.2-1.8-1.7-1.8 1.7-1.7-3.1-1.8 2.7-1.7-.1-1.8 .5-1.8 .9-1.7-1.2-1.8-2.6-1.7-.3-1.8-.6-1.8 3.9-1.7 1.8-1.8-.3-1.7 .8-1.8 2-1.8-.9-1.7-4.4-1.8-2.4-1.8-2.7-1.7 .5-1.8 1.7-1.7-.4-1.8 1.9-1.8-.4-1.7 2.3-1.8-1.8-1.7-5.3-1.8 1.2-1.8-.2-1.7-1.2-1.8 0-1.7-2.9-1.8 2.6-1.8-1.8-1.7-3.5-1.8 2.6-1.8-.1-1.7-.9-1.8 1.8-1.7 5.1-1.8 .9-1.8-1-1.7 3.3-1.8-1.4-1.7-4.3-1.8-2.5-1.8-2.1-1.7-5.6-1.8-5.2-1.8-3.4-1.7 1.1-1.8-.3-1.7-1.3-1.8 1.3-1.8-.6-1.7-1.5-1.8-1.5-1.7-7.7-1.8-5-1.8-2.1-1.7 1.8-1.8 3.1-1.7 1.4-1.8 .2-1.8 .2-1.7-3.4-1.8 .3-1.8-.6-1.7-1.3-1.8-1.4-1.7 1.1-1.8 2.6-1.8 2.9-1.7 4.1-1.8 1.1-1.7 1.1-1.8-1.9-1.8 6.8-1.7 3.9-1.8 1.3-1.7-1.7-1.8 .1-1.8-3.6-1.7-1.3-1.8 1.5-1.8-2.6-1.7-2-1.8 4.1-1.7 1.5-1.8 1.7-1.8-.5-1.7-2.7-1.8 .3-1.7 1.6z" fill="#f5895e" fill-opacity=".45"/>
<path d="M80.4 1264.8H508.6" stroke="#000" stroke-width="4" stroke-dasharray="0 11.42" stroke-linecap="round" fill="none"/>
<path d="M204.9 1120.2h0M204.9 1131.6h0M204.9 1143h0M204.9 1154.4h0M204.9 1165.8h0M204.9 1177.3h0M204.9 1245.8h0M204.9 1257.2h0M204.9 1268.6h0M204.9 1280h0M204.9 1291.5h0M204.9 1302.9h0M204.9 1314.3h0M204.9 1325.7h0M204.9 1337.1h0M204.9 1348.6h0M204.9 1360h0M204.9 1371.4h0M204.9 1382.8h0M204.9 1394.2h0M204.9 1405.7h0" stroke="#000" stroke-width="4" stroke-linecap="round" fill="none"/>
<path d="M69.3 1251l1.7-.3 1.8-.9 1.8 0 1.7 .9 1.8-.1 1.8 .6 1.7-.4 1.8-.4 1.8 .4 1.7 1.1 1.8-.5 1.7 1.3 1.8 .1 1.8 1.5 1.7-.1 1.8 1.6 1.8 .5 1.7-3.7 1.8-2.5 1.8 .7 1.7-1.3 1.8-1.9 1.7 .1 1.8 1.6 1.8 .5 1.7-1.2 1.8 1.7 1.8 1.1 1.7 .1 1.8-3 1.7 .6 1.8 2.2 1.8-1.7 1.7 .8 1.8 1.2 1.8 .3 1.7-1.4 1.8 .8 1.8-.8 1.7-1 1.8-1.9 1.7-.7 1.8 .2 1.8 0 1.7 1.4 1.8 2.4 1.8-.4 1.7 .2 1.8 2.9 1.8 .3 1.7 1.1 1.8 .8 1.7-1.2 1.8 .6 1.8 4.3 1.7-.8 1.8 2.2 1.8 3.1 1.7 .2 1.8 1.8 1.7-1.4 1.8-.2 1.8-1.6 1.7-.9 1.8-.3 1.8-1.9 1.7-.2 1.8-.7 1.8 .6 1.7-1.8 1.8 1 1.7 1.4 1.8 .7 1.8-1.8 1.7-.5 1.8 1.4 1.8-.4 1.7-1.6 1.8 1.3 1.8-.7 1.7-.4 1.8 .3 1.7-.4 1.8-1.5 1.8 1 1.7 1.6 1.8 2.6 1.8 2.6 1.7-2.1 1.8-1.6 1.7 2.4 1.8 3.4 1.8-.6 1.7-3.6 1.8-.5" fill="none" stroke="#4655b5" stroke-width="4.2" stroke-linejoin="round"/>
<path d="M246.8 1259.8l1.7-1 1.8-.9 1.7-3.7 1.8-2.3 1.8 .4 1.7-1.6 1.8 2 1.7-.7 1.8-1.1 1.8-.6 1.7 1.3 1.8 1.8 1.8 2 1.7 1.1 1.8-.3 1.7-.8 1.8-.3 1.8 2.1 1.7 1.9 1.8-1.1 1.7-.4 1.8-1.6 1.8-3.7 1.7-5.7 1.8-10 1.7-6.7 1.8-4.6 1.8-8.5 1.7-1.2 1.8-.6 1.8 .6 1.7-.5 1.8 1.4 1.7-5.3 1.8-6.7 1.8-8.6 1.7-7.9 1.8-6.7 1.7-6.4 1.8-4.1 1.8-3.3 1.7-2.8 1.8-2.3 1.7-1 1.8-.2 1.8-.4 1.7 2.1 1.8-.4 1.8 .5 1.7 3.1 1.8-2.2 1.7 1.5 1.8 1.8 1.8 1.4 1.7 .6 1.8 .6 1.7 3.3 1.8 1.8 1.8 .3 1.7 .7 1.8-.5 1.8-.5 1.7 1.5 1.8 2.1 1.7 1.3 1.8 .5 1.8-.7 1.7 2.1 1.8 3 1.7-.3 1.8 1.7 1.8 1.2 1.7 1 1.8 .2 1.7 1.3 1.8-1.3 1.8 1.3 1.7 3.6 1.8-1.1 1.8 1.9 1.7 .8 1.8 .4 1.7-2.1 1.8-.9 1.8 1.6 1.7 1.9 1.8-3.3 1.7 2.7 1.8 2.4 1.8-.4 1.7 .9 1.8 2.9 1.7-.7 1.8 1.9 1.8 2.2 1.7-1.4 1.8-.8 1.8 .9 1.7 0 1.8 3.5 1.7 1.3 1.8-.5 1.8 2.3 1.7 .7 1.8 1.1 1.7-.3 1.8 .5 1.8 .2 1.7 4.1 1.8-.4 1.7 .5 1.8-.8 1.8-.7 1.7 3.4 1.8 .2 1.8 .1 1.7-3.4 1.8 .8 1.7 2 1.8-2.2 1.8-2 1.7 1 1.8 4.4 1.7 .7 1.8 .6 1.8-.8 1.7 1.8 1.8 1.5 1.7 .7 1.8 3.8 1.8 1.5 1.7-.1 1.8-.2 1.8 1.5 1.7 4.9 1.8-.7 1.7 1.4 1.8-1.3 1.8 .3 1.7-1.2 1.8 .1 1.7 1.1 1.8 .2 1.8 2.8 1.7 1.5 1.8 .6 1.7 .8" fill="none" stroke="#4655b5" stroke-width="4.2" stroke-linejoin="round"/>
<path d="M69.3 1288l1.7 1.3 1.8-1.6 1.8 .5 1.7-.5 1.8-.7 1.8-.4 1.7-2.2 1.8 .9 1.8-1.9 1.7 0 1.8-.3 1.7-.1 1.8-1.7 1.8-.8 1.7-4.7 1.8-1 1.8-1.8 1.7-1.4 1.8 .2 1.8 2 1.7 3.2 1.8 2.5 1.7-.3 1.8 1.1 1.8 1 1.7-.3 1.8-3.8 1.8-.5 1.7-2.8 1.8-3.8 1.7 .8 1.8-2.5 1.8 2.1 1.7 3.6 1.8 1.7 1.8 2.5 1.7 2.1 1.8 1.6 1.8-.7 1.7 2.6 1.8 1.1 1.7-1.6 1.8-.4 1.8 0 1.7 .5 1.8 .9 1.8 1.6 1.7 1.7 1.8 3.5 1.8 3.4 1.7 1.1 1.8-1.8 1.7-3.3 1.8-4.1 1.8-.7 1.7-.3 1.8-4.6 1.8-.4 1.7 3.3 1.8-.9 1.7-1.1 1.8 2.5 1.8 2.9 1.7 2.4 1.8-1.3 1.8-2.7 1.7 3.8 1.8-1.3 1.8 3.9 1.7 5 1.8 2.7 1.7-2.4 1.8-1.3 1.8-2.5 1.7-1.3 1.8-1 1.8-1 1.7 1 1.8 0 1.8 1 1.7 5.4 1.8 2.4 1.7-1.2 1.8-1.1 1.8 3 1.7-1.1 1.8-.3 1.8 .9 1.7-.6 1.8-.7 1.7-2.5 1.8-1.6 1.8 2.3 1.7 .5 1.8-2.2" fill="none" stroke="#e8351a" stroke-width="4.2" stroke-linejoin="round"/>
<path d="M246.8 1296.4l1.7-3.3 1.8 0 1.7 1.4 1.8 1.1 1.8-2.2 1.7 1.6 1.8-.6 1.7 .2 1.8 2.1 1.8-1.1 1.7 1.2 1.8 1.2 1.8-.9 1.7 1.6 1.8 .2 1.7-3.1 1.8-4.8 1.8 1.6 1.7-1.9 1.8-1.9 1.7-4.6 1.8-1.1 1.8-3.6 1.7-1.6 1.8 .4 1.7 .5 1.8 1.7 1.8 .6 1.7 2.2 1.8-.2 1.8-.6 1.7-2.5 1.8-1.6 1.7-.2 1.8 2.7 1.8 2.6 1.7 5.8 1.8 1.3 1.7 1.1 1.8 1.3 1.8 .1 1.7 .6 1.8-.2 1.7 1.5 1.8 4.3 1.8 4.6 1.7 2.7 1.8 .8 1.8 4.1 1.7 2.7 1.8 1.4 1.7-1.7 1.8 .4 1.8 .5 1.7-3.9 1.8-2.2 1.7 .2 1.8-1.1 1.8-.3 1.7 2.3 1.8 .7 1.8-1.2 1.7 .9 1.8 .4 1.7 1 1.8-.8 1.8 1.4 1.7 4 1.8 .9 1.7-.1 1.8 1.4 1.8-1.3 1.7 .6 1.8 0 1.7-1 1.8 .5 1.8 .5 1.7 2 1.8 1.4 1.8-.9 1.7-1.4 1.8-1.2 1.7 .2 1.8-1.4 1.8-.4 1.7 2.6 1.8 2 1.7-.1 1.8 .3 1.8-.8 1.7-1.3 1.8-1.4 1.7 3.2 1.8-2.1 1.8 2.1 1.7 .5 1.8 1.7 1.8-2.8 1.7-2.6 1.8-2.5 1.7 0 1.8-.5 1.8-1.1 1.7-1.2 1.8-2.3 1.7-4.7 1.8-3.1 1.8-.4 1.7 1.7 1.8-2.3 1.7 3.1 1.8 .1 1.8-.4 1.7 2.3 1.8 2.6 1.8 1.6 1.7 .9 1.8 .9 1.7 2 1.8 .2 1.8 1.7 1.7 .8 1.8-2.1 1.7-1.6 1.8-1.3 1.8-.4 1.7-2.8 1.8-.8 1.7 1.7 1.8-1.8 1.8-2.2 1.7-.1 1.8 .8 1.8-3.5 1.7-2.4 1.8-1.4 1.7 .5 1.8 2.9 1.8 .6 1.7-.8 1.8-3.4 1.7-1.2 1.8 1.7 1.8 .3 1.7 1.7 1.8 1.8 1.7 .2" fill="none" stroke="#e8351a" stroke-width="4.2" stroke-linejoin="round"/>
<rect x="208.4" y="1119.3" width="71.2" height="8.2" fill="#000"/>
<path d="M69.3 1117.5V1410.1H507.4" stroke="#000" stroke-width="3.8" fill="none" stroke-linejoin="miter"/>
<path d="M56.8 1119.3H69.3" stroke="#000" stroke-width="3.8"/>
<text x="52.7" y="1126.9" font-size="21.3" font-weight="bold" text-anchor="end">2</text>
<path d="M56.8 1191.9H69.3" stroke="#000" stroke-width="3.8"/>
<text x="52.7" y="1199.5" font-size="21.3" font-weight="bold" text-anchor="end">1</text>
<path d="M56.8 1264.8H69.3" stroke="#000" stroke-width="3.8"/>
<text x="52.7" y="1272.4" font-size="21.3" font-weight="bold" text-anchor="end">0</text>
<path d="M56.8 1337.5H69.3" stroke="#000" stroke-width="3.8"/>
<text x="52.7" y="1345.1" font-size="21.3" font-weight="bold" text-anchor="end">-1</text>
<path d="M56.8 1410.1H69.3" stroke="#000" stroke-width="3.8"/>
<text x="52.7" y="1417.7" font-size="21.3" font-weight="bold" text-anchor="end">-2</text>
<path d="M69.6 1410.1V1423.6" stroke="#000" stroke-width="3.8"/>
<text x="67.1" y="1447.8" font-size="21.3" font-weight="bold" text-anchor="middle">-6</text>
<path d="M114.7 1410.1V1423.6" stroke="#000" stroke-width="3.8"/>
<text x="112.2" y="1447.8" font-size="21.3" font-weight="bold" text-anchor="middle">-4</text>
<path d="M159.8 1410.1V1423.6" stroke="#000" stroke-width="3.8"/>
<text x="157.3" y="1447.8" font-size="21.3" font-weight="bold" text-anchor="middle">-2</text>
<path d="M204.9 1410.1V1423.6" stroke="#000" stroke-width="3.8"/>
<text x="204.9" y="1447.8" font-size="21.3" font-weight="bold" text-anchor="middle">0</text>
<path d="M280.1 1410.1V1423.6" stroke="#000" stroke-width="3.8"/>
<text x="280.1" y="1447.8" font-size="21.3" font-weight="bold" text-anchor="middle">0</text>
<path d="M325.2 1410.1V1423.6" stroke="#000" stroke-width="3.8"/>
<text x="325.2" y="1447.8" font-size="21.3" font-weight="bold" text-anchor="middle">2</text>
<path d="M370.3 1410.1V1423.6" stroke="#000" stroke-width="3.8"/>
<text x="370.3" y="1447.8" font-size="21.3" font-weight="bold" text-anchor="middle">4</text>
<path d="M415.4 1410.1V1423.6" stroke="#000" stroke-width="3.8"/>
<text x="415.4" y="1447.8" font-size="21.3" font-weight="bold" text-anchor="middle">6</text>
<path d="M460.5 1410.1V1423.6" stroke="#000" stroke-width="3.8"/>
<text x="460.5" y="1447.8" font-size="21.3" font-weight="bold" text-anchor="middle">8</text>
<path d="M505.6 1410.1V1423.6" stroke="#000" stroke-width="3.8"/>
<text x="505.6" y="1447.8" font-size="21.3" font-weight="bold" text-anchor="middle">10</text>
<path d="M92.1 1410.1V1418.1" stroke="#000" stroke-width="3.8"/>
<path d="M137.2 1410.1V1418.1" stroke="#000" stroke-width="3.8"/>
<path d="M182.3 1410.1V1418.1" stroke="#000" stroke-width="3.8"/>
<path d="M227.4 1410.1V1418.1" stroke="#000" stroke-width="3.8"/>
<path d="M257.6 1410.1V1418.1" stroke="#000" stroke-width="3.8"/>
<path d="M302.7 1410.1V1418.1" stroke="#000" stroke-width="3.8"/>
<path d="M347.8 1410.1V1418.1" stroke="#000" stroke-width="3.8"/>
<path d="M392.9 1410.1V1418.1" stroke="#000" stroke-width="3.8"/>
<path d="M438 1410.1V1418.1" stroke="#000" stroke-width="3.8"/>
<path d="M483.1 1410.1V1418.1" stroke="#000" stroke-width="3.8"/>
<text x="134.3" y="1107.6" font-size="20" font-weight="bold" text-anchor="middle">ITI</text>
<text x="243.8" y="1107.6" font-size="20" font-weight="bold" text-anchor="middle">Cue</text>
<text x="334.9" y="1107.6" font-size="20" font-weight="bold" text-anchor="middle">Outcome</text>
<text x="287.5" y="1476.1" font-size="23.3" font-weight="bold" text-anchor="middle">Time (sec)</text>
<text transform="translate(20.3 1264.8) rotate(-90)" font-size="23.3" font-weight="bold" text-anchor="middle">Z-Score</text>
<text x="233.3" y="1153.8" font-size="20">Response</text>
<path d="M280.1 1160.3V1174.3" stroke="#000" stroke-width="3.2" fill="none"/><path d="M272.5 1169.8L287.7 1169.8L280.1 1182.3Z" fill="#000"/>
<text x="153.6" y="1200.7" font-size="20">Trial onset</text>
<path d="M204.9 1210.7V1224.6" stroke="#000" stroke-width="3.2" fill="none"/><path d="M197.3 1220.1L212.5 1220.1L204.9 1232.6Z" fill="#000"/>
<text x="78.7" y="1382.9" font-size="23.6">n = 44 cells</text>
<path d="M400.8 1355.9H428" stroke="#4655b5" stroke-width="4"/>
<text x="440.6" y="1362.5" font-size="19">Correct</text>
<path d="M400.8 1388.1H428" stroke="#e8351a" stroke-width="4"/>
<text x="440.6" y="1394.7" font-size="19">Error</text>
<rect x="1187" y="1119.3" width="110.4" height="290.8" fill="#e6e6e6"/>
<path d="M975.3 1222.3l1.7-.4 1.8 .8 1.8-2.9 1.7-4.6 1.8-.2 1.8 1.4 1.7 4.2 1.8 3.1 1.8 1 1.7-1.4 1.8-3.4 1.7 2.3 1.8 4.4 1.8 .8 1.7 1.4 1.8-.4 1.8-3.3 1.7 0 1.8-3.3 1.8-2.9 1.7-1.9 1.8 .1 1.7 2.2 1.8 1.1 1.8-1.1 1.7 .8 1.8 1.6 1.8-2.1 1.7-2.1 1.8 .3 1.7 3.2 1.8 2.2 1.8 2.9 1.7 .1 1.8 0 1.8 .8 1.7 3.2 1.8 4.5 1.8 4.1 1.7 2.3 1.8-1 1.7-.8 1.8-.4 1.8-3.7 1.7-2.4 1.8-.8 1.8-2.1 1.7-2.4 1.8-.7 1.8-.8 1.7 .9 1.8 3.4 1.7 2.5 1.8 1.3 1.8 1.6 1.7 4.3 1.8-3.3 1.8-3.4 1.7-1.1 1.8-2.5 1.7-4.2 1.8-2.7 1.8-2.4 1.7 1.8 1.8 .7 1.8 1.1 1.7 2 1.8-1.8 1.8 .4 1.7 4 1.8 1.5 1.7 .4 1.8 .5 1.8 3.7 1.7 1.3 1.8-2.9 1.8-3 1.7 1.1 1.8 2.9 1.8 2.2 1.7 1.9 1.8-1.3 1.7-3.8 1.8-.6 1.8-1.7 1.7-1.8 1.8-3.9 1.8-3 1.7-2.3 1.8 .1 1.7-2.7 1.8-2.9 1.8-.6 1.7 1.2 1.8 1.5 0 19.2-1.8-1.1-1.7-4.1-1.8 3.6-1.8 1.7-1.7 0-1.8 2.9-1.7 1-1.8 3.5-1.8 4-1.7 .1-1.8 1.9-1.8 2.1-1.7-.2-1.8 1.4-1.7 .8-1.8-1.7-1.8-2.5-1.7-1.9-1.8 4.3-1.8 1.9-1.7-.6-1.8-1.1-1.8-.8-1.7-2.2-1.8-4.3-1.7 .7-1.8 .2-1.8 0-1.7-1.9-1.8-1.7-1.8 0-1.7-3.5-1.8 2.3-1.8 1-1.7 6.1-1.8 3.4-1.7-.8-1.8 3.5-1.8 3.5-1.7-3.2-1.8-.5-1.8-1.6-1.7-3.8-1.8-2.2-1.7-1-1.8-2.2-1.8 1.6-1.7 5.1-1.8 3.3-1.8-.6-1.7 .7-1.8 1.9-1.8 .6-1.7 2-1.8-1.1-1.7-4-1.8-.6-1.8-2.8-1.7-2.4-1.8 1.5-1.8-1-1.7-.2-1.8-2.2-1.8-4.9-1.7-6.5-1.8-1.6-1.7 .4-1.8 .6-1.8 1.8-1.7 0-1.8 .4-1.8 2.2-1.7-.6-1.8-.7-1.7 3.7-1.8 1.3-1.8 .3-1.7 2.8-1.8 0-1.8 1.3-1.7-.5-1.8-1.3-1.8-2.2-1.7-5.4-1.8 2.3-1.7 2.9-1.8-.2-1.8-2.6-1.7-2.6-1.8 .1-1.8-.2-1.7 .3-1.8 1.7-1.8 0-1.7-.9z" fill="#f5895e" fill-opacity=".45"/>
<path d="M1152.8 1236.4l1.7 2 1.8 2.3 1.7-1.2 1.8 2.3 1.8 3 1.7-4.3 1.8-.6 1.7 3.7 1.8 2.4 1.8 3.3 1.7-.8 1.8 2.9 1.8 4.6 1.7 .1 1.8-2 1.7 3 1.8 2.8 1.8 .5 1.7 .1 1.8-.3 1.7 1.6 1.8 .5 1.8 2.5 1.7 2.1 1.8-.4 1.7-1.3 1.8-1.6 1.8 1.6 1.7 3.9 1.8 2.5 1.8 5.7 1.7 .9 1.8 3.4 1.7 4 1.8-1.6 1.8 4.3 1.7-.2 1.8 3.5 1.7 5.2 1.8 1.5 1.8 2.3 1.7 1.5 1.8 3.4 1.7 0 1.8 3.2 1.8 2.4 1.7 3.7 1.8 1 1.8-1.3 1.7-.2 1.8 .8 1.7-1.7 1.8 .3 1.8 2.4 1.7-3.4 1.8-.1 1.7 3.1 1.8-1.5 1.8-3.6 1.7-1.1 1.8-.2 1.8 .8 1.7 .6 1.8 2.4 1.7 1.4 1.8 .8 1.8 4.7 1.7-.6 1.8 3.3 1.7 3.5 1.8 2.4 1.8 1.6 1.7 .5 1.8-3.4 1.7-1.2 1.8-2.1 1.8-2.6 1.7-.8 1.8-1 1.8-1.1 1.7 .3 1.8 1.9 1.7 2.7 1.8-5.7 1.8-1 1.7 1.8 1.8-.6 1.7-.9 1.8 2.4 1.8-2.7 1.7-1.1 1.8 1.6 1.7-3.6 1.8-2.9 1.8 .6 1.7 1.8 1.8-1 1.8-1.8 1.7-.8 1.8-4 1.7 .9 1.8 1 1.8-2.2 1.7-1.9 1.8-2.2 1.7-2.9 1.8-1.8 1.8-2.5 1.7-.7 1.8 1.1 1.7 2.3 1.8-2.2 1.8 2.7 1.7 1.6 1.8-2.5 1.8-.8 1.7 .8 1.8 .3 1.7 1.3 1.8-2.1 1.8 3.6 1.7-.6 1.8-2.9 1.7-2.8 1.8-.1 1.8-5.2 1.7-2.3 1.8-1.2 1.7-.8 1.8-1 1.8-3 1.7-1.9 1.8-1.9 1.8-1.9 1.7 2.3 1.8 2.9 1.7-2.6 1.8-3.6 1.8-.7 1.7-5.3 1.8-.4 1.7-1.3 1.8 2.6 1.8 6.4 1.7 3.8 1.8 2.8 1.7 2.9 0 11.5-1.7-.6-1.8-.5-1.7-2.8-1.8-6.4-1.8-1.1-1.7 4-1.8 .9-1.7 3.5-1.8 1-1.8 2.5-1.7 1.1-1.8-1.4-1.7-.7-1.8 1.6-1.8 2.2-1.7 .5-1.8 2-1.8 3-1.7-.3-1.8-1.8-1.7 2.3-1.8 4.4-1.8 4.1-1.7 4.6-1.8-.5-1.7 4.2-1.8-1.4-1.8-2-1.7-2.5-1.8-.5-1.7-1-1.8 3.2-1.8-.9-1.7-1.9-1.8-2.4-1.8 .5-1.7-.9-1.8-2.1-1.7 .1-1.8 4.6-1.8 .4-1.7 1.5-1.8 4.3-1.7 4.8-1.8 .6-1.8-.5-1.7-.3-1.8 .1-1.7 1.9-1.8 2.5-1.8 3.8-1.7-1-1.8 1.3-1.8-.2-1.7-1.8-1.8 1.2-1.7 2.6-1.8-1.6-1.8 1.3-1.7 4.1-1.8-1.4-1.7 3.3-1.8 .4-1.8 2.8-1.7-2.1-1.8-2.7-1.7 .4-1.8 .9-1.8 .1-1.7-1.1-1.8 3.1-1.8 4.4-1.7-3.4-1.8 .3-1.7 1.4-1.8-1.1-1.8-1.2-1.7-1.1-1.8-1.8-1.7-.1-1.8-5.4-1.8-5.8-1.7-2-1.8-.4-1.7-2.8-1.8 4.4-1.8 3-1.7-.9-1.8 1.8-1.8 .5-1.7-2.5-1.8 6-1.7 2.7-1.8-4.2-1.8 .8-1.7 .2-1.8-3.9-1.7-2.2-1.8-3-1.8-.4-1.7 5.7-1.8-.1-1.8-2.4-1.7 1.7-1.8-3.7-1.7-6.8-1.8-.6-1.8-1.8-1.7-5.6-1.8-4-1.7-2.6-1.8-4.1-1.8-1.5-1.7-5.9-1.8-2.7-1.7 4.2-1.8-3.8-1.8-2.6-1.7-.6-1.8-3.4-1.8-1.5-1.7 2.7-1.8 .9-1.7-1-1.8-2.2-1.8-1.6-1.7-3.5-1.8-2.7-1.7 1.5-1.8-.2-1.8-3.7-1.7-2.7-1.8 1.1-1.7 .4-1.8-3.4-1.8-1.8-1.7-1.1-1.8-3.8-1.8-3-1.7-2.5-1.8 1.1-1.7 2.5-1.8-.1-1.8-1.5-1.7-1.4-1.8-4.5-1.7-2.3z" fill="#f5895e" fill-opacity=".45"/>
<path d="M975.3 1224.7l1.7-2.1 1.8 2.6 1.8-3.6 1.7-2.6 1.8 .8 1.8 .2 1.7 1.3 1.8 .1 1.8-1.6 1.7-3.9 1.8-.5 1.7-1.9 1.8 .3 1.8 .7 1.7 .3 1.8-.7 1.8-1.4 1.7-2.1 1.8 .5 1.8 .6 1.7-.4 1.8-1.3 1.7 1.6 1.8 4.7 1.8-1.6 1.7 .4 1.8 1.8 1.8 .8 1.7-1.7 1.8-1.3 1.7-.3 1.8 2.5 1.8-.9 1.7-1.6 1.8 3.1 1.8-1 1.7-1.9 1.8 .6 1.8 0 1.7-1.5 1.8-.5 1.7 .5 1.8 0 1.8-3 1.7-5.3 1.8 2.6 1.8 .2 1.7-1.6 1.8 3 1.8 .4 1.7 .3 1.8-.3 1.7 3.4 1.8 .1 1.8 3.6 1.7 2 1.8 .3 1.8 1.9 1.7 .4 1.8 1.9 1.7-.8 1.8-.6 1.8 .7 1.7 1.9 1.8 .5 1.8-3.3 1.7-2.4 1.8-3.3 1.8 .7 1.7 4.9 1.8 1.3 1.7-5.3 1.8 1.7 1.8 4 1.7 2.4 1.8-.4 1.8-1.1 1.7 1.5 1.8-4.5 1.8-.3 1.7-.8 1.8-1.6 1.7 .7 1.8 .9 1.8 1.4 1.7-.7 1.8-3.4 1.8 .4 1.7-1.8 1.8-.1 1.7 4.4 1.8 2.8 1.8 .5 1.7-3.7 1.8-4.7 0 18.1-1.8 3.6-1.7 .9-1.8 0-1.8 .2-1.7-1.8-1.8 .2-1.7 1.6-1.8-2.8-1.8 .3-1.7 1.9-1.8-.7-1.8 1-1.7 3.2-1.8 .1-1.7-.4-1.8 .2-1.8-1.9-1.7-1.2-1.8 3-1.8-.3-1.7 .5-1.8-.4-1.8-2.7-1.7 1-1.8-.6-1.7-2.5-1.8-.9-1.8 3.1-1.7-1.9-1.8 2-1.8 2.6-1.7-.2-1.8-1.5-1.8-4.2-1.7 .8-1.8-.2-1.7 .4-1.8-.6-1.8-.1-1.7-.6-1.8-2-1.8 .6-1.7-.5-1.8 1.4-1.7-.9-1.8-2.4-1.8-1.8-1.7 2.2-1.8-1.5-1.8-3.3-1.7 3.5-1.8-.9-1.8-4.2-1.7 1.9-1.8 1.5-1.7 2.3-1.8 .4-1.8 .9-1.7 2.1-1.8 1.7-1.8-1.1-1.7 .1-1.8 1.7-1.8-2.8-1.7-1.1-1.8 0-1.7 2.1-1.8 .1-1.8-.9-1.7-.3-1.8 1.7-1.8-3.8-1.7-1.6-1.8 2.6-1.7 .4-1.8-4.3-1.8-2.5-1.7 2.9-1.8 .4-1.8 .5-1.7 1.2-1.8 2.5-1.8 1.4-1.7-1.4-1.8-2.4-1.7 1.3-1.8 .4-1.8 4.1-1.7 .7-1.8-1-1.8-1.5-1.7 .5-1.8 2.1-1.8-2.8-1.7 2.8z" fill="#4655b5" fill-opacity=".3"/>
<path d="M1152.8 1222.7l1.7 0 1.8-.6 1.7-4.9 1.8 2.2 1.8-.2 1.7-.7 1.8 3.3 1.7 2.1 1.8 3.5 1.8 5 1.7-.4 1.8 4.4 1.8-.4 1.7 0 1.8 1.9 1.7 3.9 1.8 1.9 1.8 1.4 1.7 3 1.8-.4 1.7 3 1.8 2 1.8 0 1.7-2.2 1.8-3.1 1.7 4.1 1.8-.1 1.8 .3 1.7 5.6 1.8-1 1.8-1 1.7-.3 1.8 2.4 1.7 1.1 1.8-2.8 1.8-3.3 1.7 1.7 1.8 3.4 1.7 2.1 1.8 1.9 1.8 1 1.7 .9 1.8 3.3 1.7-.9 1.8-4.7 1.8 1.8 1.7 3.1 1.8-1.5 1.8 .4 1.7 1.7 1.8-2.7 1.7-2.1 1.8 4.6 1.8 2.2 1.7-3.2 1.8 .4 1.7 2.9 1.8 .7 1.8-2.3 1.7 2.8 1.8-.1 1.8 .3 1.7-1 1.8 2.3 1.7 .5 1.8-.8 1.8-3.2 1.7 2.9 1.8 .8 1.7 .1 1.8 1.7 1.8-1.8 1.7-1.3 1.8 2.5 1.7-.7 1.8 .9 1.8-1.2 1.7 .8 1.8 1.6 1.8 1.7 1.7 3.3 1.8-3.4 1.7-.3 1.8-1.5 1.8 1.6 1.7 1.6 1.8 2.3 1.7 .5 1.8-2.1 1.8 .3 1.7 .3 1.8 .6 1.7 .9 1.8 1 1.8-.5 1.7-2.3 1.8 1.5 1.8-.4 1.7-.5 1.8 1.1 1.7-.7 1.8 1 1.8 2 1.7-1.7 1.8-.5 1.7 .8 1.8 3.9 1.8-1.2 1.7-.9 1.8 .6 1.7-3.3 1.8-.2 1.8 .6 1.7-2 1.8 3.2 1.8-1.6 1.7 2.3 1.8-.6 1.7-.2 1.8 2.5 1.8 1.2 1.7 .8 1.8-.4 1.7 1.3 1.8-4.2 1.8-.9 1.7 .8 1.8-.4 1.7 2 1.8-.1 1.8 .2 1.7-.8 1.8-.1 1.8 3.3 1.7 2.8 1.8-3.2 1.7-1.5 1.8 .9 1.8-2.7 1.7 .2 1.8 .6 1.7-.5 1.8 3.2 1.8-.2 1.7-2.3 1.8 1.5 1.7-3.1 0 17.9-1.7-1-1.8 2.2-1.7 2.9-1.8-.6-1.8-2.2-1.7-.8-1.8 3.2-1.7 1-1.8 2.3-1.8-1.2-1.7-3.3-1.8 1-1.7-2-1.8-.5-1.8 1.2-1.7 .6-1.8-.5-1.8-1.5-1.7-1.4-1.8-1.4-1.7-.8-1.8 3.2-1.8 .4-1.7-.9-1.8 1.6-1.7-2.6-1.8 .8-1.8-.1-1.7-.4-1.8 1.2-1.7-3-1.8 3.7-1.8-3-1.7-3.4-1.8 1.3-1.8 .8-1.7 .4-1.8-1.7-1.7 .8-1.8 2.4-1.8 .2-1.7-2.5-1.8 1.6-1.7 3.6-1.8-3.1-1.8 .6-1.7-1.3-1.8-2.7-1.7 .4-1.8 1.8-1.8-2.3-1.7 1.7-1.8 2.9-1.8-.3-1.7 1.8-1.8-.2-1.7-2.3-1.8 0-1.8 0-1.7-.2-1.8 0-1.7 1.3-1.8-2.8-1.8-.8-1.7-2.4-1.8-2.4-1.7-1.7-1.8 0-1.8-.7-1.7 .6-1.8-.5-1.8 .6-1.7 1.5-1.8-2.3-1.7 .7-1.8 1.2-1.8-.1-1.7-1.8-1.8 1.6-1.7-.5-1.8 .8-1.8-3.2-1.7 3.4-1.8-2.6-1.7 .2-1.8 1.1-1.8-4.4-1.7-3.4-1.8 3-1.8 .7-1.7-.5-1.8 .5-1.7 .3-1.8-5.9-1.8-2.5-1.7 2.7-1.8 2.6-1.7 .9-1.8 .5-1.8 1.2-1.7-5.8-1.8-2.4-1.8 .7-1.7 1.2-1.8-2.5-1.7-2.4-1.8 1.2-1.8-.3-1.7 .4-1.8-.5-1.7 .9-1.8 2.8-1.8-1.2-1.7-.8-1.8-3.5-1.7 .6-1.8 .2-1.8-2.5-1.7-3.4-1.8-2.5-1.8-2.6-1.7-1.1-1.8 4-1.7 3.3-1.8-.2-1.8-2.9-1.7-3.5-1.8-1.2-1.7 .3-1.8-1.7-1.8-2.2-1.7 .4-1.8-3.4-1.7-2.5-1.8-1.8-1.8-4.9-1.7 2-1.8-1.9-1.8-1.1-1.7-.9-1.8 0-1.7-2.2-1.8-.7-1.8-2.9-1.7-.2-1.8 .3-1.7 1.4z" fill="#4655b5" fill-opacity=".3"/>
<path d="M986.4 1264.8H1414.6" stroke="#000" stroke-width="4" stroke-dasharray="0 11.42" stroke-linecap="round" fill="none"/>
<path d="M1110.9 1120.2h0M1110.9 1131.6h0M1110.9 1143h0M1110.9 1154.4h0M1110.9 1165.8h0M1110.9 1177.3h0M1110.9 1188.7h0M1110.9 1200.1h0M1110.9 1211.5h0M1110.9 1222.9h0M1110.9 1234.4h0M1110.9 1245.8h0M1110.9 1257.2h0M1110.9 1268.6h0M1110.9 1280h0M1110.9 1291.5h0M1110.9 1302.9h0M1110.9 1314.3h0M1110.9 1325.7h0M1110.9 1337.1h0" stroke="#000" stroke-width="4" stroke-linecap="round" fill="none"/>
<path d="M975.3 1229.2l1.7 0 1.8 .4 1.8-1.9 1.7-3.2 1.8-.8 1.8 2.3 1.7 3.4 1.8 1.9 1.8 .8 1.7-2.4 1.8-2.2 1.7 3.6 1.8 1.9 1.8 1.4 1.7 1.4 1.8-.5 1.8-1.4 1.7-.6 1.8-2 1.8-2.8 1.7-2.1 1.8-.1 1.7 .9 1.8 .2 1.8-.3 1.7-.3 1.8 .1 1.8-.7 1.7-.2 1.8 0 1.7 3.7 1.8 4 1.8 2.5 1.7 .3 1.8 1 1.8-.3 1.7 2.5 1.8 4.1 1.8 2.6 1.7 2.3 1.8-.7 1.7-2.2 1.8-1 1.8-1.4 1.7-.4 1.8-.7 1.8-2.6 1.7-3 1.8-1.7 1.8-.1 1.7 .8 1.8 2.8 1.7 2.8 1.8 1 1.8 1.4 1.7 3.3 1.8-3 1.8-2.4 1.7-.4 1.8-2.7 1.7-4.9 1.8-2.1 1.8-2.7 1.7 2 1.8 1.3 1.8 1.4 1.7 1.9 1.8 0 1.8 .6 1.7 1.9 1.8 1.4 1.7 1.1 1.8 1.3 1.8 1.3 1.7 .7 1.8-2.2 1.8-2.8 1.7 1.7 1.8 1.2 1.8 1.8 1.7 1.9 1.8-1.1 1.7-2.3 1.8-1 1.8-1.9 1.7-1.1 1.8-4 1.8-4.3 1.7-1.3 1.8-.8 1.7-1.8 1.8-.7 1.8-1.9 1.7 1.5 1.8 2.1" fill="none" stroke="#e8351a" stroke-width="4.2" stroke-linejoin="round"/>
<path d="M1152.8 1244.2l1.7 2.3 1.8 3.2 1.7-.3 1.8 .9 1.8 2 1.7-2 1.8-.7 1.7 1.7 1.8 1.7 1.8 4.1 1.7 1.5 1.8 2.4 1.8 2.5 1.7 .1 1.8-.8 1.7 2.4 1.8 2.5 1.8 .8 1.7 0 1.8 1.7 1.7 2.3 1.8 .4 1.8 2.3 1.7 1.8 1.8-.6 1.7-2.5 1.8-.2 1.8 3.7 1.7 1.9 1.8 1.2 1.8 5.6 1.7-.7 1.8 2.8 1.7 5.3 1.8-.6 1.8 3.1 1.7 2.9 1.8 4.2 1.7 3.8 1.8 1.5 1.8 2 1.7 3.8 1.8 3.8 1.7-.4 1.8 1.8 1.8 1.3 1.7-.6 1.8 .8 1.8 2.2 1.7 1.1 1.8 .8 1.7-.1 1.8-.6 1.8 2.2 1.7-2 1.8-2.7 1.7 2 1.8-1.6 1.8-2.7 1.7 .1 1.8-.6 1.8-1.5 1.7 1.1 1.8 .9 1.7 1.3 1.8 3 1.8 5.5 1.7 .5 1.8 2.2 1.7 2 1.8 1 1.8 1.8 1.7-.2 1.8-2.6 1.7 .6 1.8-2.5 1.8-1.1 1.7 1 1.8-.6 1.8-1.3 1.7-.4 1.8 1.4 1.7 2.4 1.8-3.6 1.8 .1 1.7-1 1.8 .5 1.7-2.5 1.8-.6 1.8-.8 1.7-2.4 1.8-.3 1.7 .7 1.8-.3 1.8-1 1.7 1.1 1.8-2.3 1.8-2.3 1.7-1.8 1.8-.7 1.7 .6 1.8-1.7 1.8-1.8 1.7-2.5 1.8-3.2 1.7-2.3 1.8-.9 1.8-2.6 1.7 0 1.8-.3 1.7 1.7 1.8-.1 1.8 2 1.7 1.5 1.8-.2 1.8-.7 1.7 1.1 1.8-.3 1.7 1.4 1.8 .6 1.8 2.2 1.7-3 1.8-2.1 1.7-3 1.8-1.1 1.8-4.5 1.7-2.2 1.8-.7 1.7-1 1.8-2.3 1.8-1.7 1.7-.2 1.8-3 1.8-1.9 1.7 2.1 1.8 1.3 1.7-1.2 1.8-2.1 1.8-1.3 1.7-3.8 1.8-1.6 1.7-2.9 1.8 2.1 1.8 4.6 1.7 3.5 1.8 2.4 1.7 2.3" fill="none" stroke="#e8351a" stroke-width="4.2" stroke-linejoin="round"/>
<path d="M975.3 1231.7l1.7-3.3 1.8 1.2 1.8-1.7 1.7-.3 1.8 1 1.8-.6 1.7 .7 1.8-1.5 1.8-.9 1.7-1.7 1.8 .7 1.7-.1 1.8-.5 1.8-1.9 1.7-.2 1.8-1.8 1.8-.6 1.7-.8 1.8 .7 1.8 1.6 1.7 .6 1.8-1.1 1.7 .4 1.8 3.5 1.8-1.5 1.7 .3 1.8 1.6 1.8 .1 1.7-2.8 1.8-.2 1.7 1.9 1.8 1.8 1.8-1.9 1.7-.6 1.8 2 1.8-.4 1.7-2.2 1.8-1.1 1.8 0 1.7-1.2 1.8-.5 1.7-.4 1.8 1.4 1.8-1.7 1.7-4 1.8 3.3 1.8 1.1 1.7-1.5 1.8 2.1 1.8 .3 1.7 .1 1.8 0 1.7 2.6 1.8-.4 1.8 2.7 1.7 .9 1.8 .1 1.8 1.1 1.7 .8 1.8 1.7 1.7-1.5 1.8 1.5 1.8 .5 1.7 .8 1.8-.3 1.8-3.1 1.7-.3 1.8-2.3 1.8 1 1.7 4 1.8 1.3 1.7-3.9 1.8 2.4 1.8 2.3 1.7-.2 1.8 .3 1.8-1.6 1.7 .9 1.8-.9 1.8-.6 1.7 .1 1.8 .2 1.7-1.4 1.8-1.3 1.8 .8 1.7 0 1.8-1.4 1.8 .7 1.7-1.5 1.8 .3 1.7 1.6 1.8 .9 1.8 .6 1.7-2.6 1.8-2.6" fill="none" stroke="#4655b5" stroke-width="4.2" stroke-linejoin="round"/>
<path d="M1152.8 1230.1l1.7-.7 1.8 .4 1.7-1 1.8 1.3 1.8-.1 1.7 2 1.8 1.1 1.7 1.3 1.8 1.9 1.8 2.7 1.7-1.3 1.8 4.8 1.8 1.2 1.7 1.3 1.8 2.1 1.7 2.1 1.8 2.2 1.8 1.3 1.7 2.1 1.8 .7 1.7 1.9 1.8 2.4 1.8 .5 1.7-2 1.8-3.8 1.7 2 1.8 2 1.8 2.2 1.7 4.4 1.8 0 1.8-.4 1.7-.2 1.8 1.9 1.7 .1 1.8-.2 1.8-2 1.7 .9 1.8 .9 1.7 .1 1.8 1.9 1.8 .5 1.7 1.7 1.8 2.4 1.7 .3 1.8-2 1.8 .6 1.7 4.3 1.8-1.6 1.8-.9 1.7-.3 1.8-1.9 1.7-.6 1.8 2.5 1.8 3.2 1.7-1.2 1.8 .5 1.7 1.3 1.8-.3 1.8-1.6 1.7 3 1.8 2.1 1.8-.3 1.7-1.1 1.8 1.8 1.7-2.5 1.8 2.7 1.8-1.4 1.7 1 1.8 .2 1.7 .5 1.8 .1 1.8-.3 1.7-.7 1.8 2.7 1.7-.6 1.8-.6 1.8-.6 1.7 .1 1.8 1.2 1.8 .5 1.7 2.4 1.8 .2 1.7 1.4 1.8-1.1 1.8 1.6 1.7 0 1.8 1.4 1.7 .6 1.8-.2 1.8 .2 1.7 .6 1.8 0 1.7-.1 1.8 .9 1.8-1.5 1.7-2.5 1.8 1.5 1.8-.3 1.7-.5 1.8 1.1 1.7 .7 1.8 .3 1.8 3 1.7-3 1.8-1.4 1.7 1.7 1.8 1.2 1.8-1.9 1.7-.5 1.8 1.6 1.7-1.7 1.8-.4 1.8-.1 1.7 .9 1.8 2.4 1.8-2.9 1.7 2 1.8-.9 1.7 .5 1.8 1.5 1.8 .1 1.7 1.4 1.8-.3 1.7 1.6 1.8-1.7 1.8-1.4 1.7-.5 1.8-.8 1.7 1.7 1.8 1.1 1.8 .7 1.7-.5 1.8 0 1.8 1.2 1.7 1.5 1.8-1 1.7 1 1.8 .4 1.8-2.2 1.7-.3 1.8-.3 1.7 .8 1.8 1.3 1.8 .2 1.7-2.5 1.8-1.4 1.7-1.1" fill="none" stroke="#4655b5" stroke-width="4.2" stroke-linejoin="round"/>
<rect x="1114.4" y="1119.3" width="71.2" height="8.2" fill="#000"/>
<path d="M975.3 1117.5V1410.1H1413.4" stroke="#000" stroke-width="3.8" fill="none" stroke-linejoin="miter"/>
<path d="M962.8 1119.3H975.3" stroke="#000" stroke-width="3.8"/>
<text x="958.7" y="1126.9" font-size="21.3" font-weight="bold" text-anchor="end">2</text>
<path d="M962.8 1191.9H975.3" stroke="#000" stroke-width="3.8"/>
<text x="958.7" y="1199.5" font-size="21.3" font-weight="bold" text-anchor="end">1</text>
<path d="M962.8 1264.8H975.3" stroke="#000" stroke-width="3.8"/>
<text x="958.7" y="1272.4" font-size="21.3" font-weight="bold" text-anchor="end">0</text>
<path d="M962.8 1337.5H975.3" stroke="#000" stroke-width="3.8"/>
<text x="958.7" y="1345.1" font-size="21.3" font-weight="bold" text-anchor="end">-1</text>
<path d="M962.8 1410.1H975.3" stroke="#000" stroke-width="3.8"/>
<text x="958.7" y="1417.7" font-size="21.3" font-weight="bold" text-anchor="end">-2</text>
<path d="M975.6 1410.1V1423.6" stroke="#000" stroke-width="3.8"/>
<text x="973.1" y="1447.8" font-size="21.3" font-weight="bold" text-anchor="middle">-6</text>
<path d="M1020.7 1410.1V1423.6" stroke="#000" stroke-width="3.8"/>
<text x="1018.2" y="1447.8" font-size="21.3" font-weight="bold" text-anchor="middle">-4</text>
<path d="M1065.8 1410.1V1423.6" stroke="#000" stroke-width="3.8"/>
<text x="1063.3" y="1447.8" font-size="21.3" font-weight="bold" text-anchor="middle">-2</text>
<path d="M1110.9 1410.1V1423.6" stroke="#000" stroke-width="3.8"/>
<text x="1110.9" y="1447.8" font-size="21.3" font-weight="bold" text-anchor="middle">0</text>
<path d="M1186.1 1410.1V1423.6" stroke="#000" stroke-width="3.8"/>
<text x="1186.1" y="1447.8" font-size="21.3" font-weight="bold" text-anchor="middle">0</text>
<path d="M1231.2 1410.1V1423.6" stroke="#000" stroke-width="3.8"/>
<text x="1231.2" y="1447.8" font-size="21.3" font-weight="bold" text-anchor="middle">2</text>
<path d="M1276.3 1410.1V1423.6" stroke="#000" stroke-width="3.8"/>
<text x="1276.3" y="1447.8" font-size="21.3" font-weight="bold" text-anchor="middle">4</text>
<path d="M1321.4 1410.1V1423.6" stroke="#000" stroke-width="3.8"/>
<text x="1321.4" y="1447.8" font-size="21.3" font-weight="bold" text-anchor="middle">6</text>
<path d="M1366.5 1410.1V1423.6" stroke="#000" stroke-width="3.8"/>
<text x="1366.5" y="1447.8" font-size="21.3" font-weight="bold" text-anchor="middle">8</text>
<path d="M1411.6 1410.1V1423.6" stroke="#000" stroke-width="3.8"/>
<text x="1411.6" y="1447.8" font-size="21.3" font-weight="bold" text-anchor="middle">10</text>
<path d="M998.1 1410.1V1418.1" stroke="#000" stroke-width="3.8"/>
<path d="M1043.2 1410.1V1418.1" stroke="#000" stroke-width="3.8"/>
<path d="M1088.3 1410.1V1418.1" stroke="#000" stroke-width="3.8"/>
<path d="M1133.4 1410.1V1418.1" stroke="#000" stroke-width="3.8"/>
<path d="M1163.6 1410.1V1418.1" stroke="#000" stroke-width="3.8"/>
<path d="M1208.7 1410.1V1418.1" stroke="#000" stroke-width="3.8"/>
<path d="M1253.8 1410.1V1418.1" stroke="#000" stroke-width="3.8"/>
<path d="M1298.9 1410.1V1418.1" stroke="#000" stroke-width="3.8"/>
<path d="M1344 1410.1V1418.1" stroke="#000" stroke-width="3.8"/>
<path d="M1389.1 1410.1V1418.1" stroke="#000" stroke-width="3.8"/>
<text x="1040.3" y="1107.6" font-size="20" font-weight="bold" text-anchor="middle">ITI</text>
<text x="1149.8" y="1107.6" font-size="20" font-weight="bold" text-anchor="middle">Cue</text>
<text x="1240.9" y="1107.6" font-size="20" font-weight="bold" text-anchor="middle">Outcome</text>
<text x="1193.5" y="1476.1" font-size="23.3" font-weight="bold" text-anchor="middle">Time (sec)</text>
<text transform="translate(926.3 1264.8) rotate(-90)" font-size="23.3" font-weight="bold" text-anchor="middle">Z-Score</text>
<text x="1139.3" y="1193.4" font-size="20">Response</text>
<path d="M1186.1 1200.7V1213.8" stroke="#000" stroke-width="3.2" fill="none"/><path d="M1178.5 1209.3L1193.7 1209.3L1186.1 1221.8Z" fill="#000"/>
<text x="1061.7" y="1371.1" font-size="20">Trial onset</text>
<path d="M1110.9 1381.4V1394.8" stroke="#000" stroke-width="3.2" fill="none"/><path d="M1103.3 1390.3L1118.5 1390.3L1110.9 1402.8Z" fill="#000"/>
<text x="1291" y="1382.9" font-size="23.6">n = 71 cells</text>
<path d="M1309.1 1136H1336.4" stroke="#4655b5" stroke-width="4"/>
<text x="1349" y="1142.6" font-size="19">Correct</text>
<path d="M1309.1 1167.9H1336.4" stroke="#e8351a" stroke-width="4"/>
<text x="1349" y="1174.5" font-size="19">Error</text>
<rect x="279.8" y="1615.3" width="110.4" height="290.8" fill="#e6e6e6"/>
<path d="M67.5 1769l1.8-2.5 1.7 3.1 1.8 1 1.7 .7 1.8-1.8 1.7 .4 1.8-2.5 1.8-1.4 1.7 3.5 1.8-2.4 1.7-3.5 1.8 1.2 1.7-3.8 1.8 1.5 1.8-.9 1.7-2.6 1.8-4.2 1.7-2.2 1.8 1.1 1.7-1.4 1.8-1.9 1.8-.5 1.7-1.9 1.8-.6 1.7 .2 1.8 1.3 1.7-.5 1.8-2 1.8-3.2 1.7-.8 1.8 .2 1.7 .2 1.8 1.2 1.7-.8 1.8 2 1.8 .9 1.7-1.5 1.8 1.7 1.7 1.6 1.8 2.4 1.7 1.2 1.8-1.4 1.8-.1 1.7-.4 1.8 1.2 1.7-.5 1.8 4.6 1.7-2.5 1.8-3 1.8 .3 1.7 1.7 1.8 .4 1.7-1.7 1.8 2.9 1.7-1 1.8-3.5 1.8-.9 1.7-.9 1.8 1.3 1.7-.6 1.8-1.1 1.7 .5 1.8-3.6 1.8 1.4 1.7 2.2 1.8-2.9 1.7-.7 1.8 2 1.7-3.6 1.8-1.7 1.8 1.6 1.7 .3 1.8 5.3 1.7-1.3 1.8-2.2 1.7 2.3 1.8 0 1.8-2 1.7 .6 1.8-1.2 1.7-1.6 1.8 2.8 1.7-2.3 1.8 0 1.8-.7 1.7-1.5 1.8 .8 1.7-2.5 1.8-.6 1.7-.2 1.8 .5 1.8-1.9 1.7-.9 1.8-1.9 1.7-1.3 0 24.3-1.7-1.1-1.8-1.5-1.7 1.6-1.8 5.6-1.8-2.7-1.7-.8-1.8-.1-1.7 2.2-1.8 4.8-1.7 5.2-1.8 2.2-1.8-1.4-1.7-1.8-1.8-1.4-1.7-1.1-1.8 .3-1.7 2.9-1.8 0-1.8 .9-1.7-.2-1.8-2.2-1.7-.2-1.8-6.6-1.7 1.4-1.8 2.5-1.8 1.2-1.7 3.3-1.8-3.7-1.7 1-1.8 .2-1.7-.7-1.8 1.8-1.8-2.6-1.7 .8-1.8-2.1-1.7 .3-1.8 3.2-1.7-1.7-1.8 .9-1.8 3-1.7 2.9-1.8-1.7-1.7 1-1.8 1.1-1.7-1.1-1.8 .6-1.8 2.5-1.7 1.9-1.8-5.4-1.7 .2-1.8-1.4-1.7 .1-1.8 1.4-1.8 1.6-1.7 .1-1.8-4.9-1.7-5.5-1.8 1.1-1.7 1.4-1.8-.8-1.8-1.1-1.7-.9-1.8 2.9-1.7 1-1.8-.5-1.7 1.1-1.8 4.5-1.8 .6-1.7-1.5-1.8-1.1-1.7 .1-1.8 1.3-1.7-2.5-1.8-1.4-1.8 2-1.7 4.1-1.8 3.1-1.7-.5-1.8 3.7-1.7 .3-1.8 2.9-1.8 2.6-1.7 1-1.8 1.3-1.7 2.3-1.8 .7-1.7-2.1-1.8-2.3-1.8 2-1.7-.9-1.8 1.4-1.7 2.6-1.8-1.8-1.7 0-1.8 0z" fill="#4655b5" fill-opacity=".3"/>
<path d="M245 1698.3l1.7-.1 1.8-3.4 1.7-4.9 1.8-1 1.7 2 1.8-3.2 1.7-4.5 1.8-4.3 1.8-3.3 1.7-2.5 1.8-5 1.7-3.6 1.8-.2 1.7-2.2 1.8 .5 1.7 .3 1.8 1.3 1.7 4.7 1.8 1.4 1.7 2.2 1.8 .8 1.7-.3 1.8 1.7 1.8-1.1 1.7 .1 1.8-1 1.7-4.7 1.8 2.2 1.7 2.5 1.8-2.5 1.7-2 1.8-3.3 1.7 1.7 1.8-.6 1.7 4.6 1.8 1.3 1.7 3.2 1.8 1.2 1.7 1.1 1.8 3.3 1.8 5.7 1.7 4.5 1.8 7.2 1.7 7.3 1.8 4.9 1.7 4.5 1.8 6 1.7 6.1 1.8 5.1 1.7 2.9 1.8 1 1.7 3 1.8 3.8 1.7 3.4 1.8 2.8 1.8 5.4 1.7 4.1 1.8 .5 1.7 3.1 1.8 3.6 1.7 3.4 1.8 4.1 1.7 .3 1.8 3.5 1.7 .2 1.8 .8 1.7 3.6 1.8 1.6 1.7 1.9 1.8 1.8 1.8-.4 1.7 1.6 1.8 .4 1.7 1.5 1.8-.4 1.7-1.7 1.8 4.6 1.7 1.1 1.8-1.2 1.7-1.5 1.8 1.4 1.7 4.2 1.8 3.9 1.7 1.7 1.8-1.7 1.7-2 1.8 2 1.8-.4 1.7 2.8 1.8-.6 1.7-1.2 1.8 .4 1.7 .1 1.8-1.1 1.7 .9 1.8 .8 1.7 1.1 1.8 2 1.7 1.6 1.8 3.1 1.7 1.5 1.8-2.9 1.8 .5 1.7-2.2 1.8 .4 1.7 2 1.8 3.2 1.7 1 1.8-1.1 1.7-.8 1.8 1.3 1.7-.6 1.8-.5 1.7 1 1.8-.1 1.7 1.7 1.8-1.9 1.8-.5 1.7 2 1.8 2.5 1.7-1.8 1.8 .7 1.7 .1 1.8 1.9 1.7 2.1 1.8-1.6 1.7 2.2 1.8 2.5 1.7-3.5 1.8 1.2 1.7-.4 1.8-3.1 1.7-1.8 1.8 .5 1.8-1 1.7 .1 1.8 1.2 1.7 4.2 1.8 .4 1.7-2.6 1.8 .8 1.7 .8 1.8 3.4 1.7-2 1.8-2.9 1.7 .7 1.8 1.1 1.7-.8 0 25.7-1.7-1.7-1.8-2.5-1.7 2.5-1.8 4.1-1.7-1.8-1.8-4-1.7-.4-1.8-1.7-1.7 2.1-1.8 2.4-1.7-1.2-1.8-.4-1.7-1.3-1.8 1.3-1.8 1.4-1.7-.5-1.8-1.4-1.7-1.2-1.8-2.7-1.7 2.7-1.8 2.6-1.7 0-1.8 2.7-1.7 1.4-1.8-3.8-1.7 .2-1.8-.8-1.7-1.8-1.8-3.3-1.7-1.2-1.8 .3-1.8 1.9-1.7-1.4-1.8-.5-1.7 .1-1.8 .8-1.7-2.4-1.8-1.5-1.7 1.1-1.8-1.1-1.7-.4-1.8-1.3-1.7 .5-1.8-3.8-1.7-.1-1.8 0-1.8-.9-1.7 1.3-1.8-2.4-1.7-.1-1.8 1.2-1.7-1.6-1.8 3.4-1.7-2.8-1.8-2.6-1.7-.5-1.8-.4-1.7-.7-1.8 2.2-1.7-.2-1.8 .4-1.8-2-1.7-2.6-1.8-2.3-1.7 4.3-1.8-.1-1.7-2-1.8-.9-1.7-.9-1.8 .6-1.7-.5-1.8-3.8-1.7 .4-1.8 .7-1.7-.5-1.8-.4-1.7-3.5-1.8-2.6-1.8 0-1.7-.1-1.8-3.1-1.7-2.5-1.8-5.9-1.7-2.6-1.8-1.2-1.7-2.9-1.8-2.8-1.7-.5-1.8-1.9-1.7-1.2-1.8-4.4-1.7-4.7-1.8-1.7-1.8-1.1-1.7-3.1-1.8-6.4-1.7-5.8-1.8-1.9-1.7-4.2-1.8-3-1.7-2.9-1.8-5.4-1.7-3.7-1.8-3.1-1.7-4.7-1.8-4.1-1.7-2.7-1.8-7.6-1.8-7.3-1.7-2.9-1.8-2.9-1.7-3.3-1.8-1.8-1.7-2.5-1.8 3-1.7-5.2-1.8-.3-1.7 .9-1.8 .4-1.7 .2-1.8-2.4-1.7 .2-1.8 2.3-1.7 1.9-1.8-.6-1.8 1.2-1.7 2.9-1.8-2.8-1.7 .7-1.8-3.5-1.7-4.4-1.8-.5-1.7-.4-1.8 1.2-1.7 2.5-1.8 1.7-1.7 4.2-1.8 3-1.7 1.5-1.8 1.1-1.8 1.7-1.7 6.8-1.8 3.3-1.7-.3-1.8 1.9-1.7 1.1-1.8-1.7-1.7 2z" fill="#4655b5" fill-opacity=".3"/>
<path d="M67.5 1758.2l1.8 2.8 1.7 1.8 1.8-.4 1.7 5.2 1.8 3.5 1.7 2.2 1.8 .8 1.8-2 1.7-1.4 1.8-.3 1.7 2.3 1.8-2.2 1.7 .5 1.8 1.5 1.8-4.4 1.7 2.6 1.8 2 1.7 .4 1.8 .6 1.7-2.7 1.8-6.2 1.8 .4 1.7-4.4 1.8-7.1 1.7-4.7 1.8-.5 1.7-.9 1.8 2.2 1.8 0 1.7 1.4 1.8-1 1.7-.1 1.8-4 1.7 3.2 1.8 4.1 1.8 2.4 1.7 6.3 1.8-2 1.7-2 1.8-1.6 1.7-.1 1.8 1.8 1.8-.9 1.7-1.2 1.8 2.3 1.7-.3 1.8-.2 1.7 2.2 1.8-1 1.8 .2 1.7-.7 1.8 .3 1.7 .2 1.8 3.8 1.7 8.2 1.8 2.1 1.8-.7 1.7 1.1 1.8-.9 1.7 1.8 1.8 1.2 1.7-.9 1.8 .5 1.8 .7 1.7-1.2 1.8-.4 1.7 3.9 1.8-.4 1.7-.1 1.8 .6 1.8 1.4 1.7 1.2 1.8 2.4 1.7 2.2 1.8-3.7 1.7 2.9 1.8 2.1 1.8 .1 1.7 .1 1.8 3.7 1.7 4.6 1.8 4.6 1.7 5.5 1.8 3 1.8 .9 1.7 1.9 1.8 .1 1.7 1.1 1.8-.4 1.7 0 1.8-2.3 1.8-2.9 1.7-7 1.8-2.3 1.7-.2 0 30-1.7 2.2-1.8-1.9-1.7 0-1.8 1.1-1.8 4.5-1.7 .3-1.8 2.7-1.7-.7-1.8-3-1.7-.8-1.8-3.1-1.8-3.1-1.7 2.5-1.8-1.7-1.7-1.8-1.8-3.8-1.7-4.4-1.8-.1-1.8-2.1-1.7-5-1.8-.3-1.7-2.5-1.8 1.2-1.7-.9-1.8-1.5-1.8 2.1-1.7-1.3-1.8-.4-1.7 .5-1.8-3-1.7-4.4-1.8-1.8-1.8-2.5-1.7 2.8-1.8 4-1.7 .3-1.8 .4-1.7-1.8-1.8-1.2-1.8-4.4-1.7-6.9-1.8-4.5-1.7-.9-1.8 2.6-1.7-1.8-1.8 .4-1.8-2.1-1.7-.8-1.8 2.4-1.7 .6-1.8-.4-1.7-1.3-1.8 2.7-1.8-2.2-1.7 2.6-1.8 2.4-1.7-2.2-1.8 3-1.7-3.8-1.8-6-1.8-1.6-1.7-1.2-1.8 2.4-1.7-4.4-1.8-3.3-1.7-1.8-1.8 .2-1.8 7.8-1.7 4.5-1.8 1.2-1.7 6.3-1.8 2.8-1.7 .5-1.8-.9-1.8 3.1-1.7 2.2-1.8-.4-1.7-2.2-1.8 2.1-1.7 .6-1.8 .3-1.8 2.8-1.7-1.4-1.8 .5-1.7 .9-1.8-2.8-1.7 2-1.8 1.5-1.8 .3-1.7-5.9-1.8 .5-1.7-2-1.8-3.7-1.7-1-1.8-6.7z" fill="#f5895e" fill-opacity=".45"/>
<path d="M245 1691.4l1.7 2.2 1.8-5.4 1.7-3.9 1.8 .1 1.7-2.3 1.8-3 1.7-4.2 1.8-4.9 1.8-3.3 1.7-6.5 1.8-2.9 1.7-2 1.8-1.6 1.7 3.7 1.8 1.4 1.7 .7 1.8-3.6 1.7 .1 1.8 .5 1.7-1.8 1.8 .3 1.7-2.1 1.8-1.9 1.8 0 1.7-.1 1.8-.1 1.7-.2 1.8 .9 1.7 0 1.8-4.6 1.7-2.4 1.8-1.6 1.7-2.3 1.8-4.7 1.7-.6 1.8-.9 1.7 2.8 1.8 2.5 1.7 3.9 1.8 6.6 1.8 5.4 1.7 5.7 1.8 7 1.7 3.4 1.8 2.9 1.7 6.4 1.8 6.7 1.7 7.7 1.8-.6 1.7 2.1 1.8-1.7 1.7 1.8 1.8 0 1.7 4.2 1.8 6.3 1.8 .9 1.7 6.7 1.8 3.3 1.7-2.5 1.8-.5 1.7-1.1 1.8-3.3 1.7-2.5 1.8 3.1 1.7 5.6 1.8 3.5 1.7 2 1.8-.1 1.7 1.4 1.8 5.8 1.8 2.7 1.7 1.4 1.8 3.5 1.7-.9 1.8 3.8 1.7 1.8 1.8-.5 1.7 2.9 1.8-.9 1.7 0 1.8 2.4 1.7-2.4 1.8-2.4 1.7-.2 1.8 0 1.7 1.4 1.8 .3 1.8 2.9 1.7 1.6 1.8-1.9 1.7 8.3 1.8 4.3 1.7 1.1 1.8 2.5 1.7-.4 1.8-1.4 1.7 2.6 1.8-.5 1.7 2.4 1.8 1 1.7 2.1 1.8 1.5 1.8-3.2 1.7-4.2 1.8-2.2 1.7-2.4 1.8 3.1 1.7 4.1 1.8 4 1.7 2 1.8 4.2 1.7 1 1.8-1.6 1.7 1.1 1.8-1.3 1.7-1.1 1.8 6.2 1.8-.1 1.7-1 1.8-1.4 1.7-.4 1.8 1.9 1.7 .8 1.8 3 1.7 5.4 1.8 3.4 1.7-1.1 1.8-.8 1.7-.9 1.8 1.8 1.7-4.4 1.8-1.2 1.7 1 1.8 1.7 1.8 3.5 1.7 1.1 1.8 4.3 1.7-3.8 1.8-6.7 1.7-1.9 1.8-2 1.7-3 1.8 3.3 1.7-2 1.8-1.1 1.7 1.8 1.8-.2 1.7-.7 0 30.3-1.7 2.2-1.8-.4-1.7 3.1-1.8-3.4-1.7-4.4-1.8 1.1-1.7 1.3-1.8 1.5-1.7 6.7-1.8-1-1.7-1.4-1.8-3.1-1.7-1.4-1.8 1.9-1.8 .7-1.7-.8-1.8 3.1-1.7 .8-1.8-.1-1.7 1.8-1.8 .8-1.7-.1-1.8-4.9-1.7-2.7-1.8-4.1-1.7-.7-1.8-3.2-1.7-4.9-1.8 1.4-1.7 1.8-1.8-1.8-1.8 2.6-1.7 .5-1.8-3.6-1.7 3.2-1.8 .3-1.7-1.6-1.8-4.4-1.7-3.1-1.8-1.6-1.7-1.8-1.8-.8-1.7-.3-1.8-1.7-1.7 .5-1.8-2.2-1.8 3.4-1.7 1.1-1.8-2.1-1.7 2.7-1.8 3.3-1.7 .5-1.8 1.4-1.7-4-1.8-3.7-1.7-1.9-1.8-2.4-1.7-5.9-1.8-.8-1.7 1.6-1.8-5.5-1.8-5-1.7-1.2-1.8 1.1-1.7 4.2-1.8 1.9-1.7 3.8-1.8 .2-1.7-2.4-1.8-.2-1.7-3.1-1.8-3.2-1.7 0-1.8-1.9-1.7-5.7-1.8-1.7-1.7-2.5-1.8-3.2-1.8-1.3-1.7-1.2-1.8 0-1.7-5.2-1.8-1.2-1.7-6.4-1.8-4.3-1.7 3.6-1.8 8.1-1.7 .2-1.8 1.6-1.7 .7-1.8-6.3-1.7 .6-1.8-4-1.8-4.6-1.7-6.5-1.8 .1-1.7 3.1-1.8-.5-1.7-4.3-1.8-2-1.7-9-1.8-6.6-1.7-2.2-1.8-7-1.7-7.3-1.8-3.4-1.7-9.4-1.8-6.2-1.8-2-1.7-5.4-1.8-4-1.7-1.9-1.8-3.2-1.7-.3-1.8 5.4-1.7 3.4-1.8 5.3-1.7 1.4-1.8 6.1-1.7 3.1-1.8-1-1.7 3.4-1.8 0-1.7-1.2-1.8 .3-1.8-1.2-1.7 2.8-1.8 1.8-1.7 1.6-1.8-1.8-1.7-3.3-1.8 .3-1.7-1.2-1.8 1.4-1.7-2.8-1.8 1.2-1.7 4-1.8 .1-1.7 3.2-1.8 3.2-1.8 5.6-1.7 8.1-1.8 7.9-1.7 2.1-1.8 1.5-1.7 4-1.8 4-1.7-2.2z" fill="#f5895e" fill-opacity=".45"/>
<path d="M79.2 1760.8H507.4" stroke="#000" stroke-width="4" stroke-dasharray="0 11.42" stroke-linecap="round" fill="none"/>
<path d="M203.7 1616.2h0M203.7 1627.6h0M203.7 1639h0M203.7 1650.4h0M203.7 1661.8h0M203.7 1673.3h0M203.7 1684.7h0M203.7 1696.1h0M203.7 1707.5h0M203.7 1718.9h0M203.7 1730.4h0M203.7 1741.8h0M203.7 1753.2h0M203.7 1764.6h0M203.7 1776h0M203.7 1787.5h0M203.7 1798.9h0M203.7 1810.3h0M203.7 1821.7h0" stroke="#000" stroke-width="4" stroke-linecap="round" fill="none"/>
<path d="M67.5 1780.4l1.8-1.1 1.7 .7 1.8 1.1 1.7-.7 1.8-1.6 1.7 .5 1.8-2.1 1.8 .8 1.7 1.6 1.8-1.3 1.7-1.6 1.8-.2 1.7-3.4 1.8-1.6 1.8-.9 1.7-1.8 1.8-4.5 1.7 .1 1.8-.8 1.7-2.1 1.8-.9 1.8-.9 1.7-.6 1.8-1.2 1.7-.3 1.8 3.1 1.7 .7 1.8-2.9 1.8-3.5 1.7-1.1 1.8-.2 1.7-.1 1.8-.3 1.7 .3 1.8 .6 1.8 .8 1.7-.3 1.8 .1 1.7 2.7 1.8 3.8 1.7 1.3 1.8-1.1 1.8-1.3 1.7-.7 1.8 2.4 1.7 0 1.8 3.6 1.7-2 1.8-2 1.8-.7 1.7 .9 1.8-.9 1.7-.4 1.8 1.5 1.7-2.4 1.8-1.2 1.8-2 1.7-.1 1.8 .2 1.7-.9 1.8 .1 1.7 .3 1.8-.7 1.8-.2 1.7 1.5 1.8-1.5 1.7-.8 1.8 2.3 1.7-2.9 1.8-2.3 1.8-.2 1.7 .6 1.8 5.6 1.7-.1 1.8-.2 1.7 .8 1.8-.2 1.8-.7 1.7-1.9 1.8-1.2 1.7 .6 1.8 1.5 1.7 .4 1.8 .7 1.8-3 1.7-2.3 1.8-1.8 1.7-3.6 1.8-.4 1.7 .3 1.8 1.2 1.8-2.1 1.7 .1 1.8-.9 1.7-.3" fill="none" stroke="#4655b5" stroke-width="4.2" stroke-linejoin="round"/>
<path d="M245 1708.4l1.7-1.5 1.8-2.1 1.7-2.9 1.8 .1 1.7 1 1.8-4.4 1.7-5.6 1.8-3 1.8-.9 1.7-2 1.8-4.3 1.7-4 1.8-1 1.7-1.6 1.8-1.3 1.7-.4 1.8 .8 1.7 4.8 1.8 2.8 1.7 1.2 1.8 1.1 1.7-1.8 1.8 .4 1.8-.4 1.7-1.1 1.8-1.8 1.7-1.8 1.8 3.4 1.7 .9 1.8-2.7 1.7-1.2 1.8-.7 1.7 3.7 1.8-2.6 1.7 3.4 1.8 2.2 1.7 2.5 1.8 1.6 1.7 2.4 1.8 4.8 1.8 6.9 1.7 4.3 1.8 4.6 1.7 7 1.8 4.8 1.7 2.7 1.8 5.1 1.7 5.1 1.8 4.6 1.7 3.7 1.8 1.3 1.7 3.9 1.8 6.1 1.7 3.2 1.8 .8 1.8 3.4 1.7 5.2 1.8 2.1 1.7 2.7 1.8 3.4 1.7 .9 1.8 2.2 1.7 1.9 1.8 3.3 1.7 1 1.8 3.9 1.7 2.4 1.8 1.9 1.7 1.8 1.8 1.2 1.8 .5 1.7 2.6 1.8 .5 1.7 1.3 1.8-.4 1.7-1 1.8 4.1 1.7 0 1.8-.6 1.7-.1 1.8 .9 1.7 3.5 1.8 2 1.7-1.3 1.8-.2 1.7 .9 1.8 1.8 1.8-1.4 1.7 2.7 1.8-1 1.7-.6 1.8-.4 1.7 .8 1.8 1.4 1.7 1.3 1.8-.6 1.7 1.8 1.8 .2 1.7-.4 1.8 1.7 1.7 .8 1.8-.6 1.8 1.1 1.7-.6 1.8 2.2 1.7 .1 1.8 1.2 1.7 0 1.8-.1 1.7 .8 1.8 2.1 1.7 0 1.8-.4 1.7 .8 1.8-.4 1.7 1.4 1.8-1.9 1.8-1.2 1.7 1.6 1.8 2.8 1.7 .2 1.8 1.3 1.7 .9 1.8 2.4 1.7-.2 1.8-1.5 1.7 1.1 1.8 .6 1.7-2.8 1.8 1.7 1.7-.3 1.8-.9 1.7-.7 1.8-.6 1.8-.1 1.7 .8 1.8-1.1 1.7 1.3 1.8 .1 1.7-1.9 1.8 1.4 1.7 1.1 1.8 3.5 1.7 .1 1.8-3 1.7-1.5 1.8 .2 1.7 .6" fill="none" stroke="#4655b5" stroke-width="4.2" stroke-linejoin="round"/>
<path d="M67.5 1770.6l1.8 3.7 1.7 1.1 1.8 2.6 1.7 3.4 1.8 .7 1.7 3.6 1.8 .3 1.8-1.2 1.7-.5 1.8 1 1.7-.1 1.8-1.1 1.7 .9 1.8-.7 1.8-1.5 1.7 1.3 1.8-.7 1.7 .8 1.8 .1 1.7-1.6 1.8-4 1.8-.1 1.7-2.7 1.8-5.7 1.7-5.1 1.8-.1 1.7-2.1 1.8-2.7 1.8-1 1.7 1.7 1.8 1 1.7 1.2 1.8-2.5 1.7 2.9 1.8 1.9 1.8 3.8 1.7 4.8 1.8-2.4 1.7 0 1.8-1.3 1.7-1.6 1.8 1.6 1.8-.5 1.7 .4 1.8 .4 1.7-1.3 1.8-1.2 1.7 2.5 1.8 .4 1.8-.2 1.7 .1 1.8-1.6 1.7 2.7 1.8 4.7 1.7 6.4 1.8 2.7 1.8 1.3 1.7 2.1 1.8-1.8 1.7 1.4 1.8-1.7 1.7-3.6 1.8 1.2 1.8 1.2 1.7 2.4 1.8 1.2 1.7 1.7 1.8 .5 1.7 .8 1.8-1 1.8 1.2 1.7 1.7 1.8 .3 1.7 2.3 1.8-1.2 1.7 3.7 1.8 1.8 1.8-.7 1.7 1.4 1.8 4.7 1.7 4.3 1.8 3 1.7 1.2 1.8 3.5 1.8 2.1 1.7 .8 1.8 .9 1.7 1 1.8-.4 1.7 0 1.8-3.6 1.8-1.7 1.7-3.1 1.8-.6 1.7-1.6" fill="none" stroke="#e8351a" stroke-width="4.2" stroke-linejoin="round"/>
<path d="M245 1706.2l1.7 1.2 1.8-3.2 1.7-4 1.8-1.2 1.7 0 1.8-4.7 1.7-7.6 1.8-6.1 1.8-3.2 1.7-5 1.8-2 1.7-1.9 1.8-1.3 1.7 2.7 1.8 .8 1.7 .5 1.8-2.7 1.7 1.6 1.8 1.6 1.7-1.6 1.8-1.6 1.7-2.2 1.8 .1 1.8 .5 1.7 .5 1.8-1.1 1.7-1.7 1.8 1.2 1.7-1.9 1.8-3.7 1.7-1.9 1.8-4.9 1.7-2.7 1.8-5.1 1.7 .1 1.8 2.1 1.7 1.7 1.8 2.6 1.7 5.8 1.8 4.5 1.8 5.8 1.7 7.2 1.8 5.2 1.7 5.5 1.8 3.5 1.7 4.9 1.8 6.9 1.7 8.2 1.8 1 1.7 2.6 1.8-.3 1.7 .9 1.8-.6 1.7 4.9 1.8 5.9 1.8 2.5 1.7 2.6 1.8 3.8 1.7-.6 1.8-.5 1.7-1.7 1.8-6.3 1.7-3.3 1.8 4.2 1.7 5.9 1.8 1.6 1.7 4 1.8 1.3 1.7 2.2 1.8 3.5 1.8 1.4 1.7 1.6 1.8 3.2 1.7 1.7 1.8 2.6 1.7 1.6 1.8 .6 1.7 3.4 1.8 .7 1.7-.1 1.8 .9 1.7-2.3 1.8-2 1.7-2.9 1.8-.6 1.7 2.1 1.8 3.7 1.8 3.2 1.7-1.2 1.8 .5 1.7 7.7 1.8 2.6 1.7 1.4 1.8 3.9 1.7 2.7 1.8-1.7 1.7 .4 1.8-2 1.7 .1 1.8 .7 1.7 .7 1.8-.6 1.8-.3 1.7-2.1 1.8-1.3 1.7-.6 1.8 3.3 1.7 2 1.8 1.8 1.7 2.1 1.8 3.7 1.7 2.6 1.8-.6 1.7-2 1.8 1.6 1.7-1.4 1.8 1.5 1.8 1.8 1.7-.8 1.8-.8 1.7 1.9 1.8 1.7 1.7 .3 1.8 4.5 1.7 4.2 1.8 3.2 1.7-.6 1.8-.8 1.7-.8 1.8 1 1.7-1.5 1.8-1.4 1.7 .1 1.8 0 1.8 .7 1.7 .3 1.8 3.4 1.7-.6 1.8-2.8 1.7-3.7 1.8-2.4 1.7-2.8 1.8 1 1.7 2.1 1.8 2 1.7-1.2 1.8 .1 1.7-.8" fill="none" stroke="#e8351a" stroke-width="4.2" stroke-linejoin="round"/>
<rect x="207.2" y="1615.3" width="71.2" height="8.2" fill="#000"/>
<path d="M68.1 1613.5V1906.1H506.2" stroke="#000" stroke-width="3.8" fill="none" stroke-linejoin="miter"/>
<path d="M55.6 1615.3H68.1" stroke="#000" stroke-width="3.8"/>
<text x="51.5" y="1622.9" font-size="21.3" font-weight="bold" text-anchor="end">2</text>
<path d="M55.6 1687.9H68.1" stroke="#000" stroke-width="3.8"/>
<text x="51.5" y="1695.5" font-size="21.3" font-weight="bold" text-anchor="end">1</text>
<path d="M55.6 1760.8H68.1" stroke="#000" stroke-width="3.8"/>
<text x="51.5" y="1768.4" font-size="21.3" font-weight="bold" text-anchor="end">0</text>
<path d="M55.6 1833.5H68.1" stroke="#000" stroke-width="3.8"/>
<text x="51.5" y="1841.1" font-size="21.3" font-weight="bold" text-anchor="end">-1</text>
<path d="M55.6 1906.1H68.1" stroke="#000" stroke-width="3.8"/>
<text x="51.5" y="1913.7" font-size="21.3" font-weight="bold" text-anchor="end">-2</text>
<path d="M68.4 1906.1V1919.6" stroke="#000" stroke-width="3.8"/>
<text x="65.9" y="1943.8" font-size="21.3" font-weight="bold" text-anchor="middle">-6</text>
<path d="M113.5 1906.1V1919.6" stroke="#000" stroke-width="3.8"/>
<text x="111" y="1943.8" font-size="21.3" font-weight="bold" text-anchor="middle">-4</text>
<path d="M158.6 1906.1V1919.6" stroke="#000" stroke-width="3.8"/>
<text x="156.1" y="1943.8" font-size="21.3" font-weight="bold" text-anchor="middle">-2</text>
<path d="M203.7 1906.1V1919.6" stroke="#000" stroke-width="3.8"/>
<text x="203.7" y="1943.8" font-size="21.3" font-weight="bold" text-anchor="middle">0</text>
<path d="M278.9 1906.1V1919.6" stroke="#000" stroke-width="3.8"/>
<text x="278.9" y="1943.8" font-size="21.3" font-weight="bold" text-anchor="middle">0</text>
<path d="M324 1906.1V1919.6" stroke="#000" stroke-width="3.8"/>
<text x="324" y="1943.8" font-size="21.3" font-weight="bold" text-anchor="middle">2</text>
<path d="M369.1 1906.1V1919.6" stroke="#000" stroke-width="3.8"/>
<text x="369.1" y="1943.8" font-size="21.3" font-weight="bold" text-anchor="middle">4</text>
<path d="M414.2 1906.1V1919.6" stroke="#000" stroke-width="3.8"/>
<text x="414.2" y="1943.8" font-size="21.3" font-weight="bold" text-anchor="middle">6</text>
<path d="M459.3 1906.1V1919.6" stroke="#000" stroke-width="3.8"/>
<text x="459.3" y="1943.8" font-size="21.3" font-weight="bold" text-anchor="middle">8</text>
<path d="M504.4 1906.1V1919.6" stroke="#000" stroke-width="3.8"/>
<text x="504.4" y="1943.8" font-size="21.3" font-weight="bold" text-anchor="middle">10</text>
<path d="M90.9 1906.1V1914.1" stroke="#000" stroke-width="3.8"/>
<path d="M136 1906.1V1914.1" stroke="#000" stroke-width="3.8"/>
<path d="M181.1 1906.1V1914.1" stroke="#000" stroke-width="3.8"/>
<path d="M226.2 1906.1V1914.1" stroke="#000" stroke-width="3.8"/>
<path d="M256.4 1906.1V1914.1" stroke="#000" stroke-width="3.8"/>
<path d="M301.5 1906.1V1914.1" stroke="#000" stroke-width="3.8"/>
<path d="M346.6 1906.1V1914.1" stroke="#000" stroke-width="3.8"/>
<path d="M391.7 1906.1V1914.1" stroke="#000" stroke-width="3.8"/>
<path d="M436.8 1906.1V1914.1" stroke="#000" stroke-width="3.8"/>
<path d="M481.9 1906.1V1914.1" stroke="#000" stroke-width="3.8"/>
<text x="133.1" y="1603.6" font-size="20" font-weight="bold" text-anchor="middle">ITI</text>
<text x="242.6" y="1603.6" font-size="20" font-weight="bold" text-anchor="middle">Cue</text>
<text x="333.7" y="1603.6" font-size="20" font-weight="bold" text-anchor="middle">Outcome</text>
<text x="286.3" y="1972.1" font-size="23.3" font-weight="bold" text-anchor="middle">Time (sec)</text>
<text transform="translate(19.1 1760.8) rotate(-90)" font-size="23.3" font-weight="bold" text-anchor="middle">Z-Score</text>
<text x="230.6" y="1788.1" font-size="20">Response</text>
<path d="M278.9 1794.5V1807.9" stroke="#000" stroke-width="3.2" fill="none"/><path d="M271.3 1803.4L286.5 1803.4L278.9 1815.9Z" fill="#000"/>
<text x="155.4" y="1870.7" font-size="20">Trial onset</text>
<path d="M203.7 1881.2V1894.9" stroke="#000" stroke-width="3.2" fill="none"/><path d="M196.1 1890.4L211.3 1890.4L203.7 1902.9Z" fill="#000"/>
<text x="381.4" y="1883.3" font-size="23.6">n = 22 cells</text>
<path d="M402.8 1627.6H430.1" stroke="#4655b5" stroke-width="4"/>
<text x="442.7" y="1634.2" font-size="19">Correct</text>
<path d="M402.8 1659.2H430.1" stroke="#e8351a" stroke-width="4"/>
<text x="442.7" y="1665.8" font-size="19">Error</text>
<rect x="1187" y="1615.3" width="110.4" height="290.8" fill="#e6e6e6"/>
<path d="M976.2 1739.7l1.7-1.2 1.8-2.6 1.7 .3 1.8 .3 1.7 1 1.8-.6 1.7-1.1 1.8-.4 1.8 3.3 1.7 1 1.8-2 1.7-3.2 1.8 2.1 1.7-.8 1.8-1.8 1.7 .1 1.8 1.6 1.7-.3 1.8 1.4 1.7 .6 1.8 .1 1.8-1 1.7-.6 1.8 0 1.7-3.4 1.8 .9 1.7 1.3 1.8 1.3 1.7 1.4 1.8 1.3 1.7 0 1.8 1.6 1.7 .1 1.8 0 1.8-2.2 1.7 .8 1.8 .5 1.7 .2 1.8 3.6 1.7 2.4 1.8 .8 1.7-4.2 1.8 .5 1.7 1.5 1.8 .1 1.8 2 1.7-1.5 1.8-1.6 1.7 .3 1.8 2.3 1.7 .2 1.8-1.4 1.7-.9 1.8-2.6 1.7 .9 1.8 1.9 1.7 .9 1.8-.2 1.8-.8 1.7-1.3 1.8 1.2 1.7 2.9 1.8 2.1 1.7 2.5 1.8 1.4 1.7 .6 1.8-2.9 1.7 .9 1.8-2.2 1.8 .3 1.7 1.6 1.8-.8 1.7 1.1 1.8 2.5 1.7-.2 1.8-3.3 1.7-.8 1.8 1.4 1.7-1.9 1.8 1.9 1.7-1.6 1.8 1.2 1.8-3 1.7 2.1 1.8 1.2 1.7-.3 1.8-1 1.7 1.4 1.8 2.1 1.7 3 1.8 3.6 1.7 1.1 1.8-2.7 1.7 .9 1.8 4.2 0 16-1.8-4.4-1.7-4-1.8 1.5-1.7-1.8-1.8-2.7-1.7-.6-1.8-.2-1.7-1.9-1.8 1-1.7-1.1-1.8-5-1.7-1-1.8 4.6-1.8-2.6-1.7 .1-1.8-.8-1.7 .6-1.8-2.3-1.7 .6-1.8-.6-1.7 3.5-1.8 2.4-1.7 0-1.8-.5-1.7-1.9-1.8-1-1.8 1.4-1.7 1.7-1.8 3.4-1.7-3.7-1.8-1.8-1.7 .5-1.8-2.4-1.7-1.4-1.8-2.8-1.7-.6-1.8 2-1.8 .4-1.7 .9-1.8-.9-1.7 1-1.8-1.6-1.7-1.5-1.8 1.1-1.7-1.5-1.8 0-1.7 2.1-1.8 1.9-1.7-.7-1.8-1.5-1.8-1.1-1.7-2.5-1.8 .8-1.7 2.2-1.8-2.4-1.7 1.7-1.8-3.1-1.7-1-1.8 1.3-1.7-1.9-1.8-.3-1.8 1.6-1.7-.8-1.8-6.5-1.7 .7-1.8 2-1.7 1.2-1.8 .5-1.7-.6-1.8-.4-1.7-1.4-1.8-1.9-1.7 .8-1.8 1.5-1.8-1.7-1.7-1.7-1.8 2.6-1.7 1.1-1.8-.4-1.7 1.2-1.8 2.3-1.7 .9-1.8-3.6-1.7 .8-1.8 1.5-1.7 1-1.8-3-1.8-1.6-1.7 1.1-1.8 2.3-1.7 3.3-1.8-1.2-1.7-3.2-1.8 2.3-1.7 1.6z" fill="#4655b5" fill-opacity=".3"/>
<path d="M1152.8 1763.5l1.7 .3 1.8-2.6 1.7-2.7 1.8 3.2 1.7-.7 1.8 1.1 1.7 .5 1.8-1.3 1.7 2.9 1.8-1.7 1.7 1.2 1.8 .4 1.8 .5 1.7 .1 1.8 1.2 1.7 .4 1.8 .5 1.7 4.1 1.8 2 1.7 1.7 1.8 2.6 1.7 .8 1.8 .5 1.7-.7 1.8-.2 1.7 1 1.8 1.4 1.7 1.5 1.8 .4 1.8-1.6 1.7-.4 1.8 2.6 1.7 4.5 1.8 3.3 1.7 3.7 1.8 7.6 1.7 5.5 1.8 6.2 1.7 6.7 1.8 5.3 1.7 .9 1.8-1.4 1.7 .1 1.8 .4 1.8 3.2 1.7 .6 1.8-.8 1.7 2.2 1.8 0 1.7 .1 1.8 1 1.7 3.8 1.8 .9 1.7 .8 1.8 1.5 1.7 .1 1.8 1 1.7-.4 1.8-.2 1.8-.3 1.7 3 1.8 2.8 1.7 .1 1.8-1 1.7-1.8 1.8 1.2 1.7-.8 1.8-.8 1.7-.9 1.8-1.5 1.7 1 1.8 2.6 1.7 .3 1.8-2.5 1.7-.4 1.8 1.6 1.8-2 1.7-.4 1.8-.3 1.7-1 1.8-.6 1.7 0 1.8 .3 1.7 1.8 1.8-.4 1.7-.6 1.8-1 1.7 1.7 1.8-2.4 1.7-.7 1.8 2.2 1.8-1.8 1.7-.9 1.8 .3 1.7 .5 1.8-1.9 1.7 .1 1.8 .3 1.7 3.8 1.8-1.6 1.7 .9 1.8-.5 1.7-.1 1.8 1.6 1.7-1.5 1.8-1.6 1.8-.5 1.7-1 1.8-.7 1.7-2.1 1.8 .2 1.7-.7 1.8 .1 1.7 .3 1.8 .7 1.7 3.3 1.8-2.1 1.7-2.9 1.8-2.9 1.7-.6 1.8 1.9 1.7-1 1.8-.4 1.8 2.6 1.7-2.2 1.8-4.1 1.7-.2 1.8 .3 1.7-.3 1.8-1.6 1.7 2 1.8-3.6 1.7-3.2 1.8 .7 1.7 .5 1.8 1 1.7 1.2 1.8-2.8 1.8-2.5 1.7-2.9 1.8 2.3 1.7 .2 1.8-2.7 1.7-1.1 1.8-1.5 1.7 .7 1.8-1.8 1.7-3.8 0 18.9-1.7 4.4-1.8-.3-1.7-2.6-1.8 2-1.7 .3-1.8 2.5-1.7 .2-1.8-2.3-1.7 3.1-1.8 .4-1.8 3.2-1.7-.9-1.8-1.2-1.7 .3-1.8 .5-1.7 1-1.8 .1-1.7-.5-1.8-.8-1.7 1.7-1.8 4-1.7-2.9-1.8 1.9-1.7 2-1.8 2.4-1.8 2.2-1.7 .1-1.8-.2-1.7-3-1.8 .3-1.7 1.8-1.8 .9-1.7-.1-1.8 2-1.7 2.1-1.8 1.3-1.7-1.8-1.8-1.3-1.7 .4-1.8-.4-1.7 1.1-1.8-1.5-1.8-1.4-1.7 .9-1.8 1.4-1.7 .4-1.8 1.5-1.7 2.3-1.8 .8-1.7-1.7-1.8 1-1.7-1.1-1.8 1-1.7-1.3-1.8-2.5-1.7 .2-1.8 5.1-1.8-1.5-1.7-.7-1.8 1-1.7 1.1-1.8-1.2-1.7-3.1-1.8 .9-1.7-2.5-1.8 1.8-1.7 2.1-1.8-.7-1.7 .8-1.8 .6-1.7 .2-1.8 2-1.8-1-1.7 5.2-1.8 .7-1.7-2.8-1.8-.1-1.7-2.1-1.8 3.4-1.7 2.2-1.8 .7-1.7-1.1-1.8-1.1-1.7 1.6-1.8 .5-1.7-.7-1.8-2.9-1.7-2.8-1.8-2.9-1.8 1.5-1.7 2.3-1.8-3-1.7-1-1.8-1-1.7-1.4-1.8-1.6-1.7-2.2-1.8 2.9-1.7-.9-1.8-1.1-1.7-2.2-1.8-2.3-1.7 2.8-1.8 .3-1.8-1.4-1.7-2.5-1.8-2.3-1.7-.7-1.8-3-1.7-3-1.8-4.8-1.7-9.1-1.8-9.6-1.7-4.9-1.8-2.6-1.7-2.1-1.8-4.7-1.7-1.3-1.8 2-1.8 1.4-1.7-2.4-1.8-.3-1.7 1.4-1.8-1.9-1.7-1.1-1.8-2.6-1.7-.4-1.8-1.4-1.7-2-1.8 3.8-1.7-.6-1.8-5.9-1.7-4.5-1.8 1.8-1.7-.5-1.8-1.8-1.8 1.4-1.7-1.9-1.8 3-1.7-1.6-1.8-.8-1.7 1.9-1.8 1.6-1.7-.5-1.8-.3-1.7 .6-1.8-1.7-1.7-1z" fill="#4655b5" fill-opacity=".3"/>
<path d="M976.2 1716.9l1.7-1.5 1.8 2.7 1.7 1 1.8-1.5 1.7-4 1.8 0 1.7-.9 1.8 1.1 1.8 1.2 1.7-.9 1.8 1.7 1.7 .3 1.8 1.3 1.7-2.8 1.8-3.9 1.7-1.1 1.8-1.7 1.7 1.7 1.8-.5 1.7-2.9 1.8-.5 1.8-1.3 1.7-.8 1.8 1.2 1.7-6.3 1.8 3.2 1.7-2.2 1.8 2.2 1.7 3.9 1.8-.8 1.7 1.7 1.8-1.5 1.7-.8 1.8 .5 1.8-.2 1.7 3.6 1.8-.8 1.7-2.3 1.8 1.6 1.7 .1 1.8 1.5 1.7 .9 1.8-.9 1.7-1 1.8-4.4 1.8-2.6 1.7-4.2 1.8-2.5 1.7-2.1 1.8-2 1.7-.7 1.8-1.1 1.7-.1 1.8 2.7 1.7 1.4 1.8 .2 1.7 2.2 1.8-.3 1.8 3.9 1.7-5.8 1.8-.8 1.7 1.2 1.8 1.6 1.7 .5 1.8-1.6 1.7-1.5 1.8 .2 1.7 .2 1.8-1.6 1.8 2.1 1.7-.2 1.8-4.1 1.7 2.4 1.8-1.3 1.7 2.4 1.8 2.6 1.7 1.2 1.8 3 1.7 3 1.8-2.7 1.7-2.1 1.8-2.1 1.8-.1 1.7 3.4 1.8-.4 1.7-1.4 1.8 .5 1.7 2.1 1.8-.5 1.7 1.7 1.8 2.2 1.7 2.4 1.8-.6 1.7-.9 1.8-.1 0 15.9-1.8 4.5-1.7 .6-1.8 1-1.7 .2-1.8-1.2-1.7-1-1.8-4.4-1.7-4.3-1.8 .7-1.7 4.2-1.8 1.1-1.7-.8-1.8-3-1.8 0-1.7 1.4-1.8 .7-1.7 1.1-1.8-4-1.7-2-1.8-1.2-1.7 .2-1.8-1.7-1.7-6.1-1.8 3.6-1.7 1-1.8-.7-1.8 2.1-1.7-.3-1.8 .1-1.7-.2-1.8 .5-1.7 1.8-1.8-1-1.7 2.1-1.8 2.1-1.7 1.8-1.8-.2-1.8 2.2-1.7-4.4-1.8 .8-1.7-3.5-1.8-.7-1.7 .1-1.8-1.4-1.7 1.2-1.8-1.2-1.7-.2-1.8 2.5-1.7 3.1-1.8 1.9-1.8 5.9-1.7 1.4-1.8-2.5-1.7 5.1-1.8 3.8-1.7-1.8-1.8 .3-1.7-1-1.8-.4-1.7-3.7-1.8-2.2-1.8 .6-1.7 3-1.8 2-1.7-2.9-1.8-1.6-1.7-1.8-1.8-3.4-1.7 3.4-1.8 2.2-1.7-.8-1.8-.7-1.7 .9-1.8 1.7-1.8 1.3-1.7 2.8-1.8 2.5-1.7-3.2-1.8-.4-1.7 .8-1.8 4.2-1.7 .6-1.8 2.1-1.7-.2-1.8-1.5-1.7 .9-1.8-.9-1.8-2.5-1.7 .9-1.8 3.1-1.7 2.1-1.8 3.1-1.7-4.1-1.8-2.9-1.7 2.4z" fill="#f5895e" fill-opacity=".45"/>
<path d="M1152.8 1730.2l1.7-.8 1.8 1.3 1.7-1.8 1.8-1 1.7 2.7 1.8 1.3 1.7-.3 1.8 3.9 1.7 1.2 1.8 .8 1.7 .3 1.8 2.6 1.8-1 1.7-4.1 1.8 2.4 1.7-.8 1.8 1.2 1.7 2.7 1.8-1.3 1.7 0 1.8 4.2 1.7-1.1 1.8 3.1 1.7-1 1.8-.4 1.7 4.1 1.8 2.3 1.7-2.7 1.8-1.7 1.8-1.7 1.7-4.6 1.8-4.7 1.7-3 1.8 .8 1.7-4.4 1.8-1.5 1.7 2.6 1.8-.5 1.7-2.2 1.8-.6 1.7 1.1 1.8-.6 1.7-.7 1.8-.3 1.8-3 1.7-1.5 1.8-1.4 1.7-3.1 1.8-.5 1.7-3 1.8-7.3 1.7 2.5 1.8-1.5 1.7 .6 1.8-.6 1.7-2.6 1.8 1.1 1.7 1.1 1.8 3.2 1.8-.9 1.7-3.7 1.8 2 1.7 .7 1.8 .9 1.7 2 1.8 4.4 1.7-.9 1.8 1.6 1.7 .3 1.8-2.9 1.7-1.1 1.8-1.7 1.7-1.9 1.8 1.1 1.7 1.5 1.8 .8 1.8-2.3 1.7 .7 1.8 1.2 1.7 1.1 1.8-3.3 1.7 .1 1.8 4.8 1.7 2.2 1.8-.7 1.7 7.3 1.8 1.6 1.7 3.4 1.8 4.6 1.7-.6 1.8-.7 1.8-.6 1.7 .6 1.8-2.1 1.7-1.6 1.8 .4 1.7-.2 1.8-3.6 1.7 3 1.8 .8 1.7 1.2 1.8 1.4 1.7 2.1 1.8 1.9 1.7-.4 1.8-4.3 1.8 2.2 1.7 1.6 1.8 .6 1.7-2.1 1.8-.9 1.7-.5 1.8 .6 1.7 1.5 1.8 .3 1.7-2.5 1.8 .1 1.7 2.4 1.8-.7 1.7 2 1.8-2.4 1.7-1.4 1.8 1.4 1.8 2 1.7-.7 1.8 .4 1.7 .9 1.8 .2 1.7-.8 1.8 1 1.7 1.4 1.8 4.4 1.7-2.7 1.8-1.7 1.7-1.1 1.8-.3 1.7 3.9 1.8 .6 1.8-1.6 1.7-2.8 1.8-.1 1.7-2.8 1.8-1.9 1.7-.7 1.8 .4 1.7-.7 1.8-.3 1.7-1.1 0 17.8-1.7 1.3-1.8 1.4-1.7 3.4-1.8-.4-1.7 2.6-1.8 2.3-1.7-.4-1.8 .9-1.7 1.9-1.8 1.5-1.8 2.5-1.7-4.2-1.8-.1-1.7 2.5-1.8-.1-1.7 1.4-1.8-3.5-1.7-3.8-1.8-3.7-1.7 1.4-1.8 1-1.7-.3-1.8 1-1.7-.6-1.8-3-1.8-.1-1.7 .3-1.8-1-1.7-1.4-1.8 3.1-1.7-2.9-1.8 1.2-1.7 2.3-1.8-.2-1.7-.2-1.8-2.7-1.7 4.1-1.8 1-1.7 1.6-1.8 2.9-1.7-1.8-1.8-2.7-1.8-.4-1.7-.1-1.8-.3-1.7-1.8-1.8-.3-1.7-4-1.8-1.2-1.7 .4-1.8 1.7-1.7 .9-1.8-.9-1.7 1.2-1.8 3.4-1.7-4.7-1.8 .1-1.8 .3-1.7-.3-1.8-2.9-1.7-4.9-1.8 1.9-1.7-3.9-1.8-1.4-1.7-.2-1.8-3.1-1.7-1.2-1.8-1.3-1.7-2.6-1.8-.1-1.7-1.1-1.8 2.7-1.8-.2-1.7 2.1-1.8 .5-1.7-1.3-1.8-2.1-1.7-2.7-1.8 3.4-1.7 .2-1.8 1.6-1.7 2.9-1.8-3-1.7 .3-1.8-2.6-1.7-2.6-1.8-4-1.7 1.9-1.8 .6-1.8 1.1-1.7 .4-1.8 2.4-1.7 .3-1.8 .4-1.7 .1-1.8-2.8-1.7-.7-1.8 2-1.7 2.2-1.8 6.1-1.7 1.3-1.8 2.4-1.7 1.3-1.8-1.9-1.8 2.8-1.7 .9-1.8 1.4-1.7 2-1.8 2.2-1.7 2-1.8 .7-1.7 2.1-1.8-1.7-1.7 4.2-1.8 1.8-1.7-1.4-1.8 2.9-1.7 4.6-1.8 3.4-1.8 1.6-1.7 .2-1.8-.7-1.7-2.1-1.8-2.3-1.7-2-1.8-2.9-1.7 .1-1.8-3.2-1.7 .8-1.8-1.8-1.7-2.1-1.8 1.5-1.7 .1-1.8 3-1.7 .8-1.8 .9-1.8-3.9-1.7-3.7-1.8 2.2-1.7-4.6-1.8 .2-1.7-.2-1.8-.6-1.7 .2-1.8-.1-1.7 4.3-1.8-.3-1.7-1.7z" fill="#f5895e" fill-opacity=".45"/>
<path d="M986.4 1760.8H1414.6" stroke="#000" stroke-width="4" stroke-dasharray="0 11.42" stroke-linecap="round" fill="none"/>
<path d="M1110.9 1616.2h0M1110.9 1627.6h0M1110.9 1639h0M1110.9 1650.4h0M1110.9 1661.8h0M1110.9 1673.3h0M1110.9 1684.7h0M1110.9 1696.1h0M1110.9 1707.5h0M1110.9 1718.9h0M1110.9 1730.4h0M1110.9 1741.8h0M1110.9 1753.2h0M1110.9 1764.6h0M1110.9 1776h0M1110.9 1787.5h0M1110.9 1798.9h0M1110.9 1810.3h0M1110.9 1821.7h0" stroke="#000" stroke-width="4" stroke-linecap="round" fill="none"/>
<path d="M976.2 1746l1.7-.4 1.8-2.2 1.7 1.8 1.8-.2 1.7-1.6 1.8-1.1 1.7-.3 1.8 .5 1.8 1.9 1.7 .3 1.8-.7 1.7-2.3 1.8 2.2 1.7-.8 1.8-1.7 1.7-1 1.8 .7 1.7 .4 1.8-.4 1.7 0 1.8 1 1.8-.7 1.7-.6 1.8 .6 1.7-.9 1.8 1.3 1.7 .9 1.8 .3 1.7-.2 1.8-.2 1.7-.2 1.8 3.1 1.7-.2 1.8-.1 1.8-.4 1.7 .8 1.8-.3 1.7 .9 1.8 2.9 1.7 .2 1.8 .9 1.7-2.6 1.8 .7 1.7 1.3 1.8-.6 1.8 2.8 1.7 .2 1.8-2.2 1.7-.2 1.8 .9 1.7 .6 1.8-.6 1.7-.2 1.8-1.2 1.7 .5 1.8 1.5 1.7-.5 1.8-.2 1.8-.8 1.7 .2 1.8 2.1 1.7 2 1.8 2.1 1.7 1.3 1.8 1.7 1.7 .9 1.8-3 1.7 1.1 1.8-1.7 1.8-.3 1.7 .7 1.8 .3 1.7 .6 1.8-.5 1.7-1.4 1.8-.3 1.7-2 1.8 2.1 1.7 0 1.8 1.4 1.7-1.6 1.8 .6 1.8-2.8 1.7 1.4 1.8 3.3 1.7 1.4 1.8-1.1 1.7 .8 1.8 .8 1.7 2.3 1.8 3.1 1.7 .4 1.8-1.7 1.7 2.9 1.8 4" fill="none" stroke="#4655b5" stroke-width="4.2" stroke-linejoin="round"/>
<path d="M1152.8 1770.6l1.7 2 1.8-.6 1.7-2.4 1.8 1.6 1.7-.8 1.8-1.2 1.7-.7 1.8 .6 1.7 2.7 1.8-2.6 1.7 1.8 1.8-.4 1.8 .1 1.7 .7 1.8 .9 1.7 1.8 1.8 1.8 1.7 1.7 1.8 .7 1.7 2.2 1.8 1.5 1.7 .9 1.8 1.9 1.7 .1 1.8 .6 1.7 .3 1.8 .8 1.7 .6 1.8-1 1.8-.8 1.7 1 1.8 3.3 1.7 3.8 1.8 3 1.7 4.4 1.8 8.4 1.7 7.3 1.8 6 1.7 3.9 1.8 3.7 1.7 1.1 1.8 1.8 1.7 2.2 1.8-.3 1.8-.3 1.7-.3 1.8 1.7 1.7 1.9 1.8 1 1.7 .5 1.8-1 1.7 3.4 1.8 .2 1.7 .5 1.8 2.4 1.7 .5 1.8 .9 1.7-1.6 1.8 .3 1.8 1.7 1.7 1.5 1.8 2 1.7 .3 1.8 .1 1.7-1.5 1.8 .8 1.7 .3 1.8-1.4 1.7-.9 1.8-1 1.7 1.6 1.8 .4 1.7 1.2 1.8-1.2 1.7-2.5 1.8 .9 1.8-1.4 1.7 .1 1.8 .1 1.7-.3 1.8-1.2 1.7-.7 1.8-.5 1.7 1.6 1.8-1.1 1.7 .9 1.8-.1 1.7 .5 1.8-1.7 1.7-.7 1.8 2.2 1.8-3.2 1.7-1 1.8 2 1.7 1.1 1.8-1.3 1.7 .7 1.8 0 1.7 2.7 1.8-2 1.7-.3 1.8-.1 1.7-1.3 1.8-.9 1.7-.2 1.8 .3 1.8-.5 1.7-.6 1.8 1.6 1.7-1.7 1.8-.9 1.7 .4 1.8-.3 1.7-.2 1.8-.4 1.7 .2 1.8-1.4 1.7-2 1.8-.8 1.7 1.9 1.8 .1 1.7-.7 1.8-1.9 1.8-.2 1.7-.3 1.8-2.9 1.7-.4 1.8-2 1.7 .6 1.8-.3 1.7-.9 1.8-1.8 1.7-.8 1.8 .5 1.7 .3 1.8 .5 1.7 .6 1.8-1.7 1.8-2.4 1.7-4.5 1.8 2.4 1.7 1 1.8-1.8 1.7-1.7 1.8-2.1 1.7 1.5 1.8 .1 1.7-4.1" fill="none" stroke="#4655b5" stroke-width="4.2" stroke-linejoin="round"/>
<path d="M976.2 1726.5l1.7-.9 1.8 1.2 1.7 1.7 1.8-1.5 1.7-2.8 1.8-1.3 1.7-.4 1.8 2 1.8 .7 1.7-1.1 1.8 1.2 1.7 .6 1.8-1 1.7-2.6 1.8-2.5 1.7 .4 1.8-1.9 1.7 1.5 1.8 .1 1.7-3 1.8-1.3 1.8-1.3 1.7-1.6 1.8 1 1.7-2.3 1.8 .5 1.7-2.3 1.8 3.4 1.7 2.1 1.8-.8 1.7 1.9 1.8-1.5 1.7-1.9 1.8 .6 1.8 .5 1.7 3.6 1.8 1.3 1.7-.3 1.8 .2 1.7 0 1.8-1 1.7-2.3 1.8 .7 1.7-1.1 1.8-5 1.8-1.3 1.7-4 1.8-2.5 1.7-1 1.8-1.4 1.7-.4 1.8 .2 1.7-.3 1.8 1.4 1.7 2.5 1.8-.2 1.7 2.8 1.8-.3 1.8 2.3 1.7-4.7 1.8-1.2 1.7-.8 1.8 1.1 1.7-.8 1.8-1.5 1.7 .5 1.8 1.2 1.7-.2 1.8-2.6 1.8 1 1.7-.4 1.8-2.7 1.7 4 1.8-.5 1.7 1.5 1.8 2.2 1.7 1.3 1.8 3.6 1.7 .8 1.8-2 1.7-.7 1.8-.2 1.8 .3 1.7 1.1 1.8-.8 1.7-3.2 1.8 .8 1.7 3.7 1.8 1.7 1.7 1.1 1.8 1.2 1.7 1.6 1.8 .4 1.7-1.4 1.8-3.1" fill="none" stroke="#e8351a" stroke-width="4.2" stroke-linejoin="round"/>
<path d="M1152.8 1741.4l1.7 .3 1.8 .4 1.7-2.8 1.8-.8 1.7 .5 1.8 .6 1.7 1.7 1.8 2 1.7 2.1 1.8-.5 1.7 1.2 1.8 2.7 1.8 0 1.7-1.6 1.8-.4 1.7 0 1.8 .1 1.7 2.1 1.8-.3 1.7-.4 1.8 3.7 1.7-.6 1.8 4 1.7 .2 1.8 0 1.7 3.7 1.8 1.2 1.7-1.9 1.8-1.1 1.8-3.2 1.7-5 1.8-3.2 1.7-.8 1.8-.2 1.7-4.6 1.8-.3 1.7 .8 1.8-1.3 1.7-1.9 1.8-1.1 1.7 .2 1.8 .1 1.7-2.4 1.8-2.7 1.8-.3 1.7-1.6 1.8-2.5 1.7-1.2 1.8-2.5 1.7-1.7 1.8-4.4 1.7 .2 1.8 .3 1.7 .3 1.8-.3 1.7-.3 1.8-1.3 1.7-.4 1.8 .6 1.8-.9 1.7-1.5 1.8 2.6 1.7 1.6 1.8 1.4 1.7 .6 1.8 4.4 1.7-1.4 1.8-.3 1.7-.5 1.8-2.1 1.7 .5 1.8-.2 1.7-.1 1.8 .1 1.7-.7 1.8 .3 1.8-2.1 1.7 1.5 1.8-.2 1.7 2 1.8 .4 1.7 0 1.8 3.4 1.7 1.9 1.8 .6 1.7 4.8 1.8 .1 1.7 3.6 1.8 2.3 1.7 .5 1.8 .8 1.8-.7 1.7 2.7 1.8-2.2 1.7-2.7 1.8 0 1.7 .5 1.8-2.3 1.7 2 1.8 1.7 1.7 2.5 1.8-.3 1.7 1.1 1.8 1.2 1.7 .7 1.8-1.2 1.8 1 1.7 .6 1.8-.3 1.7-.3 1.8-1.4 1.7-2.2 1.8 1.1 1.7 0 1.8 .6 1.7-2.1 1.8-.9 1.7 2.9 1.8 .2 1.7 1.6 1.8-1.6 1.7-.4 1.8 .7 1.8 2 1.7 0 1.8-.4 1.7-1.1 1.8-.3 1.7 .4 1.8 1.6 1.7 2.8 1.8 4.6 1.7-1.2 1.8-1.5 1.7-3.1 1.8 1.7 1.7 3.5 1.8-2.1 1.8-1.2 1.7-2.1 1.8-.1 1.7-2 1.8-1.3 1.7-.9 1.8-1.9 1.7-1.7 1.8 1.2 1.7-1.8" fill="none" stroke="#e8351a" stroke-width="4.2" stroke-linejoin="round"/>
<rect x="1114.4" y="1615.3" width="71.2" height="8.2" fill="#000"/>
<path d="M975.3 1613.5V1906.1H1413.4" stroke="#000" stroke-width="3.8" fill="none" stroke-linejoin="miter"/>
<path d="M962.8 1615.3H975.3" stroke="#000" stroke-width="3.8"/>
<text x="958.7" y="1622.9" font-size="21.3" font-weight="bold" text-anchor="end">2</text>
<path d="M962.8 1687.9H975.3" stroke="#000" stroke-width="3.8"/>
<text x="958.7" y="1695.5" font-size="21.3" font-weight="bold" text-anchor="end">1</text>
<path d="M962.8 1760.8H975.3" stroke="#000" stroke-width="3.8"/>
<text x="958.7" y="1768.4" font-size="21.3" font-weight="bold" text-anchor="end">0</text>
<path d="M962.8 1833.5H975.3" stroke="#000" stroke-width="3.8"/>
<text x="958.7" y="1841.1" font-size="21.3" font-weight="bold" text-anchor="end">-1</text>
<path d="M962.8 1906.1H975.3" stroke="#000" stroke-width="3.8"/>
<text x="958.7" y="1913.7" font-size="21.3" font-weight="bold" text-anchor="end">-2</text>
<path d="M975.6 1906.1V1919.6" stroke="#000" stroke-width="3.8"/>
<text x="973.1" y="1943.8" font-size="21.3" font-weight="bold" text-anchor="middle">-6</text>
<path d="M1020.7 1906.1V1919.6" stroke="#000" stroke-width="3.8"/>
<text x="1018.2" y="1943.8" font-size="21.3" font-weight="bold" text-anchor="middle">-4</text>
<path d="M1065.8 1906.1V1919.6" stroke="#000" stroke-width="3.8"/>
<text x="1063.3" y="1943.8" font-size="21.3" font-weight="bold" text-anchor="middle">-2</text>
<path d="M1110.9 1906.1V1919.6" stroke="#000" stroke-width="3.8"/>
<text x="1110.9" y="1943.8" font-size="21.3" font-weight="bold" text-anchor="middle">0</text>
<path d="M1186.1 1906.1V1919.6" stroke="#000" stroke-width="3.8"/>
<text x="1186.1" y="1943.8" font-size="21.3" font-weight="bold" text-anchor="middle">0</text>
<path d="M1231.2 1906.1V1919.6" stroke="#000" stroke-width="3.8"/>
<text x="1231.2" y="1943.8" font-size="21.3" font-weight="bold" text-anchor="middle">2</text>
<path d="M1276.3 1906.1V1919.6" stroke="#000" stroke-width="3.8"/>
<text x="1276.3" y="1943.8" font-size="21.3" font-weight="bold" text-anchor="middle">4</text>
<path d="M1321.4 1906.1V1919.6" stroke="#000" stroke-width="3.8"/>
<text x="1321.4" y="1943.8" font-size="21.3" font-weight="bold" text-anchor="middle">6</text>
<path d="M1366.5 1906.1V1919.6" stroke="#000" stroke-width="3.8"/>
<text x="1366.5" y="1943.8" font-size="21.3" font-weight="bold" text-anchor="middle">8</text>
<path d="M1411.6 1906.1V1919.6" stroke="#000" stroke-width="3.8"/>
<text x="1411.6" y="1943.8" font-size="21.3" font-weight="bold" text-anchor="middle">10</text>
<path d="M998.1 1906.1V1914.1" stroke="#000" stroke-width="3.8"/>
<path d="M1043.2 1906.1V1914.1" stroke="#000" stroke-width="3.8"/>
<path d="M1088.3 1906.1V1914.1" stroke="#000" stroke-width="3.8"/>
<path d="M1133.4 1906.1V1914.1" stroke="#000" stroke-width="3.8"/>
<path d="M1163.6 1906.1V1914.1" stroke="#000" stroke-width="3.8"/>
<path d="M1208.7 1906.1V1914.1" stroke="#000" stroke-width="3.8"/>
<path d="M1253.8 1906.1V1914.1" stroke="#000" stroke-width="3.8"/>
<path d="M1298.9 1906.1V1914.1" stroke="#000" stroke-width="3.8"/>
<path d="M1344 1906.1V1914.1" stroke="#000" stroke-width="3.8"/>
<path d="M1389.1 1906.1V1914.1" stroke="#000" stroke-width="3.8"/>
<text x="1040.3" y="1603.6" font-size="20" font-weight="bold" text-anchor="middle">ITI</text>
<text x="1149.8" y="1603.6" font-size="20" font-weight="bold" text-anchor="middle">Cue</text>
<text x="1240.9" y="1603.6" font-size="20" font-weight="bold" text-anchor="middle">Outcome</text>
<text x="1193.5" y="1972.1" font-size="23.3" font-weight="bold" text-anchor="middle">Time (sec)</text>
<text transform="translate(926.3 1760.8) rotate(-90)" font-size="23.3" font-weight="bold" text-anchor="middle">Z-Score</text>
<text x="1139.9" y="1676.2" font-size="20">Response</text>
<path d="M1186.1 1683.2V1696.6" stroke="#000" stroke-width="3.2" fill="none"/><path d="M1178.5 1692.1L1193.7 1692.1L1186.1 1704.6Z" fill="#000"/>
<text x="1064" y="1870.7" font-size="20">Trial onset</text>
<path d="M1110.9 1881.2V1894.9" stroke="#000" stroke-width="3.2" fill="none"/><path d="M1103.3 1890.4L1118.5 1890.4L1110.9 1902.9Z" fill="#000"/>
<text x="1292.5" y="1883.3" font-size="23.6">n = 76 cells</text>
<path d="M1310 1629.3H1337.3" stroke="#4655b5" stroke-width="4"/>
<text x="1349.9" y="1635.9" font-size="19">Correct</text>
<path d="M1310 1661.6H1337.3" stroke="#e8351a" stroke-width="4"/>
<text x="1349.9" y="1668.2" font-size="19">Error</text>
<rect x="281" y="2110.3" width="110.4" height="290.8" fill="#e6e6e6"/>
<path d="M69.3 2247.7l1.7 1.3 1.8-.4 1.8 .6 1.7 2 1.8-1.4 1.8-1.5 1.7-6.1 1.8 .1 1.8 4.6 1.7 1 1.8 .5 1.7 .4 1.8-.9 1.8-1.8 1.7-5.2 1.8 .3 1.8-2.1 1.7-2.5 1.8 1.5 1.8-1.2 1.7-1.3 1.8 .3 1.7 3.4 1.8 3.7 1.8-1 1.7-.8 1.8 2.6 1.8-1.7 1.7-1.9 1.8 1.9 1.7 2.9 1.8-3.1 1.8-1 1.7 .3 1.8 .7 1.8 .7 1.7 .6 1.8 1.5 1.8 2.6 1.7-3.3 1.8-4.2 1.7 6.4 1.8 1.5 1.8 0 1.7 2.7 1.8 1.3 1.8 .1 1.7 1.6 1.8-1.3 1.8 1.5 1.7 1.8 1.8-2.5 1.7 3.1 1.8 .7 1.8-1.7 1.7 2.1 1.8-2.7 1.8-.7 1.7 .2 1.8 .3 1.7 1.3 1.8 .9 1.8-1.9 1.7-2.7 1.8-.1 1.8 .1 1.7 3.6 1.8 3.8 1.8 .6 1.7-.3 1.8 .9 1.7 3.2 1.8-1.1 1.8-.7 1.7-.7 1.8 2.9 1.8 1.7 1.7-1.3 1.8-1.4 1.8 2.3 1.7 1.1 1.8 .4 1.7-3 1.8 .6 1.8 1.3 1.7 1.7 1.8 1.6 1.8 3.1 1.7-.8 1.8-1.2 1.7 3.3 1.8 2.9 1.8-3.1 1.7-1.6 1.8 .2 0 19.5-1.8-1.8-1.7 1.3-1.8 3.1-1.8-3.1-1.7-2.4-1.8-2.4-1.7 1.6-1.8-.7-1.8-2.4-1.7-.7-1.8-.5-1.8-1.5-1.7 1.5-1.8-3.2-1.7 .4-1.8 .3-1.8 1.4-1.7 2.1-1.8-2.7-1.8-2.6-1.7-.7-1.8-3.5-1.8 2.1-1.7-1.5-1.8-.1-1.7 1-1.8 .1-1.8-.2-1.7-5-1.8-1.2-1.8 .9-1.7 2.2-1.8-.3-1.8-2.4-1.7-.7-1.8-2.9-1.7 4.1-1.8 1-1.8 2.9-1.7 4.9-1.8-2.2-1.8-1.1-1.7-.3-1.8-.5-1.7-1.9-1.8-1-1.8 0-1.7-.7-1.8-2.2-1.8-3.8-1.7-1.2-1.8 .2-1.8-.4-1.7-3-1.8-.2-1.7 .2-1.8-.2-1.8-3-1.7-1.4-1.8 1.1-1.8-.2-1.7-3.4-1.8 2.4-1.8 3.7-1.7-1.2-1.8-1-1.7 1-1.8 2.7-1.8-2.6-1.7-3.2-1.8 2.8-1.8 .6-1.7-2-1.8 .4-1.7 .7-1.8 2-1.8-3.2-1.7 .6-1.8 1.7-1.8 3-1.7 1-1.8-1.3-1.8 2.2-1.7-1.9-1.8-.6-1.7-2.7-1.8-1.4-1.8 .8-1.7 2.3-1.8 1.3-1.8 1.9-1.7 1.1-1.8 1.2-1.8-.9-1.7 .5z" fill="#4655b5" fill-opacity=".3"/>
<path d="M246.8 2284.6l1.7-2.2 1.8 1.3 1.7 1.3 1.8-1.5 1.7 .2 1.8 .2 1.7-.3 1.8 .5 1.7 .2 1.8 0 1.7 0 1.8 0 1.8 1.7 1.7-3.2 1.8 1 1.7 2.9 1.8 1.7 1.7 2.6 1.8-.2 1.7-.4 1.8 3.1 1.7 3.4 1.8-4.2 1.7 1.2 1.8 2.3 1.7-2.9 1.8 .2 1.7 2.2 1.8 1.5 1.8 3.3 1.7-.2 1.8-1.9 1.7 2 1.8-.5 1.7-1.4 1.8-1.1 1.7-1.3 1.8-3.9 1.7-4.1 1.8-4.3 1.7-3.8 1.8 .3 1.7 2.7 1.8 .5 1.8-4 1.7 .2 1.8-1.7 1.7-3.3 1.8-2.3 1.7-.5 1.8 1.3 1.7-3.5 1.8-1.4 1.7 1 1.8-3.8 1.7 .3 1.8 .7 1.7 1 1.8 1.8 1.8-2.7 1.7-.1 1.8-.3 1.7-1.4 1.8-1.8 1.7-5.4 1.8 2.6 1.7-.5 1.8 .6 1.7-4.9 1.8-2.5 1.7-2.2 1.8-3.2 1.7 2.6 1.8 .3 1.7-2.7 1.8 1.3 1.8-4.1 1.7 .1 1.8 .8 1.7 1.5 1.8 1.1 1.7-3.3 1.8-1.6 1.7-4.6 1.8-.4 1.7 .7 1.8 2.9 1.7-.5 1.8 .5 1.7 .6 1.8-1.8 1.8-2.5 1.7 1.5 1.8-1.2 1.7-.5 1.8-2.7 1.7 0 1.8 2.3 1.7-.6 1.8 .7 1.7 3.2 1.8 1.9 1.7-.9 1.8-2.1 1.7 2.4 1.8 .3 1.8 1.1 1.7-1.8 1.8 4.3 1.7 .9 1.8 2.7 1.7-.9 1.8-4.5 1.7 .4 1.8 .8 1.7 1.6 1.8-.2 1.7 1.3 1.8-.2 1.7 2.8 1.8 .3 1.7-1.6 1.8 1.5 1.8-2.8 1.7 .8 1.8 1 1.7-1 1.8-.4 1.7-1.2 1.8-.4 1.7-1.7 1.8 1.9 1.7 .6 1.8 2.5 1.7-.7 1.8-3.5 1.7 2.8 1.8 .8 1.8-.1 1.7-.1 1.8 3.8 1.7 3.5 1.8-4.7 1.7-4.3 1.8 2.5 1.7 1.3 1.8 .9 1.7 1.4 0 15.6-1.7 .6-1.8-1-1.7-2.6-1.8-1.3-1.7-.4-1.8 4.7-1.7-2.9-1.8-1.9-1.7 3.4-1.8-1.3-1.8 .8-1.7-3.2-1.8-.4-1.7 1.4-1.8-2.1-1.7 1.4-1.8 1.2-1.7 1.2-1.8-.2-1.7 2.1-1.8-1.4-1.7-.5-1.8 4.1-1.7-1.1-1.8-3.2-1.8 1.9-1.7 1.1-1.8-1.1-1.7 1-1.8-1.4-1.7-1.1-1.8-1-1.7-.3-1.8 2.5-1.7-1.6-1.8 0-1.7 1.5-1.8-2.5-1.7-.4-1.8-2.5-1.7 0-1.8 .7-1.8-1.1-1.7-4.1-1.8 1.1-1.7 1.2-1.8-3.2-1.7-3.3-1.8 .1-1.7 1.2-1.8 1.4-1.7-.3-1.8 3-1.7 1.7-1.8-.8-1.7 .2-1.8 1.3-1.8-.9-1.7-1.2-1.8-1.2-1.7 2.2-1.8 .7-1.7 2.1-1.8-1.5-1.7 5-1.8-2.5-1.7-2.6-1.8-.9-1.7 2.9-1.8 3-1.7 1.4-1.8 1.6-1.8-4.1-1.7 3.4-1.8 1.8-1.7 1.3-1.8 .5-1.7 .2-1.8-1-1.7 2.7-1.8 1.3-1.7 1.8-1.8 1.3-1.7 3.2-1.8 .9-1.7-1.8-1.8 .8-1.7 1-1.8 1.2-1.8 1.9-1.7-1.1-1.8-.1-1.7-1.7-1.8 1.5-1.7-1.4-1.8 .7-1.7 3.9-1.8-1.4-1.7 2.3-1.8 3.8-1.7-.5-1.8 3.6-1.7 1.7-1.8 .6-1.8 .3-1.7-.1-1.8-.1-1.7 6-1.8 3.9-1.7 .4-1.8 7.7-1.7 4.9-1.8 .7-1.7 0-1.8-2.7-1.7-2.5-1.8 3.1-1.7-1.2-1.8-2-1.8-2.3-1.7-3.9-1.8 .4-1.7 .5-1.8 1.2-1.7-.4-1.8 .9-1.7 1-1.8-4.8-1.7-1.3-1.8 4.2-1.7-2.2-1.8-.6-1.7-3-1.8-1.6-1.7 .7-1.8-2.4-1.8 .2-1.7-4.1-1.8-1.3-1.7 1.2-1.8 .5-1.7 2.3-1.8 1-1.7-2.3-1.8 1-1.7 .9-1.8 .4-1.7 2.9z" fill="#4655b5" fill-opacity=".3"/>
<path d="M69.3 2239.4l1.7-1.5 1.8 2.6 1.8 3.2 1.7-.7 1.8 4.7 1.8 2.9 1.7-.7 1.8-2.7 1.8 .6 1.7 2.9 1.8-.5 1.7-6.1 1.8-3.9 1.8-6.7 1.7-4.2 1.8-1.7 1.8 .7 1.7 4.3 1.8 3.4 1.8 5.3 1.7-.4 1.8-2.7 1.7-.2 1.8 4.8 1.8-.8 1.7 1.3 1.8-1.9 1.8-5.8 1.7 2.7 1.8-2.3 1.7-1.5 1.8 4 1.8 .1 1.7-4.1 1.8-1.2 1.8-6.2 1.7-2.9 1.8-1.1 1.8 1.9 1.7 7.5 1.8-2.1 1.7-4.9 1.8-5.8 1.8-2.5 1.7-2.1 1.8-2.6 1.8-2.4 1.7 4.1 1.8 4.5 1.8-3.5 1.7-3 1.8 1.5 1.7 2 1.8 1.1 1.8-2.9 1.7-.4 1.8 .3 1.8 1.3 1.7 .1 1.8-.9 1.7 1.4 1.8-2.3 1.8 1.9 1.7 .5 1.8-3.9 1.8 2.3 1.7 2.9 1.8 2.5 1.8 1.7 1.7-1.2 1.8-.9 1.7 2.1 1.8-1.2 1.8-.3 1.7 3.2 1.8 1.5 1.8 .5 1.7 2.2 1.8-1.8 1.8-3.5 1.7-.2 1.8 3.5 1.7 3.3 1.8 2.9 1.8-3.5 1.7 1.1 1.8 3 1.8-6.1 1.7 4.6 1.8 2.9 1.7 .4 1.8 1.9 1.8-.2 1.7 3.5 1.8-1.4 0 23.3-1.8 0-1.7-1.8-1.8-2-1.8 1-1.7 .1-1.8-2.5-1.7-1.6-1.8 4.1-1.8-2-1.7-1.5-1.8 1.4-1.8-1.3-1.7-2.7-1.8-4.5-1.7 .4-1.8 2.3-1.8 3.4-1.7-.2-1.8-1.7-1.8-2.6-1.7 .1-1.8-2.3-1.8 2.8-1.7 .1-1.8-5.7-1.7 .7-1.8 2.8-1.8 .6-1.7-1.1-1.8-2.2-1.8-.7-1.7-4.2-1.8 1.3-1.8 5.2-1.7-2.3-1.8-4.4-1.7 .2-1.8-.2-1.8-4.3-1.7 3.2-1.8 .3-1.8-1-1.7 1-1.8-.3-1.7 3-1.8 1.3-1.8-2.4-1.7-4.3-1.8 6.2-1.8 .7-1.7-.5-1.8 .5-1.8 2.9-1.7 6.7-1.8 3.7-1.7-.9-1.8 1.4-1.8-.6-1.7 .5-1.8 3-1.8-.7-1.7 8.8-1.8 1.8-1.8-2.6-1.7-.2-1.8-3.3-1.7-2.7-1.8 4.2-1.8 .7-1.7-3.4-1.8 3.3-1.8-.8-1.7 1.7-1.8 1.8-1.7-1.5-1.8-1.9-1.8-7.3-1.7-2.8-1.8-1.3-1.8-2.1-1.7 5.6-1.8 7.1-1.8 5.7-1.7 7.3-1.8 4.6-1.7 1.6-1.8-4.8-1.8 0-1.7-.3-1.8-4.5-1.8-2.5-1.7-1.7-1.8-.6-1.8-.6-1.7-.7z" fill="#f5895e" fill-opacity=".45"/>
<path d="M246.8 2277.6l1.7 2.2 1.8-1.7 1.7-.9 1.8 .3 1.7-.5 1.8 1.2 1.7-1.1 1.8-2.1 1.7 1.2 1.8-.3 1.7 1.4 1.8 .6 1.8 .2 1.7 .6 1.8 .2 1.7 1.5 1.8-.8 1.7 4.9 1.8 .2 1.7 2.8 1.8 .2 1.7-3.8 1.8 .4 1.7-.7 1.8-1.7 1.7-5.8 1.8-4.9 1.7-5.5 1.8 1 1.8-5.8 1.7-3.2 1.8-7.8 1.7-4.5 1.8-1.7 1.7-2.6 1.8-1.7 1.7 1 1.8-.7 1.7-1.4 1.8-4.2 1.7-.9 1.8-2.1 1.7-5.2 1.8-1 1.8-3.3 1.7-3.3 1.8-1 1.7 0 1.8-2.3 1.7-8.9 1.8-3.5 1.7-1.5 1.8-6.7 1.7-.7 1.8-1.2 1.7 .5 1.8 .8 1.7-1 1.8-.8 1.8-2.1 1.7-2 1.8 1.3 1.7 1.9 1.8-1.4 1.7 .2 1.8 2.2 1.7-2.5 1.8-.7 1.7-2.8 1.8-2.1 1.7-4.6 1.8-3.5 1.7-4.9 1.8-2.9 1.7 .9 1.8 2.3 1.8 .3 1.7 2 1.8-2.1 1.7-1.2 1.8 2.5 1.7 2.4 1.8 .1 1.7 3.8 1.8-.1 1.7 1.2 1.8-2.6 1.7-2 1.8-1.7 1.7-.5 1.8 3.4 1.8-4 1.7-5.3 1.8 6.4 1.7 .2 1.8 2.2 1.7 .9 1.8-4.8 1.7-.8 1.8 3.8 1.7 .2 1.8-5.8 1.7 .1 1.8 3.6 1.7 4.4 1.8 1.6 1.8 2.5 1.7 2.5 1.8-1.8 1.7 .3 1.8-3.4 1.7-3.2 1.8 8 1.7 6.3 1.8 7.6 1.7 5.9 1.8 2.6 1.7-1 1.8-4.6 1.7 0 1.8-2 1.7 1.3 1.8 2 1.8-1.5 1.7-.1 1.8-.4 1.7-1.6 1.8-.7 1.7 .4 1.8 1.2 1.7-1.2 1.8 0 1.7 2.4 1.8 1.9 1.7 6.4 1.8-.1 1.7 .4 1.8 1.4 1.8 2.2 1.7 2.6 1.8 4.3 1.7 4.6 1.8 2.1 1.7 5.7 1.8 2.6 1.7 1.2 1.8 2 1.7-.7 0 28.3-1.7-2.4-1.8-4-1.7-.1-1.8-5.6-1.7-3.7-1.8-2.4-1.7-1.2-1.8-1.5-1.7-4.1-1.8-.7-1.8-4.2-1.7 1.4-1.8-2.1-1.7-5.9-1.8 0-1.7-3.5-1.8 2-1.7-2.3-1.8 3.1-1.7-5.4-1.8 .7-1.7 3.7-1.8-3.4-1.7 .7-1.8 .1-1.8-.6-1.7 2.4-1.8 2-1.7 1.3-1.8-1.7-1.7 1.3-1.8 .1-1.7-6.1-1.8-1.1-1.7-7.8-1.8-9.4-1.7 1.4-1.8 1.5-1.7-.4-1.8 2.6-1.7-1.1-1.8-2-1.8-2.2-1.7-4.5-1.8-1.6-1.7 3.8-1.8 4.7-1.7-2.8-1.8-2.2-1.7-1.1-1.8 .5-1.7-.2-1.8-3.8-1.7-.8-1.8-4.4-1.7 2.3-1.8 7.3-1.8-.8-1.7-4.2-1.8 2.8-1.7 .9-1.8 2.8-1.7 1.1-1.8 .7-1.7-3.9-1.8-3.3-1.7-1.2-1.8 .7-1.7 1.6-1.8 4.3-1.7-3.8-1.8-3.8-1.8-.2-1.7 .4-1.8 3.2-1.7 2.6-1.8 4.6-1.7 2.8-1.8 4.1-1.7 4.2-1.8-2.9-1.7 3.6-1.8-2.1-1.7 4.1-1.8-.7-1.7-6.1-1.8-1.9-1.7 2.3-1.8 1.8-1.8 2.9-1.7 .1-1.8-3.1-1.7-.6-1.8 .6-1.7-.3-1.8 4.2-1.7 9.8-1.8 6.9-1.7 5.2-1.8 2.6-1.7-1.7-1.8-2.8-1.7 4.1-1.8 6.5-1.8 2.6-1.7 4.1-1.8 2.3-1.7 2.9-1.8 5.7-1.7 1.5-1.8-.6-1.7 0-1.8 3.1-1.7-2.6-1.8 3.2-1.7 .6-1.8 4.1-1.7 4.4-1.8 2-1.8 4.8-1.7 3.7-1.8 2.7-1.7 8.2-1.8 2.7-1.7 2.8-1.8 2.7-1.7 1.5-1.8-.4-1.7-.3-1.8 1.8-1.7-2.7-1.8-2.1-1.7-2.4-1.8-.4-1.7-1.7-1.8 .6-1.8-1.4-1.7-.5-1.8 3.4-1.7 2.3-1.8 1.7-1.7-2.5-1.8-2.4-1.7-1.6-1.8 .1-1.7 1.6-1.8 1.5-1.7-3z" fill="#f5895e" fill-opacity=".45"/>
<path d="M80.4 2255.8H508.6" stroke="#000" stroke-width="4" stroke-dasharray="0 11.42" stroke-linecap="round" fill="none"/>
<path d="M204.9 2111.2h0M204.9 2122.6h0M204.9 2134h0M204.9 2202.5h0M204.9 2213.9h0M204.9 2225.4h0M204.9 2236.8h0M204.9 2248.2h0M204.9 2259.6h0M204.9 2271h0M204.9 2282.5h0M204.9 2293.9h0M204.9 2305.3h0M204.9 2316.7h0M204.9 2328.1h0M204.9 2339.6h0M204.9 2351h0M204.9 2362.4h0M204.9 2373.8h0M204.9 2385.2h0M204.9 2396.7h0" stroke="#000" stroke-width="4" stroke-linecap="round" fill="none"/>
<path d="M69.3 2256.5l1.7 1 1.8 1 1.8-1.3 1.7-.6 1.8-1.2 1.8-.1 1.7-3.7 1.8 .1 1.8 3.4 1.7 .4 1.8-.5 1.7 1.5 1.8-1.3 1.8 .4 1.7-2 1.8-1.5 1.8-2.3 1.7-2.6 1.8 1.8 1.8-1 1.7-.8 1.8 0 1.7 2.9 1.8 1.4 1.8-1.9 1.7 .2 1.8 2.9 1.8-.7 1.7-1.8 1.8 .5 1.7 1.6 1.8-2.3 1.8-.5 1.7 1.7 1.8-.8 1.8-.4 1.7 .7 1.8 1.3 1.8 1.2 1.7-1 1.8-1.7 1.7 3.9 1.8 2.5 1.8 1.3 1.7 .6 1.8 1.2 1.8 2.2 1.7 1.7 1.8-.8 1.8 .6 1.7 1.3 1.8-.2 1.7 1.4 1.8-.2 1.8-.4 1.7-.5 1.8-1.7 1.8 0 1.7-2.7 1.8 .4 1.7 1.3 1.8 2.6 1.8-1.5 1.7-2.4 1.8 .5 1.8 0 1.7 3.4 1.8 2.3 1.8 .2 1.7 0 1.8 1 1.7 2.2 1.8-2.1 1.8 1.2 1.7 0 1.8 2.8 1.8 2.4 1.7-2.1 1.8-1.9 1.8 1.8 1.7 1.7 1.8 1.2 1.7-2.9 1.8 1.1 1.8 1.4 1.7 .6 1.8 .9 1.8 2.3 1.7-.9 1.8 .4 1.7 2.9 1.8 2.5 1.8-2.7 1.7-1.6 1.8 1.7" fill="none" stroke="#4655b5" stroke-width="4.2" stroke-linejoin="round"/>
<path d="M246.8 2295.3l1.7-2.8 1.8 1 1.7 .4 1.8-.8 1.7 .9 1.8-.4 1.7-.4 1.8 .1 1.7-.2 1.8-1 1.7 .6 1.8 .4 1.8 2 1.7-.8 1.8 1.6 1.7 3.1 1.8 1.6 1.7 1.8 1.8-2.2 1.7-.5 1.8 2.7 1.7 2.2 1.8-1.9 1.7 .3 1.8 .1 1.7-1.9 1.8 1.2 1.7 3.2 1.8 1.5 1.8 2.8 1.7 .2 1.8-1.8 1.7 2.7 1.8 1.8 1.7-.6 1.8-3.3 1.7-3.9 1.8-5.1 1.7-2.7 1.8-3.2 1.7-3.9 1.8-.9 1.7 1.4 1.8 .7 1.8-2.8 1.7-.8 1.8-1.9 1.7-1.8 1.8-2.8 1.7-.7 1.8 1.1 1.7-3.4 1.8-1.5 1.7 1.1 1.8-2.1 1.7 .4 1.8-.4 1.7 .9 1.8-.2 1.8-1.9 1.7-.5 1.8-.3 1.7 .4 1.8-1.9 1.7-3.3 1.8 .6 1.7-2.3 1.8-.7 1.7-3.3 1.8-.3 1.7-.6 1.8-1.6 1.7-.5 1.8-.4 1.7-2.6 1.8 2.1 1.8-2.3 1.7-.6 1.8-1.7 1.7-.6 1.8 1.4 1.7-.5 1.8 .4 1.7-3.4 1.8-.1 1.7-2.6 1.8 2.5 1.7-.3 1.8 .5 1.7 .9 1.8-.8 1.8-3 1.7 .1 1.8-.1 1.7-.4 1.8-1.4 1.7 .1 1.8-.4 1.7-.5 1.8 .5 1.7 1.8 1.8 2.8 1.7 0 1.8-1.3 1.7 2.2 1.8 0 1.8 1.8 1.7-.8 1.8 3.1 1.7 0 1.8 1.7 1.7-.4 1.8-1.4 1.7 1.1 1.8-.2 1.7-.1 1.8-1.6 1.7 2 1.8 1.4 1.7 1 1.8 .7 1.7-1.4 1.8-.4 1.8 0 1.7 1.8 1.8-1.4 1.7-.8 1.8 .1 1.7-1.5 1.8-.6 1.7-1.9 1.8 1 1.7-.2 1.8 1.2 1.7-1.1 1.8 .2 1.7 2.6 1.8-.8 1.8 1.6 1.7-1.3 1.8 2 1.7 2.6 1.8-4 1.7-.4 1.8 1.8 1.7 .7 1.8 .1 1.7 .7" fill="none" stroke="#4655b5" stroke-width="4.2" stroke-linejoin="round"/>
<path d="M69.3 2254.8l1.7-.4 1.8 .2 1.8 1.6 1.7 2.3 1.8 2.9 1.8 2.7 1.7 .8 1.8-1.6 1.8 2.5 1.7 1.1 1.8-2.8 1.7-6.2 1.8-4.9 1.8-7.2 1.7-5 1.8-.1 1.8 .8 1.7 4.4 1.8 5.8 1.8 2.1 1.7 .5 1.8-.9 1.7-1.4 1.8 1.7 1.8-1.9 1.7 2.7 1.8-.8 1.8-4.7 1.7 1.7 1.8 .4 1.7 .4 1.8 2.2 1.8-1.3 1.7-5.7 1.8-.9 1.8-3.8 1.7-1 1.8-.5 1.8-.4 1.7 3.7 1.8-1.6 1.7-5.8 1.8-5.2 1.8-1.6 1.7-.4 1.8-1.5 1.8-3.5 1.7 3.8 1.8 2.6 1.8-1.1 1.7-3.3 1.8 0 1.7 .3 1.8 1 1.8-1.8 1.7-2.8 1.8 3.5 1.8 1.2 1.7-.4 1.8 1.8 1.7 1.5 1.8-3 1.8 .7 1.7 1.9 1.8-1.3 1.8 1.7 1.7 1.2 1.8 1.5 1.8-.4 1.7-1.1 1.8 1.9 1.7 1.5 1.8-1.9 1.8 .7 1.7 1.9 1.8 2.3 1.8 .7 1.7 2.2 1.8-1.7 1.8-2.8 1.7-.2 1.8 3 1.7 1.1 1.8 2.5 1.8-.9 1.7 1 1.8 2.7 1.8-4.6 1.7 2.3 1.8 1.5 1.7 .3 1.8 .5 1.8 1.4 1.7 2.2 1.8-.4" fill="none" stroke="#e8351a" stroke-width="4.2" stroke-linejoin="round"/>
<path d="M246.8 2291.8l1.7 1.4 1.8-1.4 1.7-1.1 1.8-.1 1.7 1.2 1.8 1.9 1.7 .1 1.8-1.6 1.7-.5 1.8-2.1 1.7 1.4 1.8 1.5 1.8-.7 1.7 1.1 1.8 1.6 1.7 1.9 1.8-.8 1.7 3.1 1.8-.9 1.7 1.2 1.8 .6 1.7-2.1 1.8 .1 1.7-2.1 1.8-3.3 1.7-6.6 1.8-2.9 1.7-4.9 1.8-2.7 1.8-3.7 1.7-3.9 1.8-5.7 1.7-2.6 1.8-3.1 1.7 .2 1.8-1.5 1.7 .3 1.8-.7 1.7-1.8 1.8-4.6 1.7-.8 1.8-2.3 1.7-4.4 1.8-1.6 1.8-5.4 1.7-3.3 1.8 .8 1.7 0 1.8-2.8 1.7-7.4 1.8-5.3 1.7-4.8 1.8-5.9 1.7-.5 1.8 .3 1.7-.2 1.8 1.6 1.7 1 1.8-2.9 1.8-1.9 1.7-.7 1.8 1 1.7 3.6 1.8 0 1.7-2.7 1.8 .6 1.7-2.8 1.8 1.1 1.7-3.2 1.8-3 1.7-3.4 1.8-3.9 1.7-3.4 1.8-2.3 1.7 .4 1.8 1.7 1.8 2.2 1.7 1.8 1.8-4.3 1.7-.9 1.8 1.8 1.7 1.9 1.8 1.5 1.7 3.7 1.8-.7 1.7 .7 1.8-3.7 1.7-1.3 1.8-1.6 1.7 .2 1.8 1.8 1.8-4.3 1.7-3.4 1.8 5.1 1.7 1.1 1.8 4.1 1.7-.5 1.8-2.9 1.7-.5 1.8 1.6 1.7 1.6 1.8-4.2 1.7-1.8 1.8 1.7 1.7 5.2 1.8 2.3 1.8 1.7 1.7 1.2 1.8-1.8 1.7 .6 1.8-1.7 1.7-1.5 1.8 7.2 1.7 6.4 1.8 4.3 1.7 5.9 1.8 2.2 1.7-1.4 1.8-1.2 1.7 .2 1.8-2.3 1.7-.4 1.8 1.1 1.8-.6 1.7 .4 1.8 .7 1.7-3.3 1.8-.5 1.7 2.6 1.8-2 1.7 1.2 1.8 .1 1.7 3.2 1.8 .3 1.7 5.4 1.8 1.2 1.7-.3 1.8 3 1.8 2.2 1.7 3.6 1.8 3.1 1.7 2.9 1.8 2.3 1.7 4.4 1.8 4.4 1.7 1.7 1.8 1.7 1.7-.4" fill="none" stroke="#e8351a" stroke-width="4.2" stroke-linejoin="round"/>
<rect x="208.4" y="2110.3" width="71.2" height="8.2" fill="#000"/>
<path d="M69.3 2108.5V2401.1H507.4" stroke="#000" stroke-width="3.8" fill="none" stroke-linejoin="miter"/>
<path d="M56.8 2110.3H69.3" stroke="#000" stroke-width="3.8"/>
<text x="52.7" y="2117.9" font-size="21.3" font-weight="bold" text-anchor="end">2</text>
<path d="M56.8 2182.9H69.3" stroke="#000" stroke-width="3.8"/>
<text x="52.7" y="2190.5" font-size="21.3" font-weight="bold" text-anchor="end">1</text>
<path d="M56.8 2255.8H69.3" stroke="#000" stroke-width="3.8"/>
<text x="52.7" y="2263.4" font-size="21.3" font-weight="bold" text-anchor="end">0</text>
<path d="M56.8 2328.5H69.3" stroke="#000" stroke-width="3.8"/>
<text x="52.7" y="2336.1" font-size="21.3" font-weight="bold" text-anchor="end">-1</text>
<path d="M56.8 2401.1H69.3" stroke="#000" stroke-width="3.8"/>
<text x="52.7" y="2408.7" font-size="21.3" font-weight="bold" text-anchor="end">-2</text>
<path d="M69.6 2401.1V2414.6" stroke="#000" stroke-width="3.8"/>
<text x="67.1" y="2438.8" font-size="21.3" font-weight="bold" text-anchor="middle">-6</text>
<path d="M114.7 2401.1V2414.6" stroke="#000" stroke-width="3.8"/>
<text x="112.2" y="2438.8" font-size="21.3" font-weight="bold" text-anchor="middle">-4</text>
<path d="M159.8 2401.1V2414.6" stroke="#000" stroke-width="3.8"/>
<text x="157.3" y="2438.8" font-size="21.3" font-weight="bold" text-anchor="middle">-2</text>
<path d="M204.9 2401.1V2414.6" stroke="#000" stroke-width="3.8"/>
<text x="204.9" y="2438.8" font-size="21.3" font-weight="bold" text-anchor="middle">0</text>
<path d="M280.1 2401.1V2414.6" stroke="#000" stroke-width="3.8"/>
<text x="280.1" y="2438.8" font-size="21.3" font-weight="bold" text-anchor="middle">0</text>
<path d="M325.2 2401.1V2414.6" stroke="#000" stroke-width="3.8"/>
<text x="325.2" y="2438.8" font-size="21.3" font-weight="bold" text-anchor="middle">2</text>
<path d="M370.3 2401.1V2414.6" stroke="#000" stroke-width="3.8"/>
<text x="370.3" y="2438.8" font-size="21.3" font-weight="bold" text-anchor="middle">4</text>
<path d="M415.4 2401.1V2414.6" stroke="#000" stroke-width="3.8"/>
<text x="415.4" y="2438.8" font-size="21.3" font-weight="bold" text-anchor="middle">6</text>
<path d="M460.5 2401.1V2414.6" stroke="#000" stroke-width="3.8"/>
<text x="460.5" y="2438.8" font-size="21.3" font-weight="bold" text-anchor="middle">8</text>
<path d="M505.6 2401.1V2414.6" stroke="#000" stroke-width="3.8"/>
<text x="505.6" y="2438.8" font-size="21.3" font-weight="bold" text-anchor="middle">10</text>
<path d="M92.1 2401.1V2409.1" stroke="#000" stroke-width="3.8"/>
<path d="M137.2 2401.1V2409.1" stroke="#000" stroke-width="3.8"/>
<path d="M182.3 2401.1V2409.1" stroke="#000" stroke-width="3.8"/>
<path d="M227.4 2401.1V2409.1" stroke="#000" stroke-width="3.8"/>
<path d="M257.6 2401.1V2409.1" stroke="#000" stroke-width="3.8"/>
<path d="M302.7 2401.1V2409.1" stroke="#000" stroke-width="3.8"/>
<path d="M347.8 2401.1V2409.1" stroke="#000" stroke-width="3.8"/>
<path d="M392.9 2401.1V2409.1" stroke="#000" stroke-width="3.8"/>
<path d="M438 2401.1V2409.1" stroke="#000" stroke-width="3.8"/>
<path d="M483.1 2401.1V2409.1" stroke="#000" stroke-width="3.8"/>
<text x="134.3" y="2098.6" font-size="20" font-weight="bold" text-anchor="middle">ITI</text>
<text x="243.8" y="2098.6" font-size="20" font-weight="bold" text-anchor="middle">Cue</text>
<text x="334.9" y="2098.6" font-size="20" font-weight="bold" text-anchor="middle">Outcome</text>
<text x="287.5" y="2467.1" font-size="23.3" font-weight="bold" text-anchor="middle">Time (sec)</text>
<text transform="translate(20.3 2255.8) rotate(-90)" font-size="23.3" font-weight="bold" text-anchor="middle">Z-Score</text>
<text x="233.3" y="2207.5" font-size="20">Response</text>
<path d="M280.1 2214.3V2227.6" stroke="#000" stroke-width="3.2" fill="none"/><path d="M272.5 2223.1L287.7 2223.1L280.1 2235.6Z" fill="#000"/>
<text x="157.1" y="2163" font-size="20">Trial onset</text>
<path d="M204.9 2173.3V2187.2" stroke="#000" stroke-width="3.2" fill="none"/><path d="M197.3 2182.7L212.5 2182.7L204.9 2195.2Z" fill="#000"/>
<text x="78.7" y="2372.4" font-size="23.6">n = 46 cells</text>
<path d="M404 2344H431.3" stroke="#4655b5" stroke-width="4"/>
<text x="443.9" y="2350.6" font-size="19">Correct</text>
<path d="M404 2375.9H431.3" stroke="#e8351a" stroke-width="4"/>
<text x="443.9" y="2382.5" font-size="19">Error</text>
<path d="M595.8 1264.9H849.7" stroke="#000" stroke-width="4" stroke-dasharray="0 11.42" stroke-linecap="round" fill="none"/>
<path d="M607.4 1215.1V1239M607.4 1280.2V1289.3M601.6 1215.1H613.2M601.6 1289.3H613.2" stroke="#000" stroke-width="3.5" stroke-linecap="round" fill="none"/>
<rect x="598.4" y="1239.9" width="18" height="39.4" fill="#5b9bd5" stroke="#000" stroke-width="3.5"/>
<path d="M597.9 1258H616.8" stroke="#000" stroke-width="3.5"/>
<path d="M641.9 1208.8V1259.4M641.9 1315.5V1323.6M636.1 1208.8H647.7M636.1 1323.6H647.7" stroke="#000" stroke-width="3.5" stroke-linecap="round" fill="none"/>
<rect x="632.7" y="1260.3" width="18.4" height="54.2" fill="#e03214" stroke="#000" stroke-width="3.5"/>
<path d="M632.3 1284.2H651.6" stroke="#000" stroke-width="3.5"/>
<path d="M699.5 1225V1242.9M699.5 1283V1294.6M693.7 1225H705.3M693.7 1294.6H705.3" stroke="#000" stroke-width="3.5" stroke-linecap="round" fill="none"/>
<rect x="690.4" y="1243.8" width="18.2" height="38.2" fill="#5b9bd5" stroke="#000" stroke-width="3.5"/>
<path d="M690 1254H709.1" stroke="#000" stroke-width="3.5"/>
<path d="M734.1 1253.3V1269.1M734.1 1299.9V1319.4M728.3 1253.3H739.9M728.3 1319.4H739.9" stroke="#000" stroke-width="3.5" stroke-linecap="round" fill="none"/>
<rect x="724.7" y="1270" width="18.7" height="28.9" fill="#e03214" stroke="#000" stroke-width="3.5"/>
<path d="M724.3 1288.8H743.9" stroke="#000" stroke-width="3.5"/>
<path d="M792.2 1175.9V1193.3M792.2 1228.1V1252.9M786.4 1175.9H798M786.4 1252.9H798" stroke="#000" stroke-width="3.5" stroke-linecap="round" fill="none"/>
<rect x="783.2" y="1194.2" width="18" height="32.9" fill="#5b9bd5" stroke="#000" stroke-width="3.5"/>
<path d="M782.7 1210H801.6" stroke="#000" stroke-width="3.5"/>
<path d="M826.2 1248.2V1275.4M826.2 1316.2V1327.8M820.4 1248.2H832M820.4 1327.8H832" stroke="#000" stroke-width="3.5" stroke-linecap="round" fill="none"/>
<rect x="817" y="1276.3" width="18.4" height="38.9" fill="#e03214" stroke="#000" stroke-width="3.5"/>
<path d="M816.6 1297.4H835.9" stroke="#000" stroke-width="3.5"/>
<path d="M584.2 1103.7V1371.1H849.7" stroke="#000" stroke-width="3.8" fill="none"/>
<path d="M572.7 1105.6H584.2" stroke="#000" stroke-width="3.8"/>
<text x="568.4" y="1112.5" font-size="19.3" font-weight="bold" text-anchor="end">3</text>
<path d="M572.7 1158.7H584.2" stroke="#000" stroke-width="3.8"/>
<text x="568.4" y="1165.6" font-size="19.3" font-weight="bold" text-anchor="end">2</text>
<path d="M572.7 1211.8H584.2" stroke="#000" stroke-width="3.8"/>
<text x="568.4" y="1218.7" font-size="19.3" font-weight="bold" text-anchor="end">1</text>
<path d="M572.7 1264.9H584.2" stroke="#000" stroke-width="3.8"/>
<text x="568.4" y="1271.8" font-size="19.3" font-weight="bold" text-anchor="end">0</text>
<path d="M572.7 1318H584.2" stroke="#000" stroke-width="3.8"/>
<text x="568.4" y="1324.9" font-size="19.3" font-weight="bold" text-anchor="end">-1</text>
<path d="M572.7 1371.1H584.2" stroke="#000" stroke-width="3.8"/>
<text x="568.4" y="1378" font-size="19.3" font-weight="bold" text-anchor="end">-2</text>
<path d="M624.8 1371.1V1382.6" stroke="#000" stroke-width="3.8"/>
<text x="624.8" y="1404.6" font-size="20.2" font-weight="bold" text-anchor="middle">ITI</text>
<path d="M717 1371.1V1382.6" stroke="#000" stroke-width="3.8"/>
<text x="717" y="1404.6" font-size="20.2" font-weight="bold" text-anchor="middle">Cue</text>
<path d="M809.1 1371.1V1382.6" stroke="#000" stroke-width="3.8"/>
<text x="809.1" y="1404.6" font-size="20.2" font-weight="bold" text-anchor="middle">Outcome</text>
<text transform="translate(538.6 1237.9) rotate(-90)" font-size="21.3" font-weight="bold" text-anchor="middle">Averaged Z-Score</text>
<text x="606.6" y="1115.6" font-size="23.5">n = 44</text>
<rect x="760" y="1068.2" width="23.2" height="11.8" fill="#5b9bd5" stroke="#000" stroke-width="3"/>
<text x="797.8" y="1080.2" font-size="18.6">Correct</text>
<rect x="760" y="1100.2" width="23.2" height="11.8" fill="#e03214" stroke="#000" stroke-width="3"/>
<text x="797.8" y="1112.2" font-size="18.6">Error</text>
<path d="M611.3 1194.2H642.9" stroke="#000" stroke-width="3.3" stroke-linecap="round"/>
<text x="625.9" y="1188.4" font-size="21.3" text-anchor="middle">***</text>
<path d="M701.7 1201.9H732.8" stroke="#000" stroke-width="3.3" stroke-linecap="round"/>
<text x="717" y="1196.5" font-size="21.3" text-anchor="middle">***</text>
<path d="M793.3 1159.7H824.9" stroke="#000" stroke-width="3.3" stroke-linecap="round"/>
<text x="807.9" y="1155.5" font-size="21.3" text-anchor="middle">***</text>
<path d="M1501.6 1265H1754.9" stroke="#000" stroke-width="4" stroke-dasharray="0 11.42" stroke-linecap="round" fill="none"/>
<path d="M1513.1 1194.9V1217.1M1513.1 1257.3V1288.8M1507.3 1194.9H1518.9M1507.3 1288.8H1518.9" stroke="#000" stroke-width="3.5" stroke-linecap="round" fill="none"/>
<rect x="1503.9" y="1218" width="18.4" height="38.4" fill="#5b9bd5" stroke="#000" stroke-width="3.5"/>
<path d="M1503.5 1233.3H1522.7" stroke="#000" stroke-width="3.5"/>
<path d="M1547.4 1164.3V1213M1547.4 1276.4V1302.8M1541.6 1164.3H1553.2M1541.6 1302.8H1553.2" stroke="#000" stroke-width="3.5" stroke-linecap="round" fill="none"/>
<rect x="1538.1" y="1213.9" width="18.6" height="61.5" fill="#e03214" stroke="#000" stroke-width="3.5"/>
<path d="M1537.6 1245.1H1557.2" stroke="#000" stroke-width="3.5"/>
<path d="M1605 1206.9V1222M1605 1263.9V1280.4M1599.2 1206.9H1610.8M1599.2 1280.4H1610.8" stroke="#000" stroke-width="3.5" stroke-linecap="round" fill="none"/>
<rect x="1595.8" y="1223" width="18.4" height="40" fill="#5b9bd5" stroke="#000" stroke-width="3.5"/>
<path d="M1595.4 1242.4H1614.6" stroke="#000" stroke-width="3.5"/>
<path d="M1639.5 1207.8V1230M1639.5 1276.8V1288.8M1633.7 1207.8H1645.3M1633.7 1288.8H1645.3" stroke="#000" stroke-width="3.5" stroke-linecap="round" fill="none"/>
<rect x="1630.2" y="1230.9" width="18.6" height="45" fill="#e03214" stroke="#000" stroke-width="3.5"/>
<path d="M1629.8 1252.6H1649.3" stroke="#000" stroke-width="3.5"/>
<path d="M1697.5 1231.1V1254.9M1697.5 1291.5V1306.9M1691.7 1231.1H1703.3M1691.7 1306.9H1703.3" stroke="#000" stroke-width="3.5" stroke-linecap="round" fill="none"/>
<rect x="1688.4" y="1255.8" width="18.2" height="34.8" fill="#5b9bd5" stroke="#000" stroke-width="3.5"/>
<path d="M1687.9 1274.1H1707" stroke="#000" stroke-width="3.5"/>
<path d="M1731.8 1260.5V1280.9M1731.8 1318.2V1328.4M1726 1260.5H1737.6M1726 1328.4H1737.6" stroke="#000" stroke-width="3.5" stroke-linecap="round" fill="none"/>
<rect x="1722.4" y="1281.8" width="18.8" height="35.4" fill="#e03214" stroke="#000" stroke-width="3.5"/>
<path d="M1721.9 1306.9H1741.6" stroke="#000" stroke-width="3.5"/>
<path d="M1490 1103.8V1371H1754.9" stroke="#000" stroke-width="3.8" fill="none"/>
<path d="M1478.5 1105.7H1490" stroke="#000" stroke-width="3.8"/>
<text x="1474.2" y="1112.6" font-size="19.3" font-weight="bold" text-anchor="end">3</text>
<path d="M1478.5 1158.7H1490" stroke="#000" stroke-width="3.8"/>
<text x="1474.2" y="1165.6" font-size="19.3" font-weight="bold" text-anchor="end">2</text>
<path d="M1478.5 1211.8H1490" stroke="#000" stroke-width="3.8"/>
<text x="1474.2" y="1218.7" font-size="19.3" font-weight="bold" text-anchor="end">1</text>
<path d="M1478.5 1264.9H1490" stroke="#000" stroke-width="3.8"/>
<text x="1474.2" y="1271.8" font-size="19.3" font-weight="bold" text-anchor="end">0</text>
<path d="M1478.5 1317.9H1490" stroke="#000" stroke-width="3.8"/>
<text x="1474.2" y="1324.8" font-size="19.3" font-weight="bold" text-anchor="end">-1</text>
<path d="M1478.5 1371H1490" stroke="#000" stroke-width="3.8"/>
<text x="1474.2" y="1377.9" font-size="19.3" font-weight="bold" text-anchor="end">-2</text>
<path d="M1530.3 1371V1382.5" stroke="#000" stroke-width="3.8"/>
<text x="1530.3" y="1404.5" font-size="20.2" font-weight="bold" text-anchor="middle">ITI</text>
<path d="M1622 1371V1382.5" stroke="#000" stroke-width="3.8"/>
<text x="1622" y="1404.5" font-size="20.2" font-weight="bold" text-anchor="middle">Cue</text>
<path d="M1714.3 1371V1382.5" stroke="#000" stroke-width="3.8"/>
<text x="1714.3" y="1404.5" font-size="20.2" font-weight="bold" text-anchor="middle">Outcome</text>
<text transform="translate(1444.4 1237.8) rotate(-90)" font-size="21.3" font-weight="bold" text-anchor="middle">Averaged Z-Score</text>
<text x="1513" y="1097.1" font-size="23.5">n = 71</text>
<rect x="1662.6" y="1076.9" width="23.2" height="11.8" fill="#5b9bd5" stroke="#000" stroke-width="3"/>
<text x="1700.4" y="1088.9" font-size="18.6">Correct</text>
<rect x="1662.6" y="1108.5" width="23.2" height="11.8" fill="#e03214" stroke="#000" stroke-width="3"/>
<text x="1700.4" y="1120.5" font-size="18.6">Error</text>
<path d="M1517.2 1150.7H1548" stroke="#000" stroke-width="3.3" stroke-linecap="round"/>
<text x="1535.3" y="1136.7" font-size="20.8" text-anchor="middle">n.s.</text>
<path d="M1607.7 1165.4H1638.5" stroke="#000" stroke-width="3.3" stroke-linecap="round"/>
<text x="1623.1" y="1151" font-size="20.8" text-anchor="middle">n.s.</text>
<path d="M1699 1213.4H1730.2" stroke="#000" stroke-width="3.3" stroke-linecap="round"/>
<text x="1713.2" y="1209.7" font-size="21.3" text-anchor="middle">***</text>
<path d="M594.2 1758.6H847.3" stroke="#000" stroke-width="4" stroke-dasharray="0 11.42" stroke-linecap="round" fill="none"/>
<path d="M605.9 1721.5V1735.7M605.9 1776.7V1794.1M600.1 1721.5H611.7M600.1 1794.1H611.7" stroke="#000" stroke-width="3.5" stroke-linecap="round" fill="none"/>
<rect x="596.5" y="1736.6" width="18.7" height="39.1" fill="#5b9bd5" stroke="#000" stroke-width="3.5"/>
<path d="M596.1 1758.8H615.6" stroke="#000" stroke-width="3.5"/>
<path d="M640.4 1738.9V1755.4M640.4 1778.5V1821.2M634.6 1738.9H646.2M634.6 1821.2H646.2" stroke="#000" stroke-width="3.5" stroke-linecap="round" fill="none"/>
<rect x="631.3" y="1756.3" width="18.2" height="21.3" fill="#e03214" stroke="#000" stroke-width="3.5"/>
<path d="M630.9 1768.6H650" stroke="#000" stroke-width="3.5"/>
<path d="M698.1 1689.7V1712.9M698.1 1747.2V1754M692.3 1689.7H703.9M692.3 1754H703.9" stroke="#000" stroke-width="3.5" stroke-linecap="round" fill="none"/>
<rect x="688.8" y="1713.9" width="18.7" height="32.4" fill="#5b9bd5" stroke="#000" stroke-width="3.5"/>
<path d="M688.4 1737.3H707.9" stroke="#000" stroke-width="3.5"/>
<path d="M732.3 1694.8V1723.4M732.3 1774.4V1794.1M726.5 1694.8H738.1M726.5 1794.1H738.1" stroke="#000" stroke-width="3.5" stroke-linecap="round" fill="none"/>
<rect x="723.1" y="1724.3" width="18.4" height="49.1" fill="#e03214" stroke="#000" stroke-width="3.5"/>
<path d="M722.7 1748.9H742" stroke="#000" stroke-width="3.5"/>
<path d="M790.3 1696V1736.8M790.3 1765.1V1779M784.5 1696H796.1M784.5 1779H796.1" stroke="#000" stroke-width="3.5" stroke-linecap="round" fill="none"/>
<rect x="781.1" y="1737.8" width="18.4" height="26.4" fill="#5b9bd5" stroke="#000" stroke-width="3.5"/>
<path d="M780.6 1749.6H800" stroke="#000" stroke-width="3.5"/>
<path d="M825.1 1677.5V1699M825.1 1749.3V1762.1M819.3 1677.5H830.9M819.3 1762.1H830.9" stroke="#000" stroke-width="3.5" stroke-linecap="round" fill="none"/>
<rect x="815.9" y="1700" width="18.4" height="48.4" fill="#e03214" stroke="#000" stroke-width="3.5"/>
<path d="M815.4 1716.9H834.7" stroke="#000" stroke-width="3.5"/>
<path d="M582.6 1597.9V1864.8H847.3" stroke="#000" stroke-width="3.8" fill="none"/>
<path d="M571.1 1599.8H582.6" stroke="#000" stroke-width="3.8"/>
<text x="566.8" y="1606.7" font-size="19.3" font-weight="bold" text-anchor="end">3</text>
<path d="M571.1 1652.8H582.6" stroke="#000" stroke-width="3.8"/>
<text x="566.8" y="1659.7" font-size="19.3" font-weight="bold" text-anchor="end">2</text>
<path d="M571.1 1705.8H582.6" stroke="#000" stroke-width="3.8"/>
<text x="566.8" y="1712.7" font-size="19.3" font-weight="bold" text-anchor="end">1</text>
<path d="M571.1 1758.8H582.6" stroke="#000" stroke-width="3.8"/>
<text x="566.8" y="1765.7" font-size="19.3" font-weight="bold" text-anchor="end">0</text>
<path d="M571.1 1811.8H582.6" stroke="#000" stroke-width="3.8"/>
<text x="566.8" y="1818.7" font-size="19.3" font-weight="bold" text-anchor="end">-1</text>
<path d="M571.1 1864.8H582.6" stroke="#000" stroke-width="3.8"/>
<text x="566.8" y="1871.7" font-size="19.3" font-weight="bold" text-anchor="end">-2</text>
<path d="M623.1 1864.8V1876.3" stroke="#000" stroke-width="3.8"/>
<text x="623.1" y="1898.3" font-size="20.2" font-weight="bold" text-anchor="middle">ITI</text>
<path d="M715.2 1864.8V1876.3" stroke="#000" stroke-width="3.8"/>
<text x="715.2" y="1898.3" font-size="20.2" font-weight="bold" text-anchor="middle">Cue</text>
<path d="M807.5 1864.8V1876.3" stroke="#000" stroke-width="3.8"/>
<text x="807.5" y="1898.3" font-size="20.2" font-weight="bold" text-anchor="middle">Outcome</text>
<text transform="translate(537 1731.8) rotate(-90)" font-size="21.3" font-weight="bold" text-anchor="middle">Averaged Z-Score</text>
<text x="606.6" y="1607.4" font-size="23.5">n = 22</text>
<rect x="755.6" y="1577.2" width="23.2" height="11.8" fill="#5b9bd5" stroke="#000" stroke-width="3"/>
<text x="793.4" y="1589.2" font-size="18.6">Correct</text>
<rect x="755.6" y="1608.9" width="23.2" height="11.8" fill="#e03214" stroke="#000" stroke-width="3"/>
<text x="793.4" y="1620.9" font-size="18.6">Error</text>
<path d="M610.1 1704.8H641" stroke="#000" stroke-width="3.3" stroke-linecap="round"/>
<text x="624.8" y="1690.9" font-size="20.8" text-anchor="middle">n.s.</text>
<path d="M700.6 1677.7H731.4" stroke="#000" stroke-width="3.3" stroke-linecap="round"/>
<text x="715.9" y="1661.9" font-size="20.8" text-anchor="middle">n.s.</text>
<path d="M785.9 1664.7H816.8" stroke="#000" stroke-width="3.3" stroke-linecap="round"/>
<text x="800.5" y="1660.7" font-size="21.3" text-anchor="middle">**</text>
<path d="M1501.6 1759.2H1754.9" stroke="#000" stroke-width="4" stroke-dasharray="0 11.42" stroke-linecap="round" fill="none"/>
<path d="M1513 1721V1736.1M1513 1764.4V1775.8M1507.2 1721H1518.8M1507.2 1775.8H1518.8" stroke="#000" stroke-width="3.5" stroke-linecap="round" fill="none"/>
<rect x="1503.9" y="1737.1" width="18.2" height="26.4" fill="#5b9bd5" stroke="#000" stroke-width="3.5"/>
<path d="M1503.5 1753.1H1522.5" stroke="#000" stroke-width="3.5"/>
<path d="M1547.6 1668.7V1695.8M1547.6 1751.3V1773.5M1541.8 1668.7H1553.4M1541.8 1773.5H1553.4" stroke="#000" stroke-width="3.5" stroke-linecap="round" fill="none"/>
<rect x="1538.6" y="1696.8" width="18.2" height="53.6" fill="#e03214" stroke="#000" stroke-width="3.5"/>
<path d="M1538.1 1726H1557.2" stroke="#000" stroke-width="3.5"/>
<path d="M1605 1724.1V1751.3M1605 1776.9V1791.6M1599.2 1724.1H1610.8M1599.2 1791.6H1610.8" stroke="#000" stroke-width="3.5" stroke-linecap="round" fill="none"/>
<rect x="1595.8" y="1752.3" width="18.4" height="23.7" fill="#5b9bd5" stroke="#000" stroke-width="3.5"/>
<path d="M1595.4 1766H1614.6" stroke="#000" stroke-width="3.5"/>
<path d="M1639.5 1697.2V1714.6M1639.5 1753.1V1766.7M1633.7 1697.2H1645.3M1633.7 1766.7H1645.3" stroke="#000" stroke-width="3.5" stroke-linecap="round" fill="none"/>
<rect x="1630.2" y="1715.6" width="18.6" height="36.6" fill="#e03214" stroke="#000" stroke-width="3.5"/>
<path d="M1629.8 1738H1649.3" stroke="#000" stroke-width="3.5"/>
<path d="M1697.5 1780.3V1796.1M1697.5 1821.5V1843.7M1691.7 1780.3H1703.3M1691.7 1843.7H1703.3" stroke="#000" stroke-width="3.5" stroke-linecap="round" fill="none"/>
<rect x="1688.4" y="1797.1" width="18.2" height="23.5" fill="#5b9bd5" stroke="#000" stroke-width="3.5"/>
<path d="M1687.9 1804H1707" stroke="#000" stroke-width="3.5"/>
<path d="M1731.7 1692V1711.9M1731.7 1759.5V1779.1M1725.9 1692H1737.5M1725.9 1779.1H1737.5" stroke="#000" stroke-width="3.5" stroke-linecap="round" fill="none"/>
<rect x="1722.4" y="1712.9" width="18.6" height="45.6" fill="#e03214" stroke="#000" stroke-width="3.5"/>
<path d="M1721.9 1744.7H1741.4" stroke="#000" stroke-width="3.5"/>
<path d="M1490 1598V1865.2H1754.9" stroke="#000" stroke-width="3.8" fill="none"/>
<path d="M1478.5 1599.9H1490" stroke="#000" stroke-width="3.8"/>
<text x="1474.2" y="1606.8" font-size="19.3" font-weight="bold" text-anchor="end">3</text>
<path d="M1478.5 1652.9H1490" stroke="#000" stroke-width="3.8"/>
<text x="1474.2" y="1659.8" font-size="19.3" font-weight="bold" text-anchor="end">2</text>
<path d="M1478.5 1706H1490" stroke="#000" stroke-width="3.8"/>
<text x="1474.2" y="1712.9" font-size="19.3" font-weight="bold" text-anchor="end">1</text>
<path d="M1478.5 1759H1490" stroke="#000" stroke-width="3.8"/>
<text x="1474.2" y="1765.9" font-size="19.3" font-weight="bold" text-anchor="end">0</text>
<path d="M1478.5 1812.1H1490" stroke="#000" stroke-width="3.8"/>
<text x="1474.2" y="1819" font-size="19.3" font-weight="bold" text-anchor="end">-1</text>
<path d="M1478.5 1865.2H1490" stroke="#000" stroke-width="3.8"/>
<text x="1474.2" y="1872.1" font-size="19.3" font-weight="bold" text-anchor="end">-2</text>
<path d="M1530.3 1865.2V1876.7" stroke="#000" stroke-width="3.8"/>
<text x="1530.3" y="1898.7" font-size="20.2" font-weight="bold" text-anchor="middle">ITI</text>
<path d="M1622 1865.2V1876.7" stroke="#000" stroke-width="3.8"/>
<text x="1622" y="1898.7" font-size="20.2" font-weight="bold" text-anchor="middle">Cue</text>
<path d="M1714.3 1865.2V1876.7" stroke="#000" stroke-width="3.8"/>
<text x="1714.3" y="1898.7" font-size="20.2" font-weight="bold" text-anchor="middle">Outcome</text>
<text transform="translate(1444.4 1732) rotate(-90)" font-size="21.3" font-weight="bold" text-anchor="middle">Averaged Z-Score</text>
<text x="1513" y="1595.3" font-size="23.5">n = 76</text>
<rect x="1662.6" y="1567.9" width="23.2" height="11.8" fill="#5b9bd5" stroke="#000" stroke-width="3"/>
<text x="1700.4" y="1579.9" font-size="18.6">Correct</text>
<rect x="1662.6" y="1599.6" width="23.2" height="11.8" fill="#e03214" stroke="#000" stroke-width="3"/>
<text x="1700.4" y="1611.6" font-size="18.6">Error</text>
<path d="M1517.2 1655.8H1548" stroke="#000" stroke-width="3.3" stroke-linecap="round"/>
<text x="1533" y="1651.6" font-size="21.3" text-anchor="middle">***</text>
<path d="M1607.3 1678H1638.5" stroke="#000" stroke-width="3.3" stroke-linecap="round"/>
<text x="1623.1" y="1673.8" font-size="21.3" text-anchor="middle">***</text>
<path d="M1692.2 1676.2H1723.4" stroke="#000" stroke-width="3.3" stroke-linecap="round"/>
<text x="1706.4" y="1672" font-size="21.3" text-anchor="middle">***</text>
<path d="M594.2 2253.4H847.3" stroke="#000" stroke-width="4" stroke-dasharray="0 11.42" stroke-linecap="round" fill="none"/>
<path d="M605.9 2227.6V2241.5M605.9 2270.5V2284M600.1 2227.6H611.7M600.1 2284H611.7" stroke="#000" stroke-width="3.5" stroke-linecap="round" fill="none"/>
<rect x="596.5" y="2242.5" width="18.7" height="27.1" fill="#5b9bd5" stroke="#000" stroke-width="3.5"/>
<path d="M596.1 2259.4H615.6" stroke="#000" stroke-width="3.5"/>
<path d="M640.4 2168.5V2195.6M640.4 2277V2304.6M634.6 2168.5H646.2M634.6 2304.6H646.2" stroke="#000" stroke-width="3.5" stroke-linecap="round" fill="none"/>
<rect x="631.3" y="2196.6" width="18.2" height="79.5" fill="#e03214" stroke="#000" stroke-width="3.5"/>
<path d="M630.9 2252H650" stroke="#000" stroke-width="3.5"/>
<path d="M698.1 2249V2265.4M698.1 2289.1V2303.5M692.3 2249H703.9M692.3 2303.5H703.9" stroke="#000" stroke-width="3.5" stroke-linecap="round" fill="none"/>
<rect x="688.8" y="2266.4" width="18.7" height="21.7" fill="#5b9bd5" stroke="#000" stroke-width="3.5"/>
<path d="M688.4 2278.6H707.9" stroke="#000" stroke-width="3.5"/>
<path d="M732.3 2230.4V2243.9M732.3 2276.3V2309.9M726.5 2230.4H738.1M726.5 2309.9H738.1" stroke="#000" stroke-width="3.5" stroke-linecap="round" fill="none"/>
<rect x="723.1" y="2244.8" width="18.4" height="30.6" fill="#e03214" stroke="#000" stroke-width="3.5"/>
<path d="M722.7 2263.6H742" stroke="#000" stroke-width="3.5"/>
<path d="M790.3 2221.1V2262.4M790.3 2291.9V2306M784.5 2221.1H796.1M784.5 2306H796.1" stroke="#000" stroke-width="3.5" stroke-linecap="round" fill="none"/>
<rect x="781.1" y="2263.4" width="18.4" height="27.5" fill="#5b9bd5" stroke="#000" stroke-width="3.5"/>
<path d="M780.6 2281H800" stroke="#000" stroke-width="3.5"/>
<path d="M825.1 2167.4V2214.9M825.1 2261.3V2276.8M819.3 2167.4H830.9M819.3 2276.8H830.9" stroke="#000" stroke-width="3.5" stroke-linecap="round" fill="none"/>
<rect x="815.9" y="2215.8" width="18.4" height="44.5" fill="#e03214" stroke="#000" stroke-width="3.5"/>
<path d="M815.4 2236.9H834.7" stroke="#000" stroke-width="3.5"/>
<path d="M582.6 2092.9V2359.8H847.3" stroke="#000" stroke-width="3.8" fill="none"/>
<path d="M571.1 2094.8H582.6" stroke="#000" stroke-width="3.8"/>
<text x="566.8" y="2101.7" font-size="19.3" font-weight="bold" text-anchor="end">3</text>
<path d="M571.1 2147.8H582.6" stroke="#000" stroke-width="3.8"/>
<text x="566.8" y="2154.7" font-size="19.3" font-weight="bold" text-anchor="end">2</text>
<path d="M571.1 2200.8H582.6" stroke="#000" stroke-width="3.8"/>
<text x="566.8" y="2207.7" font-size="19.3" font-weight="bold" text-anchor="end">1</text>
<path d="M571.1 2253.8H582.6" stroke="#000" stroke-width="3.8"/>
<text x="566.8" y="2260.7" font-size="19.3" font-weight="bold" text-anchor="end">0</text>
<path d="M571.1 2306.8H582.6" stroke="#000" stroke-width="3.8"/>
<text x="566.8" y="2313.7" font-size="19.3" font-weight="bold" text-anchor="end">-1</text>
<path d="M571.1 2359.8H582.6" stroke="#000" stroke-width="3.8"/>
<text x="566.8" y="2366.7" font-size="19.3" font-weight="bold" text-anchor="end">-2</text>
<path d="M623.1 2359.8V2371.3" stroke="#000" stroke-width="3.8"/>
<text x="623.1" y="2393.3" font-size="20.2" font-weight="bold" text-anchor="middle">ITI</text>
<path d="M715.2 2359.8V2371.3" stroke="#000" stroke-width="3.8"/>
<text x="715.2" y="2393.3" font-size="20.2" font-weight="bold" text-anchor="middle">Cue</text>
<path d="M807.5 2359.8V2371.3" stroke="#000" stroke-width="3.8"/>
<text x="807.5" y="2393.3" font-size="20.2" font-weight="bold" text-anchor="middle">Outcome</text>
<text transform="translate(537 2226.8) rotate(-90)" font-size="21.3" font-weight="bold" text-anchor="middle">Averaged Z-Score</text>
<text x="606.6" y="2083.9" font-size="23.5">n = 46</text>
<rect x="771.9" y="2066.1" width="23.2" height="11.8" fill="#5b9bd5" stroke="#000" stroke-width="3"/>
<text x="809.7" y="2078.1" font-size="18.6">Correct</text>
<rect x="771.9" y="2098.1" width="23.2" height="11.8" fill="#e03214" stroke="#000" stroke-width="3"/>
<text x="809.7" y="2110.1" font-size="18.6">Error</text>
<path d="M610.1 2153.4H641" stroke="#000" stroke-width="3.3" stroke-linecap="round"/>
<text x="625.2" y="2140.2" font-size="20.8" text-anchor="middle">n.s.</text>
<path d="M700.1 2153H731.4" stroke="#000" stroke-width="3.3" stroke-linecap="round"/>
<text x="715.2" y="2140.2" font-size="20.8" text-anchor="middle">n.s.</text>
<path d="M789.1 2153H820.2" stroke="#000" stroke-width="3.3" stroke-linecap="round"/>
<text x="802.6" y="2148.8" font-size="21.3" text-anchor="middle">***</text>
<text x="286" y="1043.7" font-size="33.5" font-weight="bold" text-anchor="middle">D1-Type I</text>
<text x="1186" y="1043.7" font-size="33.5" font-weight="bold" text-anchor="middle">D1-Type II</text>
<text x="283.5" y="1538.8" font-size="33.5" font-weight="bold" text-anchor="middle">D1-Type III</text>
<text x="1185" y="1536.6" font-size="33.5" font-weight="bold" text-anchor="middle">D1-Type IV</text>
<text x="283" y="2034.6" font-size="33.5" font-weight="bold" text-anchor="middle">D1-Type V</text>
<text x="-1.5" y="46" font-size="39.7" font-weight="bold" fill="#111">a</text>
<text x="460.7" y="46" font-size="39.7" font-weight="bold" fill="#fff">b</text>
<text x="809" y="46.4" font-size="39.7" font-weight="bold" fill="#fff">c</text>
<text x="1174.5" y="46" font-size="39.7" font-weight="bold" fill="#111">d</text>
<text x="-1.5" y="480.8" font-size="39.7" font-weight="bold" fill="#111">e</text>
<text x="1279" y="480.5" font-size="39.7" font-weight="bold" fill="#111">f</text>
<text x="-1.5" y="1043.8" font-size="39.7" font-weight="bold" fill="#111">g</text>
<text x="906.5" y="1045.3" font-size="39.7" font-weight="bold" fill="#111">h</text>
<text x="-1" y="1537.3" font-size="39.7" font-weight="bold" fill="#111">i</text>
<text x="910" y="1534.8" font-size="39.7" font-weight="bold" fill="#111">j</text>
<text x="-1" y="2033.8" font-size="39.7" font-weight="bold" fill="#111">k</text>
</svg>
</div></body></html>
